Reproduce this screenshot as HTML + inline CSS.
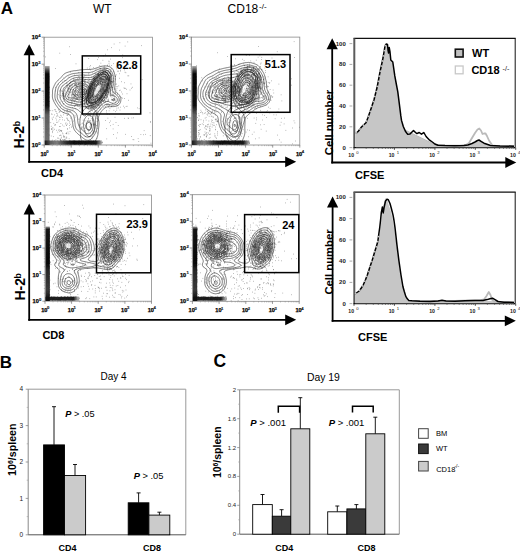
<!DOCTYPE html>
<html><head><meta charset="utf-8"><title>Figure</title>
<style>html,body{margin:0;padding:0;background:#fff;width:520px;height:552px;overflow:hidden}svg{display:block;font-family:"Liberation Sans",sans-serif}</style>
</head><body>
<svg width="520" height="552" viewBox="0 0 520 552" font-family="Liberation Sans">
<rect x="0" y="0" width="520" height="552" fill="#fff"/>
<text x="0.8" y="13.7" font-size="17" font-weight="bold">A</text>
<text x="93" y="12.6" font-size="12">WT</text>
<text x="227.6" y="13.4" font-size="12">CD18</text>
<text x="259" y="9.3" font-size="8">-/-</text>
<clipPath id="cp1"><rect x="44.2" y="37.2" width="108.2" height="107.8"/></clipPath>
<clipPath id="cp2"><rect x="191.4" y="37.1" width="108.4" height="107.9"/></clipPath>
<clipPath id="cp3"><rect x="45" y="195" width="106.5" height="106.2"/></clipPath>
<clipPath id="cp4"><rect x="192.4" y="194.7" width="106.8" height="106.6"/></clipPath>
<defs><linearGradient id="vb1" x1="0" y1="0" x2="0" y2="1"><stop offset="0" stop-color="#aaa"/><stop offset="0.06" stop-color="#333"/><stop offset="0.1" stop-color="#000"/><stop offset="0.5" stop-color="#080808"/><stop offset="0.56" stop-color="#333"/><stop offset="0.62" stop-color="#5a5a5a"/><stop offset="0.95" stop-color="#666"/><stop offset="1" stop-color="#222"/></linearGradient><linearGradient id="hb1" x1="0" y1="0" x2="1" y2="0"><stop offset="0" stop-color="#111"/><stop offset="0.1" stop-color="#555"/><stop offset="0.22" stop-color="#777"/><stop offset="0.38" stop-color="#222"/><stop offset="0.5" stop-color="#000"/><stop offset="0.9" stop-color="#0a0a0a"/><stop offset="1" stop-color="#aaa"/></linearGradient><linearGradient id="vb2" x1="0" y1="0" x2="0" y2="1"><stop offset="0" stop-color="#999"/><stop offset="0.04" stop-color="#111"/><stop offset="0.5" stop-color="#000"/><stop offset="0.6" stop-color="#222"/><stop offset="0.85" stop-color="#333"/><stop offset="1" stop-color="#000"/></linearGradient><linearGradient id="hb2" x1="0" y1="0" x2="1" y2="0"><stop offset="0" stop-color="#111"/><stop offset="0.85" stop-color="#111"/><stop offset="1" stop-color="#bbb"/></linearGradient></defs>
<line x1="29.2" y1="52.2" x2="29.2" y2="162.7" stroke="#000" stroke-width="1.8"/>
<line x1="28.3" y1="161.8" x2="287.2" y2="161.8" stroke="#000" stroke-width="1.8"/>
<path d="M29.2 44.2 L23.6 55.2 L34.8 55.2" fill="#000" stroke="none"/>
<path d="M296.2 161.8 L285.2 156.4 L285.2 167.2" fill="#000" stroke="none"/>
<rect x="44.2" y="37.2" width="108.2" height="107.8" fill="none" stroke="#8a8a8a" stroke-width="0.8"/>
<line x1="41.6" y1="145" x2="44.2" y2="145" stroke="#555" stroke-width="0.6"/>
<line x1="44.2" y1="145" x2="44.2" y2="147.6" stroke="#555" stroke-width="0.6"/>
<line x1="43" y1="136.9" x2="44.2" y2="136.9" stroke="#777" stroke-width="0.4"/>
<line x1="52.3" y1="145" x2="52.3" y2="146.2" stroke="#777" stroke-width="0.4"/>
<line x1="43" y1="132.1" x2="44.2" y2="132.1" stroke="#777" stroke-width="0.4"/>
<line x1="57.1" y1="145" x2="57.1" y2="146.2" stroke="#777" stroke-width="0.4"/>
<line x1="43" y1="128.8" x2="44.2" y2="128.8" stroke="#777" stroke-width="0.4"/>
<line x1="60.5" y1="145" x2="60.5" y2="146.2" stroke="#777" stroke-width="0.4"/>
<line x1="43" y1="126.2" x2="44.2" y2="126.2" stroke="#777" stroke-width="0.4"/>
<line x1="63.1" y1="145" x2="63.1" y2="146.2" stroke="#777" stroke-width="0.4"/>
<line x1="43" y1="124" x2="44.2" y2="124" stroke="#777" stroke-width="0.4"/>
<line x1="65.2" y1="145" x2="65.2" y2="146.2" stroke="#777" stroke-width="0.4"/>
<line x1="43" y1="122.2" x2="44.2" y2="122.2" stroke="#777" stroke-width="0.4"/>
<line x1="67.1" y1="145" x2="67.1" y2="146.2" stroke="#777" stroke-width="0.4"/>
<line x1="43" y1="120.7" x2="44.2" y2="120.7" stroke="#777" stroke-width="0.4"/>
<line x1="68.6" y1="145" x2="68.6" y2="146.2" stroke="#777" stroke-width="0.4"/>
<line x1="43" y1="119.3" x2="44.2" y2="119.3" stroke="#777" stroke-width="0.4"/>
<line x1="70" y1="145" x2="70" y2="146.2" stroke="#777" stroke-width="0.4"/>
<line x1="41.6" y1="118" x2="44.2" y2="118" stroke="#555" stroke-width="0.6"/>
<line x1="71.2" y1="145" x2="71.2" y2="147.6" stroke="#555" stroke-width="0.6"/>
<line x1="43" y1="109.9" x2="44.2" y2="109.9" stroke="#777" stroke-width="0.4"/>
<line x1="79.4" y1="145" x2="79.4" y2="146.2" stroke="#777" stroke-width="0.4"/>
<line x1="43" y1="105.2" x2="44.2" y2="105.2" stroke="#777" stroke-width="0.4"/>
<line x1="84.2" y1="145" x2="84.2" y2="146.2" stroke="#777" stroke-width="0.4"/>
<line x1="43" y1="101.8" x2="44.2" y2="101.8" stroke="#777" stroke-width="0.4"/>
<line x1="87.5" y1="145" x2="87.5" y2="146.2" stroke="#777" stroke-width="0.4"/>
<line x1="43" y1="99.2" x2="44.2" y2="99.2" stroke="#777" stroke-width="0.4"/>
<line x1="90.2" y1="145" x2="90.2" y2="146.2" stroke="#777" stroke-width="0.4"/>
<line x1="43" y1="97.1" x2="44.2" y2="97.1" stroke="#777" stroke-width="0.4"/>
<line x1="92.3" y1="145" x2="92.3" y2="146.2" stroke="#777" stroke-width="0.4"/>
<line x1="43" y1="95.3" x2="44.2" y2="95.3" stroke="#777" stroke-width="0.4"/>
<line x1="94.1" y1="145" x2="94.1" y2="146.2" stroke="#777" stroke-width="0.4"/>
<line x1="43" y1="93.7" x2="44.2" y2="93.7" stroke="#777" stroke-width="0.4"/>
<line x1="95.7" y1="145" x2="95.7" y2="146.2" stroke="#777" stroke-width="0.4"/>
<line x1="43" y1="92.3" x2="44.2" y2="92.3" stroke="#777" stroke-width="0.4"/>
<line x1="97.1" y1="145" x2="97.1" y2="146.2" stroke="#777" stroke-width="0.4"/>
<line x1="41.6" y1="91.1" x2="44.2" y2="91.1" stroke="#555" stroke-width="0.6"/>
<line x1="98.3" y1="145" x2="98.3" y2="147.6" stroke="#555" stroke-width="0.6"/>
<line x1="43" y1="83" x2="44.2" y2="83" stroke="#777" stroke-width="0.4"/>
<line x1="106.4" y1="145" x2="106.4" y2="146.2" stroke="#777" stroke-width="0.4"/>
<line x1="43" y1="78.2" x2="44.2" y2="78.2" stroke="#777" stroke-width="0.4"/>
<line x1="111.2" y1="145" x2="111.2" y2="146.2" stroke="#777" stroke-width="0.4"/>
<line x1="43" y1="74.9" x2="44.2" y2="74.9" stroke="#777" stroke-width="0.4"/>
<line x1="114.6" y1="145" x2="114.6" y2="146.2" stroke="#777" stroke-width="0.4"/>
<line x1="43" y1="72.3" x2="44.2" y2="72.3" stroke="#777" stroke-width="0.4"/>
<line x1="117.2" y1="145" x2="117.2" y2="146.2" stroke="#777" stroke-width="0.4"/>
<line x1="43" y1="70.1" x2="44.2" y2="70.1" stroke="#777" stroke-width="0.4"/>
<line x1="119.3" y1="145" x2="119.3" y2="146.2" stroke="#777" stroke-width="0.4"/>
<line x1="43" y1="68.3" x2="44.2" y2="68.3" stroke="#777" stroke-width="0.4"/>
<line x1="121.2" y1="145" x2="121.2" y2="146.2" stroke="#777" stroke-width="0.4"/>
<line x1="43" y1="66.8" x2="44.2" y2="66.8" stroke="#777" stroke-width="0.4"/>
<line x1="122.7" y1="145" x2="122.7" y2="146.2" stroke="#777" stroke-width="0.4"/>
<line x1="43" y1="65.4" x2="44.2" y2="65.4" stroke="#777" stroke-width="0.4"/>
<line x1="124.1" y1="145" x2="124.1" y2="146.2" stroke="#777" stroke-width="0.4"/>
<line x1="41.6" y1="64.2" x2="44.2" y2="64.2" stroke="#555" stroke-width="0.6"/>
<line x1="125.4" y1="145" x2="125.4" y2="147.6" stroke="#555" stroke-width="0.6"/>
<line x1="43" y1="56" x2="44.2" y2="56" stroke="#777" stroke-width="0.4"/>
<line x1="133.5" y1="145" x2="133.5" y2="146.2" stroke="#777" stroke-width="0.4"/>
<line x1="43" y1="51.3" x2="44.2" y2="51.3" stroke="#777" stroke-width="0.4"/>
<line x1="138.3" y1="145" x2="138.3" y2="146.2" stroke="#777" stroke-width="0.4"/>
<line x1="43" y1="47.9" x2="44.2" y2="47.9" stroke="#777" stroke-width="0.4"/>
<line x1="141.6" y1="145" x2="141.6" y2="146.2" stroke="#777" stroke-width="0.4"/>
<line x1="43" y1="45.3" x2="44.2" y2="45.3" stroke="#777" stroke-width="0.4"/>
<line x1="144.3" y1="145" x2="144.3" y2="146.2" stroke="#777" stroke-width="0.4"/>
<line x1="43" y1="43.2" x2="44.2" y2="43.2" stroke="#777" stroke-width="0.4"/>
<line x1="146.4" y1="145" x2="146.4" y2="146.2" stroke="#777" stroke-width="0.4"/>
<line x1="43" y1="41.4" x2="44.2" y2="41.4" stroke="#777" stroke-width="0.4"/>
<line x1="148.2" y1="145" x2="148.2" y2="146.2" stroke="#777" stroke-width="0.4"/>
<line x1="43" y1="39.8" x2="44.2" y2="39.8" stroke="#777" stroke-width="0.4"/>
<line x1="149.8" y1="145" x2="149.8" y2="146.2" stroke="#777" stroke-width="0.4"/>
<line x1="43" y1="38.4" x2="44.2" y2="38.4" stroke="#777" stroke-width="0.4"/>
<line x1="151.2" y1="145" x2="151.2" y2="146.2" stroke="#777" stroke-width="0.4"/>
<line x1="41.6" y1="37.2" x2="44.2" y2="37.2" stroke="#555" stroke-width="0.6"/>
<line x1="152.4" y1="145" x2="152.4" y2="147.6" stroke="#555" stroke-width="0.6"/>
<text x="38" y="147.1" font-size="5.6" font-weight="bold" text-anchor="end" fill="#000" stroke="#000" stroke-width="0.25">10</text>
<text x="38.2" y="144.6" font-size="4.2" font-weight="bold" fill="#222" stroke="#222" stroke-width="0.15">0</text>
<text x="40.4" y="155.8" font-size="5.6" font-weight="bold" fill="#000" stroke="#000" stroke-width="0.25">10</text>
<text x="46.2" y="153.2" font-size="4.2" font-weight="bold" fill="#222" stroke="#222" stroke-width="0.15">0</text>
<text x="38" y="120.1" font-size="5.6" font-weight="bold" text-anchor="end" fill="#000" stroke="#000" stroke-width="0.25">10</text>
<text x="38.2" y="117.6" font-size="4.2" font-weight="bold" fill="#222" stroke="#222" stroke-width="0.15">1</text>
<text x="67.5" y="155.8" font-size="5.6" font-weight="bold" fill="#000" stroke="#000" stroke-width="0.25">10</text>
<text x="73.2" y="153.2" font-size="4.2" font-weight="bold" fill="#222" stroke="#222" stroke-width="0.15">1</text>
<text x="38" y="93.2" font-size="5.6" font-weight="bold" text-anchor="end" fill="#000" stroke="#000" stroke-width="0.25">10</text>
<text x="38.2" y="90.7" font-size="4.2" font-weight="bold" fill="#222" stroke="#222" stroke-width="0.15">2</text>
<text x="94.5" y="155.8" font-size="5.6" font-weight="bold" fill="#000" stroke="#000" stroke-width="0.25">10</text>
<text x="100.3" y="153.2" font-size="4.2" font-weight="bold" fill="#222" stroke="#222" stroke-width="0.15">2</text>
<text x="38" y="66.2" font-size="5.6" font-weight="bold" text-anchor="end" fill="#000" stroke="#000" stroke-width="0.25">10</text>
<text x="38.2" y="63.8" font-size="4.2" font-weight="bold" fill="#222" stroke="#222" stroke-width="0.15">3</text>
<text x="121.6" y="155.8" font-size="5.6" font-weight="bold" fill="#000" stroke="#000" stroke-width="0.25">10</text>
<text x="127.4" y="153.2" font-size="4.2" font-weight="bold" fill="#222" stroke="#222" stroke-width="0.15">3</text>
<text x="38" y="39.3" font-size="5.6" font-weight="bold" text-anchor="end" fill="#000" stroke="#000" stroke-width="0.25">10</text>
<text x="38.2" y="36.8" font-size="4.2" font-weight="bold" fill="#222" stroke="#222" stroke-width="0.15">4</text>
<text x="148.6" y="155.8" font-size="5.6" font-weight="bold" fill="#000" stroke="#000" stroke-width="0.25">10</text>
<text x="154.4" y="153.2" font-size="4.2" font-weight="bold" fill="#222" stroke="#222" stroke-width="0.15">4</text>
<rect x="191.4" y="37.1" width="108.4" height="107.9" fill="none" stroke="#8a8a8a" stroke-width="0.8"/>
<line x1="188.8" y1="145" x2="191.4" y2="145" stroke="#555" stroke-width="0.6"/>
<line x1="191.4" y1="145" x2="191.4" y2="147.6" stroke="#555" stroke-width="0.6"/>
<line x1="190.2" y1="136.9" x2="191.4" y2="136.9" stroke="#777" stroke-width="0.4"/>
<line x1="199.6" y1="145" x2="199.6" y2="146.2" stroke="#777" stroke-width="0.4"/>
<line x1="190.2" y1="132.1" x2="191.4" y2="132.1" stroke="#777" stroke-width="0.4"/>
<line x1="204.3" y1="145" x2="204.3" y2="146.2" stroke="#777" stroke-width="0.4"/>
<line x1="190.2" y1="128.8" x2="191.4" y2="128.8" stroke="#777" stroke-width="0.4"/>
<line x1="207.7" y1="145" x2="207.7" y2="146.2" stroke="#777" stroke-width="0.4"/>
<line x1="190.2" y1="126.1" x2="191.4" y2="126.1" stroke="#777" stroke-width="0.4"/>
<line x1="210.3" y1="145" x2="210.3" y2="146.2" stroke="#777" stroke-width="0.4"/>
<line x1="190.2" y1="124" x2="191.4" y2="124" stroke="#777" stroke-width="0.4"/>
<line x1="212.5" y1="145" x2="212.5" y2="146.2" stroke="#777" stroke-width="0.4"/>
<line x1="190.2" y1="122.2" x2="191.4" y2="122.2" stroke="#777" stroke-width="0.4"/>
<line x1="214.3" y1="145" x2="214.3" y2="146.2" stroke="#777" stroke-width="0.4"/>
<line x1="190.2" y1="120.6" x2="191.4" y2="120.6" stroke="#777" stroke-width="0.4"/>
<line x1="215.9" y1="145" x2="215.9" y2="146.2" stroke="#777" stroke-width="0.4"/>
<line x1="190.2" y1="119.3" x2="191.4" y2="119.3" stroke="#777" stroke-width="0.4"/>
<line x1="217.3" y1="145" x2="217.3" y2="146.2" stroke="#777" stroke-width="0.4"/>
<line x1="188.8" y1="118" x2="191.4" y2="118" stroke="#555" stroke-width="0.6"/>
<line x1="218.5" y1="145" x2="218.5" y2="147.6" stroke="#555" stroke-width="0.6"/>
<line x1="190.2" y1="109.9" x2="191.4" y2="109.9" stroke="#777" stroke-width="0.4"/>
<line x1="226.7" y1="145" x2="226.7" y2="146.2" stroke="#777" stroke-width="0.4"/>
<line x1="190.2" y1="105.2" x2="191.4" y2="105.2" stroke="#777" stroke-width="0.4"/>
<line x1="231.4" y1="145" x2="231.4" y2="146.2" stroke="#777" stroke-width="0.4"/>
<line x1="190.2" y1="101.8" x2="191.4" y2="101.8" stroke="#777" stroke-width="0.4"/>
<line x1="234.8" y1="145" x2="234.8" y2="146.2" stroke="#777" stroke-width="0.4"/>
<line x1="190.2" y1="99.2" x2="191.4" y2="99.2" stroke="#777" stroke-width="0.4"/>
<line x1="237.4" y1="145" x2="237.4" y2="146.2" stroke="#777" stroke-width="0.4"/>
<line x1="190.2" y1="97" x2="191.4" y2="97" stroke="#777" stroke-width="0.4"/>
<line x1="239.6" y1="145" x2="239.6" y2="146.2" stroke="#777" stroke-width="0.4"/>
<line x1="190.2" y1="95.2" x2="191.4" y2="95.2" stroke="#777" stroke-width="0.4"/>
<line x1="241.4" y1="145" x2="241.4" y2="146.2" stroke="#777" stroke-width="0.4"/>
<line x1="190.2" y1="93.7" x2="191.4" y2="93.7" stroke="#777" stroke-width="0.4"/>
<line x1="243" y1="145" x2="243" y2="146.2" stroke="#777" stroke-width="0.4"/>
<line x1="190.2" y1="92.3" x2="191.4" y2="92.3" stroke="#777" stroke-width="0.4"/>
<line x1="244.4" y1="145" x2="244.4" y2="146.2" stroke="#777" stroke-width="0.4"/>
<line x1="188.8" y1="91" x2="191.4" y2="91" stroke="#555" stroke-width="0.6"/>
<line x1="245.6" y1="145" x2="245.6" y2="147.6" stroke="#555" stroke-width="0.6"/>
<line x1="190.2" y1="82.9" x2="191.4" y2="82.9" stroke="#777" stroke-width="0.4"/>
<line x1="253.8" y1="145" x2="253.8" y2="146.2" stroke="#777" stroke-width="0.4"/>
<line x1="190.2" y1="78.2" x2="191.4" y2="78.2" stroke="#777" stroke-width="0.4"/>
<line x1="258.5" y1="145" x2="258.5" y2="146.2" stroke="#777" stroke-width="0.4"/>
<line x1="190.2" y1="74.8" x2="191.4" y2="74.8" stroke="#777" stroke-width="0.4"/>
<line x1="261.9" y1="145" x2="261.9" y2="146.2" stroke="#777" stroke-width="0.4"/>
<line x1="190.2" y1="72.2" x2="191.4" y2="72.2" stroke="#777" stroke-width="0.4"/>
<line x1="264.5" y1="145" x2="264.5" y2="146.2" stroke="#777" stroke-width="0.4"/>
<line x1="190.2" y1="70.1" x2="191.4" y2="70.1" stroke="#777" stroke-width="0.4"/>
<line x1="266.7" y1="145" x2="266.7" y2="146.2" stroke="#777" stroke-width="0.4"/>
<line x1="190.2" y1="68.3" x2="191.4" y2="68.3" stroke="#777" stroke-width="0.4"/>
<line x1="268.5" y1="145" x2="268.5" y2="146.2" stroke="#777" stroke-width="0.4"/>
<line x1="190.2" y1="66.7" x2="191.4" y2="66.7" stroke="#777" stroke-width="0.4"/>
<line x1="270.1" y1="145" x2="270.1" y2="146.2" stroke="#777" stroke-width="0.4"/>
<line x1="190.2" y1="65.3" x2="191.4" y2="65.3" stroke="#777" stroke-width="0.4"/>
<line x1="271.5" y1="145" x2="271.5" y2="146.2" stroke="#777" stroke-width="0.4"/>
<line x1="188.8" y1="64.1" x2="191.4" y2="64.1" stroke="#555" stroke-width="0.6"/>
<line x1="272.7" y1="145" x2="272.7" y2="147.6" stroke="#555" stroke-width="0.6"/>
<line x1="190.2" y1="56" x2="191.4" y2="56" stroke="#777" stroke-width="0.4"/>
<line x1="280.9" y1="145" x2="280.9" y2="146.2" stroke="#777" stroke-width="0.4"/>
<line x1="190.2" y1="51.2" x2="191.4" y2="51.2" stroke="#777" stroke-width="0.4"/>
<line x1="285.6" y1="145" x2="285.6" y2="146.2" stroke="#777" stroke-width="0.4"/>
<line x1="190.2" y1="47.8" x2="191.4" y2="47.8" stroke="#777" stroke-width="0.4"/>
<line x1="289" y1="145" x2="289" y2="146.2" stroke="#777" stroke-width="0.4"/>
<line x1="190.2" y1="45.2" x2="191.4" y2="45.2" stroke="#777" stroke-width="0.4"/>
<line x1="291.6" y1="145" x2="291.6" y2="146.2" stroke="#777" stroke-width="0.4"/>
<line x1="190.2" y1="43.1" x2="191.4" y2="43.1" stroke="#777" stroke-width="0.4"/>
<line x1="293.8" y1="145" x2="293.8" y2="146.2" stroke="#777" stroke-width="0.4"/>
<line x1="190.2" y1="41.3" x2="191.4" y2="41.3" stroke="#777" stroke-width="0.4"/>
<line x1="295.6" y1="145" x2="295.6" y2="146.2" stroke="#777" stroke-width="0.4"/>
<line x1="190.2" y1="39.7" x2="191.4" y2="39.7" stroke="#777" stroke-width="0.4"/>
<line x1="297.2" y1="145" x2="297.2" y2="146.2" stroke="#777" stroke-width="0.4"/>
<line x1="190.2" y1="38.3" x2="191.4" y2="38.3" stroke="#777" stroke-width="0.4"/>
<line x1="298.6" y1="145" x2="298.6" y2="146.2" stroke="#777" stroke-width="0.4"/>
<line x1="188.8" y1="37.1" x2="191.4" y2="37.1" stroke="#555" stroke-width="0.6"/>
<line x1="299.8" y1="145" x2="299.8" y2="147.6" stroke="#555" stroke-width="0.6"/>
<text x="185.2" y="147.1" font-size="5.6" font-weight="bold" text-anchor="end" fill="#000" stroke="#000" stroke-width="0.25">10</text>
<text x="185.4" y="144.6" font-size="4.2" font-weight="bold" fill="#222" stroke="#222" stroke-width="0.15">0</text>
<text x="187.6" y="155.8" font-size="5.6" font-weight="bold" fill="#000" stroke="#000" stroke-width="0.25">10</text>
<text x="193.4" y="153.2" font-size="4.2" font-weight="bold" fill="#222" stroke="#222" stroke-width="0.15">0</text>
<text x="185.2" y="120.1" font-size="5.6" font-weight="bold" text-anchor="end" fill="#000" stroke="#000" stroke-width="0.25">10</text>
<text x="185.4" y="117.6" font-size="4.2" font-weight="bold" fill="#222" stroke="#222" stroke-width="0.15">1</text>
<text x="214.7" y="155.8" font-size="5.6" font-weight="bold" fill="#000" stroke="#000" stroke-width="0.25">10</text>
<text x="220.5" y="153.2" font-size="4.2" font-weight="bold" fill="#222" stroke="#222" stroke-width="0.15">1</text>
<text x="185.2" y="93.1" font-size="5.6" font-weight="bold" text-anchor="end" fill="#000" stroke="#000" stroke-width="0.25">10</text>
<text x="185.4" y="90.6" font-size="4.2" font-weight="bold" fill="#222" stroke="#222" stroke-width="0.15">2</text>
<text x="241.8" y="155.8" font-size="5.6" font-weight="bold" fill="#000" stroke="#000" stroke-width="0.25">10</text>
<text x="247.6" y="153.2" font-size="4.2" font-weight="bold" fill="#222" stroke="#222" stroke-width="0.15">2</text>
<text x="185.2" y="66.2" font-size="5.6" font-weight="bold" text-anchor="end" fill="#000" stroke="#000" stroke-width="0.25">10</text>
<text x="185.4" y="63.7" font-size="4.2" font-weight="bold" fill="#222" stroke="#222" stroke-width="0.15">3</text>
<text x="268.9" y="155.8" font-size="5.6" font-weight="bold" fill="#000" stroke="#000" stroke-width="0.25">10</text>
<text x="274.7" y="153.2" font-size="4.2" font-weight="bold" fill="#222" stroke="#222" stroke-width="0.15">3</text>
<text x="185.2" y="39.2" font-size="5.6" font-weight="bold" text-anchor="end" fill="#000" stroke="#000" stroke-width="0.25">10</text>
<text x="185.4" y="36.7" font-size="4.2" font-weight="bold" fill="#222" stroke="#222" stroke-width="0.15">4</text>
<text x="296" y="155.8" font-size="5.6" font-weight="bold" fill="#000" stroke="#000" stroke-width="0.25">10</text>
<text x="301.8" y="153.2" font-size="4.2" font-weight="bold" fill="#222" stroke="#222" stroke-width="0.15">4</text>
<g clip-path="url(#cp1)">
<path d="M89 99.7h0.6M71 92h0.6M69.9 85.9h0.6M92.8 93.9h0.6M86.3 98.9h0.6M91.2 87.6h0.6M89.9 95.8h0.6M89.8 100.5h0.6M92.5 88.6h0.6M73.8 87.1h0.6M74.3 97h0.6M61.4 90.9h0.6M74.5 84.6h0.6M77.6 104.4h0.6M88.2 99.9h0.6M82 85.2h0.6M76.3 86.5h0.6M68.5 91.3h0.6M84.9 82.9h0.6M66.9 88.6h0.6M85.4 91.5h0.6M82.4 98.6h0.6M70 89.1h0.6M62.1 93.5h0.6M79.6 92.4h0.6M69.2 86.2h0.6M80.8 99h0.6M84.2 82h0.6M85.9 86.6h0.6M88.7 99.5h0.6M62.5 95h0.6M77.9 102.1h0.6M91.2 97.3h0.6M90 85.7h0.6M73 94.7h0.6M88 100.8h0.6M75.3 84.7h0.6M82.2 97.8h0.6M88.8 86.9h0.6M82 100h0.6M94 94.4h0.6M83.3 100.4h0.6M75.1 97.8h0.6M62.9 94.8h0.6M92.8 85h0.6M74.6 79.2h0.6M72.7 101.5h0.6M90.5 92.9h0.6M84.9 98.3h0.6M89.8 91.8h0.6M65.3 95.1h0.6M75.8 83.2h0.6M84.2 93.2h0.6M90.6 93.9h0.6M82.7 88.8h0.6M70 87h0.6M77.9 96.4h0.6M77.8 96.1h0.6M89.8 97h0.6M85 99.7h0.6M83.6 92.5h0.6M87.6 82.1h0.6M59.9 95.5h0.6M83.1 94.6h0.6M78.7 76.5h0.6M82.7 98.1h0.6M88.2 94.7h0.6M71.7 87.2h0.6M83.7 89.7h0.6M96.5 94.3h0.6M84.5 81.9h0.6M82.8 97.9h0.6M88.2 96.4h0.6M84.3 92.4h0.6M77.5 99.5h0.6M77.8 79.8h0.6M76.6 92.1h0.6M85.5 86.1h0.6M82.4 101.3h0.6M73.8 103.7h0.6M79.1 105.8h0.6M88.9 91h0.6M87.2 89.7h0.6M73 100.9h0.6M71.3 95h0.6M76.2 99.2h0.6M79.7 79.1h0.6M97.9 95.8h0.6M91.1 96.1h0.6M71.6 96.7h0.6M80.4 103.1h0.6M81.5 90.2h0.6M79.4 83.1h0.6M73.9 90.5h0.6M68.6 77.1h0.6M75 81.2h0.6M82.3 82.7h0.6M89.1 88.3h0.6M80 92h0.6M70.1 83.8h0.6M91.3 103.7h0.6M72.7 94.2h0.6M83.2 80.8h0.6M91.2 84.9h0.6M80.2 88.6h0.6M94.7 94.7h0.6M69.2 102.7h0.6M86.2 100.4h0.6M90.7 91.9h0.6M88.9 101.3h0.6M80.2 95.5h0.6M72.9 99.3h0.6M94.5 96.8h0.6M83.8 88.7h0.6M69.9 82.5h0.6M84.9 98.3h0.6M78.2 92h0.6M89.3 96.1h0.6M74.8 88.5h0.6M81.4 102.1h0.6M85.7 93.1h0.6M91.7 100.5h0.6M72.7 89.8h0.6M71.8 84.2h0.6M76.2 98.1h0.6M74.1 85.9h0.6M70.3 102.6h0.6M88.1 99.2h0.6M76.3 99h0.6M75.7 94.7h0.6M93.7 85.1h0.6M90.6 99.7h0.6M88.2 96h0.6M68.8 88.3h0.6M86.3 90.8h0.6M85.5 89.1h0.6M77.7 86.3h0.6M91.5 96.2h0.6M84.3 82.6h0.6M76.9 86.2h0.6M88.8 101.2h0.6M65.9 94.6h0.6M91.2 94.9h0.6M85 79.9h0.6M78.1 84.2h0.6M83.5 83.9h0.6M80.9 81.3h0.6M78.8 100.8h0.6M83.6 80.5h0.6M80 96.5h0.6M91.2 102.8h0.6M74.2 95.9h0.6M69.7 92.1h0.6M78.9 95.9h0.6M69.3 85.1h0.6M66.7 83.8h0.6M81 104.8h0.6M69.5 83.6h0.6M77.4 94.7h0.6M79.3 85.8h0.6M77.7 99.1h0.6M82.1 86.6h0.6M66.3 98.6h0.6M68.8 88.8h0.6M75 84.1h0.6M66.9 90.8h0.6M79.7 97.6h0.6M86.9 91.3h0.6M85.9 95.3h0.6M74 101.6h0.6M68.1 88.9h0.6M93.3 94h0.6M88.9 102.7h0.6M81.5 88.1h0.6M81.8 85.2h0.6M72.4 84.8h0.6M84.1 89.6h0.6M80.3 84.9h0.6M75.3 104.1h0.6M70.3 81.8h0.6M71.6 102.9h0.6M80 82.8h0.6M72.5 97.5h0.6M89 102.6h0.6M86.7 86.6h0.6M75.4 82.5h0.6M79.4 78.2h0.6M71.3 89.2h0.6M81.7 85.3h0.6M69.6 94.9h0.6M67.5 87.5h0.6M92.1 96.1h0.6M69 88.8h0.6M85.3 81.9h0.6M78.9 88.9h0.6M82.4 86.4h0.6M68.3 92.2h0.6M85.1 88.2h0.6M84 94.6h0.6M84 88.7h0.6M75.2 96.1h0.6M88.6 96.5h0.6M75.2 88.4h0.6M68.4 94.8h0.6M63.4 98.6h0.6M86.2 85.2h0.6M90.8 102.3h0.6M70.9 85.3h0.6M74.8 94.6h0.6M70.3 90.6h0.6M73.3 92h0.6M89.6 100.8h0.6M74.1 91.6h0.6M90.9 81.5h0.6M86.4 101.8h0.6M82.1 92.1h0.6M93.2 96.9h0.6M62.7 95.6h0.6M87.4 91h0.6M94.7 95.4h0.6M83.1 91.9h0.6M68.2 89.8h0.6M82.7 94.1h0.6M68.6 97.3h0.6M80.8 94.5h0.6M80.1 92.5h0.6M67.7 89.3h0.6M75 108.7h0.6M79.7 98.9h0.6M89.8 83.1h0.6M81.2 82.7h0.6M71.2 95.1h0.6M68.6 98.3h0.6M78.6 77.1h0.6M85.5 91.2h0.6M91.8 97.3h0.6M86.8 100.6h0.6M76.9 94.9h0.6M61.9 91.3h0.6M97.6 98.9h0.6M86.4 93.8h0.6M83.6 107h0.6M71.5 98h0.6M79.3 83.6h0.6M66.4 82.8h0.6M91.8 93.8h0.6M91.9 94.8h0.6M63.1 96.3h0.6M91.8 82.3h0.6M92.9 85.8h0.6M76.8 95h0.6M83.1 89.8h0.6M94.4 86.4h0.6M74.2 95.1h0.6M79.7 82.5h0.6M75.8 95.8h0.6M85.8 98.9h0.6M75.2 90h0.6M95.6 99.7h0.6M76.6 87.4h0.6M83.8 84h0.6M88.8 87.8h0.6M64.6 96.3h0.6M83.5 94.6h0.6M88.9 86.9h0.6M86.9 86h0.6M93.1 89.8h0.6M69.1 86h0.6M75.9 85.5h0.6M71.6 99h0.6M83.8 99h0.6M76.6 102.3h0.6M78.1 83.5h0.6M76.3 97.9h0.6M76.1 83.7h0.6M67.4 91.9h0.6M60.1 97.4h0.6M88.7 90.5h0.6M86.2 100.7h0.6M62.6 93.1h0.6M81 93.3h0.6M83.1 91h0.6M74.2 92.3h0.6M74.8 99.5h0.6M90.7 107.5h0.6M69.4 86.2h0.6M66.9 99.9h0.6M87 97.9h0.6M80.2 92h0.6M79.4 92.4h0.6M66.6 85.7h0.6M68.3 90.9h0.6M84.3 89.5h0.6M93.5 85.1h0.6M83.9 90.7h0.6M84.9 79.5h0.6M62.8 94h0.6M72.5 91.1h0.6M75.1 95h0.6M68.1 99.1h0.6M86 93.3h0.6M84.5 80.5h0.6M80.1 96.7h0.6M94.3 94.2h0.6M68.8 94h0.6M78.2 84.7h0.6M73.5 94.3h0.6M72.1 99.4h0.6M78.5 90.2h0.6M85.1 98.8h0.6M89.2 92.5h0.6M68.3 85.7h0.6M74.6 91.1h0.6M92.3 80.7h0.6M71.7 96h0.6M81.3 87.2h0.6M97 93.6h0.6M98 94.6h0.6M71.7 87.2h0.6M81.1 97.7h0.6M90.1 95.7h0.6M85.5 96.7h0.6M73.2 97.6h0.6M70.7 104.5h0.6M68.3 87.9h0.6M88.9 85.8h0.6M71.7 99.7h0.6M84.3 100h0.6M67 86.3h0.6M94.9 92.2h0.6M73 97.1h0.6M75.3 100.6h0.6M63.6 103.5h0.6M92.2 95.3h0.6M70.4 89.2h0.6M65.8 80.5h0.6M80 83h0.6M86 90.7h0.6M71.5 101h0.6M76.1 87.2h0.6M71.8 94.6h0.6M82.7 101.9h0.6M88 86.5h0.6M79.8 85.8h0.6M88 89.5h0.6M83.6 85.8h0.6M94 85.5h0.6M85.4 96.6h0.6M88.4 92.7h0.6M86.3 107.5h0.6M72.7 95.7h0.6M73.3 78.7h0.6M64.5 97.2h0.6M69.7 91.3h0.6M80.3 88.1h0.6M91.7 96.6h0.6M73.9 81.7h0.6M94.5 95.8h0.6M80.1 101.3h0.6M77.2 78.9h0.6M73 79.2h0.6M74.7 94.9h0.6M75.2 105.6h0.6M85.5 83.5h0.6M78.7 98.9h0.6M89.4 93.5h0.6M80.3 107.8h0.6M95.2 93.7h0.6M81.2 89.6h0.6M88.2 98.5h0.6M90.2 90.6h0.6M82.4 100.1h0.6M77 98.7h0.6M76.1 90.1h0.6M74.7 103.3h0.6M75 95.9h0.6M87.4 96.7h0.6M73.6 96.4h0.6M87.7 93h0.6M82.3 103.5h0.6M92.7 91.9h0.6M74.1 100.4h0.6M80.3 102.6h0.6M87.7 98.8h0.6M72.4 87.3h0.6M74.1 94h0.6M80.4 93.1h0.6M85.5 97.6h0.6M74.5 97.1h0.6M74.9 93.3h0.6M72.7 109.7h0.6M62.4 82.1h0.6M80.9 101.3h0.6M70 99.5h0.6M58.2 84.3h0.6M70.8 93.2h0.6M58.2 94.7h0.6M64 99.7h0.6M72.2 107.5h0.6M64.7 93.5h0.6M80.6 85.4h0.6M60.3 102.2h0.6M74.2 84.1h0.6M76.5 104h0.6M83.7 100.9h0.6M79.4 91h0.6M73.9 95h0.6M72.7 89.5h0.6M71.6 100.9h0.6M81.2 103.3h0.6M66.8 109.9h0.6M76.2 104.6h0.6M71.3 103.6h0.6M74 106.4h0.6M70 92.5h0.6M89.2 100.3h0.6M66.8 110.9h0.6M74.1 75.1h0.6M74.3 101.7h0.6M77 105h0.6M75.7 85.1h0.6M75.5 85.7h0.6M79.9 104.2h0.6M60.1 106.8h0.6M72.2 103h0.6M62.2 86h0.6M74 97.5h0.6M62.6 101.5h0.6M64.4 95.2h0.6M71.6 85.4h0.6M83.3 106.1h0.6M76.7 98.1h0.6M74.5 106.1h0.6M83.3 77.6h0.6M64.5 80.5h0.6M55.4 87.4h0.6M68.7 96.1h0.6M69.9 89.7h0.6M82 111.8h0.6M89.2 92.8h0.6M61.5 105.7h0.6M91.9 105.6h0.6M84.6 100.6h0.6M78.8 97.8h0.6M75.1 90.4h0.6M91.5 89.4h0.6M72.8 92.9h0.6M68.3 102.6h0.6M73.2 89.6h0.6M61.2 96h0.6M75.9 85.6h0.6M71.2 102.3h0.6M74.8 117.1h0.6M75 98.8h0.6M63.6 77.8h0.6M82.6 91.2h0.6M64 96.6h0.6M79.2 87.9h0.6M59.4 91h0.6M75.1 91.3h0.6M65.6 99.1h0.6M72.5 94.4h0.6M66.9 93.4h0.6M54.7 100.1h0.6M63.2 103.9h0.6M72.7 93.9h0.6M77.1 87.3h0.6M60.4 89.8h0.6M55.1 91h0.6M65.1 91h0.6M107.9 92.7h0.6M101 96.7h0.6M97.2 97.8h0.6M105.1 72h0.6M103.2 68.8h0.6M104.9 73.8h0.6M98.8 101h0.6M85.6 75.6h0.6M107.7 92.3h0.6M77.2 98.4h0.6M107.2 72.5h0.6M96.6 81.3h0.6M94.9 90.7h0.6M102.6 60.3h0.6M96.6 69h0.6M106.3 72.5h0.6M100.6 63.2h0.6M131.4 88.3h0.6M88.5 101.5h0.6M92.8 87.9h0.6M104.3 68.7h0.6M85.9 91.1h0.6M78.5 72.5h0.6M102.5 78.8h0.6M115.9 67h0.6M97.2 59.6h0.6M108.8 73.1h0.6M88.9 82.1h0.6M108.6 72.7h0.6M109.5 80.2h0.6M105.5 90.6h0.6M116.5 68.8h0.6M98.9 75.1h0.6M104.9 101h0.6M107.2 65.6h0.6M103.5 91.2h0.6M113.3 81h0.6M87.6 105.7h0.6M89.4 79.4h0.6M100.9 102.3h0.6M83.8 93.8h0.6M79 108.2h0.6M107.4 49.8h0.6M109.1 92.3h0.6M102.2 81.6h0.6M88.5 58.5h0.6M108.2 91.3h0.6M126 89.3h0.6M109.3 114.3h0.6M97.9 80.1h0.6M99.6 92.1h0.6M110.7 81.4h0.6M112 87.9h0.6M91.9 105.6h0.6M77.4 106.3h0.6M101.7 104.1h0.6M113.5 78.6h0.6M92.2 72.9h0.6M101.4 78.2h0.6M89.4 115.7h0.6M81.7 123.8h0.6M102.4 97.4h0.6M107.2 94.7h0.6M102.7 97.2h0.6M103.5 80.2h0.6M87.5 81.3h0.6M99 105.8h0.6M108.9 105.5h0.6M122.2 94h0.6M102.1 84.7h0.6M101 86.7h0.6M133 61.3h0.6M113.9 97h0.6M106.1 85.9h0.6M101.3 103.6h0.6M91.8 87h0.6M111.5 81.5h0.6M98.1 73.6h0.6M99.3 87.4h0.6M103.7 79.7h0.6M97.7 82.7h0.6M67.2 101.6h0.6M69.2 127.9h0.6M122.5 55h0.6M107.5 73.9h0.6M97.6 84.7h0.6M93 112.7h0.6M99 107.5h0.6M120.3 71.1h0.6M73.1 121.1h0.6M99.6 90.6h0.6M105.1 71.9h0.6M94.4 79.4h0.6M93 67.5h0.6M99.9 87.3h0.6M111.3 47.6h0.6M115 111.6h0.6M90.6 104.6h0.6M101.7 80.9h0.6M108.7 63.7h0.6M119.6 96.4h0.6M100.6 66.2h0.6M96.3 92.6h0.6M85.5 98.7h0.6M111.1 65.5h0.6M113.3 63.6h0.6M124 69.9h0.6M84.8 84.8h0.6M93 102.1h0.6M108.8 110.8h0.6M95.2 86.5h0.6M104.5 76.8h0.6M97 74.1h0.6M65.6 92.7h0.6M102.3 82.6h0.6M113.4 91.7h0.6M98 82.2h0.6M83.7 76.7h0.6M102.9 90.1h0.6M107.1 77.9h0.6M112.5 89.3h0.6M112.4 87.4h0.6M94 94.3h0.6M108.7 82.4h0.6M83.4 78.3h0.6M96.8 121.5h0.6M107.3 80h0.6M110.4 95.3h0.6M119.1 78.3h0.6M97.8 86.7h0.6M99.7 86.5h0.6M94.9 78.4h0.6M81.7 75.4h0.6M97.2 91.5h0.6M89.9 112h0.6M105.1 54.3h0.6M96.9 111.9h0.6M100.2 91.2h0.6M111.1 79h0.6M97.2 76.6h0.6M89 68.8h0.6M115.2 79.1h0.6M117.3 71.2h0.6M103 81.1h0.6M119.6 42.7h0.6M91.5 98.8h0.6M102.2 82h0.6M94.2 88.4h0.6M78.2 83.2h0.6M111.6 85.9h0.6M98.3 57.6h0.6M93.3 94.2h0.6M93.5 94.4h0.6M109.8 77h0.6M90.3 69.9h0.6M128.3 64.5h0.6M115.9 74.8h0.6M111.1 86.7h0.6M111.7 97.1h0.6M95.7 78.8h0.6M70.1 72.2h0.6M94.9 106.9h0.6M114.7 92.6h0.6M111.9 94.4h0.6M95 86.5h0.6M97.8 91.5h0.6M117.4 63.6h0.6M89.6 66.8h0.6M102.5 69.3h0.6M91.2 91.3h0.6M109.6 108.6h0.6M93.5 86.6h0.6M119 90.6h0.6M99.5 90.9h0.6M84.3 80h0.6M130.7 83.9h0.6M94.8 76.7h0.6M100.6 103.1h0.6M115.4 100.9h0.6M91.9 92.5h0.6M91.4 77.1h0.6M103.3 107.9h0.6M101.3 88.9h0.6M95.3 69.9h0.6M91.7 80h0.6M91.4 96.9h0.6M106.7 99.7h0.6M100.1 82.8h0.6M112 82.6h0.6M124.3 82.7h0.6M113.2 94.6h0.6M106.1 112h0.6M124.7 72.2h0.6M88.6 73.5h0.6M116.9 86.6h0.6M107.5 83.4h0.6M93 100h0.6M89.1 84.9h0.6M88.5 74.2h0.6M99 65.7h0.6M102.2 85h0.6M67.2 124h0.6M92.3 85.2h0.6M98.7 77.8h0.6M118.2 71.2h0.6M104.5 74.4h0.6M119.3 50.1h0.6M125.6 72.7h0.6M109 65.3h0.6M114.9 75.8h0.6M81.3 100.1h0.6M111.6 75.7h0.6M107.7 78.1h0.6M99.8 94.3h0.6M101.9 75.3h0.6M95.1 74.8h0.6M95.6 91h0.6M96.5 85.3h0.6M110.1 95.1h0.6M112.5 87.4h0.6M87.1 85.8h0.6M112.2 81.5h0.6M82.9 110.6h0.6M104.3 92.4h0.6M84.7 107.3h0.6M84.1 85.2h0.6M115.8 83.9h0.6M106.6 88h0.6M89.3 81.2h0.6M84.1 75.3h0.6M108.6 61.1h0.6M82.2 95.5h0.6M105.1 71.6h0.6M96.7 110.6h0.6M112.8 100.2h0.6M99.8 81.8h0.6M109 105.1h0.6M114.8 89.1h0.6M103.3 73.5h0.6M76.8 94.3h0.6M109.7 91.5h0.6M105.1 94.5h0.6M110.3 125.6h0.6M114.5 96h0.6M103.6 101.3h0.6M128.5 75.8h0.6M85.3 93h0.6M116.7 63h0.6M95.4 92.1h0.6M133.5 67.6h0.6M111.6 81.3h0.6M75.7 63.8h0.6M121.4 81.7h0.6M100 68.6h0.6M120.2 70.2h0.6M110.4 59.1h0.6M101.9 92.2h0.6M98.9 107h0.6M83.9 124.8h0.6M89.9 86.6h0.6M98.1 108.1h0.6M95 97.4h0.6M98 76.9h0.6M105.8 73.9h0.6M99.5 80h0.6M96.6 81h0.6M99.5 78.5h0.6M97.6 92.3h0.6M88 89.5h0.6M89.2 98.1h0.6M103.8 76.7h0.6M92 84h0.6M103.6 75.2h0.6M104.7 67.2h0.6M107.7 84.8h0.6M109.6 79.6h0.6M101.5 95.2h0.6M100.7 75.2h0.6M89.5 94.8h0.6M99.4 98.7h0.6M92.6 87.7h0.6M104.9 82.7h0.6M107.4 76.7h0.6M99.4 101.8h0.6M93.1 103.7h0.6M101.2 78.7h0.6M106.6 90.1h0.6M98.7 91.1h0.6M100.8 101.3h0.6M101.9 76.3h0.6M97.4 77.2h0.6M109.6 75.3h0.6M94.4 100.3h0.6M89.1 85h0.6M105.3 79.7h0.6M87.1 95.7h0.6M89.9 92.9h0.6M103.6 95.6h0.6M109.9 73.5h0.6M91.2 89.6h0.6M90.3 94h0.6M99.6 77.9h0.6M108.1 80.5h0.6M115.1 76.4h0.6M90.4 96h0.6M97.6 84.9h0.6M90.5 93.3h0.6M102.8 84.4h0.6M104.8 79.8h0.6M100.1 76.5h0.6M104.4 82.2h0.6M93 85.6h0.6M96.6 85.2h0.6M95.7 102.2h0.6M101.6 78.9h0.6M87.4 103.9h0.6M93.2 78.5h0.6M102.9 91.8h0.6M89.7 93.1h0.6M97.4 77.9h0.6M98.4 74.8h0.6M96.2 84.9h0.6M91.4 101.2h0.6M100.6 69.9h0.6M100 76.8h0.6M95.8 78.7h0.6M88.6 95.2h0.6M97 96.9h0.6M92.9 79.1h0.6M102.6 97h0.6M107.6 85.6h0.6M86.6 98.6h0.6M88.3 103.2h0.6M94.3 89.2h0.6M99.5 100.9h0.6M105.8 84.3h0.6M105.9 91h0.6M105 81.4h0.6M95.8 82.5h0.6M109.1 87.4h0.6M88.9 98.2h0.6M90.7 88.3h0.6M95.5 100.6h0.6M88.8 91.6h0.6M106.9 86.7h0.6M98.7 85.2h0.6M94.6 83.8h0.6M93.3 83.1h0.6M98.7 74.6h0.6M96.7 73.9h0.6M91.9 89.2h0.6M88.1 82h0.6M99.5 99.7h0.6M88.1 90.2h0.6M100.4 78.2h0.6M93.5 99.7h0.6M87 105.8h0.6M106 79h0.6M97.4 100.5h0.6M92.6 106.6h0.6M111.5 74h0.6M98.2 95.3h0.6M90 99.3h0.6M107.3 85.3h0.6M83.8 94.4h0.6M113.4 71.7h0.6M105.2 76.9h0.6M104.5 94.7h0.6M91.3 105.5h0.6M110.5 84.2h0.6M89.8 98h0.6M86.2 94.3h0.6M105.1 87.6h0.6M98.2 91.4h0.6M102.7 89.8h0.6M99.4 75.9h0.6M98.2 74.6h0.6M100.3 90.3h0.6M98.1 83.4h0.6M107 79.2h0.6M97.9 89.1h0.6M101.6 99.4h0.6M97.5 104.4h0.6M98.4 90.2h0.6M86.6 93.1h0.6M106.5 79.4h0.6M103.6 100.3h0.6M87.7 93.5h0.6M89.1 93.2h0.6M88.1 93.9h0.6M90.8 81.7h0.6M92.5 82.3h0.6M93.4 102.5h0.6M102.9 82.4h0.6M91 83.3h0.6M88.3 97.2h0.6M110.6 90.1h0.6M102.7 75.7h0.6M95.8 101.6h0.6M104.6 89.9h0.6M94.6 77.7h0.6M89.1 97.4h0.6M93 99.5h0.6M103 101.7h0.6M88 108.7h0.6M90.8 99.1h0.6M91.3 95.1h0.6M107.8 92.6h0.6M96.5 81.3h0.6M90.8 113.2h0.6M88.6 95.6h0.6M86.3 91.5h0.6M99.6 95h0.6M89.9 88h0.6M89.4 83.3h0.6M108.7 84.7h0.6M90.3 90.6h0.6M104.4 66.2h0.6M101.9 72.9h0.6M95.2 101.3h0.6M95.1 81.9h0.6M89.9 89.5h0.6M94.9 107h0.6M102.5 93.3h0.6M105.2 92.4h0.6M99.6 96.7h0.6M111.3 81.3h0.6M88.7 95.8h0.6M101.3 100.9h0.6M107.6 89.9h0.6M99.8 78.3h0.6M86.5 94.1h0.6M110.1 77.5h0.6M101.2 80h0.6M86.6 93h0.6M108.8 61.8h0.6M103.8 76.9h0.6M94.7 104.6h0.6M101.2 80.7h0.6M108.7 85.3h0.6M101.1 77.9h0.6M108.6 75.3h0.6M105.2 91.8h0.6M103.7 81.5h0.6M87.3 87.5h0.6M94.4 81.2h0.6M103.4 80.2h0.6M98.4 76.7h0.6M100.4 95.4h0.6M102.3 98.1h0.6M90.3 101.1h0.6M106.2 79.9h0.6M91.4 105h0.6M92.2 95.4h0.6M109.8 76.2h0.6M97.9 94h0.6M86.2 106.6h0.6M90.5 102.5h0.6M102.3 95.8h0.6M103.2 78.7h0.6M87.4 100.7h0.6M88.9 92.8h0.6M89.1 97.9h0.6M102.7 100.1h0.6M106.4 81.4h0.6M97.5 100.3h0.6M88.7 102.3h0.6M105.2 71.4h0.6M88.8 97h0.6M91.1 84.6h0.6M88.5 98.7h0.6M93.3 79h0.6M84.9 103.7h0.6M91.8 89h0.6M104.3 93.2h0.6M104.2 93.8h0.6M90.2 84h0.6M111.1 74.2h0.6M105 92.6h0.6M107.3 77.3h0.6M90.3 81.5h0.6M98.7 81h0.6M100.2 78.8h0.6M103.2 77.4h0.6M105.3 92h0.6M87.8 98.3h0.6M90.5 89.7h0.6M110.1 70.8h0.6M93.8 99.7h0.6M99.7 98.8h0.6M110.7 82.8h0.6M105.6 95.1h0.6M107.7 83.9h0.6M108.5 85.2h0.6M95 105.1h0.6M105.1 76.3h0.6M88.1 102.8h0.6M92.3 98h0.6M105.7 91.4h0.6M103.1 86.1h0.6M103.5 79.7h0.6M92 90.1h0.6M108.2 92.4h0.6M95.1 81.4h0.6M106.4 91.2h0.6M102 79.3h0.6M102.3 95.8h0.6M105.9 78.7h0.6M105.1 82.2h0.6M110.1 81.4h0.6M97.9 83.1h0.6M104 96.8h0.6M115.2 76.5h0.6M90.9 91.1h0.6M93.8 102.4h0.6M95.4 96.2h0.6M93.6 102.2h0.6M102.4 84h0.6M101.7 99.6h0.6M106 86.3h0.6M100.8 91.3h0.6M101.4 80.8h0.6M94.9 96h0.6M92.4 84.6h0.6M94.2 105.3h0.6M106.4 85h0.6M96.8 97.2h0.6M92 88.3h0.6M96.9 77.8h0.6M95.7 89.1h0.6M92 104.4h0.6M88.8 101.7h0.6M100.4 88.5h0.6M98 104.5h0.6M101 91.5h0.6M106.7 85.4h0.6M110.8 81.5h0.6M99.8 82.4h0.6M94.5 88.4h0.6M103.6 88.8h0.6M91.8 91.3h0.6M103.9 93.4h0.6M90.6 90.4h0.6M93.4 84.1h0.6M94.2 82.9h0.6M106.9 83.9h0.6M100.5 95.2h0.6M108.3 80.5h0.6M92.3 83.7h0.6M102.1 80.1h0.6M83.8 94.3h0.6M92.9 95.7h0.6M86.8 99.9h0.6M92.1 98.2h0.6M88.8 89.2h0.6M96.1 77.3h0.6M109.5 77.4h0.6M93.9 107.3h0.6M91.7 89.4h0.6M88.2 77.8h0.6M108 77.8h0.6M101.6 79.1h0.6M97.9 82.3h0.6M102.9 67.1h0.6M85.2 89.9h0.6M106.6 78.5h0.6M109.4 78.1h0.6M93.2 77.3h0.6M98.5 100.5h0.6M90.1 91.1h0.6M90.8 101.1h0.6M93.2 105.4h0.6M89.6 100.1h0.6M103.7 82.7h0.6M86.5 99.1h0.6M93.7 90h0.6M90.6 93.5h0.6M93.3 106.9h0.6M94.6 79.6h0.6M88.1 92.4h0.6M107.1 87.4h0.6M97.4 74.3h0.6M105.5 90.8h0.6M101.9 85.9h0.6M90.3 85.9h0.6M98.5 89.4h0.6M96.1 94.1h0.6M98.6 105.6h0.6M106.1 72.1h0.6M97.4 99.3h0.6M99.1 77.1h0.6M88.8 99h0.6M88.2 86.4h0.6M103.4 79.4h0.6M91.8 97.1h0.6M95.8 99.4h0.6M89.5 100.9h0.6M107.4 87.9h0.6M94.3 82.4h0.6M88.1 103.1h0.6M97.2 97.5h0.6M101.3 97.3h0.6M90.7 96.2h0.6M97.5 81.3h0.6M86.6 88.9h0.6M105.9 79.7h0.6M102.9 91.2h0.6M94.7 80.3h0.6M91.5 94.9h0.6M107.8 75.9h0.6M100.7 101.2h0.6M107.3 72.8h0.6M104.5 85h0.6M105.4 77.7h0.6M100.5 104.9h0.6M95.5 80.3h0.6M109.8 74.1h0.6M84.5 94.3h0.6M103.5 84h0.6M94.7 106.4h0.6M91.3 81.9h0.6M93 79h0.6M110.3 71.8h0.6M87.4 93.1h0.6M90.8 101.7h0.6M103.8 73.5h0.6M98.6 98.9h0.6M87.1 96.9h0.6M94.8 88.6h0.6M110.3 71.6h0.6M90.4 91.1h0.6M93.7 79.5h0.6M101.4 74.8h0.6M101 75.7h0.6M106.4 89.7h0.6M89.7 88.4h0.6M96.4 84.6h0.6M102.9 93.3h0.6M92.8 106.8h0.6M93.4 97.8h0.6M94.7 98h0.6M88.3 80.7h0.6M92.2 106.9h0.6M93.2 76.3h0.6M107 79.5h0.6M101.4 98.5h0.6M90.1 104.7h0.6M89.9 85.1h0.6M102.4 95.9h0.6M97.4 95.8h0.6M95.7 82h0.6M92.8 91.5h0.6M111.8 82.8h0.6M95.2 81.4h0.6M104.6 77.3h0.6M87.9 98.1h0.6M88.5 95.2h0.6M108.9 79.9h0.6M97.5 80.1h0.6M103 87.2h0.6M87.6 108.1h0.6M98.5 97.6h0.6M100.6 78h0.6M98 97.7h0.6M100.4 96.5h0.6M88.5 94.2h0.6M102.3 73.2h0.6M91.6 94h0.6M105.4 75.5h0.6M91.4 89h0.6M87.2 104.6h0.6M94.8 85.1h0.6M96.7 78.2h0.6M96.3 103.8h0.6M96.8 83.2h0.6M95.4 102.1h0.6M106.2 90h0.6M94 84.5h0.6M93.8 101.1h0.6M104.1 97.7h0.6M92.6 102.9h0.6M90.3 97.6h0.6M95.2 80.8h0.6M100.5 74.8h0.6M104.7 71.1h0.6M87.3 90.5h0.6M98.3 74.9h0.6M91.9 78h0.6M93.6 94.8h0.6M95.1 96.3h0.6M95.1 90.4h0.6M102.6 72.9h0.6M97.8 92.6h0.6M98.6 77.5h0.6M105 95.3h0.6M96.1 96.4h0.6M100.1 78.9h0.6M105.9 79.5h0.6M106.9 74.4h0.6M99.8 82.1h0.6M90.6 102.5h0.6M106.6 92.1h0.6M96.5 78.4h0.6M107.6 85.2h0.6M110 86.8h0.6M91.5 102.5h0.6M105.7 90.1h0.6M100.3 97.2h0.6M98.8 75h0.6M91.7 100.2h0.6M100.2 100.8h0.6M94.7 80.3h0.6M91.5 106.2h0.6M104 80.4h0.6M89.8 88.5h0.6M89.9 102.1h0.6M104.9 94h0.6M103.1 71.8h0.6M98.7 75.9h0.6M108.7 75.7h0.6M83.2 98h0.6M109.4 84.9h0.6M101.8 92.6h0.6M103.1 87.3h0.6M106.6 74.6h0.6M99.2 98.1h0.6M105.8 91.7h0.6M100 98.1h0.6M107.2 71.8h0.6M89.4 106h0.6M100.5 80.5h0.6M107.8 79.5h0.6M98.4 99h0.6M92.6 94.7h0.6M109.1 83.3h0.6M90.8 87.3h0.6M96.2 102.8h0.6M101.9 105.5h0.6M98.2 104.6h0.6M99.5 102.9h0.6M89.9 95.6h0.6M102.9 81.5h0.6M86.6 89.3h0.6M99.4 98.1h0.6M88.6 96.9h0.6M91.6 87h0.6M89.4 89.6h0.6M99.6 68.6h0.6M100.9 77.5h0.6M103.9 77.6h0.6M92.7 82.4h0.6M103.7 95.3h0.6M102.7 81.4h0.6M101.6 83.7h0.6M102.7 78.5h0.6M89.9 90.4h0.6M105.1 84.9h0.6M99.2 95.9h0.6M102.4 80h0.6M96.5 80.3h0.6M102 76.7h0.6M99.7 93.2h0.6M104.5 89.8h0.6M103.8 95.4h0.6M95.2 101.1h0.6M94.5 86.2h0.6M95.3 81.4h0.6M95 101.5h0.6M88.3 102.7h0.6M102.6 87.4h0.6M87.5 100.5h0.6M90.8 89.7h0.6M98.9 100.2h0.6M94.1 79h0.6M101.1 79.6h0.6M102.6 79.6h0.6M92.4 101.1h0.6M86.7 97h0.6M99.4 78.9h0.6M102.3 89.8h0.6M103.7 79.8h0.6M92.3 103.1h0.6M102.6 99.9h0.6M90.5 96.7h0.6M93.3 83.9h0.6M91.1 100h0.6M105.6 78.5h0.6M93.2 97.6h0.6M98.1 98.6h0.6M96.6 78.2h0.6M105.1 76.7h0.6M93.6 101.8h0.6M91.8 95.1h0.6M92.3 99h0.6M102.1 93.4h0.6M102.3 72.5h0.6M104 99.3h0.6M97.1 77.4h0.6M98.1 72.4h0.6M93.3 83.8h0.6M102.2 95h0.6M100.9 92.8h0.6M91.7 84.1h0.6M92 86.6h0.6M104 93.8h0.6M105 93.9h0.6M104.8 78.3h0.6M92.2 95.2h0.6M102.9 76.5h0.6M94 101.4h0.6M90.8 100.9h0.6M109 83.6h0.6M94.2 100.9h0.6M89.7 92.4h0.6M87.9 83.9h0.6M104.3 72.2h0.6M89.5 98.3h0.6M99 80.4h0.6M93.4 100h0.6M101.5 75h0.6M105.1 95.4h0.6M92 110.8h0.6M101.4 96.3h0.6M99.4 99.6h0.6M103.8 78h0.6M89.9 88.3h0.6M104.9 79h0.6M103.1 90h0.6M93.5 105.6h0.6M105.6 76.7h0.6M108.6 90.8h0.6M90.8 97.7h0.6M101 98.6h0.6M88.5 88.4h0.6M95.9 86.1h0.6M100.2 81.2h0.6M94.2 78.6h0.6M89.4 99.9h0.6M97 94.6h0.6M90.9 95.7h0.6M92.6 88.3h0.6M95.1 99.9h0.6M85.9 104.7h0.6M105.7 84.3h0.6M83.7 93.2h0.6M98 99.4h0.6M99.8 79.2h0.6M84.4 100.2h0.6M90.3 83h0.6M84.9 96h0.6M99 106.1h0.6M105.9 72.4h0.6M93.5 77.5h0.6M101.5 90.3h0.6M102.9 92h0.6M94.8 78.9h0.6M88.5 91.6h0.6M87.4 91.1h0.6M102.6 77.9h0.6M89.6 105.8h0.6M83.2 96.1h0.6M97.5 102.7h0.6M93.8 78.6h0.6M88 90.7h0.6M104 97.6h0.6M91.9 102.7h0.6M90 93.1h0.6M92.4 82.7h0.6M100 99.2h0.6M97.8 82.8h0.6M107.4 78.4h0.6M88.8 98.2h0.6M101.6 97.9h0.6M97 99.2h0.6M106.2 75.1h0.6M91.8 81.9h0.6M97.5 98.4h0.6M95.3 102.9h0.6M109.2 77.8h0.6M101.8 73.4h0.6M100.9 79.5h0.6M97.4 97.4h0.6M105.1 91.8h0.6M93.3 97.6h0.6M81.8 102.4h0.6M93.5 98.7h0.6M104.6 88.2h0.6M98.4 75.2h0.6M94.5 82.6h0.6M95.2 90h0.6M102.9 76.7h0.6M92.5 88.3h0.6M91.2 88.6h0.6M97.2 95.3h0.6M104.4 82.1h0.6M101.2 96.8h0.6M106.9 85.3h0.6M104 86.9h0.6M93.6 84.9h0.6M96.4 98.2h0.6M92.7 102.2h0.6M97.2 100.1h0.6M100.6 81.1h0.6M87 97.4h0.6M103.7 90.7h0.6M88 98.3h0.6M91.6 95.5h0.6M101.2 75.4h0.6M106.9 83.3h0.6M92.6 83.5h0.6M98.2 101.6h0.6M95.1 103h0.6M103.1 75.8h0.6M105.4 76.7h0.6M102.3 90.7h0.6M95.1 80.7h0.6M100.6 85.2h0.6M98.9 85h0.6M94.2 82.6h0.6M105.8 79.6h0.6M91.7 107.3h0.6M96.1 103.3h0.6M86.8 102.4h0.6M89.7 93.9h0.6M107.3 88.4h0.6M109.8 76.5h0.6M105.2 74.8h0.6M108.1 83.5h0.6M88.5 94.7h0.6M103.2 90.7h0.6M104.6 86.2h0.6M96.1 96.2h0.6M87.7 95.7h0.6M90.3 98.4h0.6M95 99.1h0.6M107.5 87.4h0.6M90.4 93.2h0.6M110.1 80.3h0.6M95.4 73.5h0.6M102.2 97.8h0.6M91.1 90.4h0.6M102.2 82.7h0.6M84.1 104.5h0.6M88.9 101.4h0.6M99.2 95.3h0.6M88 87.1h0.6M102.3 88.5h0.6M103 93.3h0.6M106.6 84h0.6M96.7 80h0.6M92.9 96.5h0.6M113.7 81.3h0.6M105.7 87h0.6M106.5 90.5h0.6M90 88.4h0.6M93.3 90.7h0.6M99.9 78.7h0.6M107.8 83.4h0.6M86.3 99.1h0.6M90 97h0.6M87.9 93.1h0.6M103.1 93.6h0.6M108.6 79h0.6M95.9 89h0.6M88.8 88h0.6M98.3 79.7h0.6M105 80.6h0.6M98.7 87.1h0.6M91.9 95.1h0.6M88.4 101.8h0.6M82.9 104.1h0.6M93.9 84.3h0.6M104.8 80.9h0.6M105.2 93.7h0.6M96.7 77.8h0.6M105.5 82.2h0.6M94.5 81.5h0.6M89.8 94.1h0.6M89 87.3h0.6M90.6 83.3h0.6M98.1 71.8h0.6M101.7 100.1h0.6M107.7 75.8h0.6M93.6 81.4h0.6M88.3 103.8h0.6M104.4 86.7h0.6M82.8 96.4h0.6M106.1 76.4h0.6M86.3 104.3h0.6M94.7 83.6h0.6M93.2 105.7h0.6M89.6 102.1h0.6M89.6 97.7h0.6M97.2 98.5h0.6M103.2 80.1h0.6M85.2 89.6h0.6M85.5 100.1h0.6M95.6 79.4h0.6M92 102.4h0.6M91.2 90.1h0.6M96.5 85.2h0.6M97.7 84h0.6M90.7 91.2h0.6M104 77.1h0.6M104.1 84.6h0.6M107.8 89.8h0.6M93.7 80h0.6M106.3 89.8h0.6M102.1 88.3h0.6M99.6 77.6h0.6M97.5 100.5h0.6M98.6 81.6h0.6M96.2 87h0.6M104.8 68.8h0.6M89.3 103h0.6M104.1 91.6h0.6M84.4 101.1h0.6M106.8 93.7h0.6M89.4 102.2h0.6M90 87.1h0.6M102 73.3h0.6M88 106.4h0.6M88.7 93h0.6M100 77.5h0.6M105.8 74.6h0.6M99.4 88.5h0.6M93.7 81.5h0.6M105 89.5h0.6M90.3 100.3h0.6M97.1 79h0.6M105.6 75.6h0.6M100.5 98.5h0.6M106.1 77.6h0.6M106.4 79.7h0.6M93.9 79.9h0.6M105.6 86.8h0.6M103.4 72.4h0.6M93.4 92.4h0.6M107 78h0.6M91.4 83.4h0.6M100 81.1h0.6M104.2 91.3h0.6M103.6 71.1h0.6M105.3 77.9h0.6M104.4 81.7h0.6M97.6 90.4h0.6M103.4 96h0.6M101 98.1h0.6M88.6 88.1h0.6M110.7 90.3h0.6M89.6 89.8h0.6M107.3 86.3h0.6M91.6 97.7h0.6M97.1 100.6h0.6M88.9 92.9h0.6M109.2 78.8h0.6M107.1 90.1h0.6M94.3 84.1h0.6M90 94h0.6M109.2 73.2h0.6M91.7 90.7h0.6M87.8 101.9h0.6M108.1 70.8h0.6M100.9 100h0.6M106.2 76.5h0.6M109.6 88.8h0.6M99.5 100.3h0.6M105.7 77.6h0.6M103.2 94h0.6M98.1 104.1h0.6M88.2 102.3h0.6M107.7 94.1h0.6M101.7 95.6h0.6M90.6 89h0.6M90.6 89.9h0.6M94.8 102.7h0.6M103.9 90.4h0.6M90.4 105.1h0.6M108.1 84.3h0.6M94.7 84.3h0.6M98.5 87.6h0.6M100.8 83.4h0.6M102.1 71h0.6M106.4 78.9h0.6M107.7 82.9h0.6M97.2 99.3h0.6M100.4 99.7h0.6M94.5 89.1h0.6M98.4 93.2h0.6M97 84.1h0.6M106.7 87.8h0.6M90.8 83.4h0.6M95.2 103.3h0.6M98.5 99.5h0.6M94.8 85.4h0.6M105.8 73.5h0.6M105.7 79.5h0.6M104.8 76.9h0.6M90.3 88.3h0.6M106 83.7h0.6M94.3 83.9h0.6M100.7 78.5h0.6M102 91.3h0.6M90.5 86h0.6M100.1 97.9h0.6M91.7 105.7h0.6M94.2 93.8h0.6M93.9 77.3h0.6M100.8 97.6h0.6M102.6 76.8h0.6M91 92.6h0.6M94.1 98.7h0.6M102.5 89h0.6M100.6 73.3h0.6M89.6 97.2h0.6M98.2 102.5h0.6M89.2 85.6h0.6M104.3 79h0.6M92.3 84.9h0.6M90.4 98.1h0.6M99 103h0.6M92.4 102.3h0.6M106.4 77.4h0.6M95.6 104h0.6M105.2 91h0.6M107.1 68.5h0.6M91.4 92h0.6M93 106.6h0.6M86.8 87.9h0.6M103.4 88.8h0.6M98.5 102.8h0.6M91.2 102.5h0.6M101.5 100.2h0.6M101.5 80.8h0.6M106.9 88.6h0.6M95.2 83.6h0.6M90.6 98.7h0.6M109.3 89.9h0.6M95.9 79.9h0.6M100.6 89.1h0.6M92.6 92.7h0.6M97.2 96.9h0.6M102.2 100h0.6M92.3 98.4h0.6M93.4 90h0.6M107.5 73h0.6M89.6 87.9h0.6M89.9 102.1h0.6M105 85.7h0.6M94 76.3h0.6M96.7 79.1h0.6M101.6 85.1h0.6M99.7 80.7h0.6M93.4 98.4h0.6M105.9 88.8h0.6M95.4 104.2h0.6M96.4 98.6h0.6M99.1 79.1h0.6M93.9 73.7h0.6M92.2 102h0.6M101.6 78.2h0.6M99.5 99.2h0.6M93.3 88h0.6M107.8 88.2h0.6M109.9 82.9h0.6M96.9 80.5h0.6M108.5 74.7h0.6M100 77.7h0.6M91.7 102.8h0.6M105.2 83.3h0.6M97.4 80.9h0.6M97 83.6h0.6M106.8 88.8h0.6M94.5 81.9h0.6M89.8 97.7h0.6M92.1 90.8h0.6M95.4 84.1h0.6M105.6 83.8h0.6M108.4 79.4h0.6M87.9 94h0.6M92.4 86.9h0.6M102.6 96.8h0.6M99.2 71.1h0.6M106.6 78.1h0.6M91.4 109.6h0.6M98.7 75.9h0.6M96.8 105.5h0.6M105.6 81.8h0.6M105.7 71.8h0.6M103.6 87.9h0.6M89.6 101.2h0.6M95.7 100.3h0.6M96.7 85.6h0.6M100.3 93.5h0.6M109.8 76.1h0.6M92.9 103.7h0.6M97.4 105h0.6M96.6 101.7h0.6M98.6 87.3h0.6M102.6 96.7h0.6M90.6 91.3h0.6M95.3 99.8h0.6M104.7 79.1h0.6M101.1 94.7h0.6M95.1 98.1h0.6M108.2 72.9h0.6M91.3 83.6h0.6M98.5 97.7h0.6M104.1 91.4h0.6M86 97.4h0.6M88 92.2h0.6M104.6 75.8h0.6M93.6 87.2h0.6M105.8 81.1h0.6M94.7 84.9h0.6M95.3 94.3h0.6M91.7 81.2h0.6M106.2 81.2h0.6M91.3 99h0.6M98.4 80.7h0.6M94.7 78h0.6M104.2 68.2h0.6M87.1 97.5h0.6M90.9 105.3h0.6M99.4 81.2h0.6M107.7 80.5h0.6M89.8 87.7h0.6M97.1 105.8h0.6M106.4 78.5h0.6M94.2 85h0.6M101.2 76.6h0.6M99.2 97.8h0.6M109.2 72.8h0.6M86.8 96.7h0.6M108.2 83.3h0.6M91.2 102h0.6M106 94h0.6M90.6 97.3h0.6M101.9 79.8h0.6M100.3 83.5h0.6M110.4 78.1h0.6M92.5 103.8h0.6M95.8 77.3h0.6M101.1 97.7h0.6M89.9 108.1h0.6M101.1 93.8h0.6M98.3 73.6h0.6M104.9 85.5h0.6M96.8 80.3h0.6M97.2 82.5h0.6M107.4 84.8h0.6M89.9 97.3h0.6M93.6 80.4h0.6M105 80.6h0.6M95.7 96.4h0.6M103.1 74h0.6M101.9 101.2h0.6M86.7 97h0.6M94.7 101.5h0.6M88.3 91.1h0.6M95.9 95.2h0.6M101.3 96.1h0.6M86.6 90.2h0.6M87.5 94.8h0.6M102.3 79.7h0.6M105.5 94.7h0.6M98.6 77.9h0.6M103.5 97.2h0.6M93.9 87.6h0.6M102.8 93.2h0.6M107.9 85.1h0.6M90.3 86.2h0.6M89.3 87h0.6M101.1 97.4h0.6M105.4 78.5h0.6M89.8 102.5h0.6M88.3 87.5h0.6M100.9 82.1h0.6M105.2 79.1h0.6M89.3 94.1h0.6M101.8 97.2h0.6M107.3 92.1h0.6M94 96.3h0.6M103.4 96.6h0.6M97.8 83.8h0.6M105.2 84.1h0.6M99.8 96.9h0.6M102.1 95.3h0.6M100.4 78.8h0.6M95.4 81.8h0.6M91.8 99.8h0.6M91.5 99.9h0.6M101.2 83.7h0.6M101.3 91.9h0.6M92.7 99.8h0.6M87.3 97.2h0.6M107.7 73.9h0.6M82 107.4h0.6M102.1 96.6h0.6M102.8 79.5h0.6M101.7 75.6h0.6M97.9 102.6h0.6M103.8 75.8h0.6M97.9 81.4h0.6M89 95.5h0.6M95.3 80.2h0.6M94.3 86.9h0.6M103.1 82.1h0.6M109.2 88.5h0.6M95 91.8h0.6M100.1 99h0.6M89.5 95.4h0.6M95.8 74.8h0.6M90 103.4h0.6M96.7 98h0.6M91.4 106.6h0.6M105.6 82.4h0.6M105.8 68.6h0.6M98 105.7h0.6M90 99.4h0.6M89 103.4h0.6M98.8 100.2h0.6M104.6 82.8h0.6M87.5 103.6h0.6M94.1 79.9h0.6M86.4 96.1h0.6M102.2 100.1h0.6M105 97.8h0.6M103.1 72.3h0.6M98.1 78h0.6M90.9 86h0.6M94.7 103.2h0.6M89.2 97.2h0.6M92.1 85.2h0.6M90.2 108.9h0.6M94.8 78.9h0.6M112.2 75.6h0.6M95.7 98.7h0.6M106.6 87h0.6M92.5 85.4h0.6M104.6 90.5h0.6M105.1 89.9h0.6M101.4 96.8h0.6M100.8 78h0.6M88.3 108.2h0.6M97.7 75.7h0.6M105.2 85h0.6M91.2 88.8h0.6M99.9 74.2h0.6M100.8 74.5h0.6M95.1 99.4h0.6M86.7 92.1h0.6M93.4 95.3h0.6M91.7 87.1h0.6M108.7 70.8h0.6M97.7 91.7h0.6M94.1 82.1h0.6M89.7 84h0.6M89.1 94.3h0.6M105 82.5h0.6M96.4 96.1h0.6M89.8 103.3h0.6M95.4 99.5h0.6M106 92.7h0.6M94.4 92.2h0.6M96.7 88.4h0.6M100 91.4h0.6M103.5 89.4h0.6M94.8 102.2h0.6M101.2 93.5h0.6M96.6 91.3h0.6M96.1 90.8h0.6M97.1 96.5h0.6M92.3 105.6h0.6M106.3 87.8h0.6M106.6 86.3h0.6M100.5 69.1h0.6M103.5 85.4h0.6M101.8 76.3h0.6M92.9 80.9h0.6M98 92.4h0.6M99.3 85.3h0.6M92.5 96.6h0.6M94.4 84.9h0.6M94.1 87.9h0.6M93.4 96h0.6M97.3 77.7h0.6M101.8 81h0.6M100.2 86h0.6M100.5 83h0.6M105.2 78.1h0.6M97.3 89.8h0.6M88.9 96.3h0.6M90.9 93.7h0.6M101.1 84.4h0.6M102.3 89.2h0.6M93 99.7h0.6M101.2 78.8h0.6M99.4 87.8h0.6M97.7 74.3h0.6M98.7 79.2h0.6M95.1 91.3h0.6M98.2 88.2h0.6M94.2 93.5h0.6M94 94.3h0.6M92.7 88.8h0.6M97.9 84.4h0.6M104 79.8h0.6M88.2 91.7h0.6M96.4 81.8h0.6M97 88h0.6M102.4 93.2h0.6M104.6 82.3h0.6M102.2 94.3h0.6M107.9 81.7h0.6M95.2 90.4h0.6M94.4 95.2h0.6M96.8 81.3h0.6M96.8 101.3h0.6M96.2 98.5h0.6M99.5 91.2h0.6M100.4 90h0.6M98.7 91.6h0.6M91.5 103.1h0.6M94.1 98.7h0.6M104.3 87.5h0.6M97.3 83.5h0.6M90.7 93.9h0.6M99.1 86.9h0.6M103 89.5h0.6M102.8 82.1h0.6M94.7 93.5h0.6M106.5 80.1h0.6M97.4 91.1h0.6M96.8 75.1h0.6M98 80.4h0.6M87 92h0.6M96.2 90.5h0.6M97.6 85.9h0.6M103.5 82.5h0.6M100.4 102.4h0.6M94.2 91.2h0.6M100.5 84.4h0.6M98.6 84.7h0.6M84.3 90.9h0.6M92.1 93.7h0.6M97.2 84.4h0.6M95.3 96.5h0.6M96.1 85.6h0.6M97 79.9h0.6M100.3 89.8h0.6M87.9 107.5h0.6M99.4 78.8h0.6M99.8 79.3h0.6M102.4 78.2h0.6M104.2 84.3h0.6M96.9 103.3h0.6M98.8 76.4h0.6M103.5 88.5h0.6M101.9 82.3h0.6M98.8 90.6h0.6M100.7 92.3h0.6M93.9 88.6h0.6M107.1 79.2h0.6M94.6 84.4h0.6M95.8 89.3h0.6M90.4 96.2h0.6M105.8 88.6h0.6M104 91.8h0.6M101.4 89.1h0.6M103.7 82.8h0.6M99 82.7h0.6M104.3 92h0.6M103.9 89.9h0.6M101.7 89.8h0.6M100.5 83.5h0.6M99.5 83.3h0.6M98.4 87.6h0.6M99.7 97.3h0.6M98 81.1h0.6M102 82.7h0.6M99.9 99.4h0.6M102.8 87.7h0.6M102.9 94.8h0.6M91.5 105h0.6M99.5 89.9h0.6M106.6 84.7h0.6M97.8 95.2h0.6M96.8 94.5h0.6M100.2 80.7h0.6M88.9 93.8h0.6M99.9 98.3h0.6M95.6 90.3h0.6M97.9 83.1h0.6M103.6 86.1h0.6M93.1 91h0.6M92.3 88.6h0.6M96.6 87.2h0.6M96.6 91.5h0.6M96 95.5h0.6M95.9 97.6h0.6M104.3 85.7h0.6M97 90.2h0.6M110.2 69.4h0.6M100.2 84.3h0.6M93.2 93h0.6M99.7 89.7h0.6M100.8 87.2h0.6M106.2 89.6h0.6M102 86.9h0.6M99.4 101.1h0.6M107.1 90.9h0.6M121.3 97.6h0.6M111.2 83.1h0.6M100 109.1h0.6M91.1 100.8h0.6M95.1 100.8h0.6M117.4 94.7h0.6M110.5 96.6h0.6M97.7 108.2h0.6M113.6 110.3h0.6M105.1 94.2h0.6M102.7 84h0.6M103.9 84.1h0.6M104.3 98.8h0.6M121.2 92h0.6M100.5 102.4h0.6M104.8 107h0.6M118.5 85.9h0.6M119.9 90.2h0.6M100.3 98.2h0.6M124.3 98.5h0.6M116.7 88.3h0.6M96.3 93h0.6M122.3 98.2h0.6M96.3 93.3h0.6M113.4 95.6h0.6M98.9 98.8h0.6M93.9 101.2h0.6M114.7 88.3h0.6M111.4 99.3h0.6M107.4 104.9h0.6M109.5 81.3h0.6M107.2 85.7h0.6M106 91.4h0.6M99.5 96.1h0.6M112.6 94h0.6M108.2 107h0.6M106.1 95.7h0.6M103.5 93.4h0.6M105.8 97.1h0.6M96 92.1h0.6M105.6 101.6h0.6M100.2 94.2h0.6M118.2 107.9h0.6M100.5 95.8h0.6M104.4 100.5h0.6M108.1 106.1h0.6M114.3 98.8h0.6M111.7 95.5h0.6M108.1 100.3h0.6M125.1 88.4h0.6M107.9 101.2h0.6M110.6 88.3h0.6M129.7 90h0.6M100.9 100.4h0.6M115.7 84.4h0.6M111.5 106.4h0.6M97.6 91.5h0.6M103.1 95.2h0.6M114.6 89.7h0.6M96.5 108h0.6M106.5 105.1h0.6M115.4 102.3h0.6M106.1 95.6h0.6M110.1 95.1h0.6M102.7 95.7h0.6M103.1 97.9h0.6M103.1 101.4h0.6M105.2 106.6h0.6M113 99.2h0.6M108.6 91.7h0.6M123.7 87.9h0.6M112.4 99.8h0.6M110.2 87.5h0.6M125.8 106.5h0.6M107.1 89.8h0.6M101.6 104.4h0.6M109.2 94h0.6M99.3 103.4h0.6M112.1 103.5h0.6M118.8 100.2h0.6M113.1 84.8h0.6M104.8 101.1h0.6M106.9 91h0.6M111.8 94.7h0.6M117.4 93.5h0.6M104.8 93.5h0.6M104.7 91h0.6M116.6 105.3h0.6M109.7 95.6h0.6M110.7 93.2h0.6M111.8 100.5h0.6M101.9 93.1h0.6M106.8 103.9h0.6M116.5 90.2h0.6M106.8 101.4h0.6M106.4 98.1h0.6M110.4 89.7h0.6M111.1 87.4h0.6M128.2 100.3h0.6M101.6 100.9h0.6M109.1 88.2h0.6M124.1 118.4h0.6M108.3 85.4h0.6M111.1 85.8h0.6M96.5 104.2h0.6M115.8 86.6h0.6M115 93.1h0.6M114.6 92.3h0.6M106.6 114h0.6M111 99.8h0.6M107.5 97.4h0.6M114.8 99.1h0.6M107.9 99h0.6M114.3 98.2h0.6M97.4 118.3h0.6M105.4 97.5h0.6M85.4 101.4h0.6M106.9 96.6h0.6M114.2 99.8h0.6M106 96h0.6M126.7 93.7h0.6M100.2 82h0.6M105.4 102.4h0.6M100.7 82.7h0.6M104.1 97.8h0.6M104.3 102.9h0.6M96.3 107.3h0.6M100.3 89.2h0.6M124.2 107.8h0.6M106 88.8h0.6M115.3 93.3h0.6M98 100.4h0.6M107.1 101.2h0.6M112.3 92.2h0.6M106.7 94.8h0.6M104 90.2h0.6M106.5 96h0.6M108.3 100h0.6M114.7 91.8h0.6M117.6 105.4h0.6M97.6 89.4h0.6M91.7 95.6h0.6M106.5 104.7h0.6M108.1 104h0.6M113.7 98.5h0.6M116.5 110.2h0.6M102.7 85.1h0.6M124.4 88.4h0.6M94.8 124.7h0.6M89.9 142.8h0.6M88.4 118.4h0.6M93.4 124.5h0.6M91.1 124.4h0.6M85.7 141.2h0.6M80.5 129.7h0.6M96.4 125.5h0.6M84 128.4h0.6M87.1 120.8h0.6M94.6 115.7h0.6M88.6 113.3h0.6M96.9 115.8h0.6M81.2 128.3h0.6M94.3 111.6h0.6M79.8 124.6h0.6M78.6 119.3h0.6M81.8 129.1h0.6M89.8 139.4h0.6M79.4 125.3h0.6M97.4 133h0.6M82.3 127h0.6M88.2 119h0.6M90.8 140.6h0.6M85.7 142.7h0.6M91.5 124.6h0.6M93.3 123.7h0.6M88.3 129.4h0.6M96.3 131.7h0.6M84.9 141.2h0.6M81.6 127.7h0.6M90.4 133.6h0.6M82.3 123.1h0.6M91.6 118.5h0.6M88.3 131.9h0.6M85.8 123.3h0.6M93 125.3h0.6M92.7 120.7h0.6M68.4 113.3h0.6M86.8 121.1h0.6M90 120.6h0.6M92.4 119.9h0.6M85.2 130.8h0.6M81 127h0.6M89.9 123.9h0.6M93.8 115.9h0.6M74.7 115.4h0.6M78.5 106.6h0.6M84.9 136.7h0.6M71 127.3h0.6M84.8 142.4h0.6M94.7 131.8h0.6M81.6 141.7h0.6M90 116.5h0.6M82.8 120.2h0.6M91.9 136.6h0.6M93.5 124h0.6M98.1 120.4h0.6M89.5 111.4h0.6M61.2 116h0.6M65.8 137.2h0.6M63.5 136.9h0.6M67.2 129.1h0.6M59.7 139h0.6M50.5 110.6h0.6M70.2 111.4h0.6M54.8 124.9h0.6M66.7 115.3h0.6M54.2 109.7h0.6M60.4 139.7h0.6M56 122.4h0.6M63.3 135.9h0.6M51.8 118.1h0.6M51.6 129.2h0.6M59.4 111.2h0.6M67.2 128.8h0.6M59.5 131.6h0.6M52.6 128.8h0.6M70.1 124.4h0.6M52.3 132.6h0.6M56.4 116.2h0.6M61.5 130.6h0.6M55.6 118.2h0.6M64.2 111.1h0.6M58.6 121h0.6M66.1 133.1h0.6M51.8 114.3h0.6M66.6 133.8h0.6M68.3 120.4h0.6M55.3 124.7h0.6M55 111.2h0.6M67.8 114.4h0.6M58.5 130.3h0.6M58.2 138.2h0.6M61.9 117.5h0.6M61.2 131h0.6M66.5 137.2h0.6M63.6 136.1h0.6M64.3 139.4h0.6M58.8 112.5h0.6M60.5 130.4h0.6M67.3 118.3h0.6M67.5 110.4h0.6M62.4 125h0.6M62 139.6h0.6M56.3 120h0.6M59.8 117.4h0.6M54.1 140.7h0.6M59.9 130.5h0.6M51.4 114h0.6M55.4 109.7h0.6M55.9 111.6h0.6M59.7 111.6h0.6M63.8 137.4h0.6M52.2 131.5h0.6M63 114.8h0.6M65.7 122.9h0.6M53.5 123.4h0.6M53 136.6h0.6M52.2 140.2h0.6M62.8 109.3h0.6M58.1 109.9h0.6M51 128.6h0.6M52.5 110.7h0.6M57.5 122.3h0.6M51.2 129.4h0.6M66.1 125.5h0.6M54.1 114.9h0.6M66.4 118.2h0.6M50.9 126.3h0.6M57 113.9h0.6M68.8 138.7h0.6M53.2 117.1h0.6M50.9 136h0.6M67 115.3h0.6M66.1 125h0.6M60.1 135.2h0.6M52.7 130.3h0.6M56.1 113.3h0.6M59.1 117.3h0.6M69.5 121.3h0.6M54.5 125.2h0.6M63.4 139.9h0.6M64.3 120.2h0.6M67.6 120.6h0.6M63.7 126.2h0.6M57.7 116.3h0.6M59 135.6h0.6M59.7 109h0.6M62 133h0.6M60.8 138.2h0.6M52.3 119.6h0.6M65.7 133.5h0.6M57.5 132.2h0.6M62.7 133.9h0.6M56.4 130.3h0.6M59.1 126.5h0.6M70.1 118.1h0.6M50.5 122.6h0.6M63 112.7h0.6M54 129.3h0.6M69.3 125.5h0.6M66.6 111.1h0.6M66.8 112.6h0.6M67 119.5h0.6M57.1 115.3h0.6M60.3 115.3h0.6M68.6 133.8h0.6M59.6 119.5h0.6M69 111.1h0.6M66.5 138.4h0.6M60 139.5h0.6M60.7 135.4h0.6M60.6 123.5h0.6M55.6 139.9h0.6M57.2 138.1h0.6M58.8 129.7h0.6M60.9 131.3h0.6M67.7 132.1h0.6M59.9 126.5h0.6M61.4 137.2h0.6M64.3 136.6h0.6M66.2 133.1h0.6M69.7 131.6h0.6M65 123.9h0.6M62.2 119.8h0.6M64.5 139.9h0.6M52.6 127.5h0.6M65 139.1h0.6M46.3 108.2h0.6M46.1 87.5h0.6M48 86.5h0.6M47.7 100.9h0.6M46.9 107.9h0.6M47.3 76h0.6M48.6 92.4h0.6M47.8 90h0.6M47.4 74.3h0.6M46.5 77.2h0.6M46.1 104.2h0.6M46.8 109h0.6M46.6 94.7h0.6M47.9 82.1h0.6M48.8 110.2h0.6M48.4 89.1h0.6M46.5 78.1h0.6M46.6 102.9h0.6M47.5 99.6h0.6M48.3 99.2h0.6M46.6 87.6h0.6M46.5 83.7h0.6M47.1 81.7h0.6M48.1 95.9h0.6M47.1 84.9h0.6M45.6 100.6h0.6M47.8 107.7h0.6M48.4 105.1h0.6M47.8 74.3h0.6M45.7 97.6h0.6M46.5 75h0.6M47.3 84.3h0.6M47.2 84.3h0.6M45.9 94.1h0.6M46.5 74.6h0.6M46.9 81.7h0.6M47.2 108.5h0.6M48.7 74.1h0.6M47.9 86.1h0.6M47.3 91.6h0.6M45.6 77.1h0.6M45.7 84.1h0.6M48.1 96.7h0.6M47.4 85.6h0.6M47.8 94.2h0.6M46 108.9h0.6M48.7 76.7h0.6M47.2 98.5h0.6M47.4 73.9h0.6M47.8 87.8h0.6M47.6 100.3h0.6M48.1 109.3h0.6M46.3 90.6h0.6M45.8 96.9h0.6M47 91.5h0.6M48.1 77.5h0.6M48 76.4h0.6M46.8 94.1h0.6M48 106.2h0.6M48.1 82.7h0.6M48.1 101.4h0.6M48.7 96.9h0.6M47.1 85.8h0.6M47.9 98h0.6M48.5 75.4h0.6M46.5 82.7h0.6M48.8 87.5h0.6M46.7 97.4h0.6M47.7 74.4h0.6M46 74.6h0.6M46.2 108.2h0.6M45.9 93.1h0.6M47.6 107.1h0.6M45.7 110.9h0.6M47.1 79.3h0.6M48 87.3h0.6M46.5 110.5h0.6M46.2 73.3h0.6M48.7 110.3h0.6M46.2 111h0.6M47.5 101.7h0.6M47.1 87.8h0.6M48.5 98.7h0.6M47.6 73.8h0.6M47.1 86.4h0.6M46.4 74.4h0.6M48.3 89.3h0.6M46.6 99h0.6M48.2 73.8h0.6M47.8 107h0.6M47.4 76.4h0.6M48.8 82h0.6M47.7 87.8h0.6M47.5 77.3h0.6M47.9 101.4h0.6M46.1 98.8h0.6M47 95.4h0.6M45.6 89.3h0.6M46 95.6h0.6M45.7 87.3h0.6M47.4 98.3h0.6M46.6 107h0.6M46.2 102.4h0.6M46.9 86.9h0.6M48.6 106.7h0.6M45.8 84.9h0.6M46 98.8h0.6M48.4 101.1h0.6M46.3 88.6h0.6M47.7 105.7h0.6M45.9 110h0.6M45.7 77.6h0.6M47.6 74.7h0.6M48 84.2h0.6M46.2 74h0.6M47.1 110.5h0.6M46.1 83.2h0.6M48.3 78.9h0.6M46 95.3h0.6M47.4 109.3h0.6M48.6 106.2h0.6M46.3 106.3h0.6M47.9 80.5h0.6M47.2 83.2h0.6M48.4 76.4h0.6M48.4 99.5h0.6M47.2 86.5h0.6M47.1 98.2h0.6M48.1 74.3h0.6M47.9 101.2h0.6M46.7 77.9h0.6M48.6 110.5h0.6M47.2 83.2h0.6M46.4 91.6h0.6M46.9 104.2h0.6M46.9 97h0.6M47.2 76.1h0.6M46.7 108.2h0.6M47.1 100.9h0.6M48.7 101.6h0.6M48.8 92.4h0.6M46.4 79.2h0.6M46.6 97.9h0.6M46.8 84.8h0.6M46.3 104.7h0.6M46.3 85.5h0.6M47.2 98.5h0.6M46.9 93.6h0.6M45.8 78.8h0.6M47.3 98.9h0.6M47.1 109.8h0.6M48.6 75.3h0.6M48.3 95.3h0.6M47.7 97.6h0.6M47.3 104.9h0.6M46 85.1h0.6M47.7 104.5h0.6M48.6 101.1h0.6M48.7 80.2h0.6M48.6 101.4h0.6M48 90h0.6M46.7 80.8h0.6M46.2 82.2h0.6M46.3 85.7h0.6M46.9 101.1h0.6M46 78.8h0.6M46.6 97.4h0.6M48.7 104h0.6M48 92.7h0.6M47.9 107.5h0.6M46.1 100.3h0.6M47.2 92.6h0.6M47.2 109.7h0.6M48.6 93.9h0.6M47.7 78.6h0.6M46.6 81.1h0.6M46.4 104.3h0.6M45.9 105.5h0.6M47.2 88h0.6M47.6 86.7h0.6M46.9 80.8h0.6M48.6 105.2h0.6M48 110.5h0.6M47.4 108.7h0.6M46.9 89.8h0.6M47.7 106.9h0.6M47.8 80.7h0.6M48 75.7h0.6M46.6 94.3h0.6M46.9 86.1h0.6M46.4 91.3h0.6M46 75.8h0.6M46.6 79.6h0.6M46.4 91.6h0.6M46.5 92.2h0.6M47.1 100.2h0.6M46.8 101.1h0.6M47.9 87.6h0.6M46.4 90.2h0.6M47.9 83.7h0.6M48.4 78.9h0.6M47.2 88.3h0.6M48.2 95.1h0.6M45.8 110.9h0.6M46.4 101.1h0.6M45.9 103.8h0.6M47.2 104.4h0.6M46.8 108.5h0.6M47.1 107.9h0.6M46.3 79.7h0.6M45.7 85.1h0.6M48 83.1h0.6M48.6 103.5h0.6M46.2 91.5h0.6M48 108.9h0.6M46.7 94.8h0.6M48 74.1h0.6M47.5 82.2h0.6M48 88.3h0.6M48.8 78.1h0.6M46.5 94.3h0.6M48.4 74.8h0.6M46.3 82.2h0.6M48.1 73.4h0.6M46.1 77.5h0.6M46.2 99.9h0.6M47 92.1h0.6M46.3 109.4h0.6M48.2 78h0.6M45.7 80.2h0.6M46.7 75.3h0.6M47.4 80.6h0.6M48.2 84.2h0.6M48.7 89.3h0.6M47.3 82.5h0.6M46.2 79.5h0.6M46.3 87.4h0.6M47.6 74.9h0.6M46.1 104.3h0.6M48.3 94.7h0.6M48.3 92.3h0.6M47.9 90.7h0.6M48.7 94.1h0.6M47 110.8h0.6M48.7 87.5h0.6M46.2 94.6h0.6M46.4 81h0.6M47.3 88h0.6M48.4 76.6h0.6M45.6 105.9h0.6M48.3 98.9h0.6M46.8 102.2h0.6M48.4 102h0.6M48.3 78.1h0.6M48.4 97.1h0.6M47.4 78.6h0.6M46 96.5h0.6M46.6 78.1h0.6M46.7 79h0.6M47.7 77.7h0.6M46.7 93.4h0.6M47.2 77.5h0.6M46.8 86.8h0.6M47.6 89.1h0.6M46.1 110.5h0.6M46.8 102.7h0.6M48.4 95.2h0.6M46.5 100.8h0.6M47.2 73.4h0.6M48.1 87h0.6M47.8 83.9h0.6M47.1 98.1h0.6M45.8 77.9h0.6M48.4 108.9h0.6M48.5 85.3h0.6M48.1 106.2h0.6M48 105.3h0.6M48.4 90.7h0.6M48.4 73.1h0.6M47.1 77.5h0.6M46.9 87.7h0.6M47.1 101h0.6M46 91.1h0.6M46.2 108.6h0.6M47.8 107.4h0.6M48 85.4h0.6M47.8 110.6h0.6M47.5 93.1h0.6M46.1 75.8h0.6M46.8 74.4h0.6M48.6 87h0.6M48.6 88.8h0.6M46.5 79.9h0.6M46.8 107.2h0.6M46.2 84.8h0.6M46.7 102.4h0.6M47 81.3h0.6M46.5 89.5h0.6M48.5 87.5h0.6M45.8 102.1h0.6M47 86.9h0.6M45.8 81.5h0.6M46.7 104.8h0.6M48 97.7h0.6M45.9 79.5h0.6M47.5 82h0.6M47.4 76.8h0.6M47.4 104.7h0.6M47.2 88.9h0.6M47.6 104.6h0.6M46.4 95.2h0.6M46.4 103.2h0.6M48.1 101.7h0.6M46.2 90.7h0.6M48.2 82.7h0.6M48.5 87.8h0.6M47.4 93.2h0.6M46.5 110.9h0.6M47 83.9h0.6M47.2 101h0.6M47.8 82.7h0.6M48.6 97h0.6M47 100.9h0.6M46.3 73h0.6M46.6 100.7h0.6M48.6 106h0.6M46.3 107.4h0.6M46.4 106.2h0.6M45.7 87.5h0.6M47.6 78.6h0.6M47.1 86h0.6M48.2 106.5h0.6M47.7 98.7h0.6M47.7 92.2h0.6M47.8 73.2h0.6M47.1 75.7h0.6M46.5 94.1h0.6M45.7 106.1h0.6M46.9 96.2h0.6M45.6 86.7h0.6M46.3 73.2h0.6M46.8 81h0.6M47.3 96.4h0.6M46.8 84.1h0.6M46.3 93.4h0.6M48 74.5h0.6M46.6 93.5h0.6M46.7 90.5h0.6M46.3 73.8h0.6M45.8 104.2h0.6M48 102.9h0.6M47.1 77.4h0.6M47.4 96.8h0.6M48.4 105.6h0.6M48.4 92.5h0.6M47.5 101.6h0.6M48.6 77.7h0.6M47.3 75.3h0.6M48.4 81.9h0.6M47.1 102.1h0.6M46.5 84h0.6M47.2 105.1h0.6M46.1 75.5h0.6M46.8 91.3h0.6M46.3 89.6h0.6M47 103.8h0.6M45.9 98.5h0.6M47 101.2h0.6M47.4 96.1h0.6M48.8 79h0.6M48.8 101.9h0.6M47.7 100.3h0.6M47.1 100.8h0.6M48 90.5h0.6M48.6 89.1h0.6M47.8 78.6h0.6M46.2 104h0.6M47.5 89.5h0.6M47.2 109.3h0.6M48.5 83.3h0.6M47.7 91.4h0.6M48.7 86.4h0.6M45.7 96.1h0.6M47.8 109.7h0.6M46.3 81.4h0.6M47.1 87.6h0.6M48.3 84.2h0.6M48.8 76.6h0.6M46.3 74.4h0.6M48.4 110.7h0.6M46 85.6h0.6M46.6 99.9h0.6M46.3 102.8h0.6M48.7 97.4h0.6M45.9 83.1h0.6M48.2 98.5h0.6M47.3 108h0.6M47.9 90.4h0.6M45.9 106.9h0.6M47.1 105.7h0.6M47.4 102.3h0.6M46.5 99.5h0.6M47.7 109.4h0.6M45.9 92h0.6M45.9 107.9h0.6M47.7 76.3h0.6M46.4 99.9h0.6M48.3 77.5h0.6M47.4 87.1h0.6M48.4 95.2h0.6M48.3 99.3h0.6M47.9 98.9h0.6M48.7 79.8h0.6M46.4 76.4h0.6M47.4 78.4h0.6M46 96.5h0.6M47.9 79.8h0.6M48.2 107.8h0.6M48.5 98.8h0.6M47.3 84.5h0.6M47.6 118.2h0.6M45.8 112.4h0.6M47.5 120.8h0.6M46.1 132.2h0.6M47.6 118.8h0.6M46.5 126.2h0.6M47.4 124h0.6M47.8 138.6h0.6M46.3 129.7h0.6M45.8 121.1h0.6M46.1 122.6h0.6M48.3 114h0.6M48.6 135.5h0.6M47.4 116.1h0.6M45.9 113.6h0.6M47.5 120.4h0.6M46.7 131.2h0.6M46.2 126.9h0.6M48 110.3h0.6M48.4 128.6h0.6M47.3 133.7h0.6M47.4 133.4h0.6M48.6 116.6h0.6M45.6 112.4h0.6M48.3 121.9h0.6M48.6 116.8h0.6M48.3 140.6h0.6M47.4 131.8h0.6M48.5 119.8h0.6M47.2 136.4h0.6M46.8 129.2h0.6M47.2 111.3h0.6M45.7 117h0.6M45.7 118.3h0.6M47.3 139.3h0.6M47.5 130.5h0.6M45.8 116h0.6M48 137.1h0.6M46.1 122.4h0.6M46.3 141.7h0.6M47.1 127.7h0.6M48.1 110.4h0.6M47.2 122.9h0.6M48.5 131.5h0.6M48 123.9h0.6M47.4 131.1h0.6M48.4 113h0.6M46.7 110.5h0.6M47.5 113h0.6M47.7 130.4h0.6M45.9 117.1h0.6M46.4 136.1h0.6M48.7 135.3h0.6M46.6 114.1h0.6M48.5 111.9h0.6M45.8 131.4h0.6M46.4 132.4h0.6M46.3 138.4h0.6M45.6 121.2h0.6M47.9 110.9h0.6M46.3 134.2h0.6M47.5 129.1h0.6M45.9 140.5h0.6M47.4 119.7h0.6M47.2 110.3h0.6M47.1 111.8h0.6M48.1 138.3h0.6M46.7 121.3h0.6M47.9 112.4h0.6M48.2 110.9h0.6M46.4 130.4h0.6M46.6 121.5h0.6M47.6 133.7h0.6M46.2 129.5h0.6M45.6 117.4h0.6M47.5 129.5h0.6M47.9 122.6h0.6M45.9 131.5h0.6M47.4 117.9h0.6M47.1 119.7h0.6M47.2 115.4h0.6M48.6 114.3h0.6M45.7 122.9h0.6M46.2 129.6h0.6M45.9 128.8h0.6M47.6 116.1h0.6M48.4 122.4h0.6M47.3 124h0.6M45.7 117h0.6M47.2 129.9h0.6M46 120.9h0.6M45.9 113.1h0.6M46.6 131.9h0.6M48.3 115.5h0.6M47.8 121.3h0.6M48.8 134.7h0.6M47.1 114.1h0.6M46.2 127.6h0.6M46.8 128.9h0.6M45.9 118.6h0.6M46.9 113.6h0.6M47.5 122.9h0.6M47.7 117.4h0.6M48.7 122.3h0.6M46.8 114.5h0.6M45.9 122.8h0.6M48.4 139.5h0.6M46.2 110.3h0.6M46.6 128.3h0.6M46.1 123.3h0.6M47.9 137.1h0.6M48.4 134.6h0.6M46.3 124.5h0.6M47.5 118.2h0.6M45.7 140.2h0.6M47.8 136.3h0.6M46.1 138.3h0.6M46.6 112.7h0.6M47.4 122.6h0.6M47.1 125h0.6M48.1 119.4h0.6M45.7 117.1h0.6M46.3 120.4h0.6M46.2 115.5h0.6M46.8 140.6h0.6M48.3 138.8h0.6M48.7 129.9h0.6M48.7 128.3h0.6M46.2 141.7h0.6M46.3 126h0.6M46.5 134.4h0.6M47.5 111h0.6M48.3 123.6h0.6M47.2 116.1h0.6M45.7 112.7h0.6M47.8 137h0.6M47.6 133.4h0.6M46.8 121.4h0.6M47.3 113.9h0.6M46.4 135.5h0.6M46.6 121.3h0.6M47.5 135h0.6M46.8 129.4h0.6M46.7 133.1h0.6M46.1 129.1h0.6M48.4 140.7h0.6M47.3 117.7h0.6M48.4 137.9h0.6M47.5 130h0.6M45.8 132.3h0.6M45.7 141.5h0.6M46.2 111.1h0.6M46.8 118.6h0.6M46.1 133.2h0.6M46.7 135.2h0.6M48.5 118h0.6M45.7 125.1h0.6M45.8 137.5h0.6M47.9 141.2h0.6M47.9 141.1h0.6M57.9 144.1h0.6M67.5 142.6h0.6M70.3 142.9h0.6M73.4 143.7h0.6M94.4 143.1h0.6M73.3 142.6h0.6M62.6 143.9h0.6M81.6 142.7h0.6M90.4 143.5h0.6M80.1 144h0.6M98.2 141.8h0.6M101.1 143.7h0.6M88 141.4h0.6M95.9 142.6h0.6M51.1 143.1h0.6M78.7 143.8h0.6M47.5 141.8h0.6M61.3 144.2h0.6M82.2 143.4h0.6M84.7 144h0.6M92.6 141.6h0.6M93.2 142.7h0.6M61.4 142.3h0.6M71 144.2h0.6M89.4 143.6h0.6M57.9 141.3h0.6M95.5 144h0.6M48 142h0.6M67.3 142.4h0.6M48.6 140.9h0.6M62 142.5h0.6M93.4 144h0.6M101.3 142.4h0.6M70.1 140.8h0.6M59.5 143.7h0.6M64.3 142.4h0.6M93.2 141.1h0.6M57 143.2h0.6M89.2 141.4h0.6M63.5 142.9h0.6M60.2 142.2h0.6M96.4 141.6h0.6M58.5 142.3h0.6M98.9 141.8h0.6M71 142.4h0.6M102 142.8h0.6M87.1 142.5h0.6M93 140.9h0.6M76.7 142.8h0.6M100.5 144.1h0.6M86.2 143.8h0.6M70.7 142.2h0.6M49.4 143.5h0.6M56.9 141.3h0.6M94.7 143.3h0.6M99 141.3h0.6M47.9 141h0.6M69.2 143.1h0.6M71.3 142h0.6M55.2 142.6h0.6M48.1 140.9h0.6M94.4 141.5h0.6M92.7 141h0.6M95.7 144h0.6M62.9 141.1h0.6M95.9 144h0.6M100.8 140.9h0.6M90.8 141.4h0.6M65.6 143.3h0.6M67.2 143h0.6M74.2 140.9h0.6M97.4 141.9h0.6M74.2 141.2h0.6M70.1 141.9h0.6M49.6 142h0.6M64.4 142.6h0.6M58 143.4h0.6M72.7 140.8h0.6M72.9 143.1h0.6M57.1 144h0.6M51 141.9h0.6M81.7 143.1h0.6M59.7 142.3h0.6M83.4 141.8h0.6M78 142.6h0.6M94.9 140.9h0.6M60.9 143.1h0.6M100.6 142.6h0.6M93.6 141.7h0.6M73.9 140.8h0.6M65.7 144h0.6M57.9 143.1h0.6M78 140.9h0.6M56.5 143.5h0.6M66.1 141.1h0.6M49.8 142.3h0.6M83.6 141.1h0.6M79.9 144h0.6M84.3 143h0.6M93.5 143.2h0.6M77 141.9h0.6M67 141.9h0.6M60.3 140.9h0.6M75.4 143.9h0.6M70.7 141.2h0.6M70.8 142.9h0.6M61.2 141.4h0.6M57.2 141h0.6M90.7 140.9h0.6M100.8 141.9h0.6M83.6 141.1h0.6M80 143.7h0.6M55.8 142.9h0.6M71.2 141.4h0.6M98.9 140.8h0.6M100 142.4h0.6M50.3 143.7h0.6M93.3 141.6h0.6M58.3 142.8h0.6M99.1 141.6h0.6M58.8 144.2h0.6M89.4 141.6h0.6M99.8 141.4h0.6M48.8 142.9h0.6M46.9 141.7h0.6M76.1 143.8h0.6M70.4 143.5h0.6M98.9 143.2h0.6M62.6 144.1h0.6M47.3 142.2h0.6M94.9 140.8h0.6M79.9 141.8h0.6M75 141.6h0.6M81.5 141.3h0.6M96.8 142.1h0.6M60.9 140.9h0.6M60.3 140.7h0.6M101.6 142.6h0.6M75.2 141.2h0.6M48.1 143.7h0.6M88.8 141.1h0.6M77.8 141h0.6M48.8 142.8h0.6M67.2 143.6h0.6M79.4 143.5h0.6M94.6 143.8h0.6M83.2 142.4h0.6M81.9 141.6h0.6M88 140.8h0.6M69.8 144.1h0.6M91.7 142.8h0.6M86.8 144.1h0.6M51.5 143.7h0.6M86.8 143.1h0.6M96.2 143.5h0.6M99 141.3h0.6M70.9 143.9h0.6M53 143.8h0.6M78 142.4h0.6M51.7 142.3h0.6M78.3 142.5h0.6M88.1 142.8h0.6M79.4 141.3h0.6M85 144.1h0.6M88.2 142h0.6M73 140.8h0.6M60.6 142.9h0.6M90.3 141.2h0.6M74.7 144.3h0.6M85.3 144h0.6M67.9 143.4h0.6M96.9 140.9h0.6M68.3 143.7h0.6M79.8 141.4h0.6M81.7 143h0.6M75.8 141.3h0.6M90.7 143.3h0.6M61.2 143.2h0.6M49.7 142h0.6M54.9 141.6h0.6M70.1 143.7h0.6M85.5 144.1h0.6M54.8 141.3h0.6M69.7 144.3h0.6M81.5 142.7h0.6M57.8 141.9h0.6M82.3 142.5h0.6M82.6 140.9h0.6M59.1 142.5h0.6M96.2 142.9h0.6M99.4 142.6h0.6M98.3 140.8h0.6M58.9 143.4h0.6M64.4 142.5h0.6M76.6 141.3h0.6M91.8 143.7h0.6M47.5 142.9h0.6M60.3 140.8h0.6M82.7 142.3h0.6M58.9 143.4h0.6M58.5 143h0.6M102 142.1h0.6M80.3 143.6h0.6M84.8 142.4h0.6M51.2 141.3h0.6M62.9 141.2h0.6M53 143.9h0.6M60.1 141.6h0.6M53.7 142.8h0.6M52.5 141.6h0.6M89.2 141.9h0.6M61.7 141.9h0.6M96.3 140.8h0.6M46.8 140.7h0.6M64.1 141h0.6M63.1 143.3h0.6M68.8 141.7h0.6M78.6 142.3h0.6M74.4 142.9h0.6M65.7 142.5h0.6M65.2 143.9h0.6M85.9 143.5h0.6M63.9 143.9h0.6M85.2 141.8h0.6M74.4 144.3h0.6M59.6 144.1h0.6M88.4 143.1h0.6M76.4 143.6h0.6M81.8 141.4h0.6M50.5 144.2h0.6M71.9 141.4h0.6M74.9 143.6h0.6M69.3 140.8h0.6M67.1 143.5h0.6M53.6 142.8h0.6M74 142.2h0.6M89.7 141.7h0.6M78.9 142.4h0.6M63.5 141.7h0.6M57 142h0.6M67.1 144.3h0.6M63.8 142h0.6M56.8 143.8h0.6M69.2 142.3h0.6M66.2 143.8h0.6M76 143.3h0.6M92.7 143.8h0.6M66.2 143.3h0.6M83.9 142.9h0.6M55.7 143.9h0.6M59.5 143.1h0.6M94.4 143.7h0.6M87.9 143.1h0.6M86.2 142.4h0.6M92.1 141.7h0.6M96.2 141.9h0.6M98.7 143.7h0.6M86.9 141.6h0.6M98.2 141.7h0.6M61.2 144.2h0.6M72.9 143.1h0.6M56.8 141.9h0.6M52.1 143.2h0.6M68.4 142.3h0.6M65.2 140.9h0.6M81.6 144h0.6M69 140.9h0.6M54.9 144.1h0.6M74 142.2h0.6M64.7 142.7h0.6M89.2 142.5h0.6M84.8 142.4h0.6M99.7 143.7h0.6M100.3 141.9h0.6M78.4 144.3h0.6M60.8 142.8h0.6M77.8 143.7h0.6M62.9 141.3h0.6M75.3 141.4h0.6M88.7 141.8h0.6M86.7 143.8h0.6M71.9 142.2h0.6M63.3 143.6h0.6M47.9 143.1h0.6M94.3 141.3h0.6M92.8 142.5h0.6M80.1 141.2h0.6M91.5 142.5h0.6M57.1 141.3h0.6M83.1 143.1h0.6M62.6 142.3h0.6M92.2 142.8h0.6M68.6 142.3h0.6M73.1 142.8h0.6M66.6 142.2h0.6M70.1 141.8h0.6M95 144.1h0.6M100.7 142.6h0.6M61.2 141.2h0.6M91.1 142h0.6M127.8 118.1h0.6M103.1 55.8h0.6M96.1 118.1h0.6M106.1 68.5h0.6M122.2 57.6h0.6M149.9 135.6h0.6M59.5 53.2h0.6M145.3 134.4h0.6M94.2 106.9h0.6M111.1 68.9h0.6M90.1 65.5h0.6M93.9 104.9h0.6M86.9 68.1h0.6M126.8 106.3h0.6M96.5 107.9h0.6M127.5 41.9h0.6M55.4 68.5h0.6M47 121.1h0.6M70.2 54.5h0.6M69.4 123h0.6M71.7 126.2h0.6M92 130.8h0.6M116.2 138.1h0.6M141.8 79.6h0.6M113.8 44h0.6M141.2 45.6h0.6M100 105.3h0.6M124.8 46.1h0.6M140.1 97.4h0.6M119 73.7h0.6M88.1 115.7h0.6M132.3 87.3h0.6M127.6 75.8h0.6M149.7 112.8h0.6M107.2 65.2h0.6M69 46.7h0.6M45.2 56.9h0.6M69.2 141.4h0.6M132.7 139.6h0.6M74.4 141.9h0.6M91.1 138h0.6M135.7 113.9h0.6M85.7 106.6h0.6M113.2 134.5h0.6M89.3 126.9h0.6M96.9 128.4h0.6M110 121h0.6M112.8 128.9h0.6M143.2 134.7h0.6M112.8 124.4h0.6M150.3 122.3h0.6M115.7 122.5h0.6M111.3 106.6h0.6M97.4 119.8h0.6M105.2 120.5h0.6M117.4 132.8h0.6M88.9 137.1h0.6M84.7 120.8h0.6M125.3 134.4h0.6M117.9 125.5h0.6M114.7 117.3h0.6M123.4 106.2h0.6M80.2 117.4h0.6M79.3 140.4h0.6M96.6 138.4h0.6M96.6 142.7h0.6M131.4 136.5h0.6M143.8 130.6h0.6M120 107.2h0.6M137.3 107.9h0.6M137.8 138.6h0.6M106.1 110.5h0.6M119.7 110.1h0.6M138.5 141.5h0.6M150.3 121.6h0.6M138.8 108.6h0.6M107.5 114.1h0.6M81.8 114.5h0.6M94 124.7h0.6M116.6 108.1h0.6M90.9 125.5h0.6M133.2 117.8h0.6M95.4 108.3h0.6M109 122.6h0.6M106.2 128.6h0.6M107.6 118.2h0.6M128.2 118.4h0.6M150.7 143.2h0.6M133.6 139.7h0.6M131.6 118h0.6M140.6 134.5h0.6M106.5 138.9h0.6M93.2 132h0.6M92.4 133h0.6M82.3 108.2h0.6M80.3 137.3h0.6" stroke="#4a4a4a" stroke-width="0.6"/>
<rect x="45" y="66" width="4.6" height="79" fill="url(#vb1)" fill-opacity="0.95"/>
<rect x="44.7" y="140.5" width="57" height="4.2" fill="url(#hb1)" fill-opacity="0.92"/>
<path d="M90.7 105.3 89.7 105.4 88.7 105.2 88.2 105 87.7 104.7 87.2 104.2 86.7 103.2 86.6 102.7 86.5 101.7 86.5 100.7 86.6 99.7 86.7 98.7 86.8 98.2 86.9 97.2 87.2 96.2 87.3 95.7 87.5 94.7 87.7 93.9 87.9 93.2 88.1 92.2 88.3 91.7 88.6 90.7 88.8 90.2 89.2 89.2 89.4 88.7 89.7 88.1 90.1 87.2 90.3 86.7 90.7 86 91.1 85.2 91.3 84.7 91.7 83.8 92 83.2 92.2 82.7 92.7 81.8 93.1 81.2 93.4 80.7 93.8 80.2 94.2 79.7 94.7 79.1 95.2 78.6 95.7 78.1 96.2 77.5 96.7 77 97.2 76.4 97.7 75.9 98.2 75.4 98.7 74.9 99.2 74.5 99.7 74 100.2 73.6 100.8 73.2 101.6 72.7 102.2 72.4 102.7 72.2 103.7 71.8 104.7 71.8 105.7 72 106.2 72.2 106.8 72.7 107.2 73.2 107.7 73.9 108.1 74.7 108.4 75.2 108.7 75.9 109 76.7 109.2 77.5 109.3 78.2 109.4 79.2 109.4 80.2 109.3 81.2 109.2 81.7 109 82.7 108.7 83.7 108.6 84.2 108.3 85.2 108.1 85.7 107.8 86.7 107.6 87.2 107.3 88.2 107.1 88.7 106.7 89.6 106.4 90.2 106.1 90.7 105.7 91.4 105.2 92.2 104.8 92.7 104.4 93.2 104 93.7 103.6 94.2 103.2 94.7 102.7 95.4 102.2 96.2 101.9 96.7 101.6 97.2 101.2 97.8 100.7 98.6 100.3 99.2 99.9 99.7 99.5 100.2 99.1 100.7 98.6 101.2 98.1 101.7 97.6 102.2 97 102.7 96.3 103.2 95.7 103.6 95.2 103.8 94.4 104.2 93.7 104.5 93 104.7 92.2 105 91.2 105.2 90.7 105.3ZM92.2 103.2 91.2 103.3 90.3 103.2 89.7 103 89.2 102.7 88.7 102.2 88.2 101.2 88.1 100.7 88 99.7 88 98.7 88 97.7 88.2 96.7 88.2 96.2 88.4 95.2 88.6 94.2 88.8 93.7 89 92.7 89.2 92 89.5 91.2 89.7 90.5 90 89.7 90.2 89.2 90.7 88.2 91 87.7 91.2 87.2 91.7 86.2 91.9 85.7 92.2 85.1 92.6 84.2 92.9 83.7 93.2 83.1 93.7 82.2 94 81.7 94.4 81.2 94.8 80.7 95.2 80.2 95.7 79.7 96.2 79.2 96.7 78.6 97.2 78.1 97.7 77.6 98.2 77.2 98.7 76.7 99.2 76.2 99.8 75.7 100.5 75.2 101.2 74.8 101.7 74.5 102.6 74.2 103.2 74 104.2 74 105.1 74.2 105.7 74.5 106.2 74.9 106.7 75.4 107.2 76.2 107.5 76.7 107.7 77.3 108 78.2 108.1 79.2 108.2 80.2 108.1 81.2 107.9 82.2 107.7 83.2 107.6 83.7 107.4 84.7 107.2 85.3 106.9 86.2 106.7 86.9 106.4 87.7 106.2 88.2 105.8 89.2 105.5 89.7 105.2 90.3 104.7 91.1 104.3 91.7 103.9 92.2 103.5 92.7 103.1 93.2 102.7 93.8 102.2 94.4 101.7 95.1 101.3 95.7 101 96.2 100.7 96.8 100.2 97.6 99.8 98.2 99.4 98.7 99 99.2 98.6 99.7 98.1 100.2 97.6 100.7 97 101.2 96.3 101.7 95.7 102.1 95.2 102.4 94.4 102.7 93.7 102.9 92.7 103.2 92.2 103.2Z" fill="none" stroke="#111" stroke-width="0.95"/>
<path d="M88.7 140.3 87.7 140.3 87 140.2 86.2 140 85.5 139.7 84.7 139.2 84.2 138.9 83.7 138.5 83.2 138.2 82.6 137.7 82 137.2 81.4 136.7 80.8 136.2 80.2 135.7 79.7 135.4 79.2 135 78.7 134.6 78.2 134.2 77.7 133.7 77.1 133.2 76.6 132.7 76.1 132.2 75.7 131.7 75.2 131.1 74.7 130.4 74.3 129.7 74 129.2 73.7 128.4 73.5 127.7 73.2 126.7 73.1 126.2 72.9 125.2 72.8 124.2 72.7 123.3 72.6 122.7 72.4 121.7 72.2 120.7 72.1 120.2 71.9 119.2 71.7 118.6 71.4 117.7 71.2 117.1 70.7 116.2 70.4 115.7 69.9 115.2 69.3 114.7 68.7 114.4 68.2 114.1 67.2 113.8 66.7 113.7 65.7 113.4 65.2 113.2 64.2 112.8 63.7 112.6 62.8 112.2 62.2 111.9 61.7 111.6 61.2 111.2 60.5 110.7 59.9 110.2 59.4 109.7 59 109.2 58.5 108.7 58.2 108.2 57.7 107.6 57.2 106.9 56.7 106.2 56.3 105.7 56 105.2 55.6 104.7 55.2 104 54.8 103.2 54.5 102.7 54.2 102.2 53.7 101.2 53.5 100.7 53.2 100.1 52.9 99.2 52.7 98.6 52.5 97.7 52.4 96.7 52.4 95.7 52.4 94.7 52.5 93.7 52.5 92.7 52.5 91.7 52.5 90.7 52.7 89.7 52.8 89.2 53.1 88.2 53.3 87.7 53.7 86.8 54 86.2 54.2 85.7 54.7 84.7 55 84.2 55.2 83.7 55.7 82.9 56.2 82.2 56.6 81.7 57 81.2 57.6 80.7 58.1 80.2 58.7 79.7 59.2 79.3 59.7 78.8 60.2 78.3 60.7 77.8 61.2 77.3 61.7 76.7 62.1 76.2 62.5 75.7 62.9 75.2 63.4 74.7 63.9 74.2 64.6 73.7 65.2 73.3 65.7 73.1 66.5 72.7 67.2 72.5 68 72.2 68.7 72 69.7 71.7 70.2 71.5 71.2 71.3 71.7 71.2 72.7 71 73.7 70.8 74.7 70.7 75.2 70.7 76.2 70.6 77.2 70.4 78.2 70.3 78.8 70.2 79.7 70 80.7 69.9 81.7 69.8 82.7 69.7 83.2 69.7 84.2 69.6 85.2 69.5 86.2 69.5 87.2 69.5 88.2 69.5 89.2 69.5 90.2 69.4 91.2 69.3 92.1 69.2 92.7 69.1 93.7 68.9 94.3 68.7 95.2 68.4 95.9 68.2 96.7 67.9 97.3 67.7 98.2 67.4 98.7 67.2 99.7 66.9 100.3 66.7 101.2 66.4 102.2 66.2 102.7 66.1 103.7 66 104.7 65.9 105.7 65.9 106.7 66 107.7 66.2 108.2 66.3 109.2 66.6 109.7 66.8 110.4 67.2 111.2 67.7 111.7 68.1 112.2 68.6 112.7 69.2 113 69.7 113.3 70.2 113.7 71.1 113.9 71.7 114.2 72.4 114.4 73.2 114.7 74.2 114.8 74.7 115 75.7 115.1 76.7 115.2 77.2 115.3 78.2 115.3 79.2 115.3 80.2 115.2 81.2 115.2 81.7 115.1 82.7 115 83.7 115 84.7 114.9 85.7 114.8 86.7 114.7 87.7 114.7 88.7 114.9 89.7 115.2 90.6 115.5 91.2 115.9 91.7 116.4 92.2 116.9 92.7 117.4 93.2 118 93.7 118.5 94.2 118.9 94.7 119.4 95.2 119.7 95.7 120.2 96.5 120.5 97.2 120.7 97.8 120.9 98.7 120.9 99.7 120.8 100.7 120.7 101.4 120.5 102.2 120.2 102.8 119.7 103.7 119.4 104.2 118.9 104.7 118.3 105.2 117.7 105.6 117.2 105.8 116.2 106.2 115.7 106.3 114.7 106.5 113.7 106.6 112.7 106.6 111.7 106.6 110.7 106.7 109.7 106.7 108.7 106.7 108.2 106.7 107.2 106.9 106.3 107.2 105.7 107.5 105.2 107.8 104.6 108.2 103.9 108.7 103.4 109.2 102.9 109.7 102.4 110.2 102 110.7 101.6 111.2 101.2 111.7 100.7 112.5 100.3 113.2 100 113.7 99.7 114.3 99.2 115.2 99 115.7 98.7 116.4 98.4 117.2 98.2 117.7 97.9 118.7 97.8 119.7 97.7 120.5 97.7 121.2 97.6 122.2 97.6 123.2 97.6 124.2 97.5 125.2 97.3 126.2 97.2 127 97.1 127.7 96.9 128.7 96.7 129.4 96.5 130.2 96.2 131.2 96 131.7 95.7 132.5 95.4 133.2 95.1 133.7 94.7 134.4 94.2 135.1 93.8 135.7 93.5 136.2 93.1 136.7 92.7 137.3 92.2 138 91.7 138.6 91.2 139.1 90.7 139.5 90.2 139.8 89.2 140.2 88.7 140.3ZM88.7 136.9 87.7 137.1 86.7 137 86 136.7 85.2 136.3 84.7 136 84.2 135.6 83.7 135.1 83.2 134.7 82.6 134.2 82 133.7 81.4 133.2 80.7 132.7 80.2 132.3 79.7 132 79.2 131.6 78.7 131.2 78.1 130.7 77.5 130.2 77 129.7 76.6 129.2 76.2 128.6 75.8 127.7 75.6 127.2 75.3 126.2 75.2 125.7 75.1 124.7 75 123.7 74.9 122.7 74.8 121.7 74.7 121 74.6 120.2 74.4 119.2 74.3 118.2 74.2 117.7 74 116.7 73.7 115.8 73.5 115.2 73.2 114.7 72.7 113.9 72.2 113.4 71.7 113 71.2 112.6 70.4 112.2 69.7 111.9 69.1 111.7 68.2 111.4 67.3 111.2 66.7 111 65.7 110.7 65.2 110.6 64.3 110.2 63.7 109.9 63.2 109.7 62.4 109.2 61.8 108.7 61.2 108.2 60.7 107.7 60.3 107.2 59.9 106.7 59.5 106.2 59.1 105.7 58.7 105.1 58.2 104.4 57.7 103.7 57.4 103.2 57.1 102.7 56.7 102.1 56.2 101.2 56 100.7 55.7 100.1 55.4 99.2 55.2 98.7 55 97.7 54.9 96.7 54.9 95.7 54.9 94.7 55 93.7 55.1 92.7 55.2 91.7 55.2 91.2 55.4 90.2 55.6 89.2 55.7 88.7 56.1 87.7 56.3 87.2 56.7 86.3 57 85.7 57.3 85.2 57.7 84.5 58.2 83.8 58.7 83.2 59.2 82.7 59.7 82.2 60.2 81.7 60.7 81.3 61.2 80.9 61.7 80.5 62.2 80.1 62.7 79.7 63.2 79.2 63.7 78.7 64.2 78.2 64.7 77.7 65.3 77.2 65.9 76.7 66.6 76.2 67.2 75.8 67.7 75.6 68.5 75.2 69.2 74.9 69.7 74.7 70.7 74.3 71.2 74.1 72.2 73.8 72.8 73.7 73.7 73.5 74.7 73.4 75.7 73.3 76.7 73.2 77.2 73.1 78.2 73 79.2 72.9 80.2 72.8 81.1 72.7 81.7 72.7 82.7 72.6 83.7 72.6 84.7 72.6 85.7 72.6 86.7 72.6 87.7 72.6 88.7 72.5 89.7 72.5 90.7 72.3 91.2 72.2 92.2 71.9 92.8 71.7 93.7 71.4 94.2 71.2 95.2 70.7 95.7 70.5 96.4 70.2 97.2 69.8 97.7 69.6 98.7 69.2 99.2 69 100.1 68.7 100.7 68.5 101.7 68.3 102.3 68.2 103.2 68.1 104.2 68 105.2 68.1 106.2 68.2 106.7 68.3 107.7 68.5 108.2 68.7 109.2 69.1 109.7 69.5 110.2 69.8 110.7 70.3 111.2 70.9 111.7 71.7 112 72.2 112.2 72.7 112.7 73.7 112.8 74.2 113.1 75.2 113.2 75.7 113.4 76.7 113.5 77.7 113.6 78.7 113.6 79.7 113.5 80.7 113.4 81.7 113.4 82.7 113.3 83.7 113.2 84.3 113.1 85.2 113 86.2 112.8 87.2 112.7 88.2 112.6 88.7 112.6 89.7 112.6 90.7 112.7 91.3 113.1 92.2 113.4 92.7 114 93.2 114.7 93.7 115.2 94 115.7 94.3 116.2 94.7 116.8 95.2 117.4 95.7 117.8 96.2 118.2 96.7 118.7 97.5 119 98.2 119.2 99.2 119.2 100.2 119 101.2 118.7 101.9 118.3 102.7 117.9 103.2 117.3 103.7 116.7 104.1 116.2 104.4 115.3 104.7 114.7 104.8 113.7 105 112.7 105 111.7 104.9 110.7 104.8 110.1 104.7 109.2 104.5 108.2 104.3 107.2 104.2 106.2 104.3 105.2 104.7 104.7 105 104.2 105.3 103.7 105.7 103.2 106.2 102.7 106.7 102.2 107.2 101.7 107.7 101.2 108.3 100.7 108.8 100.2 109.4 99.7 110 99.2 110.6 98.7 111.2 98.3 111.7 98 112.2 97.7 112.7 97.2 113.5 96.8 114.2 96.6 114.7 96.2 115.6 96 116.2 95.7 117.2 95.6 117.7 95.5 118.7 95.4 119.7 95.4 120.7 95.5 121.7 95.5 122.7 95.5 123.7 95.5 124.7 95.4 125.7 95.3 126.7 95.2 127.2 95 128.2 94.7 129.2 94.6 129.7 94.2 130.7 94 131.2 93.7 131.9 93.2 132.7 92.9 133.2 92.5 133.7 92.1 134.2 91.7 134.7 91.2 135.2 90.6 135.7 90 136.2 89.2 136.7 88.7 136.9ZM88.2 133.8 87.2 133.7 86.7 133.6 86 133.2 85.4 132.7 84.8 132.2 84.2 131.7 83.7 131.2 83.2 130.8 82.7 130.3 82.2 129.8 81.7 129.4 81.2 128.9 80.7 128.3 80.2 127.8 79.7 127.2 79.4 126.7 79.1 126.2 78.7 125.4 78.5 124.7 78.2 123.8 78.1 123.2 77.9 122.2 77.8 121.2 77.7 120.6 77.6 119.7 77.6 118.7 77.5 117.7 77.3 116.7 77.2 116 77 115.2 76.7 114.6 76.3 113.7 75.9 113.2 75.5 112.7 75.1 112.2 74.5 111.7 73.7 111.2 73.2 110.9 72.7 110.7 71.7 110.3 71.2 110.1 70.2 109.8 69.7 109.6 68.7 109.4 68.1 109.2 67.2 108.9 66.4 108.7 65.7 108.4 65.2 108.2 64.3 107.7 63.7 107.3 63.2 106.9 62.7 106.5 62.2 106 61.7 105.4 61.2 104.8 60.7 104.2 60.4 103.7 60 103.2 59.6 102.7 59.2 102 58.7 101.2 58.4 100.7 58.1 100.2 57.7 99.2 57.5 98.7 57.3 97.7 57.2 97.1 57.2 96.2 57.2 95.3 57.3 94.7 57.4 93.7 57.5 92.7 57.6 91.7 57.7 90.7 57.8 90.2 58 89.2 58.2 88.6 58.6 87.7 58.8 87.2 59.2 86.4 59.6 85.7 60 85.2 60.4 84.7 60.8 84.2 61.4 83.7 62 83.2 62.6 82.7 63.2 82.3 63.7 81.9 64.2 81.6 64.7 81.2 65.4 80.7 66 80.2 66.5 79.7 67.1 79.2 67.7 78.8 68.2 78.4 68.7 78 69.2 77.7 70.1 77.2 70.7 76.9 71.2 76.7 72.2 76.3 72.7 76.1 73.7 75.8 74.3 75.7 75.2 75.6 76.2 75.4 77.2 75.4 78.2 75.3 79.1 75.2 79.7 75.1 80.7 75.1 81.7 75 82.7 75 83.7 75 84.7 75.1 85.7 75.2 86.4 75.2 87.2 75.2 88.2 75.3 89.2 75.3 89.9 75.2 90.7 75 91.7 74.7 92.2 74.5 92.8 74.2 93.7 73.7 94.2 73.5 94.7 73.2 95.6 72.7 96.2 72.4 96.7 72.1 97.6 71.7 98.2 71.4 98.7 71.2 99.7 70.8 100.2 70.6 101.2 70.3 101.7 70.2 102.7 70 103.7 70 104.7 70 105.7 70.2 106.2 70.3 107.2 70.6 107.7 70.8 108.3 71.2 108.9 71.7 109.5 72.2 109.9 72.7 110.2 73.2 110.7 74 111 74.7 111.2 75.2 111.5 76.2 111.7 77.1 111.8 77.7 111.9 78.7 111.9 79.7 111.9 80.7 111.8 81.7 111.8 82.7 111.7 83.4 111.6 84.2 111.5 85.2 111.4 86.2 111.2 87.2 111.1 87.7 110.9 88.7 110.7 89.7 110.6 90.2 110.5 91.2 110.4 92.2 110.4 93.2 110.6 94.2 110.9 94.7 111.5 95.2 112.2 95.5 113.1 95.7 113.7 95.9 114.7 96.2 115.2 96.5 115.7 96.8 116.2 97.2 116.7 97.8 117.2 98.7 117.3 99.2 117.3 100.2 117.2 100.7 116.7 101.7 116.3 102.2 115.7 102.6 115.2 102.9 114.2 103.2 113.7 103.3 112.7 103.3 112.2 103.2 111.2 102.9 110.7 102.7 109.7 102.2 109.2 101.9 108.7 101.6 107.7 101.4 106.7 101.5 106 101.7 105.2 102 104.7 102.3 104.1 102.7 103.3 103.2 102.7 103.7 102.2 104.2 101.7 104.7 101.3 105.2 100.8 105.7 100.4 106.2 100 106.7 99.5 107.2 99 107.7 98.5 108.2 98 108.7 97.5 109.2 97 109.7 96.5 110.2 96.1 110.7 95.6 111.2 95.2 111.7 94.7 112.3 94.2 113 93.7 113.7 93.5 114.2 93.2 115 93 115.7 92.8 116.7 92.7 117.7 92.7 118.2 92.7 119.2 92.7 119.7 92.8 120.7 93 121.7 93.2 122.7 93.2 123.2 93.3 124.2 93.4 125.2 93.3 126.2 93.2 127.2 93.1 127.7 92.8 128.7 92.7 129.2 92.3 130.2 92 130.7 91.7 131.2 91.2 131.9 90.7 132.4 90.2 132.9 89.7 133.2 88.7 133.7 88.2 133.8ZM84.7 115.8 84.1 115.7 83.3 115.2 82.8 114.7 82.4 114.2 82 113.7 81.5 113.2 81.1 112.7 80.5 112.2 80 111.7 79.5 111.2 78.9 110.7 78.3 110.2 77.7 109.8 77.2 109.4 76.7 109.2 75.7 108.7 75.2 108.6 74.2 108.3 73.6 108.2 72.7 108 71.7 107.8 71.2 107.7 70.2 107.5 69.2 107.2 68.7 107.1 67.7 106.8 67.2 106.6 66.4 106.2 65.7 105.8 65.2 105.5 64.7 105.1 64.2 104.6 63.7 104.1 63.2 103.5 62.7 102.8 62.3 102.2 62 101.7 61.7 101.2 61.2 100.4 60.8 99.7 60.6 99.2 60.2 98.2 60.1 97.7 60 96.7 60 95.7 60.1 94.7 60.1 93.7 60.2 92.8 60.2 92.2 60.3 91.2 60.4 90.2 60.6 89.2 60.8 88.7 61.2 87.7 61.5 87.2 61.8 86.7 62.2 86.2 62.7 85.7 63.2 85.2 63.8 84.7 64.5 84.2 65.2 83.8 65.7 83.4 66.2 83.1 66.8 82.7 67.4 82.2 68.1 81.7 68.7 81.2 69.2 80.7 69.7 80.3 70.2 80 70.7 79.6 71.4 79.2 72.2 78.8 72.7 78.5 73.5 78.2 74.2 78 75.2 77.7 75.7 77.6 76.7 77.5 77.7 77.4 78.7 77.3 79.7 77.3 80.7 77.3 81.7 77.3 82.7 77.3 83.7 77.3 84.7 77.4 85.7 77.5 86.7 77.5 87.7 77.6 88.7 77.6 89.7 77.6 90.7 77.5 91.7 77.2 92.2 77 92.8 76.7 93.7 76.2 94.2 75.8 94.7 75.5 95.2 75.2 95.9 74.7 96.7 74.2 97.2 74 97.7 73.7 98.7 73.2 99.2 73 100.1 72.7 100.7 72.5 101.7 72.2 102.2 72.2 103.2 72 104.2 72.1 105 72.2 105.7 72.4 106.4 72.7 107.2 73.2 107.7 73.6 108.2 74.1 108.7 74.7 109 75.2 109.3 75.7 109.7 76.7 109.8 77.2 110 78.2 110.1 79.2 110.2 80.2 110.2 80.7 110.2 81.7 110.2 82.2 110.2 83.2 110.1 84.2 110 85.2 109.9 86.2 109.7 87.2 109.6 87.7 109.4 88.7 109.2 89.3 109 90.2 108.7 91.1 108.6 91.7 108.3 92.7 108.2 93.2 108 94.2 107.7 95.2 107.6 95.7 107.2 96.7 106.9 97.2 106.6 97.7 106.2 98.3 105.7 98.8 105.2 99.3 104.7 99.7 104.1 100.2 103.5 100.7 102.8 101.2 102.2 101.7 101.7 102.1 101.2 102.6 100.7 103.1 100.2 103.6 99.7 104.2 99.2 104.7 98.8 105.2 98.3 105.7 97.7 106.2 97.2 106.7 96.7 107.1 96.2 107.5 95.7 107.9 95.2 108.2 94.5 108.7 93.7 109.2 93.2 109.5 92.7 109.8 91.8 110.2 91.2 110.5 90.7 110.7 89.8 111.2 89.2 111.6 88.7 112 88.2 112.4 87.7 113 87.2 113.6 86.8 114.2 86.4 114.7 85.9 115.2 85.2 115.7 84.7 115.8ZM114.2 100.7 113.2 100.7 112.7 100.3 112.5 99.7 112.8 99.2 113.7 98.9 114.4 99.2 114.7 99.7 114.7 100.2 114.2 100.7ZM89.2 130 88.2 130.1 87.4 129.7 86.8 129.2 86.4 128.7 86.1 128.2 85.8 127.2 85.7 126.2 85.9 125.2 86.2 124.6 86.7 123.9 87.2 123.3 87.7 122.8 88.2 122.5 89.2 122.4 89.7 122.7 90.3 123.2 90.7 123.9 91 124.7 91.1 125.7 91.1 126.7 90.9 127.7 90.7 128.3 90.2 129.1 89.7 129.6 89.2 130ZM93.2 106.7 92.2 107 91.2 107.1 90.2 107.1 89.2 107 88.2 106.9 87.2 106.8 86.3 106.7 85.7 106.6 84.7 106.5 83.7 106.4 82.7 106.3 82.2 106.2 81.2 106 80.2 105.9 79.2 105.8 78.4 105.7 77.7 105.6 76.7 105.6 75.7 105.6 74.7 105.6 73.7 105.6 72.7 105.5 71.7 105.4 70.7 105.2 70.2 105.1 69.2 104.8 68.7 104.7 67.7 104.2 67.2 103.9 66.7 103.6 66.2 103.2 65.7 102.7 65.2 102 64.7 101.3 64.4 100.7 64.1 100.2 63.7 99.2 63.5 98.7 63.2 97.7 63.2 97.2 63.1 96.2 63.1 95.2 63.1 94.2 63 93.2 63 92.2 63 91.2 63.1 90.2 63.2 89.6 63.5 88.7 63.8 88.2 64.2 87.6 64.7 87 65.2 86.6 65.7 86.2 66.3 85.7 67.1 85.2 67.7 84.8 68.2 84.4 68.7 84.1 69.2 83.7 69.8 83.2 70.4 82.7 71 82.2 71.7 81.7 72.2 81.3 72.7 81 73.2 80.7 74.2 80.2 74.7 80.1 75.7 79.7 76.2 79.6 77.2 79.4 78.2 79.3 79.2 79.2 80.2 79.2 81.2 79.2 82.2 79.3 83.2 79.3 84.2 79.4 85.2 79.4 86.2 79.5 87.2 79.6 88.2 79.7 89.2 79.7 90.2 79.6 91.2 79.5 92.1 79.2 92.7 78.9 93.2 78.7 94 78.2 94.7 77.7 95.2 77.3 95.7 76.9 96.2 76.6 96.8 76.2 97.6 75.7 98.2 75.4 98.7 75.1 99.7 74.7 100.2 74.6 101.2 74.3 101.8 74.2 102.7 74.1 103.7 74.1 104.3 74.2 105.2 74.5 105.7 74.7 106.4 75.2 106.9 75.7 107.3 76.2 107.7 76.8 108.1 77.7 108.3 78.2 108.5 79.2 108.6 80.2 108.7 81 108.7 81.7 108.8 82.7 108.7 83.7 108.7 84.4 108.6 85.2 108.5 86.2 108.3 87.2 108.2 87.8 108 88.7 107.7 89.7 107.6 90.2 107.2 91.2 107.1 91.7 106.7 92.7 106.5 93.2 106.2 94.1 105.9 94.7 105.7 95.2 105.2 96.2 104.9 96.7 104.6 97.2 104.2 97.7 103.7 98.3 103.2 98.8 102.7 99.2 102.1 99.7 101.5 100.2 100.9 100.7 100.3 101.2 99.8 101.7 99.3 102.2 98.8 102.7 98.4 103.2 97.9 103.7 97.3 104.2 96.8 104.7 96.2 105.1 95.7 105.5 95.2 105.8 94.4 106.2 93.7 106.5 93.2 106.7ZM82.2 104.2 81.2 104.4 80.2 104.5 79.2 104.5 78.2 104.4 77.2 104.3 76.7 104.2 75.7 104 74.8 103.7 74.2 103.5 73.2 103.3 72.7 103.1 71.7 102.9 70.9 102.7 70.2 102.5 69.2 102.3 68.7 102.1 67.7 101.7 67.2 101.4 66.7 101.1 66.1 100.7 65.6 100.2 65.2 99.7 64.7 99 64.2 98.2 64 97.7 63.7 96.7 63.6 96.2 63.5 95.2 63.4 94.2 63.5 93.2 63.7 92.2 63.8 91.7 64.2 90.7 64.4 90.2 64.7 89.6 65.2 88.7 65.5 88.2 65.9 87.7 66.2 87.2 66.7 86.5 67.2 85.9 67.7 85.2 68.1 84.7 68.6 84.2 69 83.7 69.6 83.2 70.2 82.7 70.7 82.4 71.2 82.1 72 81.7 72.7 81.5 73.7 81.2 74.2 81.2 75.2 81 76.2 80.9 77.2 80.9 78.2 80.9 79.2 81 80.2 81.1 81.1 81.2 81.7 81.3 82.7 81.4 83.7 81.5 84.7 81.6 85.2 81.7 86.2 82 86.8 82.2 87.7 82.6 88.2 82.9 88.7 83.2 89.3 83.7 89.9 84.2 90.4 84.7 90.9 85.2 91.3 85.7 91.7 86.3 92.2 87.1 92.5 87.7 92.7 88.2 93.1 89.2 93.2 89.7 93.3 90.7 93.4 91.7 93.3 92.7 93.2 93.4 93 94.2 92.7 95 92.4 95.7 92 96.2 91.7 96.7 91.2 97.2 90.7 97.7 90.2 98.2 89.6 98.7 89.1 99.2 88.5 99.7 88 100.2 87.6 100.7 87.1 101.2 86.7 101.7 86.2 102.2 85.6 102.7 84.9 103.2 84.2 103.6 83.7 103.8 82.7 104.1 82.2 104.2ZM81.7 101.7 80.7 102 79.7 102.1 78.7 102 77.7 101.9 76.9 101.7 76.2 101.5 75.2 101.2 74.7 101.1 73.7 100.8 73.1 100.7 72.2 100.6 71.2 100.4 70.2 100.3 69.7 100.2 68.7 99.9 68.2 99.7 67.3 99.2 66.8 98.7 66.3 98.2 66 97.7 65.7 96.7 65.6 96.2 65.6 95.2 65.7 94.7 66 93.7 66.2 93.2 66.7 92.2 66.9 91.7 67.2 91.2 67.7 90.2 67.9 89.7 68.2 89.2 68.7 88.3 69 87.7 69.3 87.2 69.7 86.7 70.2 86.1 70.7 85.5 71.2 85 71.7 84.6 72.3 84.2 73.2 83.7 73.7 83.5 74.7 83.2 75.2 83.1 76.2 83 77.2 82.9 78.2 82.9 79.2 83 80.2 83.2 80.7 83.3 81.7 83.5 82.7 83.7 83.2 83.8 84.2 84 85.2 84.2 85.7 84.3 86.6 84.7 87.2 85 87.7 85.3 88.2 85.7 88.8 86.2 89.2 86.7 89.7 87.3 90.2 88 90.5 88.7 90.7 89.2 91 90.2 91 91.2 91 92.2 90.7 93.2 90.5 93.7 90.2 94.4 89.7 95.1 89.2 95.7 88.7 96.2 88.2 96.7 87.7 97.1 87.2 97.6 86.7 98 86.2 98.5 85.7 99 85.2 99.4 84.7 99.9 84.2 100.3 83.7 100.7 82.9 101.2 82.2 101.5 81.7 101.7ZM80.7 99.7 79.7 99.8 78.7 99.8 78.2 99.7 77.2 99.4 76.4 99.2 75.7 98.9 75 98.7 74.2 98.5 73.2 98.2 72.7 98.1 71.7 98 70.7 97.9 69.7 97.8 68.7 97.7 68.2 97.5 67.7 97 67.7 96.2 67.8 95.7 68.2 94.9 68.6 94.2 68.9 93.7 69.2 93.2 69.6 92.2 69.8 91.7 70.2 90.8 70.5 90.2 70.7 89.7 71.2 88.8 71.6 88.2 71.9 87.7 72.4 87.2 72.9 86.7 73.4 86.2 74.2 85.7 74.7 85.4 75.3 85.2 76.2 84.9 77.2 84.8 78.2 84.7 79.2 84.8 80.2 84.9 81.2 85.1 81.7 85.2 82.7 85.4 83.6 85.7 84.2 85.9 85 86.2 85.7 86.5 86.2 86.8 86.7 87.2 87.3 87.7 87.8 88.2 88.2 88.9 88.6 89.7 88.7 90.2 88.8 91.2 88.7 92.2 88.6 92.7 88.2 93.6 87.9 94.2 87.5 94.7 87.1 95.2 86.7 95.7 86.2 96.2 85.7 96.7 85.1 97.2 84.6 97.7 83.9 98.2 83.2 98.7 82.7 99 82.2 99.2 81.2 99.6 80.7 99.7ZM80.7 97.8 79.7 97.8 78.8 97.7 78.2 97.6 77.2 97.2 76.7 97 76.1 96.7 75.2 96.2 74.7 95.8 74.2 95.5 73.7 95 73.2 94.4 72.9 93.7 72.7 93.1 72.6 92.2 72.7 91.6 72.9 90.7 73.2 90 73.7 89.2 74 88.7 74.5 88.2 75 87.7 75.7 87.2 76.2 87 76.9 86.7 77.7 86.5 78.7 86.4 79.7 86.4 80.7 86.6 81.4 86.7 82.2 86.9 82.9 87.2 83.7 87.5 84.2 87.8 84.8 88.2 85.4 88.7 85.8 89.2 86.2 89.8 86.6 90.7 86.6 91.7 86.5 92.7 86.2 93.4 85.8 94.2 85.4 94.7 85 95.2 84.5 95.7 84 96.2 83.3 96.7 82.7 97.1 82.2 97.3 81.2 97.7 80.7 97.8ZM81.7 95.9 80.7 96.1 79.7 96.1 78.7 95.9 78.1 95.7 77.2 95.2 76.7 94.9 76.2 94.4 75.7 93.9 75.3 93.2 75.1 92.7 75 91.7 75.2 90.7 75.4 90.2 75.7 89.7 76.2 89.1 76.8 88.7 77.7 88.2 78.2 88.1 79.2 87.9 80.2 87.9 81.2 88.1 81.7 88.3 82.6 88.7 83.2 89.1 83.7 89.5 84.2 90.1 84.6 90.7 84.7 91.2 84.8 92.2 84.7 92.7 84.3 93.7 83.9 94.2 83.5 94.7 82.9 95.2 82.2 95.6 81.7 95.9ZM81.2 94.4 80.2 94.6 79.2 94.4 78.6 94.2 77.8 93.7 77.4 93.2 77.1 92.7 76.9 91.7 77.2 90.7 77.6 90.2 78.2 89.8 78.7 89.6 79.7 89.4 80.7 89.5 81.3 89.7 82.1 90.2 82.6 90.7 82.9 91.2 83.1 92.2 82.7 93.2 82.3 93.7 81.7 94.2 81.2 94.4ZM80.2 93.3 79.5 93.2 78.7 92.7 78.5 92.2 78.7 91.2 79.2 90.8 79.7 90.7 80.3 90.7 81.2 91.2 81.5 91.7 81.3 92.7 80.7 93.2 80.2 93.3ZM90.7 108.8 89.7 108.9 88.7 108.9 87.9 108.7 87.2 108.4 86.7 108.1 86.2 107.7 85.7 107 85.2 106.2 85.1 105.7 84.8 104.7 84.7 103.7 84.7 102.7 84.8 101.7 84.9 100.7 84.9 99.7 85 98.7 85 97.7 85 96.7 85.1 95.7 85.2 95 85.4 94.2 85.7 93.2 85.9 92.7 86.2 92.1 86.7 91.2 87 90.7 87.3 90.2 87.7 89.4 88.1 88.7 88.4 88.2 88.7 87.6 89.1 86.7 89.4 86.2 89.7 85.4 90 84.7 90.2 84.1 90.6 83.2 90.8 82.7 91.2 81.8 91.5 81.2 91.8 80.7 92.2 80.1 92.7 79.4 93.2 78.8 93.7 78.3 94.2 77.8 94.7 77.2 95.2 76.7 95.7 76.2 96.2 75.7 96.6 75.2 97.1 74.7 97.6 74.2 98 73.7 98.5 73.2 99 72.7 99.6 72.2 100.2 71.7 100.7 71.4 101.2 71.1 101.9 70.7 102.7 70.4 103.3 70.2 104.2 70 105.2 69.9 106.2 70.1 106.8 70.2 107.7 70.6 108.2 70.8 108.7 71.2 109.2 71.7 109.7 72.3 110.2 73.2 110.4 73.7 110.7 74.7 110.8 75.2 110.9 76.2 110.9 77.2 110.9 78.2 110.9 79.2 110.8 80.2 110.8 81.2 110.7 82 110.6 82.7 110.4 83.7 110.2 84.6 110 85.2 109.7 86 109.4 86.7 109.2 87.2 108.7 88.1 108.4 88.7 108.2 89.2 107.8 90.2 107.6 90.7 107.2 91.5 106.9 92.2 106.6 92.7 106.2 93.5 105.8 94.2 105.6 94.7 105.2 95.3 104.7 96 104.3 96.7 103.9 97.2 103.6 97.7 103.2 98.2 102.7 99 102.2 99.7 101.9 100.2 101.6 100.7 101.2 101.2 100.7 101.9 100.2 102.5 99.7 103.1 99.2 103.6 98.7 104 98.2 104.5 97.7 104.9 97.2 105.3 96.7 105.7 96.1 106.2 95.4 106.7 94.7 107.2 94.2 107.4 93.7 107.7 92.7 108.2 92.2 108.4 91.2 108.7 90.7 108.8ZM93.2 102.3 92.2 102.5 91.2 102.4 90.7 102.2 90.1 101.7 89.7 101.2 89.3 100.2 89.1 99.7 88.9 98.7 88.8 97.7 88.8 96.7 88.8 95.7 89 94.7 89.2 93.8 89.4 93.2 89.7 92.5 90.1 91.7 90.3 91.2 90.7 90.5 91.1 89.7 91.4 89.2 91.7 88.6 92.2 87.7 92.4 87.2 92.7 86.6 93.1 85.7 93.4 85.2 93.7 84.5 94.1 83.7 94.4 83.2 94.8 82.7 95.2 82.1 95.7 81.5 96.2 81 96.7 80.5 97.2 80 97.7 79.6 98.2 79.2 98.8 78.7 99.5 78.2 100.2 77.8 100.7 77.5 101.2 77.2 102.2 76.8 102.7 76.6 103.7 76.4 104.7 76.5 105.2 76.7 105.8 77.2 106.2 77.7 106.6 78.7 106.8 79.2 106.9 80.2 106.9 81.2 106.8 82.2 106.7 83 106.5 83.7 106.2 84.7 106 85.2 105.7 86.1 105.5 86.7 105.2 87.4 104.9 88.2 104.7 88.7 104.3 89.7 104.1 90.2 103.7 91.1 103.4 91.7 103.2 92.2 102.7 93.1 102.3 93.7 102 94.2 101.6 94.7 101.2 95.2 100.7 95.8 100.2 96.3 99.7 96.9 99.2 97.5 98.7 98.1 98.2 98.7 97.7 99.2 97.3 99.7 96.7 100.2 96.2 100.7 95.7 101 95.2 101.4 94.6 101.7 93.7 102.2 93.2 102.3ZM94.2 99.8 93.2 100.1 92.2 100 91.6 99.7 91.1 99.2 90.7 98.5 90.5 97.7 90.3 96.7 90.3 95.7 90.4 94.7 90.6 93.7 90.8 93.2 91.2 92.2 91.4 91.7 91.7 91.1 92.1 90.2 92.4 89.7 92.7 89.1 93.2 88.2 93.4 87.7 93.7 87.2 94.2 86.2 94.4 85.7 94.7 85.2 95.2 84.3 95.6 83.7 96 83.2 96.4 82.7 96.9 82.2 97.4 81.7 98 81.2 98.7 80.7 99.2 80.3 99.7 80 100.3 79.7 101.2 79.3 101.7 79.1 102.7 79 103.7 79.2 104.2 79.5 104.7 80.2 104.9 80.7 105 81.7 105 82.7 104.9 83.7 104.7 84.4 104.5 85.2 104.2 86.2 104.1 86.7 103.7 87.7 103.6 88.2 103.2 89.2 103 89.7 102.7 90.5 102.4 91.2 102.2 91.7 101.7 92.5 101.2 93.2 100.9 93.7 100.5 94.2 100 94.7 99.5 95.2 99 95.7 98.5 96.2 98 96.7 97.5 97.2 97 97.7 96.5 98.2 95.9 98.7 95.2 99.2 94.7 99.5 94.2 99.8ZM94.2 97.3 93.2 97.2 92.7 96.9 92.3 96.2 92.1 95.7 92.1 94.7 92.2 93.7 92.3 93.2 92.6 92.2 92.8 91.7 93.2 90.7 93.4 90.2 93.7 89.7 94.2 88.7 94.4 88.2 94.7 87.6 95.2 86.7 95.5 86.2 95.8 85.7 96.2 85 96.7 84.4 97.2 83.8 97.7 83.3 98.2 82.9 98.7 82.5 99.2 82.2 100.2 81.8 100.7 81.6 101.7 81.6 102.2 81.9 102.7 82.5 102.9 83.2 103 84.2 103 85.2 102.8 86.2 102.7 86.7 102.5 87.7 102.2 88.6 102 89.2 101.7 90 101.4 90.7 101.2 91.2 100.7 92 100.2 92.7 99.8 93.2 99.3 93.7 98.8 94.2 98.2 94.7 97.7 95.2 97.2 95.6 96.7 95.9 96.2 96.3 95.5 96.7 94.7 97.1 94.2 97.3ZM95.7 94.7 94.7 94.7 94.2 94.4 93.9 93.7 93.9 92.7 94.1 91.7 94.2 91.2 94.6 90.2 94.8 89.7 95.2 88.8 95.5 88.2 95.7 87.7 96.2 86.9 96.7 86.2 97 85.7 97.5 85.2 98 84.7 98.6 84.2 99.2 83.9 99.8 83.7 100.4 83.7 101.2 84.2 101.4 84.7 101.6 85.7 101.5 86.7 101.4 87.7 101.2 88.4 101 89.2 100.7 89.9 100.3 90.7 100 91.2 99.7 91.7 99.2 92.3 98.7 92.8 98.2 93.3 97.7 93.7 96.9 94.2 96.2 94.5 95.7 94.7ZM85.7 145.2 85.2 144.9 84.7 144.5 84.2 144 83.7 143.5 83.2 142.8 82.7 142.2 82.4 141.7 82.1 141.2 81.7 140.4 81.3 139.7 81.1 139.2 80.8 138.2 80.7 137.6 80.6 136.7 80.6 135.7 80.6 134.7 80.6 133.7 80.6 132.7 80.5 131.7 80.3 130.7 80.2 130.1 80 129.2 79.9 128.2 79.8 127.2 79.8 126.2 79.8 125.2 79.8 124.2 79.9 123.2 79.9 122.2 79.9 121.2 80 120.2 80 119.2 80.2 118.2 80.3 117.7 80.5 116.7 80.7 116 80.9 115.2 81.2 114.5 81.6 113.7 81.8 113.2 82.2 112.5 82.7 111.7 83 111.2 83.3 110.7 83.7 110.2 84.2 109.5 84.7 108.9 85.2 108.4 85.7 108 86.2 107.6 86.8 107.2 87.7 106.8 88.2 106.6 89.2 106.5 90.2 106.7 90.7 106.8 91.6 107.2 92.2 107.5 92.7 107.9 93.2 108.2 93.7 108.7 94.2 109.2 94.7 109.7 95.2 110.4 95.7 111.2 96 111.7 96.2 112.2 96.6 113.2 96.7 113.7 97 114.7 97.2 115.3 97.5 116.2 97.7 117 97.9 117.7 98.2 118.7 98.4 119.2 98.6 120.2 98.7 120.7 98.9 121.7 99 122.7 99 123.7 99 124.7 98.9 125.7 98.8 126.7 98.7 127.5 98.6 128.2 98.5 129.2 98.4 130.2 98.3 131.2 98.2 132.2 98.2 132.7 98 133.7 97.9 134.7 97.7 135.5 97.5 136.2 97.2 137.2 97 137.7 96.7 138.4 96.3 139.2 96 139.7 95.7 140.2 95.2 140.9 94.7 141.5 94.2 142.1 93.7 142.6 93.2 143.1 92.7 143.5 92.2 143.9 91.7 144.3 91.1 144.7 90.2 145.2 90.2 145.2M90.7 136.3 89.7 136.5 88.7 136.5 88 136.2 87.3 135.7 86.8 135.2 86.4 134.7 86.1 134.2 85.7 133.5 85.3 132.7 85.1 132.2 84.7 131.2 84.5 130.7 84.2 129.7 84.1 129.2 83.9 128.2 83.7 127.2 83.6 126.7 83.5 125.7 83.5 124.7 83.5 123.7 83.6 122.7 83.7 122.2 83.9 121.2 84.2 120.2 84.3 119.7 84.7 118.9 85.1 118.2 85.4 117.7 85.8 117.2 86.2 116.7 86.7 116.2 87.3 115.7 88.2 115.2 88.7 115.1 89.7 115.1 90.2 115.2 91.1 115.7 91.6 116.2 92 116.7 92.4 117.2 92.7 117.8 93.1 118.7 93.3 119.2 93.6 120.2 93.8 120.7 94.1 121.7 94.2 122.2 94.5 123.2 94.6 124.2 94.6 125.2 94.6 126.2 94.6 127.2 94.5 128.2 94.4 129.2 94.2 130.2 94.1 130.7 93.9 131.7 93.7 132.5 93.5 133.2 93.2 133.8 92.7 134.6 92.2 135.2 91.7 135.7 91.2 136 90.7 136.3ZM89.7 130.3 88.7 130.3 88.2 130 87.7 129.5 87.2 128.8 86.9 128.2 86.7 127.6 86.5 126.7 86.3 125.7 86.4 124.7 86.5 123.7 86.7 123 87.1 122.2 87.5 121.7 88.1 121.2 88.7 121 89.6 121.2 90.2 121.7 90.5 122.2 90.8 122.7 91.2 123.7 91.3 124.2 91.5 125.2 91.5 126.2 91.4 127.2 91.2 128.1 91 128.7 90.7 129.3 90.2 129.9 89.7 130.3Z" fill="none" stroke="#262626" stroke-width="0.6"/>
<ellipse cx="97" cy="90.5" rx="1.6" ry="5.5" fill="#fff" fill-opacity="0.75" transform="rotate(28 97 90.5)"/>
</g>
<rect x="82.3" y="55.9" width="58.4" height="58.1" fill="none" stroke="#000" stroke-width="1.5"/>
<text x="116.3" y="69.4" font-size="11" font-weight="bold">62.8</text>
<g clip-path="url(#cp2)">
<path d="M228.7 80h0.6M218.4 86.1h0.6M222.4 79.7h0.6M240.1 98.2h0.6M216.2 82.4h0.6M235.2 90.1h0.6M215.1 95.7h0.6M231.5 94.8h0.6M235.4 88.9h0.6M219.9 81h0.6M228.8 97.7h0.6M221.3 83.7h0.6M243.3 90.4h0.6M228.6 99.2h0.6M234.8 81.6h0.6M222.9 83.4h0.6M227.1 95.9h0.6M230.4 99.3h0.6M235.1 88.8h0.6M224.8 92.6h0.6M220.6 92.7h0.6M220.9 84.7h0.6M209.7 96.2h0.6M234.6 91h0.6M225.3 99.9h0.6M212.4 93h0.6M226.9 80.9h0.6M218.5 86.1h0.6M209.3 97.4h0.6M232.1 103.9h0.6M226.1 90.7h0.6M231.9 102.5h0.6M223.8 80.2h0.6M210.7 91.2h0.6M215.2 88h0.6M215.1 99h0.6M231.7 106.2h0.6M235 104.3h0.6M214.1 79h0.6M223.4 103.6h0.6M241 92.1h0.6M231.4 102.6h0.6M231.4 88.6h0.6M221 74.3h0.6M215.4 86.2h0.6M215.8 96.9h0.6M230.8 82.4h0.6M224.9 101.7h0.6M224.8 89.9h0.6M238 91.7h0.6M222.6 87.4h0.6M232.7 90.1h0.6M225.2 88.7h0.6M229.2 92.4h0.6M214.6 84.9h0.6M222.4 97.7h0.6M235.3 86.8h0.6M236.2 92h0.6M232 91.4h0.6M232.5 94.7h0.6M223 94.8h0.6M233.2 85.7h0.6M224.8 90.6h0.6M221.1 84.5h0.6M240.4 94.4h0.6M233.4 102.9h0.6M214.3 99.9h0.6M216.8 83.2h0.6M226.1 85.6h0.6M212.6 85.5h0.6M223.6 101.7h0.6M231.2 100h0.6M221 93.2h0.6M225.5 101.4h0.6M227.1 77h0.6M237.2 83.7h0.6M229.3 83.3h0.6M235.7 98.6h0.6M228.6 82.2h0.6M237.7 91.9h0.6M235.7 100h0.6M222.2 81.2h0.6M221 99.3h0.6M231.9 81.8h0.6M223.2 85.4h0.6M221.8 86.8h0.6M215.4 84.7h0.6M233.2 87.4h0.6M232.6 81.4h0.6M228.9 91.4h0.6M242.2 89.7h0.6M216.4 94.6h0.6M220.8 105.4h0.6M226.1 90.9h0.6M229.2 89.5h0.6M228.4 77.1h0.6M223.8 81.6h0.6M238.3 91.7h0.6M224.1 100.3h0.6M230.5 82.1h0.6M239.4 90.9h0.6M224.7 96.3h0.6M226.7 82.6h0.6M238.7 99.9h0.6M225.8 81.3h0.6M220.8 96.3h0.6M236.1 95.4h0.6M233 102.4h0.6M216.8 87.6h0.6M215.9 92.4h0.6M220.9 81h0.6M217.5 100.8h0.6M211.6 82.9h0.6M218.6 97h0.6M227.4 80.8h0.6M241.6 91.5h0.6M223.7 89.8h0.6M216.1 86h0.6M238.2 94.8h0.6M227 82.3h0.6M221.1 86.5h0.6M239 87.6h0.6M232.3 103.5h0.6M216.5 95h0.6M231.9 85.5h0.6M235.5 88.2h0.6M218.9 77.6h0.6M216.1 101.8h0.6M225.6 81.8h0.6M220 92.5h0.6M220.6 90h0.6M221.7 83.9h0.6M234.8 87.6h0.6M238.2 91.6h0.6M224.1 86.2h0.6M235.1 86.6h0.6M216.5 98.8h0.6M226.3 94h0.6M206.8 83.6h0.6M239.4 93.1h0.6M230.5 80.7h0.6M220.6 91.3h0.6M222.6 86.4h0.6M228.9 78.5h0.6M240.9 92.5h0.6M226.2 91.3h0.6M211.9 97.6h0.6M215 83.5h0.6M216.7 99.4h0.6M224.9 96.1h0.6M238.1 92.6h0.6M218.4 94.1h0.6M238.6 86.9h0.6M244.9 93.9h0.6M214.7 84.3h0.6M230.4 103.3h0.6M235.6 89.6h0.6M228.3 85.9h0.6M228.4 100h0.6M241.5 88.7h0.6M219.4 104.4h0.6M222 82.7h0.6M225.1 101h0.6M223.5 98.5h0.6M229.4 92.2h0.6M222.8 100.1h0.6M215.2 96.6h0.6M235.2 92.3h0.6M236.4 91.6h0.6M229.3 91.2h0.6M234.4 84.6h0.6M211.1 98.2h0.6M235.6 86.5h0.6M212.3 92.4h0.6M213.7 87.1h0.6M220.5 95.6h0.6M228.3 81.3h0.6M221.8 96.2h0.6M234.5 72.6h0.6M216.6 97.2h0.6M230.5 94.8h0.6M222.1 92.8h0.6M243.5 93.7h0.6M215.4 98.4h0.6M216.2 97.9h0.6M224.6 86.9h0.6M234.7 90.9h0.6M229.3 95h0.6M213.6 82.7h0.6M230.6 84.8h0.6M217.8 76.4h0.6M227.4 102h0.6M217.4 94.9h0.6M241.6 85.3h0.6M224 90.8h0.6M222.6 85.5h0.6M222.6 98.2h0.6M230.2 78.5h0.6M211.3 86h0.6M228.9 80.8h0.6M225.4 93.7h0.6M227 98.2h0.6M228.7 95.7h0.6M212.2 83.3h0.6M234.1 94.6h0.6M218.2 100.3h0.6M216.1 77.4h0.6M224.1 99.8h0.6M225.1 102.7h0.6M227 98.7h0.6M214.8 92.6h0.6M226.4 81.7h0.6M225 100.2h0.6M214.7 89.1h0.6M235.5 90.5h0.6M206.6 90.9h0.6M225 97.8h0.6M232.5 82.5h0.6M234.2 86.5h0.6M226 90h0.6M218.9 102.3h0.6M213.8 91h0.6M223.8 94.8h0.6M233.1 88h0.6M230.1 91.2h0.6M234.7 83.8h0.6M224.7 105.7h0.6M236 101.8h0.6M228.9 87.2h0.6M226.9 88.2h0.6M239.1 93.8h0.6M220.8 105.6h0.6M235.4 96.2h0.6M225.7 78.1h0.6M230.1 88.7h0.6M223.3 99.4h0.6M217.9 99.4h0.6M235.1 92.6h0.6M234.2 95.9h0.6M239 95.5h0.6M224.6 84.2h0.6M227.8 96.3h0.6M211.9 93.5h0.6M224.4 100.9h0.6M219.3 90.3h0.6M213.7 87.4h0.6M221.1 96.8h0.6M224.8 102.3h0.6M235.3 86.1h0.6M235 87.8h0.6M218.5 92.3h0.6M216.4 96.9h0.6M215.2 90h0.6M207.2 86.9h0.6M236.5 88.7h0.6M221.3 92.7h0.6M214.8 104.8h0.6M228 90.5h0.6M215.1 78.9h0.6M230.9 95.5h0.6M209.6 86.9h0.6M230.3 83.4h0.6M213.6 86.6h0.6M225 100.1h0.6M219.1 97.6h0.6M224.3 80.2h0.6M218.3 88.7h0.6M239.1 92.1h0.6M223.3 95.7h0.6M225.5 84.6h0.6M234.2 93.7h0.6M217.3 96h0.6M210.7 86.2h0.6M223.6 96.7h0.6M223.2 85.5h0.6M231.6 93h0.6M234.5 88h0.6M226.5 80h0.6M231.5 86.5h0.6M216.3 89.9h0.6M217.8 92.5h0.6M221.9 99.7h0.6M227.7 92h0.6M212.4 89.8h0.6M220.5 102.5h0.6M230.8 86.5h0.6M231.5 98.5h0.6M232.8 92.5h0.6M229.7 78.7h0.6M239.7 89.6h0.6M204.4 99.1h0.6M233 85h0.6M224.6 85.2h0.6M228 83.9h0.6M221.3 88.6h0.6M214 90.6h0.6M217.5 83.6h0.6M230.4 79.2h0.6M238.2 87.8h0.6M233.1 86.2h0.6M224.2 77.4h0.6M238.3 86.3h0.6M240.5 93h0.6M231.9 91.3h0.6M225.8 97.1h0.6M234.3 91.3h0.6M217.3 88.2h0.6M226.5 92.1h0.6M237.7 81.6h0.6M234.4 95.7h0.6M228.1 79h0.6M239.5 95.4h0.6M242.4 85.6h0.6M217 99.4h0.6M223.7 101.3h0.6M222.6 96.8h0.6M222.7 81.8h0.6M238.6 79.4h0.6M224.3 88.5h0.6M231.1 96.1h0.6M217.3 98.2h0.6M207.7 92.2h0.6M225.1 96.2h0.6M234.5 88h0.6M222.8 81.6h0.6M218.5 71.5h0.6M226.1 97.1h0.6M215.6 89.3h0.6M227.6 102.9h0.6M222.4 97h0.6M228.2 80.5h0.6M226 101.8h0.6M222 83.7h0.6M226.7 101.5h0.6M231.1 76.1h0.6M232.4 99.2h0.6M233.1 85.8h0.6M233.7 93.1h0.6M228.8 100.9h0.6M217.2 80.1h0.6M218.4 98.6h0.6M232.6 99.9h0.6M239.5 106.3h0.6M218 90.1h0.6M223.6 96.1h0.6M236.3 85.1h0.6M225.8 82.4h0.6M212.1 91.7h0.6M216.3 79.7h0.6M228.1 101.5h0.6M216.4 94.6h0.6M230.8 80.5h0.6M237.1 84.6h0.6M232.6 98.2h0.6M222.2 97.6h0.6M228.1 79.4h0.6M223.6 99.4h0.6M222.6 95.4h0.6M237.8 97.8h0.6M230.7 84.6h0.6M232.9 95.7h0.6M219.5 80.6h0.6M232.7 94.6h0.6M225.1 99.6h0.6M232.3 88.4h0.6M229.4 93.6h0.6M228.7 80.9h0.6M229.7 105.6h0.6M229.3 85.5h0.6M217.8 102.7h0.6M210.4 87.8h0.6M233 77.5h0.6M231.6 93.9h0.6M219.8 95.8h0.6M241.3 82.3h0.6M225 100.1h0.6M215.7 87.2h0.6M238.3 84.7h0.6M222 80h0.6M233.8 87.3h0.6M224.2 95h0.6M227.2 88.2h0.6M218 91.1h0.6M221 99.1h0.6M211.1 83h0.6M217.1 86.5h0.6M217.3 95.8h0.6M217.5 97.6h0.6M219 85.9h0.6M221.4 112.5h0.6M228.3 92.4h0.6M224.7 97.9h0.6M222.7 98.6h0.6M208.8 86.1h0.6M212.1 90.7h0.6M219 68.8h0.6M219.4 94.8h0.6M224.4 90.2h0.6M204.6 104.3h0.6M220 85h0.6M219.6 97.8h0.6M215.9 91.3h0.6M212.3 82.7h0.6M220.4 83.6h0.6M217.3 89.1h0.6M222.4 82.8h0.6M202.6 96.6h0.6M211.4 100.4h0.6M230.8 105.1h0.6M220.4 88.6h0.6M212.5 77.3h0.6M216.1 95.6h0.6M208.3 92.9h0.6M230 95.5h0.6M230.1 89.1h0.6M225.7 107.6h0.6M228.3 86.2h0.6M222.4 84.4h0.6M229.2 98.5h0.6M223.8 101.1h0.6M230 100.1h0.6M218.6 88.6h0.6M218.1 81.5h0.6M214.3 101h0.6M215 105.4h0.6M206.2 92.3h0.6M229.3 91h0.6M229.9 87.4h0.6M224.6 98.6h0.6M226.7 87.3h0.6M220.6 84.3h0.6M222.7 106.2h0.6M208.1 95.5h0.6M218.2 88.3h0.6M204.4 87.1h0.6M213.4 97.6h0.6M216.5 108.7h0.6M216.3 99.5h0.6M210.4 104.6h0.6M229 97.5h0.6M226.6 85.1h0.6M214.6 98.4h0.6M209 92.6h0.6M214.9 103h0.6M226.2 85.9h0.6M203.6 98.4h0.6M225.1 101.7h0.6M217.7 78.5h0.6M215.6 90.7h0.6M226.8 87.9h0.6M218.9 109.3h0.6M216 82h0.6M228.6 79.7h0.6M206.2 94.5h0.6M231.5 95.8h0.6M212.1 98.1h0.6M212.1 84.8h0.6M231.3 106h0.6M245.1 90.8h0.6M228.5 77.5h0.6M212.1 92.4h0.6M201.5 77.7h0.6M220.7 93.3h0.6M218.8 95.9h0.6M214.2 86.2h0.6M217.8 94h0.6M213.4 92.7h0.6M225.4 96.7h0.6M218.1 103.1h0.6M217.1 95.9h0.6M244.4 117.7h0.6M237.3 74.6h0.6M260 110.4h0.6M233.8 65.4h0.6M256.7 85.7h0.6M253.8 118h0.6M241.8 85.9h0.6M244.1 100.9h0.6M252.4 74.5h0.6M241.2 72.7h0.6M259.3 68.5h0.6M236.8 91.6h0.6M256.1 76.8h0.6M249.8 105.9h0.6M263.1 82h0.6M263.1 91.2h0.6M255.9 81.1h0.6M255.3 85.1h0.6M253.2 67.2h0.6M248.1 88.3h0.6M258.5 89h0.6M265.2 64.8h0.6M254.9 85.9h0.6M247.7 91.3h0.6M256.5 100.4h0.6M239 79.4h0.6M244.8 82.1h0.6M255.8 74.4h0.6M261.1 89.7h0.6M241.2 68.9h0.6M238.2 83.8h0.6M245.9 55.3h0.6M257.6 86.5h0.6M261.9 75.8h0.6M267.9 82.6h0.6M267.1 110.7h0.6M243.3 63.9h0.6M246.5 89.1h0.6M249.3 67.7h0.6M229.5 109.9h0.6M241.7 111.5h0.6M235 111.8h0.6M243.1 111h0.6M244.8 88.3h0.6M235.4 79.3h0.6M251.5 100.4h0.6M254.4 90.7h0.6M242.5 92.5h0.6M231.9 65.4h0.6M230.2 65.3h0.6M237.7 74.6h0.6M257.2 75.2h0.6M265.4 60.1h0.6M254.1 74.2h0.6M243.5 106.8h0.6M223.3 78.5h0.6M252.4 89.4h0.6M247.2 69.1h0.6M249.7 75.6h0.6M244.6 67.5h0.6M222.3 100.4h0.6M264.7 65.2h0.6M253.2 87.2h0.6M244 65.7h0.6M236.7 71.4h0.6M239.4 95h0.6M254.9 99h0.6M258.5 76.6h0.6M256.2 66.8h0.6M254.9 100.6h0.6M247.9 102.2h0.6M230.3 111.7h0.6M252 100.2h0.6M245.7 95.1h0.6M240 85.8h0.6M264.4 78.8h0.6M251.9 93h0.6M229.8 96.3h0.6M255.8 92.5h0.6M251.5 86.1h0.6M246.9 80.9h0.6M245.8 80.8h0.6M238.5 83.6h0.6M237.6 71.3h0.6M251.2 89.7h0.6M249.5 101.7h0.6M245.6 86h0.6M261.5 57.4h0.6M242 95.5h0.6M258.2 46.5h0.6M252.5 93.7h0.6M258.3 75.3h0.6M256.4 113.3h0.6M244.6 84.5h0.6M260.4 64h0.6M242.4 101.5h0.6M248.5 96.1h0.6M264.1 83.8h0.6M255.6 80.5h0.6M234.7 104.1h0.6M239 101.8h0.6M245.3 78.2h0.6M248.6 79.2h0.6M246.7 71.2h0.6M244 85.3h0.6M251.2 74.5h0.6M259 67.4h0.6M235.3 99.9h0.6M255.5 69.4h0.6M253.9 73.2h0.6M264.6 68h0.6M250.5 91h0.6M254.9 86.6h0.6M253 84.1h0.6M259 95.3h0.6M253.5 68.9h0.6M235.9 76.1h0.6M248.5 100.4h0.6M241.2 77.2h0.6M222.3 93h0.6M246.9 109.3h0.6M244.3 99.7h0.6M251.7 84.7h0.6M254.8 84.1h0.6M247.4 85.3h0.6M263.1 79.7h0.6M259.6 55.8h0.6M241.1 100.1h0.6M252 78h0.6M230.6 73.6h0.6M248.9 103.7h0.6M232.5 87h0.6M254.5 82.5h0.6M248.4 83.4h0.6M246.3 96.9h0.6M245.2 70.2h0.6M267.4 86.1h0.6M232.3 68.2h0.6M255.9 60.2h0.6M234.5 100.2h0.6M238.5 64.5h0.6M266.1 81.9h0.6M247.2 97.8h0.6M273.5 93h0.6M255.3 93h0.6M248.9 103.3h0.6M259.1 74.2h0.6M233.1 91.6h0.6M226.7 110.2h0.6M267.8 76.8h0.6M255.4 94.2h0.6M244.1 76.5h0.6M251.7 81.7h0.6M249.8 89.5h0.6M260 94h0.6M241 123h0.6M240.9 88.2h0.6M252.4 103.9h0.6M246.9 75.2h0.6M251.8 97.9h0.6M240.9 92.3h0.6M219.1 72.9h0.6M260.4 106.7h0.6M237.2 92h0.6M257.5 94.9h0.6M258.1 80.6h0.6M237.7 104.3h0.6M242.1 69.4h0.6M268.4 92.9h0.6M249.9 92.7h0.6M264.5 83.6h0.6M258.3 70.7h0.6M265 70.6h0.6M247.4 100.8h0.6M243.8 60.5h0.6M242.6 81.6h0.6M260.2 66.5h0.6M233.2 96.4h0.6M245.9 86h0.6M248.6 85.9h0.6M255.1 107h0.6M264.1 96.6h0.6M234 64.6h0.6M259.7 69.5h0.6M271.3 80.8h0.6M238 76.1h0.6M237.3 87.7h0.6M271.7 58h0.6M245.4 105.1h0.6M238.9 100.7h0.6M248.5 96.8h0.6M258.2 84.4h0.6M248.9 91.8h0.6M257.8 74.6h0.6M244.9 108.7h0.6M258.3 73.8h0.6M261 59.5h0.6M258.9 73.3h0.6M247.6 88.8h0.6M258.8 97.4h0.6M252.9 67.9h0.6M237.5 108.5h0.6M232.6 92.1h0.6M235.3 107.4h0.6M251.6 87.6h0.6M257.8 57.2h0.6M254.6 93.3h0.6M244.3 65.4h0.6M239.2 99h0.6M228.5 86.8h0.6M245.3 92.6h0.6M265.3 72.5h0.6M251.1 99.5h0.6M243.4 93.7h0.6M255.4 86.4h0.6M260.8 63h0.6M242 81.2h0.6M249.1 55.4h0.6M243.3 76.1h0.6M253.8 90.1h0.6M261.8 69.8h0.6M251.7 94.8h0.6M243.5 97.6h0.6M269.8 89.5h0.6M241.1 107.1h0.6M249.7 104.1h0.6M248.5 97.5h0.6M261 87.8h0.6M238.8 64.2h0.6M261.2 69.7h0.6M247.7 87.2h0.6M250.8 81.2h0.6M238.7 86.1h0.6M236.5 103.5h0.6M264.5 82.8h0.6M255.6 98.6h0.6M239.9 69.2h0.6M250.4 93.8h0.6M240.8 98.3h0.6M262.8 83.5h0.6M252.4 94.5h0.6M251.8 106.8h0.6M254.9 69.5h0.6M252.5 80.4h0.6M245.6 78.2h0.6M236 79h0.6M242.2 91.4h0.6M249.2 130.3h0.6M261.1 97.6h0.6M239.7 88.7h0.6M244 76h0.6M236.7 101.9h0.6M244.9 75.4h0.6M238.8 80.6h0.6M250.5 60.9h0.6M253.2 97.7h0.6M257.5 87h0.6M268.2 86.6h0.6M251.4 75.6h0.6M235 58.8h0.6M249.8 99.1h0.6M240.3 90.1h0.6M246.1 102.9h0.6M235.5 101.9h0.6M243.1 105.9h0.6M257 83.7h0.6M254.2 81.2h0.6M237.2 86.6h0.6M243.5 78.4h0.6M243.8 95.4h0.6M237.5 79.1h0.6M252.8 79h0.6M246.1 111h0.6M234.7 89.9h0.6M253.8 102h0.6M249.1 92.6h0.6M241 100.6h0.6M251.6 101.8h0.6M259.1 82.8h0.6M250.5 71.5h0.6M250.5 101.3h0.6M245.1 77.2h0.6M253.5 87.2h0.6M237.5 93.7h0.6M241.5 93.9h0.6M247.8 68.7h0.6M252.8 87h0.6M242.7 80.1h0.6M236.3 92.5h0.6M250.9 106h0.6M241.1 102.8h0.6M243.8 104.2h0.6M256.7 85.9h0.6M256.2 68.3h0.6M257 91.7h0.6M250.8 90.3h0.6M250 93.2h0.6M236.6 98.5h0.6M241.2 75.3h0.6M254.4 81.5h0.6M234.6 93.6h0.6M247.6 106.6h0.6M254.9 84.2h0.6M236.7 74.9h0.6M257 97.6h0.6M246.1 88.6h0.6M254.2 87.7h0.6M258.6 79.2h0.6M248 73.5h0.6M253.9 94.4h0.6M254.6 70.9h0.6M237.8 103.9h0.6M253.2 79.9h0.6M247.7 88.9h0.6M236.1 100.4h0.6M233.4 84h0.6M251.8 71.5h0.6M234.5 88.7h0.6M233.3 88.6h0.6M257.4 78.4h0.6M242.2 98.7h0.6M236.5 98.8h0.6M241.9 73.2h0.6M237.7 87.7h0.6M235.2 90.2h0.6M241.2 106.8h0.6M229.2 95.3h0.6M251.2 101.5h0.6M231.9 79h0.6M246.9 73.4h0.6M244.5 101.2h0.6M245.8 107.4h0.6M245.5 74.4h0.6M254.9 81.6h0.6M247 96.3h0.6M256 80.4h0.6M255.3 81.7h0.6M249.4 79.3h0.6M250.5 80.2h0.6M237.7 101.2h0.6M246.7 69.8h0.6M241 99h0.6M253.2 90.3h0.6M255.4 80.9h0.6M248.8 85.2h0.6M254.4 82.5h0.6M232 89.5h0.6M253.9 99.8h0.6M252.1 77.2h0.6M249.9 74.1h0.6M250.9 87.5h0.6M246.7 78.6h0.6M256.7 83.6h0.6M241 82.5h0.6M248 107.7h0.6M258.8 90.7h0.6M249.3 101.9h0.6M238.3 78.6h0.6M251.8 94.1h0.6M236.8 97.9h0.6M247.9 92.2h0.6M255.9 94.8h0.6M258.7 85.8h0.6M239.3 74.6h0.6M244.3 101.3h0.6M237.9 108.1h0.6M247.6 72.6h0.6M244.1 102.9h0.6M253.5 91.5h0.6M253.3 77.8h0.6M243.3 81.9h0.6M238 95.3h0.6M249.5 74.5h0.6M248.2 99.7h0.6M246.4 77.8h0.6M240.3 92h0.6M240 82.9h0.6M245.7 75.1h0.6M259.6 80.2h0.6M238.9 86.9h0.6M252.5 98.3h0.6M249.7 97.9h0.6M243.1 76.5h0.6M242 80.4h0.6M263.3 82.4h0.6M239.3 101.6h0.6M255.4 79h0.6M235.3 81.8h0.6M252.6 89.1h0.6M241.4 97.2h0.6M247.3 102h0.6M247.4 78.2h0.6M240.7 101.1h0.6M236.7 74.7h0.6M242.4 81h0.6M256.5 84.1h0.6M251.2 69.9h0.6M246 79.6h0.6M256.2 91.2h0.6M255.1 77.1h0.6M247.2 94.6h0.6M255.3 90.9h0.6M258.1 78.2h0.6M237.8 75.6h0.6M236.4 93.5h0.6M243.5 108h0.6M255.3 76h0.6M243.7 74.3h0.6M253.7 82.6h0.6M255.1 84.7h0.6M234.5 96.6h0.6M254.2 75.7h0.6M240.3 107.2h0.6M256.9 88.6h0.6M253.7 75.3h0.6M230.3 81.4h0.6M245.3 99.9h0.6M256.4 91.9h0.6M231.9 84.8h0.6M253.8 73.7h0.6M237.5 76.8h0.6M258.9 86.2h0.6M243.2 94.4h0.6M260.1 92h0.6M237.7 95.6h0.6M240.1 101.4h0.6M231.9 83h0.6M249 99.4h0.6M242.1 101.8h0.6M238.5 103.1h0.6M253.4 90.5h0.6M249.3 102.9h0.6M236.2 84.7h0.6M239 81.2h0.6M247.1 97.8h0.6M254.6 72.9h0.6M242.3 90.8h0.6M241.2 98.7h0.6M254.1 83.4h0.6M239 103.4h0.6M228.1 96.2h0.6M241.3 73.8h0.6M257.2 96.3h0.6M240.7 83.7h0.6M260.1 87.5h0.6M253.1 86.6h0.6M252.2 93.1h0.6M253 94.2h0.6M251.6 81.9h0.6M233.5 92.6h0.6M239.5 73.5h0.6M233.7 96h0.6M250.4 91.1h0.6M248.7 81.8h0.6M248 74.9h0.6M244 109.4h0.6M245.1 82.2h0.6M241.7 96.4h0.6M247.2 66.7h0.6M253.3 70.8h0.6M237.5 76.4h0.6M242.6 102.5h0.6M238.1 78.9h0.6M247 102h0.6M252.7 75.9h0.6M249.3 84.3h0.6M244.4 75.3h0.6M256.5 96.8h0.6M238.8 86.7h0.6M241.4 72.8h0.6M242.4 101.2h0.6M252.4 92.9h0.6M246.9 68.8h0.6M253.3 93.9h0.6M242.5 95.2h0.6M240 88.1h0.6M251.6 102.9h0.6M246.7 102.7h0.6M252.2 91h0.6M238.4 76.9h0.6M255.5 88.8h0.6M230.6 89.3h0.6M237.9 90.2h0.6M248.2 78.7h0.6M244.8 79.7h0.6M247.2 77.2h0.6M249.7 96.4h0.6M239 95.3h0.6M241.6 99h0.6M239.6 93.9h0.6M257.4 75h0.6M256.5 71.2h0.6M252.9 87.5h0.6M260 75.3h0.6M232.1 93.1h0.6M234 80.4h0.6M237.3 90.5h0.6M252.3 90.2h0.6M259.9 76.6h0.6M246.9 82.7h0.6M248.5 98.8h0.6M244.8 76.1h0.6M244.3 99.5h0.6M241 97.3h0.6M252.1 75.2h0.6M255.3 80.5h0.6M242.5 74.4h0.6M250.8 93.5h0.6M238.3 98.9h0.6M252.7 71.8h0.6M239.7 101.2h0.6M238.9 88h0.6M237.5 90.8h0.6M236.6 100.8h0.6M237.2 84.9h0.6M251.7 96.2h0.6M238.5 98.9h0.6M235.5 101.1h0.6M242.1 73.7h0.6M226.9 106.3h0.6M233.1 80.8h0.6M255.5 95.6h0.6M239.3 74.4h0.6M253.3 91.7h0.6M236 96.4h0.6M237 77.7h0.6M247.6 66.9h0.6M256 88h0.6M237.1 91.5h0.6M254.7 94.4h0.6M238.7 98.1h0.6M242.6 100.4h0.6M258 81.2h0.6M258.1 94.7h0.6M239.4 97.3h0.6M262.1 82.1h0.6M240.2 77.6h0.6M247.7 94.4h0.6M242.5 104.2h0.6M238.1 79.3h0.6M234.4 86h0.6M242.6 82.7h0.6M253.2 71.3h0.6M238 104.7h0.6M238.9 89.4h0.6M252.4 90.2h0.6M239.1 74.2h0.6M263.6 79.9h0.6M261.1 88.6h0.6M245.5 79.3h0.6M232 81.6h0.6M251 92.5h0.6M238.6 99.4h0.6M244.4 75.1h0.6M231.3 90.9h0.6M234.6 79.4h0.6M250 99.1h0.6M238.7 102.7h0.6M241.9 97.7h0.6M254.6 94.1h0.6M259.2 72.9h0.6M249.3 100.8h0.6M237.2 88.3h0.6M231.3 90.3h0.6M255.5 84.1h0.6M253.7 73.9h0.6M247.4 102.6h0.6M257.4 83.3h0.6M252.7 77.1h0.6M252.1 74.1h0.6M251.1 74.8h0.6M256 85.5h0.6M249.5 84.8h0.6M248.5 74.7h0.6M238.2 82.7h0.6M240.5 70.9h0.6M259.6 77.2h0.6M243.2 94.8h0.6M251.8 81.1h0.6M245.3 70.9h0.6M235.9 85.4h0.6M240.4 80.8h0.6M249.2 77.2h0.6M248.4 98.4h0.6M238 95.4h0.6M247.2 95.8h0.6M234 91.1h0.6M243 68.5h0.6M235.9 89.2h0.6M243.4 73.5h0.6M241.9 87.7h0.6M252.7 81.5h0.6M249.5 81.1h0.6M238.8 103.5h0.6M233.2 85.3h0.6M252.9 87.8h0.6M237.1 90.4h0.6M244.8 97.7h0.6M253.3 92.5h0.6M241.8 94.7h0.6M258.9 86.1h0.6M240.2 82.1h0.6M241.6 96.2h0.6M251.8 91.3h0.6M236.8 87.7h0.6M251.3 103.6h0.6M245.4 102.9h0.6M242.5 74.8h0.6M250.9 76.7h0.6M253.7 84.1h0.6M255.2 75.4h0.6M258.8 78.4h0.6M234.2 81.1h0.6M235.5 88.9h0.6M239.3 90.9h0.6M254.4 82.8h0.6M253.7 75.5h0.6M254.4 74.1h0.6M250.6 99.2h0.6M248.1 105.1h0.6M253.2 71.6h0.6M241.3 73.1h0.6M260.1 80h0.6M247 102.5h0.6M246.3 106.8h0.6M248.7 99h0.6M249.1 98.1h0.6M252.7 104.5h0.6M255.9 89.1h0.6M239.4 111.4h0.6M249.5 82.8h0.6M239.4 76.9h0.6M249.1 102.5h0.6M262.8 90.6h0.6M256.5 71.7h0.6M244.9 100.3h0.6M239.9 76.4h0.6M238.3 85.9h0.6M237.4 91.2h0.6M234.3 97.3h0.6M236 98.7h0.6M229.6 95.7h0.6M246.7 84.6h0.6M245.4 101.4h0.6M258.9 86.5h0.6M260 75.7h0.6M249.1 101.1h0.6M237.8 80.4h0.6M233.6 89.1h0.6M226.1 91.3h0.6M232.8 93.8h0.6M250.6 94.1h0.6M247.4 76.1h0.6M254.2 96.6h0.6M252.5 78.7h0.6M244.3 70.4h0.6M234.9 94h0.6M241.4 76.5h0.6M236.6 81.7h0.6M252 82.6h0.6M250.8 95.1h0.6M252.8 94.8h0.6M238.1 80.4h0.6M251.2 72.8h0.6M237 99h0.6M263.3 79.4h0.6M249.3 92.3h0.6M232.9 100.9h0.6M257.1 76.5h0.6M250.7 76.7h0.6M253.9 95.4h0.6M246.3 75.6h0.6M252.1 95.8h0.6M251 100h0.6M248.1 103.1h0.6M257 87.9h0.6M243.2 106.7h0.6M244.8 96.4h0.6M231.3 90.2h0.6M234.7 93h0.6M238.5 91.6h0.6M241.2 107.4h0.6M244 73.2h0.6M247 74.1h0.6M253.4 75.5h0.6M252 76.5h0.6M251.9 86h0.6M250.7 99h0.6M235.4 84h0.6M240.4 98.5h0.6M242.6 101.4h0.6M243.7 89.7h0.6M242.8 70.2h0.6M237.8 88.7h0.6M251.3 91.7h0.6M235.9 80.5h0.6M260 80.1h0.6M257.7 82.7h0.6M257.5 74.6h0.6M253.5 74.9h0.6M242.5 100h0.6M261.3 82h0.6M246.5 91.2h0.6M245.3 96.6h0.6M255.9 82.3h0.6M247.5 69.2h0.6M257.4 79.9h0.6M240.4 100.5h0.6M245.8 74h0.6M240 74.3h0.6M243.5 75.8h0.6M255.5 76.5h0.6M257.5 83.7h0.6M250.2 93.7h0.6M253.9 86.6h0.6M241 99.7h0.6M256.2 91.3h0.6M258.1 73.8h0.6M241.7 98.3h0.6M248.8 81.5h0.6M251.9 102.7h0.6M252.1 86.9h0.6M232.4 88.3h0.6M254 87h0.6M246.9 76h0.6M255.6 79.8h0.6M248 77h0.6M259 87.2h0.6M256.1 94.5h0.6M248.1 88.8h0.6M254.9 91.6h0.6M251.8 84.9h0.6M256.9 84.8h0.6M238.8 103.1h0.6M249.8 95.8h0.6M235.6 94.5h0.6M235.9 93.9h0.6M257.5 87.6h0.6M236 86.5h0.6M243.1 98h0.6M250 70.3h0.6M256.6 77.5h0.6M242.8 93.1h0.6M248.6 74.6h0.6M251.6 79h0.6M241.8 101.1h0.6M245.3 84.5h0.6M239.7 97.5h0.6M255.7 66.4h0.6M250.1 80.2h0.6M252 97.1h0.6M258 98.6h0.6M253.6 97.2h0.6M239.1 105.7h0.6M249.6 73.8h0.6M248.6 94.2h0.6M250.2 94.3h0.6M254.2 72.9h0.6M238.3 92.1h0.6M255.9 83.8h0.6M253.2 80h0.6M243.1 83.2h0.6M245.2 89.7h0.6M233.4 86.7h0.6M248.2 79.3h0.6M251.6 90.8h0.6M252.7 74.3h0.6M244.6 74.8h0.6M242.2 77.5h0.6M252.1 72h0.6M240.4 74.9h0.6M236.6 89.2h0.6M245.4 98h0.6M241.9 71.6h0.6M255.7 89.2h0.6M247 75.4h0.6M242 100.5h0.6M232.2 87.4h0.6M263 76.9h0.6M240.5 100.4h0.6M255.2 87.4h0.6M234.1 85.9h0.6M247.5 70.6h0.6M233.2 98.7h0.6M250.5 99h0.6M239 94.8h0.6M236 104.6h0.6M254 83h0.6M251.5 76.6h0.6M253.9 87.4h0.6M235.3 95.7h0.6M241.5 83.7h0.6M250.6 77.2h0.6M229.8 92.1h0.6M241.5 71.8h0.6M233.4 97.9h0.6M247 68.9h0.6M234.9 108.2h0.6M254.4 85.3h0.6M256.7 85.9h0.6M232.5 93h0.6M236.7 93.2h0.6M248.5 102.2h0.6M240 98.4h0.6M254.1 73.6h0.6M234 94.3h0.6M240.2 105.5h0.6M251.7 101.4h0.6M247.3 103.5h0.6M247.2 82.5h0.6M257.3 85.8h0.6M236.4 85.5h0.6M240.4 101.2h0.6M241.2 97.5h0.6M239.8 104.7h0.6M244.6 102.9h0.6M236.8 93.2h0.6M242.6 74.6h0.6M251 70.7h0.6M249.4 77.3h0.6M232.5 90.9h0.6M246.8 102.5h0.6M237.9 76.7h0.6M247.5 74.9h0.6M255 80.9h0.6M245.5 97.7h0.6M243.4 99.3h0.6M246.7 102.8h0.6M251.7 97.8h0.6M257.5 83.3h0.6M243.2 95.7h0.6M248 100.4h0.6M259.4 91h0.6M237.9 97.7h0.6M256 93.1h0.6M246.3 99.4h0.6M233.6 99h0.6M256.5 84.3h0.6M257.3 79.1h0.6M252.5 73.2h0.6M230.6 104.2h0.6M248.4 74.7h0.6M230.3 98.4h0.6M240.2 85.8h0.6M243.5 73.5h0.6M240.5 73.2h0.6M236.9 86.9h0.6M251.2 68.5h0.6M249 66.2h0.6M255.7 79.2h0.6M250.9 98.7h0.6M255.3 85.5h0.6M250.2 80.6h0.6M242.2 77.6h0.6M241 75h0.6M255.9 73.3h0.6M238.2 98.9h0.6M247.2 75.3h0.6M255.3 88.7h0.6M239.1 81.2h0.6M238 75.4h0.6M254.2 95.9h0.6M245.6 92.4h0.6M240 100.8h0.6M233.2 91.6h0.6M245.2 92h0.6M237.4 79.2h0.6M251.6 97h0.6M235.7 103.5h0.6M245.7 99.5h0.6M253.7 77.4h0.6M253.2 77.2h0.6M253.4 74.1h0.6M253 101.4h0.6M256.9 78.6h0.6M240.3 72.2h0.6M236.1 90.6h0.6M252.9 74.3h0.6M244.3 103.5h0.6M251.7 70.2h0.6M234.1 96.8h0.6M244.1 109.1h0.6M249.4 96.5h0.6M240.7 78.1h0.6M250.7 100.6h0.6M260.9 82h0.6M256.3 76.6h0.6M251.9 78h0.6M235.8 103.1h0.6M245 75.9h0.6M238.9 80.6h0.6M256.3 98.1h0.6M257.9 73.6h0.6M252.2 88.1h0.6M249 107.5h0.6M256.8 77.8h0.6M234.4 96.3h0.6M245.9 88.3h0.6M241.3 79.9h0.6M241.9 101.1h0.6M241.2 80.2h0.6M248 75.8h0.6M236.1 95.4h0.6M244.9 72.7h0.6M236.2 99.3h0.6M252.3 86.7h0.6M251.8 74h0.6M248.2 98.4h0.6M253.7 62.3h0.6M235.6 84.9h0.6M245.4 98.9h0.6M239.1 99.4h0.6M246.5 94.2h0.6M253.1 74.9h0.6M240.7 72.1h0.6M232.5 86.9h0.6M228.8 92.9h0.6M249.8 97.3h0.6M239.1 90.8h0.6M256.2 87.2h0.6M257.4 82.9h0.6M253.4 94.6h0.6M256.1 98h0.6M249.8 97.8h0.6M234.9 89.6h0.6M253.1 69.3h0.6M252.2 98.3h0.6M252.8 67.4h0.6M247.1 64.9h0.6M248.2 102.9h0.6M252.4 79.8h0.6M257.1 69.5h0.6M250.1 77h0.6M236 89.5h0.6M245.8 79.1h0.6M246.8 98.2h0.6M250.5 78.8h0.6M256.3 87.2h0.6M250 92.1h0.6M239.5 94.9h0.6M237 85.9h0.6M261 82.7h0.6M251.6 95.8h0.6M239.9 89.5h0.6M250.3 77.6h0.6M236.3 70.2h0.6M250.4 92.7h0.6M247.2 79.2h0.6M252 98.3h0.6M252.1 98.3h0.6M257.9 77.8h0.6M240.3 90h0.6M238.8 99.6h0.6M242.1 77.5h0.6M232.8 102.2h0.6M256.7 71.3h0.6M244.4 82.4h0.6M233.9 82.9h0.6M242.5 77.3h0.6M247.8 100.2h0.6M255 82.7h0.6M250.4 83.2h0.6M253.6 93.1h0.6M250.7 92.7h0.6M239.3 77.7h0.6M253.4 78.6h0.6M235.1 88.5h0.6M238.8 90.2h0.6M248.1 94.4h0.6M258.1 77.7h0.6M242.2 84.1h0.6M259.1 87.8h0.6M258.4 88.9h0.6M237.4 83.5h0.6M246.7 101.9h0.6M242.6 97.7h0.6M249.2 100.2h0.6M249.7 83.3h0.6M235.8 83.9h0.6M241.2 78.7h0.6M241.4 101h0.6M241.3 90.7h0.6M234.3 83.8h0.6M236.2 73.9h0.6M256 81.3h0.6M245.6 101h0.6M230.6 85.7h0.6M250 72.1h0.6M248.8 98.3h0.6M249 83.6h0.6M246.1 68.2h0.6M237.2 93.2h0.6M243.7 104.9h0.6M234.9 101.7h0.6M249.7 101.2h0.6M251.2 72.1h0.6M244.7 99.9h0.6M246.4 102.4h0.6M238 100.3h0.6M236.1 98.2h0.6M242.8 95.6h0.6M246.6 96.6h0.6M238.4 87.9h0.6M259.9 79.5h0.6M256.8 88.2h0.6M249 81.8h0.6M257.6 93.7h0.6M232.2 86.3h0.6M247 101.6h0.6M229.5 98.7h0.6M257.2 75.5h0.6M259.3 87.4h0.6M257.1 69h0.6M234.8 98.1h0.6M237.8 94h0.6M238.2 88.2h0.6M240.5 96.4h0.6M244.4 74.7h0.6M236.3 88.1h0.6M244.3 77h0.6M230.3 86.2h0.6M250.7 101.9h0.6M257.9 77.3h0.6M242.5 75h0.6M237.4 78.8h0.6M239.8 101.7h0.6M240.2 98.9h0.6M241.5 102.6h0.6M251.1 89h0.6M244.2 101.1h0.6M236.2 84h0.6M235.6 86.6h0.6M238.5 96.7h0.6M246.3 100.7h0.6M246.3 104.5h0.6M237.6 88.2h0.6M244.8 77h0.6M251.6 105.2h0.6M248.1 98.6h0.6M252.6 95h0.6M252.7 94.9h0.6M258.8 82.8h0.6M245.2 74.1h0.6M240.5 83.1h0.6M252.9 85.6h0.6M240.1 88.8h0.6M234.6 91.3h0.6M243.9 76.2h0.6M237.1 102.4h0.6M237.1 79.5h0.6M254.3 82.4h0.6M257.8 90.6h0.6M246 100.7h0.6M253.8 68.5h0.6M249.9 102.1h0.6M257.7 87.5h0.6M260.4 88.8h0.6M255.6 79.6h0.6M252.2 78.4h0.6M236.4 98.3h0.6M254.9 81.5h0.6M239.6 113.6h0.6M253.5 92.3h0.6M237.4 86.6h0.6M252.8 91h0.6M249.3 65.2h0.6M245.7 95.3h0.6M240.2 98.9h0.6M255.5 84.1h0.6M245.6 75.6h0.6M240.4 100.4h0.6M258 90.7h0.6M251 90.1h0.6M239.2 82.2h0.6M257.8 87.6h0.6M235.3 82h0.6M231.9 89h0.6M242.5 99.8h0.6M249.7 83.6h0.6M241.1 102.6h0.6M260.4 88.7h0.6M243.8 74.3h0.6M237 102h0.6M239.5 81.2h0.6M239.6 82.1h0.6M241.6 103.7h0.6M247.8 80.8h0.6M242.6 103.6h0.6M238.2 79.7h0.6M233.7 85.4h0.6M250.8 96.1h0.6M258.6 76.9h0.6M233.7 93.6h0.6M248.2 103.3h0.6M251.4 79.4h0.6M239.4 86.8h0.6M251.5 86.8h0.6M255.4 90.6h0.6M251.6 79.1h0.6M250.6 70.9h0.6M243.8 76.5h0.6M239.7 92.4h0.6M254.9 83.6h0.6M234.5 92.8h0.6M248.8 98.6h0.6M248.2 73.8h0.6M237.3 81.3h0.6M239.6 98.8h0.6M242.1 79h0.6M247.1 72.8h0.6M248.1 92.5h0.6M251.6 76.7h0.6M239.3 84.7h0.6M245.4 101.1h0.6M244 73.3h0.6M255.3 78.9h0.6M235 87.9h0.6M246.1 74.5h0.6M241 100h0.6M234 86.1h0.6M244.5 97.3h0.6M244.8 76.4h0.6M256.9 79.2h0.6M247.9 102.9h0.6M252.4 73.1h0.6M242.7 98.6h0.6M252.4 97.2h0.6M234.8 83.8h0.6M252 91.5h0.6M258.4 69.4h0.6M233.9 86.8h0.6M252.4 87.2h0.6M258.6 68.8h0.6M252.9 90.7h0.6M235.4 79h0.6M253 85h0.6M238.2 83.7h0.6M247.4 81.6h0.6M245.3 97.7h0.6M243.2 96.3h0.6M242.8 101.7h0.6M241.5 107.1h0.6M235.6 86.9h0.6M241.1 86.5h0.6M243.9 109.6h0.6M254.3 83.2h0.6M236.8 98.4h0.6M256.7 93.7h0.6M242.1 71.4h0.6M252.6 92.8h0.6M247.2 67h0.6M255.7 88.3h0.6M237.4 80.7h0.6M248.6 86.8h0.6M237.4 74.9h0.6M239.4 84.1h0.6M252.4 87h0.6M254.9 99.6h0.6M237.6 82.5h0.6M252.8 80.2h0.6M254.8 80.5h0.6M244.9 99.3h0.6M239.6 96.4h0.6M241 71.5h0.6M253.8 79.2h0.6M248.1 100.6h0.6M241.3 81.2h0.6M253.4 85.4h0.6M237.7 86.1h0.6M240.2 82.4h0.6M244.7 101.8h0.6M240.7 70.9h0.6M228.7 87h0.6M246.1 76.2h0.6M235.4 78.6h0.6M244 76.5h0.6M233.2 86.5h0.6M254.4 92.7h0.6M250.3 97.2h0.6M255.6 78.1h0.6M245.9 95.4h0.6M240 86.4h0.6M246.9 90.4h0.6M231.7 82.9h0.6M231.3 99.8h0.6M245.8 73.2h0.6M254.8 101h0.6M236.3 84h0.6M253.3 83.5h0.6M237.8 82.8h0.6M249.9 91.9h0.6M236.5 96.6h0.6M234.3 95.5h0.6M238 79h0.6M245.3 97.1h0.6M256.9 81.9h0.6M239.5 91.8h0.6M249.6 77.3h0.6M241.7 91.3h0.6M251.6 99.5h0.6M241.2 76.2h0.6M234.7 96.2h0.6M232.3 82.9h0.6M238.3 71.4h0.6M255.4 86h0.6M237.2 105.6h0.6M255.8 85.5h0.6M243 100.4h0.6M234.8 93.6h0.6M249.4 100.3h0.6M242.7 74.8h0.6M255.2 80h0.6M237.5 78.8h0.6M250.2 89h0.6M245.8 69.1h0.6M244 99.6h0.6M247.6 74.6h0.6M239.3 82h0.6M248.3 78h0.6M232.8 89.6h0.6M253.9 89.5h0.6M242.9 100.2h0.6M256.4 94h0.6M254 99.7h0.6M255.9 83.1h0.6M237.3 98.3h0.6M257.3 88.7h0.6M251.6 98.5h0.6M255 73.8h0.6M251 95.1h0.6M246.8 101.3h0.6M239.9 96.4h0.6M232 93.2h0.6M250.7 70.3h0.6M246.5 103.5h0.6M256.9 87.8h0.6M254.2 79.7h0.6M248.9 94.3h0.6M254 82.2h0.6M238.6 76.9h0.6M243.4 78.3h0.6M244.5 108.2h0.6M255.3 75.6h0.6M242 98.7h0.6M254.3 74h0.6M249.3 64h0.6M246.2 72.1h0.6M229.2 96.8h0.6M236 87.1h0.6M237.6 91.8h0.6M235.6 98.5h0.6M242.6 80.3h0.6M250.8 81.3h0.6M249.7 91.2h0.6M241 70.5h0.6M255.4 79.5h0.6M245.9 81.6h0.6M244.6 69.7h0.6M251.6 89.3h0.6M243.7 98.9h0.6M237.3 106.2h0.6M252 79.1h0.6M247.3 105.7h0.6M250.8 76.1h0.6M239.8 76.9h0.6M234.4 101.2h0.6M244.9 102.7h0.6M243.4 102.5h0.6M256.1 91.8h0.6M240.5 84.8h0.6M250.4 72.3h0.6M239.2 101.1h0.6M254 102.9h0.6M238.9 80.6h0.6M232.7 90.7h0.6M257.1 88.8h0.6M251.9 84.4h0.6M247.9 75.4h0.6M235.4 93.4h0.6M234.3 87.4h0.6M237.5 87.3h0.6M251.2 75.5h0.6M242.6 72.7h0.6M239.3 103.9h0.6M239.1 98h0.6M249.9 97.9h0.6M256 94.8h0.6M247.6 98h0.6M237.5 101.4h0.6M255.7 94h0.6M249.6 81.9h0.6M247.9 107.3h0.6M231.6 96.8h0.6M241 105.2h0.6M233.1 98.4h0.6M246.5 72.8h0.6M250.5 103.3h0.6M254.1 88.1h0.6M249.5 93.5h0.6M245.9 102.1h0.6M255.8 76.3h0.6M236.8 97.1h0.6M240.7 98.9h0.6M254.3 87.9h0.6M237.3 89.1h0.6M247 73.4h0.6M251.3 88.2h0.6M235.7 94.7h0.6M254.8 79.4h0.6M233.1 92h0.6M249.6 94.5h0.6M235.4 91.1h0.6M254.5 91.2h0.6M252.7 94.2h0.6M257.8 83.8h0.6M257.8 85.8h0.6M237.2 76.6h0.6M261 77.5h0.6M231.5 91.5h0.6M242.8 79.1h0.6M248.2 86.1h0.6M250.2 97.2h0.6M240.4 77.9h0.6M258.1 89.9h0.6M234.3 86.3h0.6M258.5 83h0.6M254.5 85.4h0.6M252.7 81.8h0.6M241.1 76h0.6M236.6 109.9h0.6M255.4 83.8h0.6M249.2 79h0.6M234.3 96.7h0.6M244.9 101.8h0.6M236.8 97.6h0.6M239.2 105.1h0.6M237 84.3h0.6M250 85.3h0.6M253.5 81.8h0.6M256 83.8h0.6M258.8 77.7h0.6M250.8 96h0.6M234.7 84.9h0.6M232.9 98.4h0.6M237.1 106.7h0.6M243.4 77.7h0.6M235.2 91.8h0.6M254.5 75.2h0.6M255.7 86.6h0.6M240.8 69.8h0.6M255.2 87.3h0.6M232.8 86.3h0.6M242.2 99.6h0.6M238.4 76.1h0.6M260.2 76.1h0.6M260.7 78.7h0.6M236.4 92.3h0.6M255.8 83.9h0.6M241.8 104.3h0.6M257.9 93.9h0.6M244.4 88.2h0.6M237.1 77h0.6M241.1 98h0.6M239.5 82.2h0.6M249.8 83.3h0.6M243.6 95.8h0.6M246 87.8h0.6M253.3 81.7h0.6M244 99h0.6M240.9 90.1h0.6M244.8 99.3h0.6M249.4 72.1h0.6M250 101.7h0.6M238.8 99.1h0.6M248.2 82.5h0.6M245.2 82.6h0.6M243 95.1h0.6M249 81.9h0.6M250.9 79.8h0.6M239.4 90.6h0.6M245.4 80.6h0.6M253 73h0.6M245.8 88.9h0.6M241.1 101.2h0.6M239.9 88.8h0.6M254.9 70.1h0.6M234.2 103.7h0.6M251.1 86.8h0.6M237.9 90.1h0.6M254.4 81.9h0.6M244.1 88.5h0.6M243.4 85.3h0.6M248.1 93.5h0.6M242.1 89.9h0.6M249.9 80.3h0.6M250.8 75.5h0.6M247.8 77.8h0.6M241.4 91.8h0.6M243.8 92.3h0.6M241 86.8h0.6M246.1 86.4h0.6M246.2 97.3h0.6M241.3 91.8h0.6M244.7 92.8h0.6M243.9 92.4h0.6M239.3 93.1h0.6M247.5 85.1h0.6M255.7 101.4h0.6M239.2 95.7h0.6M244.7 79.3h0.6M250.7 93.5h0.6M250.6 96.2h0.6M248.5 92.3h0.6M246.9 85.8h0.6M246.9 83.9h0.6M249.4 75.8h0.6M248.5 86.5h0.6M237.8 100.6h0.6M244.2 88.9h0.6M236 97.2h0.6M246.4 88.2h0.6M237.6 85.7h0.6M244.4 98.4h0.6M245.8 76.5h0.6M245.7 83.4h0.6M258.2 81h0.6M239.3 95.8h0.6M244.9 78.9h0.6M248.2 85.7h0.6M248.5 80.1h0.6M251.1 83.2h0.6M247.1 90.3h0.6M245.8 94.9h0.6M252.3 86.2h0.6M244.7 84.7h0.6M242 96.8h0.6M245.1 99.2h0.6M252.9 68h0.6M241.6 89.4h0.6M232.9 95.1h0.6M244.7 98h0.6M243.6 94.8h0.6M242.7 85.2h0.6M243.8 96.1h0.6M251.6 85.8h0.6M240.9 91.7h0.6M243.5 100.5h0.6M246.8 77.9h0.6M246.6 81.7h0.6M243.4 85h0.6M247 78.4h0.6M246.2 90.7h0.6M247 85.5h0.6M243.7 100.2h0.6M243 100h0.6M250.9 82.7h0.6M248.4 95.8h0.6M247.6 85.2h0.6M250.9 80.9h0.6M247.3 92h0.6M245.3 96.6h0.6M244.7 89.4h0.6M246.5 84.1h0.6M247.6 78h0.6M252 83.5h0.6M244.5 96.8h0.6M250.1 78.9h0.6M240.2 96.9h0.6M246.3 90.9h0.6M247.9 93.1h0.6M238.4 93h0.6M241.4 104.8h0.6M247.3 103.9h0.6M241.3 87.4h0.6M242.4 92.1h0.6M252 80.2h0.6M253.4 92.7h0.6M243.3 92.9h0.6M249.5 87.5h0.6M236 96.4h0.6M243.1 78h0.6M245.5 86.6h0.6M251.5 75h0.6M240.1 95.9h0.6M246.2 102.6h0.6M241.6 101h0.6M239.5 81.2h0.6M247 91h0.6M249.2 83.4h0.6M245.2 96.3h0.6M235.9 96.3h0.6M239.7 92.2h0.6M245.5 90.8h0.6M244.4 84h0.6M257.6 73.2h0.6M243.5 80h0.6M244.2 77h0.6M249.1 93.6h0.6M252.7 97.7h0.6M249.9 99.5h0.6M240.1 89.7h0.6M245.4 96.8h0.6M242.3 75.5h0.6M252.7 86.8h0.6M238.2 99.3h0.6M243.3 93.1h0.6M245.2 73.9h0.6M252.4 88.7h0.6M240.8 79.7h0.6M248 86.3h0.6M240.3 91.2h0.6M253.1 90.4h0.6M254.2 100.3h0.6M246.5 101.9h0.6M264.7 95.7h0.6M245 95.1h0.6M260.7 93.3h0.6M253 96.1h0.6M257.5 99.4h0.6M258 101.7h0.6M254.4 94.8h0.6M243.7 90h0.6M257.1 103.9h0.6M244.5 96.2h0.6M259 88.4h0.6M257.4 98.5h0.6M244 93.7h0.6M252.4 98.3h0.6M252.2 97.6h0.6M263.8 95.4h0.6M242.9 105.4h0.6M253.4 100.5h0.6M255.4 107.9h0.6M268.6 99.5h0.6M266 87.2h0.6M263.5 96h0.6M248.8 81.4h0.6M259.8 91.3h0.6M257.6 106.3h0.6M258.7 89h0.6M256.5 94.1h0.6M258.6 90.8h0.6M255.4 91.3h0.6M259.4 98.8h0.6M270.7 100.3h0.6M259.3 97.9h0.6M265.5 98.1h0.6M262.7 85.8h0.6M249.6 91.2h0.6M260.7 94.5h0.6M258.7 102.1h0.6M259 83h0.6M244.4 88h0.6M251.6 82.2h0.6M253.9 97.8h0.6M249.2 74.5h0.6M246.2 88.4h0.6M259.1 87.6h0.6M250.6 87.2h0.6M245.9 92.6h0.6M253 105.7h0.6M257.1 106.2h0.6M249.2 84.2h0.6M250.3 85h0.6M247 100.8h0.6M255.1 98.2h0.6M260 84.3h0.6M267.5 94.8h0.6M258.5 98h0.6M246.9 101.8h0.6M253.6 111.5h0.6M254.1 98.2h0.6M280.8 94.8h0.6M271.6 96.6h0.6M252.1 90.3h0.6M252.5 105.3h0.6M236.1 83h0.6M252.9 85.2h0.6M265.7 105.5h0.6M249.7 111.8h0.6M258.1 98.8h0.6M254.9 98.6h0.6M269.2 83.3h0.6M269.5 99.2h0.6M262.6 96.5h0.6M250.9 107h0.6M248.1 104.2h0.6M251.4 87.8h0.6M276.3 112.3h0.6M258.6 99.5h0.6M262.8 101h0.6M238.3 83.7h0.6M251.8 70.3h0.6M261 88.8h0.6M262.6 112.5h0.6M267.5 92h0.6M262.6 84.5h0.6M281.6 100.9h0.6M264.9 86.7h0.6M272.8 90h0.6M253.1 96h0.6M262.3 114.8h0.6M253.2 104.2h0.6M263.3 83.6h0.6M234.7 83.2h0.6M247.7 102.8h0.6M255.4 89.5h0.6M254 108.4h0.6M259.9 97.9h0.6M253.2 82.8h0.6M253.6 88.5h0.6M252.4 96h0.6M271 95.6h0.6M246 74.5h0.6M257.8 92.6h0.6M264.7 93.1h0.6M249.6 94.8h0.6M246.7 88.9h0.6M267.2 93.2h0.6M257.4 94h0.6M247.1 89.1h0.6M272.5 96.7h0.6M254.3 93.9h0.6M257.2 87.4h0.6M268.5 91.1h0.6M246.6 103.4h0.6M255.3 91.6h0.6M253.2 103h0.6M265 97.8h0.6M245.6 105.8h0.6M262 98.2h0.6M260.1 88.3h0.6M261 92.6h0.6M246.6 98.1h0.6M240.7 88.4h0.6M260.1 86.3h0.6M267.6 99.4h0.6M266.2 112h0.6M257.9 101.3h0.6M265 96.3h0.6M271.9 97.5h0.6M257.9 99.8h0.6M261.9 87.1h0.6M249.5 94.8h0.6M278.6 84.1h0.6M249.7 83.7h0.6M261.9 97.5h0.6M255.5 90h0.6M267.1 86.8h0.6M247.8 89.1h0.6M241.4 93.1h0.6M262.5 92.7h0.6M246.1 95.8h0.6M264.7 77.1h0.6M257.7 89.2h0.6M259.5 81h0.6M247 90.9h0.6M258.2 96.4h0.6M256 99.3h0.6M263.4 93.5h0.6M221.1 125.3h0.6M241.1 125.1h0.6M243.4 117.8h0.6M247.9 110.8h0.6M238.9 138.8h0.6M247.1 129.9h0.6M237 120.9h0.6M242.9 129.7h0.6M227.9 136.5h0.6M229.9 133.9h0.6M240.1 127.9h0.6M223.8 127.1h0.6M224.1 129.8h0.6M240.6 117.9h0.6M234.7 117.6h0.6M228.3 122.8h0.6M232 136.7h0.6M230 120.7h0.6M229.7 137.7h0.6M230.3 107.6h0.6M230.9 134.5h0.6M222.9 135.8h0.6M224.9 128.8h0.6M236.5 130.6h0.6M234.4 141.7h0.6M227 128.9h0.6M234.6 118.2h0.6M238.1 136.9h0.6M237.8 127.5h0.6M231.1 134.5h0.6M236.3 118.2h0.6M240.5 128.1h0.6M237.6 136h0.6M235.1 138.1h0.6M230 126.1h0.6M236 127.5h0.6M233.9 111.4h0.6M241.9 133.7h0.6M233.4 122.2h0.6M235.2 131h0.6M229 138.1h0.6M239 132.2h0.6M238.6 118.2h0.6M231.8 134.4h0.6M237.9 122.8h0.6M234.9 117.9h0.6M229.6 122.5h0.6M226.3 124.8h0.6M235.7 114.8h0.6M228.7 114.1h0.6M247.6 141.6h0.6M242.3 126.9h0.6M235.9 132.7h0.6M238.8 131.5h0.6M241 136.3h0.6M217.4 131.7h0.6M232.3 108.3h0.6M227.8 135.1h0.6M233.5 119.1h0.6M221.8 121.3h0.6M198.4 120.5h0.6M216.2 138.4h0.6M215.4 127h0.6M203.4 122h0.6M217.1 133.2h0.6M200.3 112.5h0.6M201 111.9h0.6M208.7 113.8h0.6M215.4 119.8h0.6M199 133.9h0.6M211.3 120h0.6M204.3 113.3h0.6M212.6 122.6h0.6M206.3 133.2h0.6M214.7 136.6h0.6M207.6 126.1h0.6M207.4 111.6h0.6M206 136.9h0.6M209.5 130.8h0.6M207.3 115.1h0.6M198.7 119h0.6M216.1 119.3h0.6M205.8 120.1h0.6M198.6 132.7h0.6M208.2 124.3h0.6M209.1 134.5h0.6M205.4 126.2h0.6M208 133.1h0.6M207.5 127.1h0.6M209 126.9h0.6M213 117.2h0.6M199.9 129.6h0.6M210.9 113.6h0.6M215.6 112.2h0.6M216.8 120.7h0.6M205.8 117.4h0.6M204.9 140.6h0.6M207.7 113.3h0.6M198.8 116.2h0.6M208.8 138.3h0.6M210.3 114.4h0.6M199.1 124.8h0.6M213.6 125.3h0.6M217.2 121.6h0.6M205.3 133.8h0.6M203.8 134.5h0.6M205.6 128.9h0.6M215.6 119.1h0.6M205.2 112.8h0.6M198.2 130.5h0.6M207.3 124.5h0.6M210.3 134.1h0.6M200 124.5h0.6M214.3 112.9h0.6M209.6 131h0.6M198.6 134.5h0.6M203.9 135.1h0.6M214.7 135.5h0.6M212.5 110.3h0.6M200.6 110.3h0.6M202.4 112.6h0.6M210.9 116.2h0.6M216.9 121.1h0.6M207.2 135h0.6M209.8 137.6h0.6M204.7 132h0.6M199.2 140.1h0.6M211.6 112.3h0.6M214.1 111.6h0.6M206.2 126.2h0.6M211.6 116.3h0.6M215.2 129.8h0.6M215.8 121.3h0.6M203.9 139.5h0.6M200.7 119.7h0.6M199.4 130.3h0.6M198.1 125.4h0.6M215.6 137.6h0.6M215.3 129.3h0.6M208 112.8h0.6M205 109.9h0.6M212.3 124.8h0.6M211.4 121.8h0.6M202.6 113.9h0.6M212.7 117h0.6M198.3 120.1h0.6M217.2 121.8h0.6M199.9 136.9h0.6M197.4 138.9h0.6M206 135h0.6M199.2 138.8h0.6M217.2 135.1h0.6M208.8 116.3h0.6M208.3 112.2h0.6M209.9 126.2h0.6M216.3 124.7h0.6M200.1 136.9h0.6M201.1 140.2h0.6M203.8 135.2h0.6M213.6 140.4h0.6M214.5 133.8h0.6M211.4 112.9h0.6M203.4 124.7h0.6M197.4 117.5h0.6M199.1 126.6h0.6M209.6 130.3h0.6M209.5 113.4h0.6M211.8 127h0.6M198.4 136h0.6M214.9 119.3h0.6M208.6 121h0.6M217.3 121h0.6M206 136.2h0.6M198.4 132.7h0.6M198.5 113.7h0.6M206.7 114.3h0.6M206.9 111.1h0.6M212.4 111.4h0.6M204.8 118.2h0.6M206.6 132.5h0.6M215.2 109h0.6M209.8 129h0.6M215.1 115.1h0.6M198.7 115.5h0.6M213.7 122.9h0.6M203.1 120.3h0.6M205.9 136.7h0.6M204.5 127.8h0.6M205.2 126h0.6M209.5 128.4h0.6M194.2 110.4h0.6M193.1 105.4h0.6M192.9 101.8h0.6M194.2 105.2h0.6M195.3 84h0.6M194.3 76.1h0.6M194.8 99.6h0.6M195.3 79h0.6M195.3 104.4h0.6M194.7 77.3h0.6M193.8 103.1h0.6M193.2 73.3h0.6M194.1 74h0.6M193.2 80.1h0.6M194.8 92.5h0.6M193.2 109.8h0.6M193.1 94h0.6M194.4 96.8h0.6M195.2 105.2h0.6M195.4 76.8h0.6M194.3 83.4h0.6M193.3 86.3h0.6M193.7 98.4h0.6M194.1 84.2h0.6M194.3 88.4h0.6M193 83.2h0.6M193.1 94.1h0.6M195.3 88.3h0.6M195.2 75.8h0.6M194.1 74h0.6M194.3 104.3h0.6M194.9 91.8h0.6M194 90.3h0.6M194.4 84.3h0.6M195 106.8h0.6M195.5 96.1h0.6M194.4 104.9h0.6M194.7 82.6h0.6M193 94.1h0.6M193.7 99.1h0.6M193.8 103.6h0.6M194.9 102.5h0.6M195.8 96h0.6M194.4 104.8h0.6M193.1 90.3h0.6M193.6 80.3h0.6M194.6 103.4h0.6M192.8 86.8h0.6M194.2 82.4h0.6M193 86.7h0.6M193.7 98.1h0.6M195.7 76.6h0.6M194.7 79.9h0.6M193.1 101.6h0.6M194 77.3h0.6M193.9 103h0.6M193.4 105.3h0.6M193.7 92.4h0.6M194.5 102.8h0.6M193.8 105.1h0.6M194 106h0.6M196 77h0.6M195.4 88.1h0.6M195.3 106.5h0.6M193.3 77.6h0.6M195.1 98.8h0.6M193 96.8h0.6M194 99h0.6M193.5 103h0.6M195.1 74h0.6M193.3 92.1h0.6M195.4 73.9h0.6M195.4 86.5h0.6M195 90.7h0.6M194 84.5h0.6M194.7 86.8h0.6M193.7 96.9h0.6M193.4 88.9h0.6M195.7 87.2h0.6M193.8 105.7h0.6M194.9 96.3h0.6M193.9 81.2h0.6M192.9 86.7h0.6M194.4 85.2h0.6M194.6 104.3h0.6M193.6 99.9h0.6M195.9 99.7h0.6M195.3 93.3h0.6M193.2 84.6h0.6M194.7 83.2h0.6M195.6 84.5h0.6M195.4 89.7h0.6M193.2 99.5h0.6M194.5 98.9h0.6M193.2 93.6h0.6M193.6 95.9h0.6M193.4 74.7h0.6M193.5 75.8h0.6M195.6 98.6h0.6M194.6 85.2h0.6M194.5 101h0.6M195.3 97.7h0.6M193.4 92.9h0.6M195.3 77.6h0.6M195.9 83.4h0.6M193.9 77.7h0.6M193.9 75h0.6M195.6 79.4h0.6M195.4 78.1h0.6M193.2 91.9h0.6M194.4 73.7h0.6M194.2 106.9h0.6M193.1 108h0.6M195.8 90.7h0.6M195.7 83.1h0.6M193.1 101.9h0.6M194.1 88.9h0.6M195.4 106.7h0.6M194.1 103.7h0.6M194 76.5h0.6M193.7 105.9h0.6M194.4 80.5h0.6M194.6 90.9h0.6M193.7 88.7h0.6M195.7 101.2h0.6M193.9 82.5h0.6M194.8 86.9h0.6M193.2 92.1h0.6M194 88.9h0.6M195.2 73.9h0.6M193.6 106.5h0.6M195 96.9h0.6M195.3 74h0.6M194.7 92.3h0.6M192.9 89h0.6M196 96.1h0.6M194.9 83.3h0.6M194 73.8h0.6M193.8 88h0.6M195.2 80.2h0.6M195 90.3h0.6M195.7 98.7h0.6M195.1 81.6h0.6M194.3 101.9h0.6M193.3 101.9h0.6M195.4 103h0.6M193.4 91.2h0.6M195.6 88.5h0.6M193.6 107.6h0.6M195.3 105.1h0.6M194.8 108.3h0.6M195.8 78.1h0.6M195.1 107.5h0.6M193.5 98.1h0.6M193.4 83h0.6M193.1 75.4h0.6M195.3 74h0.6M194.1 109.4h0.6M193.8 91.1h0.6M193.4 83.1h0.6M194.3 106h0.6M194.7 110.1h0.6M195.7 104.4h0.6M193.7 101.1h0.6M195.1 77.2h0.6M195 83.7h0.6M195.3 79.5h0.6M195.4 87.3h0.6M194 84.4h0.6M194.1 82.8h0.6M195.6 99.5h0.6M193.5 108.7h0.6M193.3 84.6h0.6M195.8 93.1h0.6M192.9 98.7h0.6M192.9 75.8h0.6M194.5 105.3h0.6M193.5 76h0.6M193.3 82.2h0.6M195.1 100.6h0.6M193.6 80.9h0.6M195.2 89.7h0.6M194.8 99.8h0.6M194.6 107.5h0.6M192.9 78.4h0.6M194.9 102.3h0.6M194.9 77.6h0.6M195.9 108.6h0.6M194.9 104h0.6M194.8 74.1h0.6M193.5 89.2h0.6M194.7 86.3h0.6M193.9 79.1h0.6M193.4 99.9h0.6M193.1 103.3h0.6M194.4 107.2h0.6M193.9 82.2h0.6M194.6 101.4h0.6M194.2 86.8h0.6M194.9 92.1h0.6M194.2 86.4h0.6M194.4 88.8h0.6M193.7 105.4h0.6M195.4 104.7h0.6M194.5 98.7h0.6M194.3 101.7h0.6M193.8 94.1h0.6M194.5 94.5h0.6M193.8 75.2h0.6M194.1 86.1h0.6M194.7 74.9h0.6M194.3 97.5h0.6M194.8 88.2h0.6M193.4 91.6h0.6M195.6 110.6h0.6M195 95.3h0.6M192.9 79.8h0.6M193.8 107.4h0.6M195.8 92.1h0.6M194.5 88.2h0.6M195.7 79.5h0.6M193.4 108.1h0.6M193.6 110.8h0.6M193.5 105.3h0.6M193.4 100.3h0.6M193.9 102.3h0.6M195.8 90.3h0.6M193.8 88.4h0.6M195.3 108.4h0.6M194.4 90.8h0.6M194.4 92.8h0.6M193.2 91.8h0.6M194.3 97h0.6M194.9 108.4h0.6M193.1 101h0.6M194 109.4h0.6M194.7 88.4h0.6M194.1 100.6h0.6M194.8 99.7h0.6M193.1 89.7h0.6M194 96.5h0.6M194.9 92.5h0.6M194.8 91.3h0.6M195.5 75.3h0.6M193.5 106.7h0.6M193.6 102.7h0.6M193.3 81.6h0.6M193.8 108.8h0.6M194.8 84.2h0.6M194.2 73.6h0.6M195.4 103h0.6M195.9 107.2h0.6M195.9 109.3h0.6M194 90.6h0.6M193.7 80.4h0.6M194.7 82.1h0.6M194.6 91.1h0.6M193.4 80.9h0.6M194.8 88.5h0.6M195.3 96.5h0.6M195.9 103.7h0.6M195.2 78.9h0.6M194.7 108.9h0.6M194.7 98.8h0.6M194 104.5h0.6M193 100.4h0.6M194.3 91.2h0.6M195.6 99.6h0.6M195.2 109.6h0.6M193.3 100.8h0.6M195 81.8h0.6M195.3 99.5h0.6M194.8 79.8h0.6M193.2 81.9h0.6M194.2 93.8h0.6M193.3 76.9h0.6M195.7 97.9h0.6M192.9 101.4h0.6M193.4 74h0.6M195.6 109.2h0.6M194.4 95.1h0.6M195.9 82.5h0.6M195.3 97.8h0.6M193.4 93.4h0.6M194.8 105.5h0.6M193.7 105.7h0.6M195.2 107.3h0.6M193.5 107.4h0.6M193 77.9h0.6M195.8 106.9h0.6M193.6 83.4h0.6M193.9 82.7h0.6M195.3 85.2h0.6M192.9 96.1h0.6M193.4 103.8h0.6M195.3 86.3h0.6M194.8 94.7h0.6M194.9 107h0.6M193.9 78.8h0.6M195.1 82.8h0.6M194.3 94.4h0.6M195.6 97.1h0.6M195.7 92.6h0.6M193.8 88.2h0.6M194.9 98.7h0.6M193.1 97.5h0.6M193.3 107.5h0.6M196 81.4h0.6M193.5 81.3h0.6M194.2 101.1h0.6M193.4 107.9h0.6M195.4 90.6h0.6M193.8 108.1h0.6M193.7 84h0.6M193.8 106.4h0.6M193.2 80.2h0.6M193.1 87.2h0.6M194.7 75.9h0.6M194.2 88.5h0.6M196 88h0.6M194.7 88.9h0.6M193.9 79.4h0.6M192.9 89.1h0.6M193.9 99.2h0.6M193.2 77.4h0.6M194.6 93.3h0.6M195.1 88.2h0.6M195 110.1h0.6M193.1 74.7h0.6M193.9 101.5h0.6M194.4 82.7h0.6M194.6 86.8h0.6M195.1 102.3h0.6M193 94.3h0.6M193.5 81.2h0.6M193.2 87.6h0.6M193.5 87.9h0.6M195.4 110.3h0.6M193.1 96.2h0.6M195.7 102.1h0.6M195.5 97.3h0.6M193.4 107.3h0.6M193.1 101.6h0.6M193.6 75.4h0.6M194.2 80.2h0.6M193.4 103.1h0.6M194 80.3h0.6M193.7 93.4h0.6M194.3 73.8h0.6M194.4 110.3h0.6M196 109.4h0.6M195.5 90.8h0.6M194.3 100.4h0.6M193.8 84h0.6M193.6 79.1h0.6M193.1 92h0.6M195 101h0.6M193.6 78.1h0.6M194.3 80.2h0.6M194.3 87.5h0.6M193.4 87.9h0.6M194.9 97.6h0.6M195.4 102.5h0.6M193.8 93.2h0.6M195.1 91.1h0.6M195.3 92.6h0.6M194.1 109.9h0.6M192.9 77.3h0.6M194.9 89.2h0.6M194.5 101.1h0.6M194 95.3h0.6M195.1 76.4h0.6M195.5 91.6h0.6M193.8 90.5h0.6M195.1 107.1h0.6M194.9 95.6h0.6M195.4 81.1h0.6M194.4 93.1h0.6M195.2 101.6h0.6M195.9 80.4h0.6M195.5 100.5h0.6M193.5 96.1h0.6M193.8 98.5h0.6M192.8 89.7h0.6M195.2 96.1h0.6M195.5 81.1h0.6M192.9 94.1h0.6M194.8 107.7h0.6M194.1 84h0.6M193.1 93.8h0.6M193.4 75.1h0.6M194.2 107.5h0.6M195.2 83.6h0.6M193.1 88.9h0.6M194.3 91.6h0.6M194 74.1h0.6M194.5 98.6h0.6M195.1 76.8h0.6M193.4 75.2h0.6M194.6 95.6h0.6M194.6 86.9h0.6M195.5 100.9h0.6M195.7 98.1h0.6M195.6 98.9h0.6M194.1 86h0.6M195.2 82.1h0.6M193.3 97.3h0.6M196 105.6h0.6M193.9 84.2h0.6M195.1 73.6h0.6M193.3 108.2h0.6M192.9 84.3h0.6M194 77h0.6M195.6 79.3h0.6M192.9 95.8h0.6M194.1 92h0.6M193.3 98.5h0.6M192.8 95.2h0.6M194.3 104.6h0.6M194.9 77.4h0.6M192.9 124h0.6M195.5 115.6h0.6M194.5 110.8h0.6M195.9 113.5h0.6M195.6 126.6h0.6M193.9 121.5h0.6M192.8 111.5h0.6M195.6 133.7h0.6M194.9 116h0.6M194 122.1h0.6M192.8 115.5h0.6M193 126.7h0.6M194.6 120.6h0.6M195.3 111.3h0.6M195.7 129.2h0.6M194.4 134.2h0.6M195.8 130.5h0.6M195.7 131h0.6M192.9 134.8h0.6M195.7 129.6h0.6M193 129.9h0.6M193.6 127.1h0.6M194.3 123.8h0.6M195.6 137.5h0.6M195.9 134.7h0.6M194.7 116.3h0.6M193.9 140.6h0.6M195.5 112.4h0.6M194.5 121.7h0.6M194.9 124.3h0.6M193.3 138.7h0.6M193.4 133.6h0.6M193.3 127.2h0.6M194.5 121.7h0.6M193.9 116.9h0.6M193.9 113h0.6M194.5 118.2h0.6M193.5 129.1h0.6M195.3 130.2h0.6M194 128.8h0.6M195.3 124.9h0.6M195.3 136.2h0.6M194.3 140.5h0.6M195.5 138.6h0.6M194.7 139.7h0.6M193.3 121.1h0.6M195.8 118.9h0.6M193.2 141h0.6M194 112.5h0.6M195 113.1h0.6M192.9 125.4h0.6M193.1 116.3h0.6M193.5 137.1h0.6M195.6 140.8h0.6M194.8 140h0.6M194.9 125.5h0.6M194.4 129.2h0.6M193.3 116.8h0.6M193.4 114.3h0.6M194.1 139.4h0.6M192.9 113.7h0.6M195.2 114.1h0.6M195.8 114.5h0.6M194.5 137.6h0.6M193 116.3h0.6M194.8 128.4h0.6M194.5 122.6h0.6M193.6 129.1h0.6M195.5 138.3h0.6M193.1 139.9h0.6M195.8 136.6h0.6M195.8 128.3h0.6M195.3 138h0.6M193.2 131.2h0.6M195.9 136.5h0.6M194.9 128.7h0.6M194.2 114.1h0.6M194.8 137.9h0.6M195.1 112.2h0.6M195.4 137.9h0.6M193.5 129.9h0.6M194.3 128.1h0.6M195.5 119.1h0.6M195.7 116.2h0.6M195.9 137.2h0.6M195.4 116.6h0.6M193.9 123.4h0.6M194.3 135.7h0.6M194.8 127.5h0.6M193.3 131.6h0.6M195.9 114.1h0.6M193.9 117.8h0.6M193.6 124.4h0.6M194 116h0.6M194.8 141h0.6M193.8 129.4h0.6M193.4 119.2h0.6M194 116.2h0.6M196 132.4h0.6M195.3 128.1h0.6M193.3 130.4h0.6M195.1 139.2h0.6M194.7 115.8h0.6M194.5 123h0.6M194.1 130h0.6M193.3 130.9h0.6M193.1 111.5h0.6M193.1 113h0.6M193 112.8h0.6M194.2 133.8h0.6M194.8 131.3h0.6M193.3 116.4h0.6M194.6 140.9h0.6M194.5 131.1h0.6M195.3 117.9h0.6M195.8 131.5h0.6M194.5 137.5h0.6M194.2 120.7h0.6M193.5 115.9h0.6M193.9 110.5h0.6M193.7 131h0.6M193.3 129.1h0.6M195.1 121.6h0.6M194.8 137.3h0.6M194.9 120.2h0.6M193.9 118.1h0.6M195.7 113.9h0.6M193.6 132.4h0.6M193.7 132h0.6M193.9 141.9h0.6M194.9 130.3h0.6M194.4 124.8h0.6M194.3 124.6h0.6M194.2 127.1h0.6M195.8 135.9h0.6M195.9 122.8h0.6M193.2 126.2h0.6M194.9 142h0.6M195.8 122.8h0.6M192.9 120.3h0.6M193.5 134h0.6M194.3 130.7h0.6M194.3 137.3h0.6M194.8 113.3h0.6M195.7 140.3h0.6M193 111.6h0.6M193.2 123h0.6M194 121.7h0.6M194.8 133.1h0.6M194.8 113.6h0.6M194.6 134.9h0.6M193.7 128.4h0.6M192.9 134.5h0.6M195.6 113.1h0.6M193.2 112.6h0.6M193.6 140.4h0.6M194.9 129.9h0.6M194.9 123.1h0.6M195.6 117.8h0.6M194.1 139.3h0.6M204.3 141.8h0.6M238.1 141.4h0.6M238.9 143.7h0.6M202.8 142h0.6M238 141.2h0.6M235.5 143.2h0.6M200.9 144.2h0.6M237 143.2h0.6M237.9 142.5h0.6M204 143.2h0.6M222.5 144.2h0.6M218 143.8h0.6M209.3 142.1h0.6M222.1 144.3h0.6M220.4 142.9h0.6M206.5 142.6h0.6M238.4 142.1h0.6M199.9 141.6h0.6M206.1 141.9h0.6M235 141.1h0.6M194.4 143.4h0.6M220.4 143.7h0.6M237.4 143.4h0.6M242.3 141.9h0.6M200.1 142.2h0.6M239.4 142.5h0.6M204.1 144.3h0.6M226.8 142.2h0.6M194.9 141.1h0.6M202.5 140.8h0.6M243.5 142.7h0.6M204 142.2h0.6M213.1 143.7h0.6M222.1 142.1h0.6M243.1 142.9h0.6M224.9 141.1h0.6M233.1 142.6h0.6M222.3 142.7h0.6M206 143.8h0.6M223.5 142.7h0.6M204.8 144.3h0.6M215.5 143.5h0.6M243.9 141.6h0.6M194.3 143.4h0.6M193.4 144.1h0.6M247.8 142.3h0.6M238.3 142.8h0.6M209.7 141.2h0.6M216.4 143.1h0.6M227.8 141.4h0.6M234.6 140.9h0.6M248.4 142.3h0.6M219.9 143.9h0.6M228.6 143.3h0.6M202.4 143.9h0.6M213.6 143.8h0.6M228.8 141.8h0.6M240.7 141.6h0.6M228.5 141.7h0.6M222.9 142.1h0.6M240.6 142.5h0.6M213 141.2h0.6M206.4 141.5h0.6M196.6 141.4h0.6M196.4 144.1h0.6M224.4 141.8h0.6M215.9 142h0.6M245 142.6h0.6M206.2 140.9h0.6M204.6 142.3h0.6M246.7 142.7h0.6M237.6 140.8h0.6M247 142.2h0.6M248.9 143.3h0.6M239.5 142.3h0.6M202.7 143.1h0.6M235.8 141.6h0.6M243.4 142.8h0.6M217.5 143.9h0.6M206.2 141.4h0.6M196.1 142.1h0.6M246 143.5h0.6M207.4 142.5h0.6M203.3 142h0.6M200.7 141.5h0.6M237.5 143.7h0.6M223 142.2h0.6M199 142.1h0.6M230 143.4h0.6M234.5 143.2h0.6M213.4 144h0.6M220.6 142.9h0.6M200.8 140.9h0.6M217.9 142.3h0.6M248.4 142.5h0.6M214.9 143.9h0.6M207.3 143h0.6M223.9 141.3h0.6M231.8 144.1h0.6M222.3 144h0.6M204.3 141.8h0.6M215.8 142.2h0.6M235.1 140.8h0.6M248.7 142.6h0.6M247.2 141.8h0.6M201.4 141h0.6M248.7 142.5h0.6M195.4 144.1h0.6M246.6 144.2h0.6M204 142.7h0.6M203.7 144.1h0.6M205.5 142.7h0.6M224.3 141.6h0.6M197 141.4h0.6M196.8 143.6h0.6M216.6 142.7h0.6M236.9 144.2h0.6M232.8 142.5h0.6M206.2 143.9h0.6M197 142.1h0.6M227.8 142.4h0.6M201.8 144.1h0.6M245.4 142.2h0.6M226.2 142.9h0.6M246.9 142.1h0.6M215.5 142.4h0.6M229.1 141.6h0.6M217.3 141.7h0.6M230.6 141.8h0.6M197.3 141.7h0.6M197.2 144.2h0.6M240.5 143.4h0.6M197.5 142.1h0.6M218.2 142.8h0.6M217.5 143.3h0.6M245.5 143.7h0.6M223.3 141.1h0.6M240 141.5h0.6M228.3 141.5h0.6M229.5 142.9h0.6M216.5 142.1h0.6M243.3 144h0.6M217.9 141.5h0.6M221.2 141.1h0.6M242.3 141.1h0.6M221.9 141.8h0.6M231 142.4h0.6M224.5 140.8h0.6M223.8 141.4h0.6M216.1 142.4h0.6M244.2 143.3h0.6M194.8 141.2h0.6M241.8 143.3h0.6M228.2 143.5h0.6M223.7 142.2h0.6M202 142.7h0.6M206.4 143.2h0.6M245.1 143.4h0.6M198.7 140.9h0.6M229.2 144.2h0.6M217.7 142.7h0.6M198.6 143.6h0.6M242.7 141.1h0.6M203.5 141.4h0.6M197 141.2h0.6M238.6 143h0.6M248.5 141.4h0.6M216.8 141.3h0.6M241.6 142.9h0.6M227.1 142.7h0.6M213.6 141.5h0.6M202.3 142.7h0.6M214.8 141.1h0.6M225.4 141.8h0.6M209 141.9h0.6M210.3 141h0.6M230.6 144h0.6M208.7 140.7h0.6M226.4 140.9h0.6M212.9 141.5h0.6M230.1 141.9h0.6M198.5 141.1h0.6M244.5 141.4h0.6M195 141.6h0.6M248.5 141h0.6M210.4 143.8h0.6M199.6 144.3h0.6M210.9 142.5h0.6M230.3 144.2h0.6M217.1 144h0.6M211.7 141.4h0.6M207.3 143.5h0.6M213 141.2h0.6M213.3 144h0.6M239.9 141.9h0.6M246.1 143.7h0.6M194.1 144.3h0.6M248.7 141.4h0.6M205.6 143.4h0.6M198.8 142.5h0.6M202 143.5h0.6M216.6 143.9h0.6M224.5 140.8h0.6M229 142.7h0.6M209.7 144.2h0.6M235 142.6h0.6M196.4 142.9h0.6M243.7 142.6h0.6M219.1 143.4h0.6M212.2 144.2h0.6M241.6 142.7h0.6M248 141.5h0.6M244.3 141.5h0.6M241.9 142.1h0.6M213.6 142.2h0.6M224.8 141h0.6M193.7 141.9h0.6M201.8 141.9h0.6M235 142.7h0.6M241.4 144.1h0.6M212.8 143.7h0.6M231.9 141.3h0.6M215.7 143.6h0.6M199.9 142.1h0.6M199.5 142.2h0.6M199.6 143.2h0.6M225.6 142.6h0.6M214.7 143.6h0.6M244.2 140.8h0.6M213.1 142.3h0.6M240.4 141.1h0.6M246.5 140.9h0.6M239.5 141.6h0.6M243.1 143.8h0.6M201.9 141.3h0.6M240.8 142.7h0.6M208.5 141.2h0.6M245.8 141.3h0.6M248.8 142.8h0.6M239.9 140.8h0.6M216.2 141h0.6M217.2 141.8h0.6M213.8 141.3h0.6M223.6 142.9h0.6M244.1 141.3h0.6M211.3 142.9h0.6M215.7 143.8h0.6M235 141h0.6M216.8 141.9h0.6M233.5 142.4h0.6M204.7 141.8h0.6M211.5 143.9h0.6M242 144.3h0.6M228.9 143.4h0.6M195.4 143.7h0.6M245 142h0.6M196.2 143.5h0.6M237.2 144.2h0.6M235.6 144.2h0.6M239.3 141h0.6M193.4 140.9h0.6M201.9 142.4h0.6M209.8 141.9h0.6M244.4 143.3h0.6M211 141.6h0.6M213.4 141.9h0.6M239.4 142.4h0.6M245.5 144.2h0.6M199.8 142.7h0.6M209.2 142.7h0.6M194.2 142.9h0.6M219.9 143.9h0.6M202 142.2h0.6M234 143.6h0.6M196 141.8h0.6M238.2 143.1h0.6M245.8 142.6h0.6M211.2 141.7h0.6M202.3 143.9h0.6M227 141.4h0.6M237.5 143.9h0.6M210.1 142.3h0.6M244.3 141.8h0.6M234.5 144h0.6M230.7 143.2h0.6M218.3 143.4h0.6M237.2 141.9h0.6M218.6 141.8h0.6M249.3 143.5h0.6M226.7 141.4h0.6M240.4 141.3h0.6M208.8 143.9h0.6M213.8 142.6h0.6M225.2 143.3h0.6M246.1 143.4h0.6M229.2 143.1h0.6M211.6 144.1h0.6M222.6 141.4h0.6M212.5 140.9h0.6M236.7 143.3h0.6M294.6 122.9h0.6M194.3 69h0.6M201.9 80.8h0.6M260.8 129.3h0.6M193.6 131.3h0.6M201.9 123.9h0.6M206 129.4h0.6M231.8 69.6h0.6M266.1 117.5h0.6M221.3 93.7h0.6M212.3 120.4h0.6M294.2 57.5h0.6M249.3 105.6h0.6M210.6 124.1h0.6M291.2 85.2h0.6M264.2 99.3h0.6M293.8 41.6h0.6M244.7 70.1h0.6M276.9 51.7h0.6M238.7 121.5h0.6M193.4 88.7h0.6M227.3 56.5h0.6M277.2 135.1h0.6M238.3 112.8h0.6M210.1 107.7h0.6M269.5 82.6h0.6M227 135.6h0.6M242.1 59.3h0.6M264.3 115.4h0.6M259.4 97h0.6M229.3 126.7h0.6M196.3 65.7h0.6M213.8 125.4h0.6M265.9 131.1h0.6M261.4 79.7h0.6M217.3 52.7h0.6M291.2 78.8h0.6M239.8 107.2h0.6M292 143.8h0.6M258.8 137.9h0.6M247.4 118.3h0.6M274.8 118.7h0.6M241 112.1h0.6M284.3 118.1h0.6M278.6 109h0.6M256.4 117.9h0.6M250.6 111.9h0.6M230.8 131.5h0.6M221.6 107.1h0.6M231.9 130.5h0.6M285.6 130.4h0.6M239.7 123.3h0.6M269.8 108.4h0.6M281.3 118.4h0.6M292.4 128h0.6M263.8 124.5h0.6M277.7 111.6h0.6M279.8 125.2h0.6M256.1 119.8h0.6M221.5 111.5h0.6M256.3 108.8h0.6M253.8 132.1h0.6M247.3 111.3h0.6M273.6 114.8h0.6M255 138.8h0.6M235.6 131h0.6M268.2 107.2h0.6M235.3 142.5h0.6M236.2 126h0.6M229.8 135.2h0.6M239.1 116.8h0.6M226.8 107.6h0.6M254.3 105.1h0.6M280.8 122.3h0.6M275.9 114.9h0.6M226.9 118.5h0.6M260.1 124.8h0.6M242.9 112.5h0.6M279.4 139.8h0.6M231.3 139.2h0.6M221.5 140.8h0.6M293.7 120.8h0.6M283.8 123.9h0.6M230.9 142.4h0.6M262 120h0.6M227.5 126h0.6M245.8 132.1h0.6M299 127.3h0.6M251.9 134.3h0.6M295.1 141h0.6M280.8 142.2h0.6M234.2 118.5h0.6M255.5 123.4h0.6M248.1 136.7h0.6M269.5 112.9h0.6M230.6 121h0.6" stroke="#4a4a4a" stroke-width="0.6"/>
<rect x="192.2" y="66" width="4.6" height="79" fill="url(#vb1)" fill-opacity="0.95"/>
<rect x="191.9" y="140.5" width="57" height="4.2" fill="url(#hb1)" fill-opacity="0.92"/>
<path d="M241.9 104.6 240.9 104.7 240.1 104.6 239.4 104.4 238.7 104.1 238 103.6 237.5 103.1 237 102.6 236.7 102.1 236.3 101.6 235.9 100.8 235.5 100.1 235.3 99.6 234.9 98.9 234.5 98.1 234.3 97.6 234 96.6 233.9 96.1 233.7 95.1 233.7 94.1 233.7 93.1 233.8 92.1 233.8 91.1 233.9 90.1 233.9 89.5 233.9 88.6 234 87.6 234.1 86.6 234.3 85.6 234.5 85.1 234.9 84.1 235.1 83.6 235.4 83 235.9 82.1 236.2 81.6 236.5 81.1 236.9 80.3 237.3 79.6 237.5 79.1 237.9 78.3 238.2 77.6 238.5 77.1 238.9 76.5 239.4 75.7 239.9 75.1 240.3 74.6 240.7 74.1 241.1 73.6 241.6 73.1 242.1 72.6 242.6 72.1 243.2 71.6 243.8 71.1 244.4 70.8 244.9 70.5 245.9 70.2 246.4 70.1 247.4 69.9 248.4 69.8 249.4 69.7 250.4 69.7 251.4 69.7 252.4 69.8 253.4 70.1 253.9 70.3 254.4 70.6 255 71.1 255.5 71.6 255.9 72.2 256.3 73.1 256.5 73.6 256.8 74.6 256.9 75.1 257.1 76.1 257.2 77.1 257.4 78.1 257.4 78.6 257.6 79.6 257.7 80.6 257.7 81.6 257.7 82.6 257.7 83.6 257.6 84.6 257.4 85.6 257.3 86.1 257.1 87.1 256.9 87.9 256.7 88.6 256.4 89.6 256.3 90.1 255.9 91.1 255.8 91.6 255.4 92.6 255.3 93.1 254.9 94.1 254.7 94.6 254.4 95.4 254.1 96.1 253.9 96.6 253.5 97.6 253.3 98.1 252.9 98.9 252.6 99.6 252.3 100.1 251.9 100.7 251.4 101.4 250.9 101.9 250.4 102.4 249.9 102.7 249.3 103.1 248.4 103.5 247.9 103.7 246.9 103.9 245.9 104.1 245.4 104.2 244.4 104.3 243.4 104.4 242.4 104.6 241.9 104.6ZM244.4 102.1 243.4 102.1 242.4 102.2 241.4 102.2 240.4 102.1 239.9 101.9 239.3 101.6 238.6 101.1 238.2 100.6 237.8 100.1 237.4 99.5 236.9 98.6 236.6 98.1 236.4 97.6 235.9 96.6 235.7 96.1 235.5 95.1 235.4 94.6 235.3 93.6 235.3 92.6 235.3 91.6 235.3 90.6 235.4 89.6 235.4 88.6 235.4 88.1 235.5 87.1 235.7 86.1 235.9 85.3 236.1 84.6 236.4 84 236.9 83.1 237.2 82.6 237.6 82.1 237.9 81.6 238.4 80.8 238.8 80.1 239.1 79.6 239.4 79 239.8 78.1 240.1 77.6 240.5 77.1 240.9 76.5 241.4 75.8 241.9 75.3 242.4 74.7 242.9 74.2 243.4 73.7 243.9 73.3 244.4 72.9 244.9 72.6 245.9 72.1 246.4 71.9 247.4 71.7 248.4 71.7 249.4 71.7 250.4 71.8 251.4 72.1 251.9 72.2 252.6 72.6 253.3 73.1 253.7 73.6 254.1 74.1 254.4 74.6 254.9 75.6 255 76.1 255.3 77.1 255.5 77.6 255.7 78.6 255.9 79.6 256 80.1 256.1 81.1 256.2 82.1 256.2 83.1 256.1 84.1 256 85.1 255.9 85.6 255.7 86.6 255.5 87.6 255.4 88.1 255.1 89.1 254.9 89.9 254.7 90.6 254.4 91.4 254.2 92.1 253.9 92.9 253.6 93.6 253.4 94.2 253 95.1 252.8 95.6 252.4 96.4 252.1 97.1 251.8 97.6 251.4 98.5 251.1 99.1 250.7 99.6 250.3 100.1 249.9 100.6 249.2 101.1 248.4 101.6 247.9 101.8 246.9 102 245.9 102.1 244.9 102.1 244.4 102.1Z" fill="none" stroke="#111" stroke-width="0.75"/>
<path d="M235.4 140.8 234.4 141 233.4 141 232.4 140.7 231.9 140.4 231.4 140.1 230.7 139.6 230.1 139.1 229.6 138.6 229 138.1 228.5 137.6 227.9 137.1 227.4 136.7 226.9 136.2 226.4 135.7 225.9 135.3 225.4 134.8 224.9 134.4 224.4 133.9 223.9 133.4 223.4 133 222.9 132.4 222.4 131.9 221.9 131.2 221.5 130.6 221.2 130.1 220.9 129.5 220.5 128.6 220.3 128.1 219.9 127.1 219.7 126.6 219.4 125.6 219.3 125.1 219 124.1 218.9 123.6 218.7 122.6 218.5 121.6 218.4 120.6 218.4 120.1 218.2 119.1 218 118.1 217.9 117.5 217.6 116.6 217.3 116.1 216.9 115.6 216.4 115.1 215.8 114.6 214.9 114.1 214.4 113.8 213.9 113.6 213 113.1 212.4 112.8 211.9 112.5 211.1 112.1 210.4 111.7 209.9 111.4 209.4 111 208.8 110.6 208.1 110.1 207.5 109.6 206.9 109.1 206.4 108.7 205.9 108.3 205.4 107.9 204.9 107.4 204.4 107 203.9 106.5 203.4 106 202.9 105.5 202.4 104.9 201.9 104.3 201.4 103.7 200.9 103.1 200.4 102.6 200 102.1 199.6 101.6 199.2 101.1 198.9 100.6 198.4 99.6 198.2 99.1 198 98.1 197.9 97.1 197.9 96.1 198 95.1 198.1 94.1 198.2 93.1 198.2 92.1 198.2 91.1 198.1 90.1 198.2 89.1 198.3 88.1 198.4 87.4 198.6 86.6 198.9 86 199.3 85.1 199.6 84.6 199.9 84 200.4 83.1 200.6 82.6 200.9 82.1 201.4 81.2 201.8 80.6 202.1 80.1 202.4 79.6 202.9 79 203.4 78.4 203.9 77.8 204.4 77.3 204.9 76.9 205.4 76.5 205.9 76.1 206.6 75.6 207.4 75.1 207.9 74.8 208.4 74.5 209.2 74.1 209.9 73.7 210.4 73.5 211.1 73.1 211.9 72.7 212.4 72.4 212.9 72.1 213.9 71.6 214.4 71.3 214.9 71.1 215.9 70.7 216.4 70.5 217.4 70.1 217.9 70 218.9 69.6 219.4 69.5 220.4 69.2 220.9 69.1 221.9 68.8 222.7 68.6 223.4 68.4 224.4 68.2 224.9 68.1 225.9 67.9 226.9 67.7 227.5 67.6 228.4 67.4 229.4 67.2 230.1 67.1 230.9 66.9 231.9 66.7 232.5 66.6 233.4 66.4 234.4 66.1 234.9 66 235.9 65.7 236.4 65.5 237.3 65.1 237.9 64.8 238.4 64.6 239.4 64.2 239.9 64 240.9 63.7 241.4 63.5 242.4 63.3 243.1 63.1 243.9 62.9 244.9 62.8 245.9 62.6 246.4 62.6 247.4 62.5 248.4 62.4 249.4 62.5 250.4 62.6 250.9 62.7 251.9 62.9 252.4 63.1 253.4 63.4 254 63.6 254.9 63.9 255.4 64.1 256.4 64.5 256.9 64.8 257.4 65.1 258.2 65.6 258.7 66.1 259.2 66.6 259.7 67.1 260.1 67.6 260.4 68.1 260.9 68.8 261.4 69.5 261.8 70.1 262.1 70.6 262.4 71.1 262.9 71.8 263.4 72.6 263.6 73.1 263.9 73.6 264.3 74.6 264.5 75.1 264.8 76.1 265 76.6 265.3 77.6 265.4 78.2 265.6 79.1 265.9 80.1 266 80.6 266.2 81.6 266.3 82.6 266.4 83.4 266.5 84.1 266.5 85.1 266.6 86.1 266.7 87.1 266.8 88.1 266.9 88.6 267.2 89.6 267.4 90.2 267.8 91.1 268.1 91.6 268.4 92.2 268.9 93.1 269.1 93.6 269.4 94.2 269.8 95.1 270 95.6 270.2 96.6 270.3 97.6 270.3 98.6 270.2 99.6 269.9 100.6 269.7 101.1 269.4 101.7 268.9 102.5 268.4 103.1 267.9 103.6 267.4 104 266.9 104.4 266.4 104.7 265.7 105.1 264.9 105.5 264.4 105.7 263.4 106.1 262.9 106.3 261.9 106.6 261.4 106.7 260.4 107 259.9 107.2 258.9 107.5 258.4 107.6 257.4 108 256.9 108.3 256.3 108.6 255.5 109.1 254.9 109.5 254.4 109.8 253.9 110.2 253.3 110.6 252.7 111.1 252 111.6 251.4 112.1 250.9 112.5 250.4 112.9 249.9 113.3 249.4 113.7 248.9 114.1 248.3 114.6 247.7 115.1 247.2 115.6 246.7 116.1 246.3 116.6 245.9 117.1 245.4 118 245.1 118.6 244.9 119.1 244.6 120.1 244.4 120.7 244.1 121.6 243.9 122.4 243.7 123.1 243.4 124.1 243.2 124.6 242.9 125.6 242.8 126.1 242.5 127.1 242.3 127.6 242 128.6 241.9 129.1 241.6 130.1 241.4 131.1 241.3 131.6 241 132.6 240.9 133.1 240.6 134.1 240.4 134.7 240 135.6 239.7 136.1 239.4 136.7 238.9 137.4 238.4 138.1 238 138.6 237.6 139.1 237.1 139.6 236.6 140.1 235.9 140.6 235.4 140.8ZM234.9 137.2 233.9 137.3 232.9 137.1 232.4 136.9 231.7 136.6 230.9 136.1 230.4 135.8 229.9 135.5 229.4 135.1 228.7 134.6 228.1 134.1 227.5 133.6 227 133.1 226.4 132.6 225.9 132.1 225.4 131.7 224.9 131.2 224.4 130.7 223.9 130.2 223.4 129.6 223.1 129.1 222.8 128.6 222.4 127.9 222 127.1 221.9 126.6 221.5 125.6 221.4 125.1 221.2 124.1 221 123.1 220.9 122.1 220.9 121.6 220.8 120.6 220.8 119.6 220.9 118.6 220.9 118.1 221 117.1 221 116.1 220.9 115.2 220.7 114.6 220.4 113.9 219.9 113.3 219.4 112.8 218.9 112.4 218.4 112.1 217.5 111.6 216.9 111.4 216.3 111.1 215.4 110.8 214.9 110.6 213.9 110.2 213.4 110 212.6 109.6 211.9 109.3 211.4 109 210.7 108.6 209.9 108.1 209.4 107.8 208.9 107.5 208.3 107.1 207.6 106.6 206.9 106.1 206.4 105.7 205.9 105.4 205.4 104.9 204.9 104.5 204.4 104 203.9 103.4 203.4 102.8 202.9 102.1 202.6 101.6 202.3 101.1 201.9 100.5 201.4 99.6 201.2 99.1 200.9 98.3 200.7 97.6 200.6 96.6 200.5 95.6 200.5 94.6 200.6 93.6 200.7 92.6 200.8 91.6 200.9 90.7 201 90.1 201.3 89.1 201.4 88.6 201.8 87.6 202.1 87.1 202.4 86.5 202.8 85.6 203.1 85.1 203.4 84.4 203.8 83.6 204 83.1 204.4 82.2 204.7 81.6 205 81.1 205.4 80.4 205.9 79.7 206.4 79.2 206.9 78.7 207.4 78.3 207.9 78 208.6 77.6 209.4 77.2 209.9 77 210.8 76.6 211.4 76.4 212 76.1 212.9 75.6 213.4 75.4 213.9 75.1 214.6 74.6 215.4 74.1 215.9 73.8 216.4 73.5 217 73.1 217.9 72.7 218.4 72.5 219.3 72.1 219.9 71.9 220.6 71.6 221.4 71.3 222.2 71.1 222.9 70.9 223.9 70.6 224.4 70.5 225.4 70.3 226.3 70.1 226.9 70 227.9 69.9 228.9 69.7 229.4 69.6 230.4 69.4 231.4 69.2 231.9 69.1 232.9 68.8 233.9 68.6 234.4 68.5 235.4 68.2 235.9 68.1 236.9 67.7 237.4 67.5 238.3 67.1 238.9 66.8 239.5 66.6 240.4 66.3 241 66.1 241.9 65.9 242.9 65.6 243.4 65.5 244.4 65.3 245.4 65.2 245.9 65.1 246.9 65 247.9 64.9 248.9 65 249.8 65.1 250.4 65.2 251.4 65.4 252 65.6 252.9 65.9 253.7 66.1 254.4 66.3 255.1 66.6 255.9 67 256.4 67.2 256.9 67.6 257.5 68.1 258 68.6 258.4 69.1 258.9 69.7 259.4 70.4 259.9 71.1 260.3 71.6 260.6 72.1 261 72.6 261.4 73.3 261.9 74.1 262.1 74.6 262.4 75.2 262.7 76.1 262.9 76.7 263.1 77.6 263.4 78.6 263.5 79.1 263.7 80.1 263.9 81.1 263.9 81.6 264.1 82.6 264.2 83.6 264.2 84.6 264.2 85.6 264.3 86.6 264.4 87.6 264.4 88.1 264.6 89.1 264.9 90.1 265.1 90.6 265.4 91.3 265.8 92.1 266.1 92.6 266.5 93.1 266.9 93.8 267.4 94.6 267.7 95.1 267.9 95.6 268.3 96.6 268.4 97.2 268.5 98.1 268.4 99.1 268.3 99.6 268 100.6 267.8 101.1 267.4 101.6 266.9 102.2 266.4 102.7 265.9 103.1 265.1 103.6 264.4 104 263.9 104.2 262.9 104.5 262.4 104.7 261.4 104.9 260.6 105.1 259.9 105.2 258.9 105.4 258.1 105.6 257.4 105.8 256.4 106.1 255.9 106.3 255.3 106.6 254.4 107.1 253.9 107.4 253.4 107.7 252.8 108.1 252 108.6 251.4 109.1 250.9 109.4 250.4 109.8 249.9 110.1 249.3 110.6 248.6 111.1 247.9 111.6 247.4 111.9 246.9 112.2 246.3 112.6 245.6 113.1 244.9 113.6 244.4 113.9 243.9 114.4 243.4 114.9 242.9 115.5 242.5 116.1 242.3 116.6 242 117.6 241.9 118.3 241.8 119.1 241.8 120.1 241.7 121.1 241.6 122.1 241.5 123.1 241.4 123.7 241.2 124.6 241 125.6 240.8 126.1 240.5 127.1 240.4 127.6 240.1 128.6 239.9 129.1 239.6 130.1 239.4 130.7 239.1 131.6 238.9 132.2 238.6 133.1 238.4 133.6 237.9 134.5 237.5 135.1 237.1 135.6 236.7 136.1 236.1 136.6 235.4 137 234.9 137.2ZM234.9 133.8 233.9 133.9 232.9 133.8 232.4 133.6 231.5 133.1 230.9 132.8 230.4 132.4 229.9 132 229.3 131.6 228.7 131.1 228.1 130.6 227.5 130.1 226.9 129.6 226.4 129.1 225.9 128.6 225.5 128.1 225.1 127.6 224.8 127.1 224.4 126.4 224.1 125.6 223.9 125.1 223.6 124.1 223.5 123.1 223.4 122.6 223.3 121.6 223.4 120.6 223.4 120.1 223.6 119.1 223.8 118.1 223.9 117.6 224.2 116.6 224.4 115.9 224.5 115.1 224.4 114.2 224.2 113.6 223.9 113 223.4 112.3 222.9 111.7 222.4 111.2 221.9 110.8 221.4 110.5 220.9 110.1 220.1 109.6 219.4 109.2 218.9 108.9 218.4 108.6 217.6 108.1 216.9 107.8 216.4 107.5 215.4 107.1 214.9 107 213.9 106.7 213.4 106.5 212.4 106.2 211.9 106 211 105.6 210.4 105.3 209.9 105.1 209.1 104.6 208.4 104.2 207.9 103.9 207.4 103.5 206.9 103.1 206.3 102.6 205.8 102.1 205.4 101.5 204.9 100.8 204.5 100.1 204.2 99.6 203.9 98.9 203.6 98.1 203.4 97.5 203.2 96.6 203 95.6 202.9 94.6 202.9 93.6 203 92.6 203.2 91.6 203.4 91 203.7 90.1 204 89.6 204.4 88.9 204.9 88.1 205.1 87.6 205.4 87.1 205.9 86.1 206.1 85.6 206.4 85 206.8 84.1 207 83.6 207.4 82.8 207.8 82.1 208.1 81.6 208.5 81.1 209 80.6 209.6 80.1 210.4 79.6 210.9 79.3 211.4 79 212.3 78.6 212.9 78.3 213.4 78.1 214.3 77.6 214.9 77.3 215.4 77 216 76.6 216.8 76.1 217.4 75.7 217.9 75.4 218.5 75.1 219.4 74.6 219.9 74.4 220.6 74.1 221.4 73.8 221.9 73.6 222.9 73.3 223.4 73.1 224.4 72.8 225.3 72.6 225.9 72.5 226.9 72.3 227.9 72.2 228.5 72.1 229.4 71.9 230.4 71.8 231.2 71.6 231.9 71.5 232.9 71.3 233.8 71.1 234.4 71 235.4 70.8 236 70.6 236.9 70.3 237.4 70.1 238.4 69.6 238.9 69.3 239.4 69.1 240.4 68.6 240.9 68.4 241.9 68.1 242.4 68 243.4 67.7 244 67.6 244.9 67.4 245.9 67.3 246.9 67.2 247.9 67.2 248.9 67.2 249.9 67.4 250.7 67.6 251.4 67.8 252.4 68.1 252.9 68.3 253.7 68.6 254.4 68.9 254.9 69.2 255.5 69.6 256.1 70.1 256.7 70.6 257.2 71.1 257.6 71.6 258.1 72.1 258.5 72.6 258.9 73.1 259.4 73.8 259.9 74.5 260.2 75.1 260.5 75.6 260.9 76.6 261 77.1 261.3 78.1 261.4 78.6 261.6 79.6 261.7 80.6 261.9 81.6 261.9 82.1 262 83.1 262 84.1 262.1 85.1 262.1 86.1 262.2 87.1 262.3 88.1 262.4 88.6 262.6 89.6 262.9 90.6 263 91.1 263.4 92 263.7 92.6 264 93.1 264.4 93.7 264.9 94.4 265.4 95.1 265.7 95.6 266 96.1 266.4 97.1 266.5 97.6 266.5 98.6 266.4 99.4 266.2 100.1 265.9 100.6 265.4 101.2 264.9 101.6 264.2 102.1 263.4 102.5 262.9 102.7 261.9 103 261.4 103.1 260.4 103.3 259.4 103.4 258.4 103.5 257.5 103.6 256.9 103.7 255.9 104 255.4 104.1 254.4 104.5 253.9 104.8 253.3 105.1 252.4 105.6 251.9 105.9 251.4 106.2 250.8 106.6 250 107.1 249.4 107.5 248.9 107.8 248.3 108.1 247.4 108.6 246.9 108.9 246.4 109.1 245.4 109.6 244.9 109.8 244.2 110.1 243.4 110.5 242.9 110.7 242.1 111.1 241.4 111.5 240.9 111.8 240.4 112.1 239.8 112.6 239.4 113.1 238.9 113.9 238.7 114.6 238.6 115.6 238.7 116.6 238.9 117.6 239 118.1 239.2 119.1 239.4 120.1 239.4 120.6 239.5 121.6 239.5 122.6 239.5 123.6 239.4 124.1 239.2 125.1 239 126.1 238.8 126.6 238.5 127.6 238.4 128.1 238 129.1 237.8 129.6 237.4 130.6 237.2 131.1 236.9 131.7 236.4 132.5 235.9 133.1 235.4 133.5 234.9 133.8ZM234.9 129.8 233.9 129.9 233.1 129.6 232.4 129.1 231.9 128.7 231.4 128.3 230.9 127.9 230.4 127.5 229.9 127.1 229.4 126.6 228.8 126.1 228.3 125.6 227.9 125.1 227.4 124.1 227.2 123.6 227 122.6 227 121.6 227.2 120.6 227.4 120.1 227.9 119.2 228.3 118.6 228.7 118.1 229.2 117.6 229.6 117.1 230 116.6 230.4 115.9 230.9 115.1 231.2 114.6 231.3 113.6 230.9 113.1 230.4 112.6 229.9 112.1 229.3 111.6 228.6 111.1 227.9 110.6 227.4 110.3 226.9 109.9 226.4 109.6 225.5 109.1 224.9 108.8 224.4 108.5 223.6 108.1 222.9 107.8 222.4 107.5 221.7 107.1 220.9 106.6 220.4 106.3 219.9 106 219.3 105.6 218.5 105.1 217.9 104.8 217.4 104.6 216.4 104.3 215.7 104.1 214.9 104 213.9 103.7 213.4 103.6 212.4 103.3 211.9 103.1 210.9 102.6 210.4 102.4 209.9 102 209.3 101.6 208.6 101.1 208.1 100.6 207.7 100.1 207.3 99.6 206.9 98.9 206.5 98.1 206.3 97.6 205.9 96.6 205.8 96.1 205.6 95.1 205.6 94.1 205.6 93.1 205.9 92.1 206 91.6 206.4 90.8 206.7 90.1 207 89.6 207.4 88.7 207.7 88.1 207.9 87.6 208.3 86.6 208.5 86.1 208.9 85.2 209.2 84.6 209.4 84.1 209.9 83.4 210.4 82.7 210.9 82.2 211.4 81.7 211.9 81.4 212.4 81 213.1 80.6 213.9 80.2 214.4 79.9 215.1 79.6 215.9 79.2 216.4 78.9 217.1 78.6 217.9 78.2 218.4 77.9 219.1 77.6 219.9 77.2 220.4 77 221.4 76.6 221.9 76.4 222.7 76.1 223.4 75.8 224.2 75.6 224.9 75.4 225.9 75.1 226.4 75.1 227.4 74.9 228.4 74.8 229.4 74.7 230 74.6 230.9 74.5 231.9 74.4 232.9 74.2 233.9 74.1 234.4 74.1 235.4 74 236.4 73.8 237.1 73.6 237.9 73.3 238.4 73 239 72.6 239.7 72.1 240.3 71.6 240.9 71.2 241.4 70.9 242 70.6 242.9 70.2 243.4 70 244.4 69.7 245 69.6 245.9 69.4 246.9 69.3 247.9 69.3 248.9 69.5 249.6 69.6 250.4 69.8 251.2 70.1 251.9 70.4 252.4 70.6 253.2 71.1 253.9 71.6 254.4 71.9 254.9 72.3 255.4 72.8 255.9 73.2 256.4 73.7 256.9 74.2 257.4 74.7 257.9 75.4 258.4 76.1 258.7 76.6 258.9 77.1 259.3 78.1 259.4 78.6 259.6 79.6 259.8 80.6 259.9 81.6 259.9 82.1 260 83.1 260 84.1 260 85.1 260.1 86.1 260.2 87.1 260.3 88.1 260.4 88.7 260.5 89.6 260.7 90.6 260.9 91.6 261 92.1 261.3 93.1 261.6 93.6 261.9 94.2 262.4 94.9 262.9 95.6 263.3 96.1 263.6 96.6 263.9 97.1 264.2 98.1 264.1 99.1 263.8 99.6 263.4 100.1 262.6 100.6 261.9 100.9 260.9 101.1 260.4 101.1 259.4 101.2 258.4 101.2 257.4 101.2 256.4 101.3 255.4 101.5 254.9 101.6 253.9 102 253.4 102.2 252.6 102.6 251.9 103 251.4 103.3 250.9 103.6 250.1 104.1 249.4 104.5 248.9 104.9 248.4 105.2 247.6 105.6 246.9 106 246.4 106.2 245.4 106.6 244.9 106.8 243.9 107.1 243.4 107.2 242.4 107.5 241.9 107.6 240.9 107.9 240.3 108.1 239.4 108.4 238.8 108.6 237.9 108.9 237.4 109.1 236.4 109.6 235.9 109.8 235.4 110.1 234.6 110.6 234 111.1 233.4 111.6 233 112.1 232.6 112.6 232.4 113.1 232.3 114.1 232.6 114.6 233 115.1 233.4 115.6 233.9 116.2 234.4 116.9 234.9 117.6 235.3 118.1 235.6 118.6 236 119.1 236.4 119.8 236.8 120.6 237 121.1 237.3 122.1 237.4 123.1 237.4 123.6 237.4 124.1 237.3 125.1 237.1 126.1 236.9 126.8 236.6 127.6 236.4 128.1 235.9 128.9 235.4 129.5 234.9 129.8ZM237.4 105.6 236.4 105.6 235.4 105.7 234.4 105.7 233.4 105.6 232.9 105.6 231.9 105.5 230.9 105.4 229.9 105.3 228.9 105.2 228.4 105.1 227.4 104.9 226.4 104.7 225.9 104.6 224.9 104.3 224.2 104.1 223.4 103.8 222.7 103.6 221.9 103.3 221.3 103.1 220.4 102.8 219.9 102.6 218.9 102.3 217.9 102.1 217.4 102.1 216.4 101.9 215.4 101.8 214.4 101.6 213.9 101.5 212.9 101.1 212.4 100.9 211.9 100.6 211.1 100.1 210.6 99.6 210.1 99.1 209.7 98.6 209.4 98.1 208.9 97.2 208.7 96.6 208.4 95.6 208.3 95.1 208.2 94.1 208.3 93.1 208.4 92.5 208.6 91.6 208.9 90.8 209.2 90.1 209.4 89.5 209.7 88.6 209.9 88.1 210.3 87.1 210.5 86.6 210.9 85.8 211.3 85.1 211.6 84.6 212 84.1 212.4 83.6 213 83.1 213.6 82.6 214.4 82.1 214.9 81.8 215.4 81.5 216.3 81.1 216.9 80.8 217.5 80.6 218.4 80.2 218.9 80.1 219.9 79.7 220.4 79.6 221.4 79.2 221.9 79.1 222.9 78.8 223.9 78.6 224.4 78.5 225.4 78.2 226.2 78.1 226.9 78 227.9 77.9 228.9 77.8 229.9 77.8 230.9 77.7 231.9 77.6 232.4 77.5 233.4 77.4 234.4 77.2 234.9 77 235.9 76.8 236.4 76.6 237.4 76.3 237.9 76 238.8 75.6 239.4 75.3 239.9 74.9 240.4 74.6 241 74.1 241.6 73.6 242.3 73.1 242.9 72.7 243.4 72.4 244 72.1 244.9 71.8 245.6 71.6 246.4 71.4 247.4 71.4 248.4 71.5 249.2 71.6 249.9 71.8 250.6 72.1 251.4 72.5 251.9 72.8 252.4 73.1 253.1 73.6 253.7 74.1 254.3 74.6 254.8 75.1 255.4 75.6 255.8 76.1 256.3 76.6 256.6 77.1 257 77.6 257.4 78.5 257.6 79.1 257.9 80.1 258 80.6 258.1 81.6 258.2 82.6 258.3 83.6 258.3 84.6 258.3 85.6 258.4 86.6 258.4 87.1 258.5 88.1 258.6 89.1 258.7 90.1 258.7 91.1 258.7 92.1 258.7 93.1 258.8 94.1 258.9 95.1 258.9 95.6 259 96.6 258.9 97.2 258.4 97.8 257.8 98.1 256.9 98.4 256.4 98.6 255.4 99 254.9 99.1 253.9 99.5 253.4 99.8 252.7 100.1 251.9 100.5 251.4 100.8 250.9 101.1 250 101.6 249.4 102 248.9 102.3 248.4 102.6 247.6 103.1 246.9 103.5 246.4 103.8 245.7 104.1 244.9 104.4 244.3 104.6 243.4 104.9 242.4 105.1 241.9 105.2 240.9 105.3 239.9 105.4 238.9 105.5 237.9 105.6 237.4 105.6ZM234.9 126.7 234.4 126.2 234.2 125.6 234.2 124.6 234.9 124.2 235.4 125.1 235.4 125.6 235.4 126.1 234.9 126.7ZM223.4 102.7 222.4 102.8 221.4 102.8 220.4 102.7 219.5 102.6 218.9 102.5 217.9 102.3 217.1 102.1 216.4 102 215.4 101.7 214.8 101.6 213.9 101.4 213.2 101.1 212.4 100.8 211.9 100.5 211.4 100.1 210.8 99.6 210.4 99.1 209.9 98.3 209.6 97.6 209.4 96.6 209.4 96.1 209.4 95.1 209.4 94.6 209.5 93.6 209.7 92.6 209.8 91.6 209.9 91.1 210.1 90.1 210.4 89.2 210.6 88.6 210.9 88.1 211.4 87.3 211.9 86.7 212.4 86.2 212.9 85.7 213.4 85.3 213.9 84.9 214.4 84.6 215 84.1 215.8 83.6 216.4 83.2 216.9 82.8 217.4 82.5 218.1 82.1 218.9 81.6 219.4 81.4 220 81.1 220.9 80.7 221.4 80.6 222.4 80.4 223.4 80.2 224.4 80.2 225.4 80.2 226.4 80.1 227.4 80.1 228.4 80.1 229.4 80.2 230.4 80.4 231.3 80.6 231.9 80.8 232.5 81.1 233.3 81.6 233.9 82.1 234.4 82.6 234.9 83.1 235.4 83.6 235.9 84.1 236.4 84.6 236.8 85.1 237.3 85.6 237.7 86.1 238.1 86.6 238.4 87.1 238.9 88.1 239.1 88.6 239.3 89.6 239.4 90.6 239.4 91.6 239.2 92.6 239 93.6 238.8 94.1 238.4 95.1 238.1 95.6 237.8 96.1 237.4 96.7 236.9 97.4 236.4 97.9 235.9 98.3 235.4 98.7 234.9 99.1 234.2 99.6 233.4 100.1 232.9 100.4 232.4 100.7 231.5 101.1 230.9 101.3 230 101.6 229.4 101.7 228.4 101.9 227.4 102 226.9 102.1 225.9 102.3 224.9 102.4 223.9 102.6 223.4 102.7ZM225.4 100.2 224.4 100.3 223.4 100.5 222.4 100.5 221.4 100.5 220.4 100.4 219.4 100.1 218.9 100 217.9 99.7 217.3 99.6 216.4 99.4 215.4 99.2 214.9 99.1 213.9 98.8 213.3 98.6 212.6 98.1 212.1 97.6 211.8 97.1 211.6 96.1 211.6 95.1 211.8 94.1 212 93.6 212.3 92.6 212.4 92.1 212.8 91.1 213 90.6 213.4 89.7 213.8 89.1 214.1 88.6 214.5 88.1 214.9 87.6 215.4 87.1 215.9 86.6 216.5 86.1 217 85.6 217.6 85.1 218.3 84.6 218.9 84.2 219.4 83.8 219.9 83.5 220.7 83.1 221.4 82.8 222 82.6 222.9 82.3 223.9 82.2 224.8 82.1 225.4 82.1 226.4 82.1 227.4 82.1 227.9 82.1 228.9 82.2 229.9 82.4 230.4 82.6 231.4 83.1 231.9 83.5 232.4 83.9 232.9 84.4 233.4 85 233.9 85.6 234.3 86.1 234.7 86.6 235 87.1 235.4 87.7 235.8 88.6 236.1 89.1 236.3 90.1 236.4 90.6 236.5 91.6 236.4 92.3 236.2 93.1 235.9 94 235.6 94.6 235.2 95.1 234.8 95.6 234.4 96.1 233.8 96.6 233.2 97.1 232.6 97.6 231.9 98 231.4 98.3 230.9 98.6 229.9 99.1 229.4 99.3 228.4 99.6 227.9 99.7 226.9 99.9 225.9 100.1 225.4 100.2ZM226.9 98.2 225.9 98.4 224.9 98.5 223.9 98.6 222.9 98.5 221.9 98.4 220.9 98.2 220.4 98 219.4 97.7 218.9 97.4 218.1 97.1 217.4 96.8 216.9 96.6 215.9 96.3 214.9 96.2 214.2 96.1 214.4 95.2 214.9 94.6 215.2 94.1 215.4 93.6 215.9 92.6 216 92.1 216.4 91.1 216.5 90.6 216.9 89.6 217.1 89.1 217.4 88.5 217.9 87.7 218.4 87.1 218.8 86.6 219.4 86.1 219.9 85.7 220.4 85.3 220.9 85 221.7 84.6 222.4 84.3 223 84.1 223.9 83.9 224.9 83.8 225.9 83.7 226.9 83.8 227.9 83.9 228.7 84.1 229.4 84.4 229.9 84.6 230.7 85.1 231.3 85.6 231.8 86.1 232.2 86.6 232.5 87.1 232.9 87.7 233.4 88.6 233.6 89.1 233.9 90.1 234 90.6 234 91.6 233.9 92.3 233.7 93.1 233.4 93.7 232.9 94.5 232.4 95.1 231.9 95.6 231.4 96 230.9 96.4 230.4 96.7 229.7 97.1 228.9 97.5 228.4 97.7 227.4 98 226.9 98.2ZM226.4 96.7 225.4 96.8 224.4 96.8 223.4 96.7 222.9 96.6 221.9 96.2 221.4 95.9 220.9 95.5 220.4 95 219.9 94.3 219.6 93.6 219.4 92.9 219.2 92.1 219.2 91.1 219.3 90.1 219.4 89.6 219.8 88.6 220.1 88.1 220.4 87.6 220.9 87.1 221.6 86.6 222.4 86.1 222.9 85.9 223.9 85.6 224.4 85.5 225.4 85.4 226.4 85.4 227.4 85.6 227.9 85.7 228.8 86.1 229.4 86.4 229.9 86.8 230.4 87.3 230.9 87.9 231.4 88.6 231.6 89.1 231.9 89.9 232 90.6 232.1 91.6 231.9 92.3 231.6 93.1 231.3 93.6 230.9 94.1 230.4 94.6 229.9 95.1 229.1 95.6 228.4 96 227.9 96.2 226.9 96.6 226.4 96.7ZM226.4 95.2 225.4 95.3 224.4 95.2 223.9 95 223 94.6 222.4 94.1 222 93.6 221.7 93.1 221.4 92.5 221.2 91.6 221.1 90.6 221.3 89.6 221.5 89.1 221.9 88.5 222.4 88 223 87.6 223.9 87.2 224.4 87.1 225.4 86.9 226.4 87 226.9 87.1 227.9 87.4 228.4 87.7 228.9 88.1 229.5 88.6 229.9 89.2 230.3 90.1 230.4 90.9 230.4 91.2 230.2 92.1 229.9 92.8 229.4 93.5 228.9 94 228.4 94.3 227.9 94.6 226.9 95 226.4 95.2ZM225.9 93.6 225.2 93.6 224.4 93.3 223.9 93 223.4 92.5 223 91.6 222.9 91.1 222.9 90.6 223.3 89.6 223.8 89.1 224.4 88.7 224.9 88.6 225.9 88.5 226.6 88.6 227.4 88.9 227.9 89.3 228.4 89.9 228.7 90.6 228.7 91.6 228.4 92.2 227.9 92.8 227.4 93.2 226.4 93.6 225.9 93.6ZM226.4 92.1 225.4 92.2 224.9 91.9 224.5 91.1 224.9 90.1 225.4 89.9 226.4 89.9 226.9 90.2 227.3 91.1 226.9 91.9 226.4 92.1ZM240.4 108.1 239.4 108.1 238.9 108 237.9 107.6 237.4 107.4 236.9 107 236.4 106.5 235.9 105.8 235.5 105.1 235.2 104.6 234.9 103.9 234.6 103.1 234.4 102.6 234 101.6 233.8 101.1 233.5 100.1 233.3 99.6 233 98.6 232.8 98.1 232.6 97.1 232.4 96.1 232.3 95.6 232.2 94.6 232.2 93.6 232.1 92.6 232.1 91.6 232.1 90.6 232.1 89.6 232.2 88.6 232.3 87.6 232.4 87.1 232.7 86.1 232.9 85.4 233.2 84.6 233.4 84.1 233.9 83.1 234.1 82.6 234.4 82 234.8 81.1 235 80.6 235.4 79.6 235.6 79.1 235.9 78.4 236.2 77.6 236.5 77.1 236.9 76.4 237.4 75.6 237.7 75.1 238.1 74.6 238.6 74.1 239.1 73.6 239.6 73.1 240.1 72.6 240.7 72.1 241.3 71.6 241.9 71.1 242.4 70.7 242.9 70.2 243.4 69.7 243.9 69.3 244.4 68.8 244.9 68.4 245.4 68 246 67.6 246.9 67.2 247.4 67 248.4 66.8 249.4 66.7 250.4 66.7 251.4 66.9 252.4 67.1 252.9 67.2 253.9 67.6 254.4 67.8 254.9 68.1 255.6 68.6 256.3 69.1 256.8 69.6 257.3 70.1 257.7 70.6 258 71.1 258.4 71.8 258.8 72.6 259.1 73.1 259.4 74 259.6 74.6 259.8 75.6 259.9 76.1 260.1 77.1 260.2 78.1 260.3 79.1 260.3 80.1 260.3 81.1 260.2 82.1 260 83.1 259.9 83.6 259.6 84.6 259.4 85.3 259.1 86.1 258.9 86.7 258.5 87.6 258.3 88.1 258 89.1 257.8 89.6 257.5 90.6 257.4 91.1 257.1 92.1 256.9 93 256.8 93.6 256.5 94.6 256.3 95.1 256 96.1 255.8 96.6 255.4 97.5 255.1 98.1 254.8 98.6 254.4 99.3 253.9 100.1 253.6 100.6 253.3 101.1 252.9 101.8 252.4 102.6 252 103.1 251.6 103.6 251.1 104.1 250.5 104.6 249.9 105 249.4 105.3 248.7 105.6 247.9 105.9 247.2 106.1 246.4 106.3 245.4 106.6 244.9 106.7 243.9 107.1 243.4 107.3 242.5 107.6 241.9 107.8 240.9 108 240.4 108.1ZM243.9 100.2 242.9 100.3 241.9 100.4 240.9 100.3 240.4 100.1 239.8 99.6 239.4 99.1 238.9 98.1 238.8 97.6 238.6 96.6 238.4 95.8 238.3 95.1 238.1 94.1 237.9 93.2 237.8 92.6 237.6 91.6 237.6 90.6 237.5 89.6 237.6 88.6 237.8 87.6 237.9 87.1 238.2 86.1 238.4 85.6 238.8 84.6 238.9 84.1 239.3 83.1 239.5 82.6 239.9 81.6 240.1 81.1 240.4 80.5 240.8 79.6 241.1 79.1 241.4 78.6 241.9 78 242.4 77.4 242.9 76.9 243.4 76.5 244 76.1 244.8 75.6 245.4 75.4 246.2 75.1 246.9 74.9 247.9 74.9 248.9 75 249.4 75.2 250.1 75.6 250.7 76.1 251.3 76.6 251.9 77.1 252.4 77.6 252.9 78.1 253.3 78.6 253.7 79.1 254 79.6 254.4 80.3 254.7 81.1 254.9 81.8 255 82.6 255 83.6 254.9 84.1 254.7 85.1 254.4 86.1 254.3 86.6 254 87.6 253.8 88.1 253.5 89.1 253.4 89.7 253.2 90.6 252.9 91.6 252.8 92.1 252.4 93.1 252.3 93.6 251.9 94.4 251.5 95.1 251.2 95.6 250.8 96.1 250.4 96.6 249.9 97.2 249.4 97.6 248.9 98.1 248.2 98.6 247.4 99 246.9 99.3 246.1 99.6 245.4 99.8 244.4 100 243.9 100.2ZM245.4 97.7 244.4 97.9 243.4 98 242.4 97.8 241.9 97.6 241.4 97.1 240.9 96.5 240.5 95.6 240.3 95.1 240 94.1 239.8 93.6 239.5 92.6 239.4 91.9 239.3 91.1 239.2 90.1 239.2 89.1 239.4 88.1 239.5 87.6 239.8 86.6 239.9 86.1 240.3 85.1 240.5 84.6 240.9 83.6 241.1 83.1 241.4 82.4 241.8 81.6 242.1 81.1 242.4 80.6 242.9 79.9 243.4 79.4 243.9 78.9 244.4 78.5 245.2 78.1 245.9 77.9 246.9 77.8 247.9 78 248.4 78.2 249.2 78.6 249.9 79 250.4 79.4 250.9 79.8 251.4 80.2 251.9 80.7 252.4 81.5 252.7 82.1 252.9 82.7 253 83.6 253 84.6 252.9 85.3 252.8 86.1 252.5 87.1 252.4 87.7 252.2 88.6 252 89.6 251.9 90.1 251.6 91.1 251.4 91.8 251.1 92.6 250.9 93.1 250.4 93.9 249.9 94.6 249.5 95.1 249 95.6 248.4 96.1 247.9 96.5 247.4 96.8 246.9 97.1 245.9 97.5 245.4 97.7ZM245.4 95.6 244.4 95.7 243.6 95.6 242.9 95.3 242.4 94.8 241.9 94.2 241.6 93.6 241.3 93.1 241 92.1 240.9 91.6 240.7 90.6 240.7 89.6 240.8 88.6 240.9 88.1 241.2 87.1 241.4 86.5 241.7 85.6 242 85.1 242.4 84.2 242.7 83.6 243 83.1 243.4 82.5 243.9 81.9 244.4 81.4 244.9 81 245.7 80.6 246.4 80.4 247.4 80.4 248 80.6 248.9 81 249.4 81.4 249.9 81.8 250.4 82.4 250.8 83.1 251 83.6 251.2 84.6 251.2 85.6 251.1 86.6 251 87.6 250.9 88.1 250.7 89.1 250.5 90.1 250.3 90.6 250 91.6 249.7 92.1 249.4 92.7 248.9 93.4 248.4 93.9 247.9 94.4 247.4 94.7 246.8 95.1 245.9 95.5 245.4 95.6ZM245.9 93.8 244.9 93.9 243.9 93.7 243.4 93.4 242.9 92.9 242.4 92.1 242.2 91.6 242 90.6 242 89.6 242.1 88.6 242.3 87.6 242.5 87.1 242.9 86.2 243.2 85.6 243.4 85.1 243.9 84.4 244.4 83.7 244.9 83.2 245.4 82.9 245.9 82.6 246.9 82.4 247.8 82.6 248.4 82.9 248.9 83.4 249.3 84.1 249.5 84.6 249.7 85.6 249.8 86.6 249.7 87.6 249.6 88.6 249.4 89.4 249.2 90.1 248.9 90.8 248.5 91.6 248.1 92.1 247.7 92.6 247.1 93.1 246.4 93.6 245.9 93.8ZM238.4 144.1 237.4 144.3 236.4 144.3 235.4 144.3 234.4 144.1 233.9 144 232.9 143.6 232.4 143.4 231.9 143.1 231.1 142.6 230.4 142.2 229.9 141.8 229.4 141.4 228.9 140.9 228.4 140.3 227.9 139.6 227.7 139.1 227.4 138.4 227.1 137.6 226.9 137 226.6 136.1 226.4 135.4 226.1 134.6 225.9 133.8 225.7 133.1 225.4 132.1 225.3 131.6 225.1 130.6 225 129.6 224.9 128.6 224.9 128.1 224.9 127.1 224.9 126.1 224.9 125.6 225 124.6 225.1 123.6 225.2 122.6 225.4 121.6 225.5 121.1 225.6 120.1 225.8 119.1 225.9 118.4 226 117.6 226.2 116.6 226.4 115.8 226.6 115.1 226.9 114.1 227 113.6 227.4 112.7 227.7 112.1 227.9 111.6 228.4 110.8 228.8 110.1 229.2 109.6 229.6 109.1 230 108.6 230.4 108.1 231 107.6 231.6 107.1 232.4 106.7 232.9 106.5 233.9 106.3 234.9 106.4 235.8 106.6 236.4 106.9 236.9 107.1 237.5 107.6 238.1 108.1 238.6 108.6 239.1 109.1 239.6 109.6 240.2 110.1 240.7 110.6 241.2 111.1 241.7 111.6 242.1 112.1 242.5 112.6 242.9 113.2 243.4 114.1 243.6 114.6 243.9 115.4 244.1 116.1 244.4 117 244.6 117.6 244.8 118.6 244.9 119.4 245 120.1 245 121.1 245 122.1 245 123.1 244.9 124.1 244.9 124.8 244.9 125.6 244.8 126.6 244.8 127.6 244.8 128.6 244.9 129.6 244.9 130.6 244.9 131.1 244.9 132.1 244.9 132.6 244.8 133.6 244.6 134.6 244.4 135.4 244.2 136.1 243.9 136.9 243.6 137.6 243.4 138.2 243 139.1 242.8 139.6 242.4 140.6 242.2 141.1 241.9 141.6 241.4 142.3 240.9 142.8 240.4 143.2 239.8 143.6 238.9 144 238.4 144.1ZM236.4 136.7 235.4 136.7 234.9 136.6 233.9 136.3 233.4 136.1 232.6 135.6 232 135.1 231.4 134.6 231 134.1 230.7 133.6 230.3 133.1 229.9 132.2 229.7 131.6 229.4 130.6 229.3 130.1 229.2 129.1 229.2 128.1 229.3 127.1 229.4 126.1 229.4 125.6 229.5 124.6 229.6 123.6 229.7 122.6 229.8 121.6 229.9 121.1 230.1 120.1 230.3 119.1 230.5 118.6 230.9 117.6 231.1 117.1 231.5 116.6 231.9 116.1 232.4 115.6 233.2 115.1 233.9 114.8 234.5 114.6 235.4 114.5 236.4 114.6 236.9 114.7 237.8 115.1 238.4 115.6 238.9 116.1 239.2 116.6 239.5 117.1 239.8 118.1 239.9 118.6 240.1 119.6 240.1 120.6 240.2 121.6 240.3 122.6 240.4 123.3 240.6 124.1 240.8 125.1 240.9 125.8 241 126.6 241.2 127.6 241.2 128.6 241.1 129.6 241 130.6 240.9 131.2 240.7 132.1 240.4 132.9 240.1 133.6 239.9 134.1 239.4 134.8 238.9 135.4 238.4 135.8 237.9 136.2 236.9 136.6 236.4 136.7ZM235.9 131.6 234.9 131.7 234.4 131.5 233.9 131.1 233.4 130.5 233 129.6 232.8 129.1 232.7 128.1 232.6 127.1 232.6 126.1 232.7 125.1 232.8 124.1 232.9 123.6 233.2 122.6 233.4 122 233.9 121.2 234.4 120.7 235.4 120.7 235.9 121.1 236.4 121.8 236.7 122.6 236.9 123.1 237.2 124.1 237.4 124.9 237.6 125.6 237.7 126.6 237.8 127.6 237.7 128.6 237.5 129.6 237.3 130.1 236.9 130.8 236.4 131.3 235.9 131.6Z" fill="none" stroke="#262626" stroke-width="0.6"/>
<ellipse cx="244" cy="89.5" rx="1.6" ry="5.5" fill="#fff" fill-opacity="0.75" transform="rotate(25 244 89.5)"/>
</g>
<rect x="231.2" y="54.6" width="58.8" height="57.7" fill="none" stroke="#000" stroke-width="1.5"/>
<text x="264.8" y="68.2" font-size="11" font-weight="bold">51.3</text>
<text x="41" y="176.8" font-size="11" font-weight="bold">CD4</text>
<line x1="29.2" y1="211.6" x2="29.2" y2="320.7" stroke="#000" stroke-width="1.8"/>
<line x1="28.3" y1="319.8" x2="287.2" y2="319.8" stroke="#000" stroke-width="1.8"/>
<path d="M29.2 203.6 L23.6 214.6 L34.8 214.6" fill="#000" stroke="none"/>
<path d="M296.2 319.8 L285.2 314.4 L285.2 325.2" fill="#000" stroke="none"/>
<rect x="45" y="195" width="106.5" height="106.2" fill="none" stroke="#8a8a8a" stroke-width="0.8"/>
<line x1="42.4" y1="301.2" x2="45" y2="301.2" stroke="#555" stroke-width="0.6"/>
<line x1="45" y1="301.2" x2="45" y2="303.8" stroke="#555" stroke-width="0.6"/>
<line x1="43.8" y1="293.2" x2="45" y2="293.2" stroke="#777" stroke-width="0.4"/>
<line x1="53" y1="301.2" x2="53" y2="302.4" stroke="#777" stroke-width="0.4"/>
<line x1="43.8" y1="288.5" x2="45" y2="288.5" stroke="#777" stroke-width="0.4"/>
<line x1="57.7" y1="301.2" x2="57.7" y2="302.4" stroke="#777" stroke-width="0.4"/>
<line x1="43.8" y1="285.2" x2="45" y2="285.2" stroke="#777" stroke-width="0.4"/>
<line x1="61" y1="301.2" x2="61" y2="302.4" stroke="#777" stroke-width="0.4"/>
<line x1="43.8" y1="282.6" x2="45" y2="282.6" stroke="#777" stroke-width="0.4"/>
<line x1="63.6" y1="301.2" x2="63.6" y2="302.4" stroke="#777" stroke-width="0.4"/>
<line x1="43.8" y1="280.5" x2="45" y2="280.5" stroke="#777" stroke-width="0.4"/>
<line x1="65.7" y1="301.2" x2="65.7" y2="302.4" stroke="#777" stroke-width="0.4"/>
<line x1="43.8" y1="278.8" x2="45" y2="278.8" stroke="#777" stroke-width="0.4"/>
<line x1="67.5" y1="301.2" x2="67.5" y2="302.4" stroke="#777" stroke-width="0.4"/>
<line x1="43.8" y1="277.2" x2="45" y2="277.2" stroke="#777" stroke-width="0.4"/>
<line x1="69" y1="301.2" x2="69" y2="302.4" stroke="#777" stroke-width="0.4"/>
<line x1="43.8" y1="275.9" x2="45" y2="275.9" stroke="#777" stroke-width="0.4"/>
<line x1="70.4" y1="301.2" x2="70.4" y2="302.4" stroke="#777" stroke-width="0.4"/>
<line x1="42.4" y1="274.6" x2="45" y2="274.6" stroke="#555" stroke-width="0.6"/>
<line x1="71.6" y1="301.2" x2="71.6" y2="303.8" stroke="#555" stroke-width="0.6"/>
<line x1="43.8" y1="266.7" x2="45" y2="266.7" stroke="#777" stroke-width="0.4"/>
<line x1="79.6" y1="301.2" x2="79.6" y2="302.4" stroke="#777" stroke-width="0.4"/>
<line x1="43.8" y1="262" x2="45" y2="262" stroke="#777" stroke-width="0.4"/>
<line x1="84.3" y1="301.2" x2="84.3" y2="302.4" stroke="#777" stroke-width="0.4"/>
<line x1="43.8" y1="258.7" x2="45" y2="258.7" stroke="#777" stroke-width="0.4"/>
<line x1="87.7" y1="301.2" x2="87.7" y2="302.4" stroke="#777" stroke-width="0.4"/>
<line x1="43.8" y1="256.1" x2="45" y2="256.1" stroke="#777" stroke-width="0.4"/>
<line x1="90.2" y1="301.2" x2="90.2" y2="302.4" stroke="#777" stroke-width="0.4"/>
<line x1="43.8" y1="254" x2="45" y2="254" stroke="#777" stroke-width="0.4"/>
<line x1="92.3" y1="301.2" x2="92.3" y2="302.4" stroke="#777" stroke-width="0.4"/>
<line x1="43.8" y1="252.2" x2="45" y2="252.2" stroke="#777" stroke-width="0.4"/>
<line x1="94.1" y1="301.2" x2="94.1" y2="302.4" stroke="#777" stroke-width="0.4"/>
<line x1="43.8" y1="250.7" x2="45" y2="250.7" stroke="#777" stroke-width="0.4"/>
<line x1="95.7" y1="301.2" x2="95.7" y2="302.4" stroke="#777" stroke-width="0.4"/>
<line x1="43.8" y1="249.3" x2="45" y2="249.3" stroke="#777" stroke-width="0.4"/>
<line x1="97" y1="301.2" x2="97" y2="302.4" stroke="#777" stroke-width="0.4"/>
<line x1="42.4" y1="248.1" x2="45" y2="248.1" stroke="#555" stroke-width="0.6"/>
<line x1="98.2" y1="301.2" x2="98.2" y2="303.8" stroke="#555" stroke-width="0.6"/>
<line x1="43.8" y1="240.1" x2="45" y2="240.1" stroke="#777" stroke-width="0.4"/>
<line x1="106.3" y1="301.2" x2="106.3" y2="302.4" stroke="#777" stroke-width="0.4"/>
<line x1="43.8" y1="235.4" x2="45" y2="235.4" stroke="#777" stroke-width="0.4"/>
<line x1="111" y1="301.2" x2="111" y2="302.4" stroke="#777" stroke-width="0.4"/>
<line x1="43.8" y1="232.1" x2="45" y2="232.1" stroke="#777" stroke-width="0.4"/>
<line x1="114.3" y1="301.2" x2="114.3" y2="302.4" stroke="#777" stroke-width="0.4"/>
<line x1="43.8" y1="229.5" x2="45" y2="229.5" stroke="#777" stroke-width="0.4"/>
<line x1="116.9" y1="301.2" x2="116.9" y2="302.4" stroke="#777" stroke-width="0.4"/>
<line x1="43.8" y1="227.4" x2="45" y2="227.4" stroke="#777" stroke-width="0.4"/>
<line x1="119" y1="301.2" x2="119" y2="302.4" stroke="#777" stroke-width="0.4"/>
<line x1="43.8" y1="225.7" x2="45" y2="225.7" stroke="#777" stroke-width="0.4"/>
<line x1="120.8" y1="301.2" x2="120.8" y2="302.4" stroke="#777" stroke-width="0.4"/>
<line x1="43.8" y1="224.1" x2="45" y2="224.1" stroke="#777" stroke-width="0.4"/>
<line x1="122.3" y1="301.2" x2="122.3" y2="302.4" stroke="#777" stroke-width="0.4"/>
<line x1="43.8" y1="222.8" x2="45" y2="222.8" stroke="#777" stroke-width="0.4"/>
<line x1="123.7" y1="301.2" x2="123.7" y2="302.4" stroke="#777" stroke-width="0.4"/>
<line x1="42.4" y1="221.6" x2="45" y2="221.6" stroke="#555" stroke-width="0.6"/>
<line x1="124.9" y1="301.2" x2="124.9" y2="303.8" stroke="#555" stroke-width="0.6"/>
<line x1="43.8" y1="213.6" x2="45" y2="213.6" stroke="#777" stroke-width="0.4"/>
<line x1="132.9" y1="301.2" x2="132.9" y2="302.4" stroke="#777" stroke-width="0.4"/>
<line x1="43.8" y1="208.9" x2="45" y2="208.9" stroke="#777" stroke-width="0.4"/>
<line x1="137.6" y1="301.2" x2="137.6" y2="302.4" stroke="#777" stroke-width="0.4"/>
<line x1="43.8" y1="205.6" x2="45" y2="205.6" stroke="#777" stroke-width="0.4"/>
<line x1="140.9" y1="301.2" x2="140.9" y2="302.4" stroke="#777" stroke-width="0.4"/>
<line x1="43.8" y1="203" x2="45" y2="203" stroke="#777" stroke-width="0.4"/>
<line x1="143.5" y1="301.2" x2="143.5" y2="302.4" stroke="#777" stroke-width="0.4"/>
<line x1="43.8" y1="200.9" x2="45" y2="200.9" stroke="#777" stroke-width="0.4"/>
<line x1="145.6" y1="301.2" x2="145.6" y2="302.4" stroke="#777" stroke-width="0.4"/>
<line x1="43.8" y1="199.1" x2="45" y2="199.1" stroke="#777" stroke-width="0.4"/>
<line x1="147.4" y1="301.2" x2="147.4" y2="302.4" stroke="#777" stroke-width="0.4"/>
<line x1="43.8" y1="197.6" x2="45" y2="197.6" stroke="#777" stroke-width="0.4"/>
<line x1="148.9" y1="301.2" x2="148.9" y2="302.4" stroke="#777" stroke-width="0.4"/>
<line x1="43.8" y1="196.2" x2="45" y2="196.2" stroke="#777" stroke-width="0.4"/>
<line x1="150.3" y1="301.2" x2="150.3" y2="302.4" stroke="#777" stroke-width="0.4"/>
<line x1="42.4" y1="195" x2="45" y2="195" stroke="#555" stroke-width="0.6"/>
<line x1="151.5" y1="301.2" x2="151.5" y2="303.8" stroke="#555" stroke-width="0.6"/>
<text x="38.8" y="303.3" font-size="5.6" font-weight="bold" text-anchor="end" fill="#000" stroke="#000" stroke-width="0.25">10</text>
<text x="39" y="300.8" font-size="4.2" font-weight="bold" fill="#222" stroke="#222" stroke-width="0.15">0</text>
<text x="41.2" y="312" font-size="5.6" font-weight="bold" fill="#000" stroke="#000" stroke-width="0.25">10</text>
<text x="47" y="309.4" font-size="4.2" font-weight="bold" fill="#222" stroke="#222" stroke-width="0.15">0</text>
<text x="38.8" y="276.8" font-size="5.6" font-weight="bold" text-anchor="end" fill="#000" stroke="#000" stroke-width="0.25">10</text>
<text x="39" y="274.2" font-size="4.2" font-weight="bold" fill="#222" stroke="#222" stroke-width="0.15">1</text>
<text x="67.8" y="312" font-size="5.6" font-weight="bold" fill="#000" stroke="#000" stroke-width="0.25">10</text>
<text x="73.6" y="309.4" font-size="4.2" font-weight="bold" fill="#222" stroke="#222" stroke-width="0.15">1</text>
<text x="38.8" y="250.2" font-size="5.6" font-weight="bold" text-anchor="end" fill="#000" stroke="#000" stroke-width="0.25">10</text>
<text x="39" y="247.7" font-size="4.2" font-weight="bold" fill="#222" stroke="#222" stroke-width="0.15">2</text>
<text x="94.5" y="312" font-size="5.6" font-weight="bold" fill="#000" stroke="#000" stroke-width="0.25">10</text>
<text x="100.2" y="309.4" font-size="4.2" font-weight="bold" fill="#222" stroke="#222" stroke-width="0.15">2</text>
<text x="38.8" y="223.7" font-size="5.6" font-weight="bold" text-anchor="end" fill="#000" stroke="#000" stroke-width="0.25">10</text>
<text x="39" y="221.2" font-size="4.2" font-weight="bold" fill="#222" stroke="#222" stroke-width="0.15">3</text>
<text x="121.1" y="312" font-size="5.6" font-weight="bold" fill="#000" stroke="#000" stroke-width="0.25">10</text>
<text x="126.9" y="309.4" font-size="4.2" font-weight="bold" fill="#222" stroke="#222" stroke-width="0.15">3</text>
<text x="38.8" y="197.1" font-size="5.6" font-weight="bold" text-anchor="end" fill="#000" stroke="#000" stroke-width="0.25">10</text>
<text x="39" y="194.6" font-size="4.2" font-weight="bold" fill="#222" stroke="#222" stroke-width="0.15">4</text>
<text x="147.7" y="312" font-size="5.6" font-weight="bold" fill="#000" stroke="#000" stroke-width="0.25">10</text>
<text x="153.5" y="309.4" font-size="4.2" font-weight="bold" fill="#222" stroke="#222" stroke-width="0.15">4</text>
<rect x="192.4" y="194.7" width="106.8" height="106.6" fill="none" stroke="#8a8a8a" stroke-width="0.8"/>
<line x1="189.8" y1="301.3" x2="192.4" y2="301.3" stroke="#555" stroke-width="0.6"/>
<line x1="192.4" y1="301.3" x2="192.4" y2="303.9" stroke="#555" stroke-width="0.6"/>
<line x1="191.2" y1="293.3" x2="192.4" y2="293.3" stroke="#777" stroke-width="0.4"/>
<line x1="200.4" y1="301.3" x2="200.4" y2="302.5" stroke="#777" stroke-width="0.4"/>
<line x1="191.2" y1="288.6" x2="192.4" y2="288.6" stroke="#777" stroke-width="0.4"/>
<line x1="205.1" y1="301.3" x2="205.1" y2="302.5" stroke="#777" stroke-width="0.4"/>
<line x1="191.2" y1="285.3" x2="192.4" y2="285.3" stroke="#777" stroke-width="0.4"/>
<line x1="208.5" y1="301.3" x2="208.5" y2="302.5" stroke="#777" stroke-width="0.4"/>
<line x1="191.2" y1="282.7" x2="192.4" y2="282.7" stroke="#777" stroke-width="0.4"/>
<line x1="211.1" y1="301.3" x2="211.1" y2="302.5" stroke="#777" stroke-width="0.4"/>
<line x1="191.2" y1="280.6" x2="192.4" y2="280.6" stroke="#777" stroke-width="0.4"/>
<line x1="213.2" y1="301.3" x2="213.2" y2="302.5" stroke="#777" stroke-width="0.4"/>
<line x1="191.2" y1="278.8" x2="192.4" y2="278.8" stroke="#777" stroke-width="0.4"/>
<line x1="215" y1="301.3" x2="215" y2="302.5" stroke="#777" stroke-width="0.4"/>
<line x1="191.2" y1="277.2" x2="192.4" y2="277.2" stroke="#777" stroke-width="0.4"/>
<line x1="216.5" y1="301.3" x2="216.5" y2="302.5" stroke="#777" stroke-width="0.4"/>
<line x1="191.2" y1="275.9" x2="192.4" y2="275.9" stroke="#777" stroke-width="0.4"/>
<line x1="217.9" y1="301.3" x2="217.9" y2="302.5" stroke="#777" stroke-width="0.4"/>
<line x1="189.8" y1="274.6" x2="192.4" y2="274.6" stroke="#555" stroke-width="0.6"/>
<line x1="219.1" y1="301.3" x2="219.1" y2="303.9" stroke="#555" stroke-width="0.6"/>
<line x1="191.2" y1="266.6" x2="192.4" y2="266.6" stroke="#777" stroke-width="0.4"/>
<line x1="227.1" y1="301.3" x2="227.1" y2="302.5" stroke="#777" stroke-width="0.4"/>
<line x1="191.2" y1="261.9" x2="192.4" y2="261.9" stroke="#777" stroke-width="0.4"/>
<line x1="231.8" y1="301.3" x2="231.8" y2="302.5" stroke="#777" stroke-width="0.4"/>
<line x1="191.2" y1="258.6" x2="192.4" y2="258.6" stroke="#777" stroke-width="0.4"/>
<line x1="235.2" y1="301.3" x2="235.2" y2="302.5" stroke="#777" stroke-width="0.4"/>
<line x1="191.2" y1="256" x2="192.4" y2="256" stroke="#777" stroke-width="0.4"/>
<line x1="237.8" y1="301.3" x2="237.8" y2="302.5" stroke="#777" stroke-width="0.4"/>
<line x1="191.2" y1="253.9" x2="192.4" y2="253.9" stroke="#777" stroke-width="0.4"/>
<line x1="239.9" y1="301.3" x2="239.9" y2="302.5" stroke="#777" stroke-width="0.4"/>
<line x1="191.2" y1="252.1" x2="192.4" y2="252.1" stroke="#777" stroke-width="0.4"/>
<line x1="241.7" y1="301.3" x2="241.7" y2="302.5" stroke="#777" stroke-width="0.4"/>
<line x1="191.2" y1="250.6" x2="192.4" y2="250.6" stroke="#777" stroke-width="0.4"/>
<line x1="243.2" y1="301.3" x2="243.2" y2="302.5" stroke="#777" stroke-width="0.4"/>
<line x1="191.2" y1="249.2" x2="192.4" y2="249.2" stroke="#777" stroke-width="0.4"/>
<line x1="244.6" y1="301.3" x2="244.6" y2="302.5" stroke="#777" stroke-width="0.4"/>
<line x1="189.8" y1="248" x2="192.4" y2="248" stroke="#555" stroke-width="0.6"/>
<line x1="245.8" y1="301.3" x2="245.8" y2="303.9" stroke="#555" stroke-width="0.6"/>
<line x1="191.2" y1="240" x2="192.4" y2="240" stroke="#777" stroke-width="0.4"/>
<line x1="253.8" y1="301.3" x2="253.8" y2="302.5" stroke="#777" stroke-width="0.4"/>
<line x1="191.2" y1="235.3" x2="192.4" y2="235.3" stroke="#777" stroke-width="0.4"/>
<line x1="258.5" y1="301.3" x2="258.5" y2="302.5" stroke="#777" stroke-width="0.4"/>
<line x1="191.2" y1="232" x2="192.4" y2="232" stroke="#777" stroke-width="0.4"/>
<line x1="261.9" y1="301.3" x2="261.9" y2="302.5" stroke="#777" stroke-width="0.4"/>
<line x1="191.2" y1="229.4" x2="192.4" y2="229.4" stroke="#777" stroke-width="0.4"/>
<line x1="264.5" y1="301.3" x2="264.5" y2="302.5" stroke="#777" stroke-width="0.4"/>
<line x1="191.2" y1="227.3" x2="192.4" y2="227.3" stroke="#777" stroke-width="0.4"/>
<line x1="266.6" y1="301.3" x2="266.6" y2="302.5" stroke="#777" stroke-width="0.4"/>
<line x1="191.2" y1="225.5" x2="192.4" y2="225.5" stroke="#777" stroke-width="0.4"/>
<line x1="268.4" y1="301.3" x2="268.4" y2="302.5" stroke="#777" stroke-width="0.4"/>
<line x1="191.2" y1="223.9" x2="192.4" y2="223.9" stroke="#777" stroke-width="0.4"/>
<line x1="269.9" y1="301.3" x2="269.9" y2="302.5" stroke="#777" stroke-width="0.4"/>
<line x1="191.2" y1="222.6" x2="192.4" y2="222.6" stroke="#777" stroke-width="0.4"/>
<line x1="271.3" y1="301.3" x2="271.3" y2="302.5" stroke="#777" stroke-width="0.4"/>
<line x1="189.8" y1="221.3" x2="192.4" y2="221.3" stroke="#555" stroke-width="0.6"/>
<line x1="272.5" y1="301.3" x2="272.5" y2="303.9" stroke="#555" stroke-width="0.6"/>
<line x1="191.2" y1="213.3" x2="192.4" y2="213.3" stroke="#777" stroke-width="0.4"/>
<line x1="280.5" y1="301.3" x2="280.5" y2="302.5" stroke="#777" stroke-width="0.4"/>
<line x1="191.2" y1="208.6" x2="192.4" y2="208.6" stroke="#777" stroke-width="0.4"/>
<line x1="285.2" y1="301.3" x2="285.2" y2="302.5" stroke="#777" stroke-width="0.4"/>
<line x1="191.2" y1="205.3" x2="192.4" y2="205.3" stroke="#777" stroke-width="0.4"/>
<line x1="288.6" y1="301.3" x2="288.6" y2="302.5" stroke="#777" stroke-width="0.4"/>
<line x1="191.2" y1="202.7" x2="192.4" y2="202.7" stroke="#777" stroke-width="0.4"/>
<line x1="291.2" y1="301.3" x2="291.2" y2="302.5" stroke="#777" stroke-width="0.4"/>
<line x1="191.2" y1="200.6" x2="192.4" y2="200.6" stroke="#777" stroke-width="0.4"/>
<line x1="293.3" y1="301.3" x2="293.3" y2="302.5" stroke="#777" stroke-width="0.4"/>
<line x1="191.2" y1="198.8" x2="192.4" y2="198.8" stroke="#777" stroke-width="0.4"/>
<line x1="295.1" y1="301.3" x2="295.1" y2="302.5" stroke="#777" stroke-width="0.4"/>
<line x1="191.2" y1="197.3" x2="192.4" y2="197.3" stroke="#777" stroke-width="0.4"/>
<line x1="296.6" y1="301.3" x2="296.6" y2="302.5" stroke="#777" stroke-width="0.4"/>
<line x1="191.2" y1="195.9" x2="192.4" y2="195.9" stroke="#777" stroke-width="0.4"/>
<line x1="298" y1="301.3" x2="298" y2="302.5" stroke="#777" stroke-width="0.4"/>
<line x1="189.8" y1="194.7" x2="192.4" y2="194.7" stroke="#555" stroke-width="0.6"/>
<line x1="299.2" y1="301.3" x2="299.2" y2="303.9" stroke="#555" stroke-width="0.6"/>
<text x="186.2" y="303.4" font-size="5.6" font-weight="bold" text-anchor="end" fill="#000" stroke="#000" stroke-width="0.25">10</text>
<text x="186.4" y="300.9" font-size="4.2" font-weight="bold" fill="#222" stroke="#222" stroke-width="0.15">0</text>
<text x="188.6" y="312.1" font-size="5.6" font-weight="bold" fill="#000" stroke="#000" stroke-width="0.25">10</text>
<text x="194.4" y="309.5" font-size="4.2" font-weight="bold" fill="#222" stroke="#222" stroke-width="0.15">0</text>
<text x="186.2" y="276.8" font-size="5.6" font-weight="bold" text-anchor="end" fill="#000" stroke="#000" stroke-width="0.25">10</text>
<text x="186.4" y="274.2" font-size="4.2" font-weight="bold" fill="#222" stroke="#222" stroke-width="0.15">1</text>
<text x="215.3" y="312.1" font-size="5.6" font-weight="bold" fill="#000" stroke="#000" stroke-width="0.25">10</text>
<text x="221.1" y="309.5" font-size="4.2" font-weight="bold" fill="#222" stroke="#222" stroke-width="0.15">1</text>
<text x="186.2" y="250.1" font-size="5.6" font-weight="bold" text-anchor="end" fill="#000" stroke="#000" stroke-width="0.25">10</text>
<text x="186.4" y="247.6" font-size="4.2" font-weight="bold" fill="#222" stroke="#222" stroke-width="0.15">2</text>
<text x="242" y="312.1" font-size="5.6" font-weight="bold" fill="#000" stroke="#000" stroke-width="0.25">10</text>
<text x="247.8" y="309.5" font-size="4.2" font-weight="bold" fill="#222" stroke="#222" stroke-width="0.15">2</text>
<text x="186.2" y="223.4" font-size="5.6" font-weight="bold" text-anchor="end" fill="#000" stroke="#000" stroke-width="0.25">10</text>
<text x="186.4" y="220.9" font-size="4.2" font-weight="bold" fill="#222" stroke="#222" stroke-width="0.15">3</text>
<text x="268.7" y="312.1" font-size="5.6" font-weight="bold" fill="#000" stroke="#000" stroke-width="0.25">10</text>
<text x="274.5" y="309.5" font-size="4.2" font-weight="bold" fill="#222" stroke="#222" stroke-width="0.15">3</text>
<text x="186.2" y="196.8" font-size="5.6" font-weight="bold" text-anchor="end" fill="#000" stroke="#000" stroke-width="0.25">10</text>
<text x="186.4" y="194.3" font-size="4.2" font-weight="bold" fill="#222" stroke="#222" stroke-width="0.15">4</text>
<text x="295.4" y="312.1" font-size="5.6" font-weight="bold" fill="#000" stroke="#000" stroke-width="0.25">10</text>
<text x="301.2" y="309.5" font-size="4.2" font-weight="bold" fill="#222" stroke="#222" stroke-width="0.15">4</text>
<g clip-path="url(#cp3)">
<path d="M76.2 241h0.6M73.4 248h0.6M62.4 233.6h0.6M58.5 247.8h0.6M66 239.8h0.6M83.7 249.7h0.6M79.2 249.4h0.6M71.1 250.2h0.6M82.2 244.2h0.6M67.1 251.6h0.6M66.2 244.2h0.6M76.4 245.2h0.6M66.4 237.1h0.6M69.8 249.3h0.6M52.7 254.4h0.6M77.8 252.7h0.6M66.7 256.5h0.6M66 254.8h0.6M80 247.3h0.6M72.9 240.1h0.6M76.2 240.6h0.6M55 244.4h0.6M63.1 239.2h0.6M60.1 239.9h0.6M64.1 238.2h0.6M85.7 245.4h0.6M56.4 239.3h0.6M76.3 255h0.6M64.5 234h0.6M64.9 235.5h0.6M75.8 237.1h0.6M60.6 228.1h0.6M68 247.9h0.6M78.2 248.4h0.6M59.3 249.3h0.6M59.7 236.3h0.6M68.5 241.3h0.6M65.3 239.2h0.6M59.6 239.4h0.6M66.4 244h0.6M70.3 257.9h0.6M55.1 257.1h0.6M63.2 249.3h0.6M71.7 246.7h0.6M80.9 242.3h0.6M76.8 250.5h0.6M86.2 242.7h0.6M71.3 237.7h0.6M70.3 253.6h0.6M59.7 256.8h0.6M69.2 260.7h0.6M58.7 236.5h0.6M86.9 249.6h0.6M58.1 251.5h0.6M69.2 235.7h0.6M61.1 248.3h0.6M62.3 239.1h0.6M61.4 249.7h0.6M63.4 240.2h0.6M73.1 241.3h0.6M68.3 244.5h0.6M78.3 239h0.6M75.2 236.3h0.6M65 245.9h0.6M57.6 252.6h0.6M69 245.9h0.6M65.6 238.5h0.6M64.7 255.6h0.6M62.8 239.8h0.6M59.2 254.1h0.6M83.3 244.2h0.6M70.5 260.3h0.6M59.8 251.1h0.6M78.4 233.3h0.6M60.4 247.4h0.6M68.4 254.1h0.6M70.1 253.7h0.6M67.9 238.6h0.6M64.7 238.6h0.6M66.8 250.8h0.6M67.4 249.9h0.6M53.6 243.9h0.6M77.2 237.1h0.6M61.7 234.6h0.6M79.6 250h0.6M64.6 241.5h0.6M82.7 240.8h0.6M58 252.4h0.6M72.9 241.9h0.6M79.3 238.5h0.6M69.4 248.5h0.6M60.7 256.9h0.6M70.2 252.9h0.6M55.3 246.7h0.6M66.1 239.6h0.6M70.8 232.2h0.6M79.4 250.5h0.6M80 240.7h0.6M79 250.6h0.6M79.5 240.3h0.6M56.7 247.9h0.6M80.7 251.4h0.6M70.9 246.2h0.6M74.8 252.4h0.6M77.1 246.7h0.6M77.4 243h0.6M60.9 241.1h0.6M70.1 263.2h0.6M79.3 252.1h0.6M64.4 244.3h0.6M62.5 251.4h0.6M75.9 257.6h0.6M67.5 251.9h0.6M69.4 235.2h0.6M76.7 247.7h0.6M73.1 235.5h0.6M77 241.3h0.6M75.9 239h0.6M75.6 252.2h0.6M71.2 239.3h0.6M64.2 232.3h0.6M79.6 250.1h0.6M75.4 254.3h0.6M57.1 256.1h0.6M58.9 250.4h0.6M64.1 237.4h0.6M61.2 238.5h0.6M62.1 240.8h0.6M69.5 253.1h0.6M85.5 243.8h0.6M74.6 241.6h0.6M67.5 260.4h0.6M78.6 239.3h0.6M70.8 240.4h0.6M64.9 254.2h0.6M72.9 239.9h0.6M63.3 238.1h0.6M58.1 238.9h0.6M65.1 251.5h0.6M75.7 247.1h0.6M73.9 243h0.6M81.5 237.3h0.6M59 242.8h0.6M61.5 237.6h0.6M71.6 235.7h0.6M74.9 246.2h0.6M71.9 261.7h0.6M74.4 248.7h0.6M71.1 245.6h0.6M56.6 248.4h0.6M64 250.5h0.6M72.2 232.8h0.6M56.5 246.9h0.6M58.9 243.4h0.6M81 242.9h0.6M59.5 237.5h0.6M62.6 251.1h0.6M62.9 249.9h0.6M65.3 242.2h0.6M61.8 250.5h0.6M61.7 245.2h0.6M65.7 240.9h0.6M62.8 250h0.6M65.6 227.2h0.6M81.2 245.2h0.6M73.8 244.3h0.6M82.4 254.5h0.6M69 242.5h0.6M61.5 251.8h0.6M63.1 244.4h0.6M74.7 248.3h0.6M77 244.3h0.6M75.6 236.4h0.6M81.6 239.8h0.6M71.4 248.3h0.6M63.6 252.4h0.6M62.2 247h0.6M57.4 248.4h0.6M75.8 235.1h0.6M65.1 242.3h0.6M74 241.1h0.6M76 247.2h0.6M69.4 258.5h0.6M73.9 252.7h0.6M74.4 241.6h0.6M73.6 240.2h0.6M65.5 239.7h0.6M72.6 255.6h0.6M67.6 229.8h0.6M66.3 243.5h0.6M68.3 238.7h0.6M58.6 250.2h0.6M68.2 244.3h0.6M80.1 243.7h0.6M80.2 244.6h0.6M77.4 240.6h0.6M73.8 247.5h0.6M66.3 229.9h0.6M74.3 255.2h0.6M67.8 254.9h0.6M55.3 243.1h0.6M71.4 242.4h0.6M74.3 241.3h0.6M66.7 248.1h0.6M76.3 240.4h0.6M58.8 247.3h0.6M77.7 246h0.6M72.3 237.6h0.6M56.9 247.9h0.6M68.3 253.4h0.6M74.6 252.8h0.6M63.9 244.7h0.6M63.8 235.2h0.6M77.7 245.3h0.6M79.2 234h0.6M66.5 238.6h0.6M59.6 238.9h0.6M75.5 255.1h0.6M68.2 240.7h0.6M68.8 258.6h0.6M57.4 247.3h0.6M80.9 239.9h0.6M62.5 234.6h0.6M68.2 254.9h0.6M65.4 230.9h0.6M61.7 254.7h0.6M73.5 234.1h0.6M67.3 248.1h0.6M67.5 243.4h0.6M66.1 248.2h0.6M77.7 250.1h0.6M78.9 246.7h0.6M70.3 258h0.6M77.8 240.7h0.6M65 246h0.6M71.3 238h0.6M54.1 248.4h0.6M71.5 232.4h0.6M72.3 243.1h0.6M77.8 244.9h0.6M66.6 241.9h0.6M59.7 252.6h0.6M56.8 251.9h0.6M68 258.8h0.6M74.7 243.7h0.6M73.4 239.2h0.6M69.7 236.6h0.6M68.2 262.1h0.6M79.8 248.6h0.6M59.1 242.7h0.6M71.7 256.1h0.6M64 236.5h0.6M75.4 248.8h0.6M64.5 249.9h0.6M66.6 238.3h0.6M61.1 250.1h0.6M63.4 240.7h0.6M64.3 257.5h0.6M59.6 249.6h0.6M79.4 238.8h0.6M74.6 241.2h0.6M69.3 244.8h0.6M63.4 251.9h0.6M67.6 233h0.6M59.1 242.1h0.6M69.4 246.8h0.6M76.6 243.8h0.6M68 253.3h0.6M60.2 244.7h0.6M76 243.5h0.6M64.7 237.4h0.6M76.2 243.1h0.6M76.4 242.4h0.6M56.5 250.3h0.6M58.6 249.2h0.6M62.1 239.8h0.6M70.7 241.3h0.6M68.5 252.8h0.6M62.1 242.4h0.6M80 249h0.6M70.7 249.8h0.6M78.7 250.6h0.6M67.8 260.8h0.6M71.9 256.3h0.6M71.5 241.6h0.6M62.1 257.6h0.6M77 252.1h0.6M76.8 255.4h0.6M80.1 238.6h0.6M60.5 254.9h0.6M72.5 237.2h0.6M67 252.6h0.6M64.4 263.2h0.6M71.6 239.4h0.6M70.2 259.1h0.6M75 242.7h0.6M57.7 236.7h0.6M82.8 255.7h0.6M62.3 234.6h0.6M62.6 242h0.6M62.5 252h0.6M61.7 232.5h0.6M81.5 255h0.6M58.6 239.3h0.6M79.9 244.5h0.6M84.6 247.6h0.6M66 234.3h0.6M57.6 245.9h0.6M79.1 237.4h0.6M69.9 257.5h0.6M83.2 248.3h0.6M84.4 247.3h0.6M58.3 251.3h0.6M69.9 247.6h0.6M59.5 242.2h0.6M62.2 251.1h0.6M66.5 251.6h0.6M71.1 237.8h0.6M81.4 254h0.6M74.1 246.1h0.6M69.6 254.8h0.6M70.9 253.3h0.6M66.8 250.3h0.6M67.3 250.5h0.6M80.1 250.6h0.6M67.5 251.2h0.6M64.9 230h0.6M78.4 246.6h0.6M70.6 257.2h0.6M65.4 257.5h0.6M68.5 241.5h0.6M63.8 258.8h0.6M59.3 250.3h0.6M68 255.8h0.6M62.3 256h0.6M78.4 240.9h0.6M78.8 243.2h0.6M68.1 240.4h0.6M62.1 252.7h0.6M72.1 257.9h0.6M66 252.6h0.6M70.4 258.8h0.6M65.1 253.9h0.6M80.9 247.2h0.6M62.2 238.4h0.6M62.5 245.9h0.6M69.3 236.7h0.6M76.1 249.8h0.6M65.5 252.3h0.6M62.1 247.6h0.6M70.2 248.2h0.6M64.9 238.1h0.6M78.4 245.1h0.6M66.9 251.9h0.6M67.8 250.2h0.6M81.2 246.2h0.6M78.1 252.5h0.6M70.6 232.2h0.6M68 232.3h0.6M70.2 239.6h0.6M59.2 248h0.6M77.9 242.7h0.6M78.5 237.1h0.6M71 252.3h0.6M65.2 251.6h0.6M56.7 253.4h0.6M63.7 249.1h0.6M58.9 243.8h0.6M58.9 242.7h0.6M73.8 246h0.6M65.5 239.3h0.6M66.9 252.7h0.6M61 244.9h0.6M73.3 250.5h0.6M79.9 238.6h0.6M76.8 250.3h0.6M64.4 258.4h0.6M80.9 251.2h0.6M65.4 247.5h0.6M78.1 236.8h0.6M77 247h0.6M66.7 233.7h0.6M80 253.7h0.6M57.1 254.3h0.6M81.5 251h0.6M59.6 244.1h0.6M65 239.1h0.6M72.9 236.3h0.6M76.8 253.5h0.6M61.4 252.8h0.6M66.5 254.9h0.6M58.6 252.1h0.6M61.1 249.5h0.6M73 256.2h0.6M67.3 235.6h0.6M82.6 243.1h0.6M66.3 253.5h0.6M62.1 249.9h0.6M74 241.1h0.6M68.2 233.3h0.6M63.1 236.2h0.6M67.9 236.9h0.6M79.9 257.8h0.6M66.4 239.6h0.6M69.6 258.9h0.6M64.6 235.5h0.6M60.8 248.6h0.6M74.8 243.5h0.6M69.6 238.6h0.6M81 250.9h0.6M73.6 247.9h0.6M77.8 243.9h0.6M72.5 252.1h0.6M59.7 242.2h0.6M75 250.2h0.6M67 254.1h0.6M65.8 241.8h0.6M78.8 249.9h0.6M65.1 251.8h0.6M71 255.8h0.6M65.3 246.7h0.6M64.2 243.2h0.6M72.5 253.8h0.6M73.5 251.6h0.6M76 251.8h0.6M74.9 251h0.6M68.2 233.7h0.6M57.4 245.9h0.6M55.3 245.7h0.6M79.3 252.5h0.6M82.7 248.7h0.6M70 232.1h0.6M76.6 237.9h0.6M62.6 240.6h0.6M67.3 255.6h0.6M63.1 254.6h0.6M75.6 249.1h0.6M72.1 253.9h0.6M82.3 243.5h0.6M77.9 237.2h0.6M61.8 247.4h0.6M64.2 241.5h0.6M77 244.8h0.6M72.6 243.7h0.6M58.9 237.1h0.6M59.6 239.5h0.6M68.1 240.2h0.6M66.3 254.6h0.6M61.7 248h0.6M80.1 236.8h0.6M64.5 242.8h0.6M72.7 239.5h0.6M72.4 261.2h0.6M77.8 232.9h0.6M61.6 259.7h0.6M77.5 253.3h0.6M74.5 239.6h0.6M66.5 239.4h0.6M78.9 254h0.6M66.2 252.7h0.6M71.3 236.7h0.6M62.6 253h0.6M59 236.9h0.6M61.4 245.9h0.6M57.7 238.8h0.6M66.4 253.6h0.6M62.2 250.7h0.6M68.5 252.1h0.6M75.5 237.3h0.6M72.7 254.7h0.6M78.5 242h0.6M65.4 254.1h0.6M66.7 256.1h0.6M63.7 231.1h0.6M60.1 238.6h0.6M70.1 259.5h0.6M78.8 245.3h0.6M72.9 236.9h0.6M81.3 239h0.6M80.2 230h0.6M66.2 238.5h0.6M80.2 242.7h0.6M77.4 245.7h0.6M79.4 240.2h0.6M78.7 241.4h0.6M65.8 238.5h0.6M64.3 245.4h0.6M70.5 241.8h0.6M54.5 244h0.6M67.3 235.9h0.6M77 252.2h0.6M61 255.1h0.6M73.3 254.9h0.6M63 229.6h0.6M73.9 236.7h0.6M75.3 258.1h0.6M75.3 237.2h0.6M68.3 241h0.6M59.2 239h0.6M74.2 236.2h0.6M75.5 251.5h0.6M81.1 237.4h0.6M74.4 257.2h0.6M60.8 236h0.6M63.2 245.2h0.6M75.2 251.7h0.6M73 244.5h0.6M68.1 258.2h0.6M71.2 259.7h0.6M61.6 249.2h0.6M87.2 247.1h0.6M63.8 249.5h0.6M76.7 238.2h0.6M71.4 247.3h0.6M67.3 248.5h0.6M73.2 256.6h0.6M58.5 246.1h0.6M52.5 250.9h0.6M79.3 242.2h0.6M59.1 256.9h0.6M63.2 241.4h0.6M77 236.6h0.6M57.1 236.7h0.6M60.6 252.1h0.6M72.8 231.5h0.6M56.6 239.6h0.6M58.1 243.8h0.6M67.7 239.6h0.6M75.7 241.7h0.6M68.7 250.3h0.6M59.7 255.9h0.6M81.5 236.9h0.6M64.1 235.9h0.6M58.6 240.8h0.6M67.8 243h0.6M76 258.1h0.6M67.7 240.8h0.6M71.7 238.3h0.6M52.3 250h0.6M62.2 255.7h0.6M76.5 245.8h0.6M65.5 239.7h0.6M62.8 236.8h0.6M61.8 258.1h0.6M76.2 237.8h0.6M77.2 239.4h0.6M79.5 251.6h0.6M76.2 256.4h0.6M69 241.3h0.6M65.3 246.8h0.6M82 252.7h0.6M62 248.8h0.6M71.6 246.1h0.6M71.6 238.1h0.6M61 240.9h0.6M76.1 240.6h0.6M67.5 231.8h0.6M64.3 242h0.6M60.3 250.6h0.6M73.9 246.8h0.6M73 229.2h0.6M73.9 249.2h0.6M66.6 242.5h0.6M57 242.6h0.6M62.3 254.4h0.6M67.7 251.4h0.6M71.1 234.2h0.6M79.4 253.2h0.6M76.9 249h0.6M78.8 252.9h0.6M65.1 233.3h0.6M57.5 250.6h0.6M63.3 252.1h0.6M62.3 253.1h0.6M75.9 241.2h0.6M76.4 250.2h0.6M75.5 238.7h0.6M61.6 242.1h0.6M67.4 236.7h0.6M78.2 248.1h0.6M67 237h0.6M58.1 241.4h0.6M63.1 246.2h0.6M70.8 252.7h0.6M65.1 239.1h0.6M63.5 241.6h0.6M61.8 255.2h0.6M61.9 237.9h0.6M69.5 255.8h0.6M75.9 240.2h0.6M66.8 234.4h0.6M59.4 237.3h0.6M75.8 257.2h0.6M66.1 254.7h0.6M71 236h0.6M69.8 242h0.6M71.8 254.7h0.6M64.2 262.8h0.6M61.6 244.8h0.6M78.1 255.7h0.6M69.1 233.8h0.6M62.7 248h0.6M72 244h0.6M74.5 241.3h0.6M54.7 247.9h0.6M56.7 240.1h0.6M61.2 255.4h0.6M68.5 237.5h0.6M66.4 258.1h0.6M73.6 249.9h0.6M79.4 238.2h0.6M62.9 255.8h0.6M56.8 243.5h0.6M88.9 251.5h0.6M85.2 234.6h0.6M67.1 252.8h0.6M58.4 243.6h0.6M66.6 236.4h0.6M80 244h0.6M70.7 264.2h0.6M68 252h0.6M66.1 236.7h0.6M61.2 258.5h0.6M74.5 251.8h0.6M55.3 238.2h0.6M66.9 235.8h0.6M62.9 238.4h0.6M78.3 254h0.6M70.1 236.8h0.6M58.9 255.1h0.6M79.6 258.3h0.6M67.8 245.1h0.6M72.3 259.3h0.6M68.6 249.3h0.6M67.8 249.4h0.6M65.3 233.6h0.6M69.9 257.3h0.6M80.4 245.8h0.6M68.1 239.1h0.6M62.2 241.7h0.6M77 250h0.6M73.2 247h0.6M57.3 247.6h0.6M69.8 236.9h0.6M79.2 252.3h0.6M67.7 245.4h0.6M69.9 246.4h0.6M61.4 248h0.6M59.9 246.2h0.6M57.5 248.4h0.6M76.7 248.8h0.6M62.3 243.5h0.6M63.5 249.5h0.6M78.9 237.3h0.6M68.2 256.3h0.6M74.4 230.9h0.6M73.8 254.4h0.6M78.6 252.1h0.6M59.9 243h0.6M62.5 252.1h0.6M74.3 236.2h0.6M73.9 249.2h0.6M72.7 253.4h0.6M80.3 245.2h0.6M74.7 250.7h0.6M66.6 246.2h0.6M61.2 244.3h0.6M74.1 243h0.6M80.2 244.2h0.6M74.5 246.3h0.6M64.2 241.3h0.6M77 239.6h0.6M77.3 245.3h0.6M79.8 251h0.6M74.8 254.6h0.6M76.7 250.9h0.6M58.9 239.4h0.6M79.5 242.9h0.6M61.1 245.9h0.6M80.7 239.8h0.6M72.5 236.9h0.6M57.6 246.8h0.6M60.4 250.3h0.6M58.9 240.9h0.6M66.1 238.7h0.6M65.2 235.2h0.6M59.5 241.3h0.6M63.9 253.9h0.6M60 241.4h0.6M60.7 242.8h0.6M75.5 236.1h0.6M79.1 234.4h0.6M63.5 241.3h0.6M75.2 252.7h0.6M72 249.9h0.6M74.6 239.2h0.6M59.4 243.6h0.6M64.6 235.6h0.6M64.3 249h0.6M67.8 253.4h0.6M59.2 243.9h0.6M49.1 243.1h0.6M76.9 252.9h0.6M63.8 237h0.6M61.5 245.8h0.6M74.4 239.3h0.6M70.1 245.1h0.6M63.2 250.7h0.6M68.3 238.8h0.6M68.3 237.4h0.6M61.5 242.2h0.6M85.8 242.2h0.6M76.2 257.2h0.6M59.8 243.3h0.6M66.1 244.5h0.6M84.9 247.3h0.6M64.5 252.5h0.6M66.1 239.8h0.6M70.4 236.7h0.6M77.3 250.4h0.6M83.6 248.6h0.6M78.9 248.7h0.6M74.7 256.1h0.6M61.9 236.3h0.6M56.3 237.7h0.6M60.9 255.3h0.6M76.6 240.4h0.6M77.5 246.9h0.6M64.3 247.9h0.6M74.9 248.8h0.6M68.6 245.5h0.6M67.4 232.5h0.6M72.6 239.7h0.6M61.5 248.6h0.6M77 236.5h0.6M74.6 252.6h0.6M59 250.1h0.6M65.5 252.8h0.6M73.2 238.2h0.6M79 245.4h0.6M53.7 249h0.6M67.5 242h0.6M62.9 242.8h0.6M80.1 245.2h0.6M74.1 235.1h0.6M60.4 244.3h0.6M59.9 242.3h0.6M78.4 244h0.6M57.9 251.6h0.6M65.7 249.4h0.6M59.7 244h0.6M73.3 260h0.6M60.2 235.8h0.6M71.6 253.3h0.6M76.4 237.3h0.6M72.3 251.2h0.6M78.3 238.9h0.6M80 243.2h0.6M63.3 254.2h0.6M57.9 247.3h0.6M59.8 245.6h0.6M81.3 252.4h0.6M68.6 259.1h0.6M59.6 238.1h0.6M68 259.9h0.6M73.2 259.4h0.6M70.5 235.6h0.6M57.1 248.7h0.6M64.3 254.7h0.6M71 242.5h0.6M76.7 234.1h0.6M74.8 253.5h0.6M64.3 254.5h0.6M81.6 257.5h0.6M60.4 250h0.6M77.9 245.9h0.6M72.1 248.1h0.6M80.1 245h0.6M64.1 255.2h0.6M75.2 250.8h0.6M81.8 251.2h0.6M60.8 248.2h0.6M66.3 250.7h0.6M70.8 238.5h0.6M64.1 238.3h0.6M65.5 254.5h0.6M66.7 255.7h0.6M71.9 251.2h0.6M73.5 241.1h0.6M71.1 248.6h0.6M76.8 240.9h0.6M54.9 240.5h0.6M57.2 252.3h0.6M66.7 241.8h0.6M76.8 245.8h0.6M63.8 232.8h0.6M69.1 237.6h0.6M65.4 238.5h0.6M74.1 245.5h0.6M80.1 234.3h0.6M55.5 244.6h0.6M73.8 242.1h0.6M82.2 246.1h0.6M74.4 249.7h0.6M75 254.4h0.6M71.8 259.9h0.6M71 239.5h0.6M70.1 252.7h0.6M74.1 242.4h0.6M59.7 243.5h0.6M78.1 255h0.6M71.8 233.5h0.6M54.1 241.2h0.6M57.9 234h0.6M56.8 245.9h0.6M64.4 246.2h0.6M72.8 240.9h0.6M79.5 251.2h0.6M60.9 239.1h0.6M73.1 254.3h0.6M76.1 249.4h0.6M78.8 240.3h0.6M71.3 241.9h0.6M65.6 237.6h0.6M61.8 237.4h0.6M54.9 248.9h0.6M56.1 252.3h0.6M70.4 253.3h0.6M72.7 242h0.6M77 251.6h0.6M64.2 236h0.6M73 248.2h0.6M68 250.3h0.6M72.6 239.6h0.6M77 241.2h0.6M61.1 238.7h0.6M77.8 243.3h0.6M78.5 244.9h0.6M61.9 256.9h0.6M61.3 242h0.6M66.7 237.8h0.6M70.3 250.2h0.6M79.8 244.7h0.6M58.7 254.5h0.6M57 245.1h0.6M62.5 248.2h0.6M57.6 253.7h0.6M61.4 250.5h0.6M83.3 253.2h0.6M59.1 250.2h0.6M56.9 253.2h0.6M61 253.1h0.6M79.4 246.6h0.6M75.8 243.8h0.6M75.7 249h0.6M79.5 237.1h0.6M71.2 239.9h0.6M71.1 261.4h0.6M66.7 243.1h0.6M59.5 243.8h0.6M76.7 243.8h0.6M81.1 235.7h0.6M68.9 254.2h0.6M73.8 239.2h0.6M62.8 249.2h0.6M59.3 253.4h0.6M74.2 253.5h0.6M59.3 246.1h0.6M70.8 250.1h0.6M61.9 240.9h0.6M63.5 252.8h0.6M64.4 240.1h0.6M56.9 235.7h0.6M86.3 252.1h0.6M78.6 245.5h0.6M74.7 251.8h0.6M78.1 237.7h0.6M73.6 234.2h0.6M62.5 247.3h0.6M71 257.8h0.6M61.2 247.6h0.6M72.6 238.4h0.6M74.9 238.8h0.6M58.9 237.7h0.6M75.3 254.3h0.6M65.8 235.2h0.6M75.5 254.3h0.6M72.6 246.2h0.6M69.8 231.4h0.6M66 255.2h0.6M70.4 254h0.6M65.8 251.7h0.6M74.1 246.6h0.6M75.5 254.5h0.6M73.2 233h0.6M74.6 253.9h0.6M63.8 239h0.6M76 254.7h0.6M70 246.9h0.6M79.4 245.7h0.6M62.9 240.1h0.6M81.3 245.6h0.6M78.5 235.9h0.6M78 246.8h0.6M63.4 247.5h0.6M74.4 234.8h0.6M62.7 253.9h0.6M81.1 245.7h0.6M80.6 240.6h0.6M76.9 239.9h0.6M64.3 240.1h0.6M78.9 250.9h0.6M70.6 235.8h0.6M83.4 249.8h0.6M59 242.7h0.6M66.1 260h0.6M74.5 258.1h0.6M69.5 256.7h0.6M70.7 245h0.6M73.8 242.3h0.6M56.6 248.1h0.6M81.9 243.1h0.6M72.7 252.5h0.6M71.9 249.2h0.6M67.5 264.3h0.6M71 255.2h0.6M72.2 246.7h0.6M67.9 257.7h0.6M76.5 259.4h0.6M68.4 243.7h0.6M78.6 249.6h0.6M65.1 253.3h0.6M73.1 255h0.6M57.7 250.8h0.6M70 239.5h0.6M63.4 248.3h0.6M67.5 240.6h0.6M77 235.2h0.6M58.3 254.9h0.6M63 245.6h0.6M62.8 258.7h0.6M74.4 240.4h0.6M69.4 256.2h0.6M62.2 241.1h0.6M72.3 254.4h0.6M80.2 256h0.6M78.6 250.7h0.6M63.6 250.6h0.6M84.6 248.9h0.6M85.8 247.4h0.6M69 235.6h0.6M83.8 240.3h0.6M82.2 256h0.6M67.9 253.7h0.6M72.7 244h0.6M64.3 249h0.6M67.6 250.8h0.6M63.5 239.8h0.6M66.6 262.5h0.6M63.4 252.4h0.6M60.9 245.6h0.6M60.5 233.1h0.6M78.2 245.1h0.6M60.1 253.7h0.6M78.4 231.3h0.6M68.2 250.8h0.6M67.6 240.2h0.6M63.5 238.8h0.6M62.5 237.4h0.6M79.2 248h0.6M57.9 250.1h0.6M66.5 240.7h0.6M72.8 238.3h0.6M68.5 240.4h0.6M62.2 239.3h0.6M58.4 240.8h0.6M72.5 257.6h0.6M78.1 251.9h0.6M77.5 256.9h0.6M67.2 250.7h0.6M77 240.4h0.6M63.9 235.9h0.6M66.6 242.1h0.6M75.5 227.2h0.6M74 252h0.6M73.6 258.7h0.6M77.8 247.6h0.6M76.6 252.7h0.6M61.9 239.1h0.6M84 251.6h0.6M75.9 253.1h0.6M57.5 251h0.6M68.2 233.3h0.6M60.3 254h0.6M74.7 257.4h0.6M75.8 248.4h0.6M65.3 245h0.6M74.9 239.4h0.6M69.9 253h0.6M66.7 246h0.6M58.6 236h0.6M70.3 249.3h0.6M82.1 255.4h0.6M66.8 241.6h0.6M71.1 252.8h0.6M70.5 258.5h0.6M66.4 234.1h0.6M71.6 232.1h0.6M59.9 240.9h0.6M68.7 255.1h0.6M68.2 246.2h0.6M75.7 236.8h0.6M74.3 238.4h0.6M59.3 246.9h0.6M64 256.7h0.6M58 235.6h0.6M62.7 249.1h0.6M68 236.8h0.6M60.2 246.3h0.6M69.9 242.6h0.6M81.9 242h0.6M69 237.3h0.6M72.4 245.4h0.6M76.5 238.2h0.6M66.9 255.6h0.6M60.6 239.5h0.6M65.9 242.1h0.6M63.8 244.4h0.6M59.9 242.1h0.6M63.1 257.1h0.6M63.3 243.4h0.6M78.2 242.1h0.6M75.9 251.4h0.6M78.2 240.3h0.6M72.4 233.7h0.6M56.8 245.2h0.6M82.3 240.6h0.6M55.5 255.6h0.6M69.8 253.8h0.6M79.8 236.6h0.6M60.4 244.5h0.6M60.2 242.7h0.6M61 246.1h0.6M71.7 234.5h0.6M67.6 250.2h0.6M65.4 241.9h0.6M67.8 253.1h0.6M63.2 245.8h0.6M66 247.5h0.6M66.3 255.8h0.6M60.9 243.2h0.6M73.3 250.8h0.6M74.5 256.2h0.6M56.4 237.4h0.6M71.2 251.5h0.6M82.6 245.5h0.6M72.5 240.2h0.6M55.5 243.3h0.6M81.7 243h0.6M68.6 252.2h0.6M77.2 260.8h0.6M71.5 252.2h0.6M69.3 250.3h0.6M66.5 239h0.6M69 235.1h0.6M74.9 250.7h0.6M73 250.6h0.6M82.1 243.8h0.6M63.2 235.6h0.6M67 254h0.6M84.5 252.7h0.6M66.7 249.5h0.6M73.9 240.3h0.6M66.7 240.4h0.6M60.5 245.4h0.6M70.8 236.2h0.6M66 258.1h0.6M61.2 247.3h0.6M65.9 234.9h0.6M61.6 242.1h0.6M85 246.9h0.6M72.9 249.1h0.6M63.3 239.2h0.6M65.9 234.3h0.6M75.9 257.9h0.6M57.6 247.6h0.6M65.4 235.6h0.6M74.5 230.8h0.6M64.4 255.1h0.6M75.1 254.6h0.6M67.6 253.4h0.6M82.3 248.6h0.6M71.1 235.9h0.6M67 242.4h0.6M71.3 242.5h0.6M70.6 244.9h0.6M58.2 247.1h0.6M58.1 244.1h0.6M57.2 238.5h0.6M73.4 252.2h0.6M69.4 245.6h0.6M78.9 242.5h0.6M68.3 255h0.6M62.5 240.3h0.6M58.3 251.1h0.6M66.2 250.7h0.6M78.2 248.6h0.6M76.9 250.5h0.6M62.9 255.4h0.6M79 234.5h0.6M68.8 240h0.6M60.4 253.3h0.6M66.5 255.8h0.6M61 252.8h0.6M83.3 250.9h0.6M77.5 233.1h0.6M64.7 252.4h0.6M80.2 242h0.6M78.8 247.7h0.6M65 240.4h0.6M81.3 244.3h0.6M69.4 234.7h0.6M55.2 246.9h0.6M65.5 235.7h0.6M77.1 248.8h0.6M65.8 238.1h0.6M78.1 242.3h0.6M62.1 235.3h0.6M69.4 237.4h0.6M79.6 243.9h0.6M58.3 251.5h0.6M86.8 245.3h0.6M73.4 256.8h0.6M64.8 232.9h0.6M71.1 236.8h0.6M69.7 237.5h0.6M66.7 258.9h0.6M70.7 239.1h0.6M63.7 251.2h0.6M64.3 258.8h0.6M78 245.2h0.6M73 236h0.6M65.1 240.8h0.6M61.8 251.2h0.6M61.8 242.7h0.6M75.8 243.1h0.6M76 236.4h0.6M63.5 240.2h0.6M73.1 251.7h0.6M67.4 253.8h0.6M72 237.7h0.6M81.5 236.8h0.6M64.1 240.9h0.6M76.7 240.7h0.6M61.3 235.9h0.6M70 241.4h0.6M63.7 238h0.6M58.9 242.2h0.6M61.9 256h0.6M59.3 246.1h0.6M65.3 237.6h0.6M59.7 242.3h0.6M71.4 253h0.6M73.8 241.3h0.6M58.2 256.1h0.6M64.8 253.8h0.6M63.7 242.9h0.6M79.6 239.1h0.6M69.9 240.5h0.6M66.2 251.6h0.6M70.1 238.8h0.6M54.7 250.8h0.6M59 248.9h0.6M83.4 244.9h0.6M61.8 238.6h0.6M59.4 248.2h0.6M71.2 238.5h0.6M78.7 248.9h0.6M81.5 250.3h0.6M66.4 234.1h0.6M68.3 237.8h0.6M69.9 254.4h0.6M56.7 246.4h0.6M73.8 238.9h0.6M72.9 254.3h0.6M73.9 245.3h0.6M62.4 242.9h0.6M57 248h0.6M75 256.4h0.6M76.9 238.6h0.6M61.3 235.6h0.6M74 248.3h0.6M69.8 236.8h0.6M69.3 238h0.6M75.4 253.2h0.6M61.9 229.4h0.6M64.7 234.5h0.6M72.2 243.5h0.6M76.7 239.2h0.6M70.2 231.7h0.6M78.2 231.9h0.6M81.7 246.2h0.6M79.3 239.6h0.6M74.2 240.4h0.6M62.5 244.3h0.6M76.7 252.4h0.6M73 236.1h0.6M56.7 236.2h0.6M66.8 262.5h0.6M78.1 256.3h0.6M62.6 250.9h0.6M61.9 250.3h0.6M75.6 242h0.6M79.2 241.7h0.6M65.8 239.2h0.6M64.6 247.6h0.6M68.2 252.7h0.6M72.9 238.1h0.6M70.6 232.8h0.6M56.4 242.4h0.6M72.2 254.7h0.6M67.7 240.6h0.6M64.1 247.1h0.6M63.2 259.2h0.6M63.7 254h0.6M57.1 245h0.6M69.2 255.6h0.6M76.6 241.5h0.6M72.7 257.8h0.6M68.4 236.6h0.6M72.6 234.7h0.6M70.2 249h0.6M80.1 243.4h0.6M83 231.9h0.6M59.9 242.3h0.6M76.7 240.3h0.6M72.4 241h0.6M69.2 234.6h0.6M65.1 241.3h0.6M69.2 238.7h0.6M63.8 251.9h0.6M69.9 250.7h0.6M61.8 254.7h0.6M69.9 242.7h0.6M66.6 233.8h0.6M67.1 250.3h0.6M66.4 239.4h0.6M63.4 237.2h0.6M70.6 252.8h0.6M73.7 229.9h0.6M59.4 242.2h0.6M80.8 250.1h0.6M78.3 240.6h0.6M76.4 234.7h0.6M77 244.3h0.6M73.7 235.5h0.6M71.1 234.3h0.6M54.8 251.8h0.6M66.7 233.3h0.6M69.2 240.8h0.6M73.6 241.9h0.6M75.4 233.2h0.6M53.7 247.1h0.6M78.8 235.3h0.6M53.3 241.7h0.6M56.6 240.3h0.6M63 232.9h0.6M55.6 245.8h0.6M77.9 249h0.6M67.3 251.7h0.6M73 235.7h0.6M78.7 246.4h0.6M73.1 239.5h0.6M61.8 250h0.6M77 242.1h0.6M73.1 236.6h0.6M59.5 243.7h0.6M74.9 256.6h0.6M66.7 237.5h0.6M74.6 263.2h0.6M83.1 250.5h0.6M65.4 237.4h0.6M74.5 256.1h0.6M75.1 240.3h0.6M67.6 257.7h0.6M86.6 256h0.6M68.7 235.8h0.6M73.9 239.6h0.6M61 238.3h0.6M80.5 241.2h0.6M55.2 251.4h0.6M69.7 253.3h0.6M61.3 246.6h0.6M80.4 247.5h0.6M65.4 239.1h0.6M52.8 260.7h0.6M68.1 247h0.6M73.7 253.5h0.6M71.8 254h0.6M62.8 249.2h0.6M57.4 240.6h0.6M59.7 247.2h0.6M63.3 246.6h0.6M66.7 235.6h0.6M70.8 242.2h0.6M78.1 245.6h0.6M70 251.7h0.6M66.5 236.2h0.6M54.4 254h0.6M67.2 235.6h0.6M55.9 250.5h0.6M68.7 226.5h0.6M67.1 243.5h0.6M74.2 244.3h0.6M61.7 246.6h0.6M63.3 245.5h0.6M63 238.3h0.6M66.7 250h0.6M62.3 250.2h0.6M79.4 255.2h0.6M63 240.9h0.6M80.5 253.8h0.6M58.1 253.4h0.6M70.6 233.7h0.6M56 262.8h0.6M75.3 262.8h0.6M71.2 248.5h0.6M76 245.2h0.6M83.5 237.1h0.6M80 242.8h0.6M72.9 245.8h0.6M74.2 238.7h0.6M68 257.8h0.6M76.3 255.9h0.6M55.8 245.7h0.6M75.2 226.8h0.6M55.7 249.3h0.6M64.8 246.8h0.6M77.9 250.1h0.6M66.1 254.5h0.6M67.2 260.6h0.6M65.4 241.3h0.6M72.3 243.8h0.6M57.7 250.2h0.6M70.4 245.8h0.6M81.4 241.9h0.6M66.3 251.2h0.6M70.9 252.6h0.6M71.8 259h0.6M71.4 250.9h0.6M67.8 236.8h0.6M57.8 253.5h0.6M65.8 249h0.6M59.8 241.5h0.6M75.6 243.9h0.6M69.6 242.1h0.6M60.5 241.1h0.6M82.4 240h0.6M56.9 245.6h0.6M64.1 244.9h0.6M86.1 231.6h0.6M57.6 246.4h0.6M55.4 240.8h0.6M66.7 252.2h0.6M65.4 239h0.6M55.4 237h0.6M84.2 244.3h0.6M81.8 243h0.6M70.5 250.7h0.6M56 250.5h0.6M61.8 244.1h0.6M91.1 233.1h0.6M74.8 250.5h0.6M73.1 231.2h0.6M60.2 239.3h0.6M75.2 245h0.6M78.6 252.4h0.6M66.3 232.2h0.6M61.7 242.2h0.6M72.8 241.5h0.6M56.1 234.5h0.6M63.1 246.6h0.6M82.6 256.8h0.6M76.6 236.5h0.6M73.3 259h0.6M75.6 255h0.6M59.6 249.1h0.6M77.5 239.7h0.6M84.5 249.2h0.6M87 233.2h0.6M69.9 254.3h0.6M71.2 235.2h0.6M64.5 238.3h0.6M77.2 249.3h0.6M78.8 253.2h0.6M76.8 250.6h0.6M66.5 253.4h0.6M64.7 233.7h0.6M86.9 249.1h0.6M73.8 252.8h0.6M79.1 241.8h0.6M66.7 252.5h0.6M58.2 260.8h0.6M73.6 244.9h0.6M76 250.8h0.6M57.1 236.5h0.6M59.6 232.1h0.6M67.7 243.2h0.6M74.8 247.9h0.6M67.5 238.4h0.6M66.4 244.3h0.6M56.9 259.9h0.6M59.5 248.3h0.6M68.8 253.8h0.6M68.5 246.7h0.6M65.7 260h0.6M65 229.8h0.6M68.3 248h0.6M57.1 245.1h0.6M79.7 250.6h0.6M79.9 237.5h0.6M63.6 248.2h0.6M61.7 253.3h0.6M63.9 260.8h0.6M70.5 235.4h0.6M59.1 255.6h0.6M69.7 235.1h0.6M69.7 230.9h0.6M72.1 249.2h0.6M76.7 253.3h0.6M67.9 233.2h0.6M61.4 251.6h0.6M84.7 242.8h0.6M75.9 269.2h0.6M67.8 256.5h0.6M71 242.3h0.6M54.2 235.6h0.6M60.7 250.9h0.6M66 235.8h0.6M68.5 235.5h0.6M69.2 243.9h0.6M71.7 236.4h0.6M64.7 254.6h0.6M46.5 243.4h0.6M67.1 231h0.6M71.1 258.6h0.6M60.6 240.7h0.6M67 243h0.6M77.6 252.1h0.6M68.7 258.2h0.6M77.1 242.6h0.6M72.9 281.1h0.6M63.1 237.2h0.6M86.5 265.2h0.6M53.1 227h0.6M60.4 271.9h0.6M68.6 262.3h0.6M100.6 263.2h0.6M55.6 240.8h0.6M81.1 226.1h0.6M84.7 235.2h0.6M67.5 240.4h0.6M57.8 241.3h0.6M62.7 250.3h0.6M76 256.3h0.6M93.3 232.2h0.6M70.6 219.9h0.6M84.1 246.7h0.6M56.9 237.4h0.6M88 255.9h0.6M54.3 250.4h0.6M50.9 246.5h0.6M69.1 241.2h0.6M97.6 234.1h0.6M85.4 236.1h0.6M74.1 235.3h0.6M49.6 261.9h0.6M82.3 264.8h0.6M68.9 259.6h0.6M71.4 234.4h0.6M67.6 228.2h0.6M70.3 225.3h0.6M66.1 244.5h0.6M69.7 249.2h0.6M47.9 222.3h0.6M69.1 214h0.6M74.9 230h0.6M85.2 263.2h0.6M76 253.3h0.6M72 260.3h0.6M67.4 247.9h0.6M74.6 270.5h0.6M57.1 230.5h0.6M67.4 238.8h0.6M63.4 251.3h0.6M62.4 226.7h0.6M78.1 243.9h0.6M57.2 241.9h0.6M82.1 241h0.6M60.7 251.2h0.6M50.7 264.6h0.6M72.5 239.8h0.6M88.5 247.6h0.6M89.5 275h0.6M53.6 255.1h0.6M61.3 252.4h0.6M57.1 237h0.6M70.8 244h0.6M100.5 233.5h0.6M49.4 238.5h0.6M59.1 249.3h0.6M95.5 268.2h0.6M102.8 258h0.6M53 237.7h0.6M56.3 234.2h0.6M83.6 257.1h0.6M76.1 260.3h0.6M60.2 243.9h0.6M64.8 239.7h0.6M60 231.4h0.6M55 262.9h0.6M60.6 256.7h0.6M53.2 250.6h0.6M54 224.7h0.6M54.1 242.8h0.6M65.5 266.2h0.6M67.5 254.6h0.6M49.2 236.9h0.6M69.6 259.2h0.6M57.8 234.7h0.6M67.8 256.7h0.6M83.2 251.7h0.6M58.9 256h0.6M71.2 243h0.6M54.8 211.9h0.6M48.5 236.7h0.6M64.5 239.1h0.6M67.5 259.7h0.6M65.1 263.7h0.6M71 220.5h0.6M79.3 254.2h0.6M67.7 245.6h0.6M105.6 229.6h0.6M48.3 258.6h0.6M84.2 239.8h0.6M52.5 242.9h0.6M61.2 255.4h0.6M78.3 242.8h0.6M84.2 276.5h0.6M65.1 258.2h0.6M80.1 217.6h0.6M75.6 245.4h0.6M59.6 225h0.6M64.5 251.2h0.6M61.1 238h0.6M78.8 234.8h0.6M80.6 245.3h0.6M88.6 252.7h0.6M83.4 208.2h0.6M71.4 242.7h0.6M73.2 228h0.6M63.4 271.1h0.6M103.5 224.5h0.6M71.2 232.2h0.6M47.1 271.9h0.6M52.5 226.9h0.6M59.3 268.1h0.6M67.2 248.9h0.6M49.7 262.7h0.6M67.2 247.1h0.6M68.5 224h0.6M97.6 246.8h0.6M65.5 248.7h0.6M56.2 244.1h0.6M74 256.1h0.6M73.9 245.5h0.6M65.1 265.9h0.6M70.8 265.2h0.6M71.5 228.2h0.6M73.8 222.5h0.6M113 204.1h0.6M59.2 253.6h0.6M70.9 240h0.6M72.7 225.3h0.6M93.9 254.5h0.6M100.7 279.4h0.6M76.9 244.8h0.6M63.1 269.1h0.6M69.1 234.8h0.6M78.9 233.4h0.6M87.3 252.5h0.6M69.1 239.6h0.6M61.8 237.7h0.6M65.8 258.9h0.6M81.1 237.4h0.6M89.7 274h0.6M88.7 268.4h0.6M81.1 255.2h0.6M57.3 256.9h0.6M55.9 216.7h0.6M60.1 257.4h0.6M60.2 245.6h0.6M61 252.5h0.6M67.7 263.3h0.6M58.2 263.2h0.6M73.5 254.5h0.6M57.2 268.1h0.6M76.6 265.8h0.6M97.7 255.4h0.6M67.8 241.1h0.6M85.5 238.1h0.6M74.7 246h0.6M82.6 244.7h0.6M74 242.4h0.6M68.4 234.1h0.6M79.3 216.5h0.6M93 267.5h0.6M71.5 246.8h0.6M73.6 256.1h0.6M50.4 262.2h0.6M78.4 224.5h0.6M88.9 245.1h0.6M73.5 237.9h0.6M89.8 227.9h0.6M85.9 235.6h0.6M72.6 268.3h0.6M65.7 237.5h0.6M63.1 234.6h0.6M59 224.2h0.6M67 243.5h0.6M77.2 248.1h0.6M64.5 235.4h0.6M99.8 222.6h0.6M70 238.1h0.6M76.6 254.4h0.6M66.9 260.4h0.6M54.3 223.9h0.6M76.7 242.8h0.6M71.9 247.7h0.6M75.8 252.7h0.6M90 255.7h0.6M55 222.1h0.6M77.4 215.9h0.6M97.6 239h0.6M88.5 256.9h0.6M81.8 251h0.6M87.7 251.8h0.6M62.5 256.9h0.6M55 249.5h0.6M88 276.9h0.6M69.7 240h0.6M73.9 273.2h0.6M60.6 252.8h0.6M76.2 228.8h0.6M49.4 235.2h0.6M61 247.4h0.6M68.2 235.8h0.6M55.1 242.1h0.6M59 272.2h0.6M68.6 235.4h0.6M77.6 285.8h0.6M60 236.3h0.6M64.8 223.4h0.6M87.3 268.3h0.6M46.3 233.5h0.6M57.2 242.5h0.6M95 244.3h0.6M57.5 236.7h0.6M66.5 267.6h0.6M51.9 254.2h0.6M70.7 242.6h0.6M63.5 242.7h0.6M80.3 270.4h0.6M49.8 236.4h0.6M95.8 228.4h0.6M69.3 237.5h0.6M72 254.9h0.6M92.6 250.5h0.6M74.1 251.8h0.6M109.5 259h0.6M55 268.3h0.6M107.2 232h0.6M106.1 241.4h0.6M119.1 247.9h0.6M106.6 258.1h0.6M120.1 243.9h0.6M108.4 253.1h0.6M113 226h0.6M111.3 254.9h0.6M106.5 265.1h0.6M105.5 262.1h0.6M104 268.9h0.6M105.2 255.6h0.6M113.9 240.2h0.6M110 237.6h0.6M118 246.7h0.6M103.9 258h0.6M104.7 247.2h0.6M119.1 256.9h0.6M107.5 247.1h0.6M99 240.8h0.6M103.7 257.8h0.6M111.2 231.2h0.6M102.5 255.7h0.6M123.5 242.6h0.6M105.8 253.1h0.6M109.4 257.5h0.6M109.9 237.6h0.6M104.1 252.7h0.6M115.4 252.8h0.6M107.3 260.9h0.6M111.6 263.9h0.6M105.1 253.7h0.6M99.3 244.2h0.6M114.6 245.4h0.6M106.8 263.1h0.6M108.5 241.5h0.6M114.1 234.5h0.6M110.2 235.6h0.6M105.8 255h0.6M102.1 253.7h0.6M109.9 255.6h0.6M123.5 241.1h0.6M103.8 256.4h0.6M102.1 247.2h0.6M110.5 256.3h0.6M115.1 243.6h0.6M114.2 249.6h0.6M117.8 248.8h0.6M109.1 232.5h0.6M118.5 251.2h0.6M115.8 251.7h0.6M104.4 251h0.6M120.6 240h0.6M116.3 244.3h0.6M101.4 249.1h0.6M104 242.3h0.6M117.2 235.4h0.6M122.3 240.4h0.6M105.7 247.3h0.6M110.4 246h0.6M106.1 233.2h0.6M115.3 256.2h0.6M112.2 241.7h0.6M115.7 230h0.6M102 265.5h0.6M100.8 266.1h0.6M109.9 231.5h0.6M112.9 256.2h0.6M108.1 259.1h0.6M112.8 233h0.6M107.6 269h0.6M106.1 247.5h0.6M111.3 261.6h0.6M106.4 254.2h0.6M108.4 257.5h0.6M112.9 261.6h0.6M114.5 262.3h0.6M107.3 235.3h0.6M100.8 260.2h0.6M101.6 240.8h0.6M117.8 239.5h0.6M103.9 256.5h0.6M100.6 242.2h0.6M102.9 249.1h0.6M102.3 261.7h0.6M113.7 233.5h0.6M100.5 252.7h0.6M115.1 257.9h0.6M119.2 228.4h0.6M95.6 244.1h0.6M104.2 258.6h0.6M112.5 237.8h0.6M118.2 240.1h0.6M103.8 246.6h0.6M101 249.8h0.6M116.1 247.7h0.6M104.8 234.6h0.6M108.4 251h0.6M114.2 247.8h0.6M110 237.3h0.6M110.3 257.2h0.6M119.8 251.7h0.6M114.3 236.2h0.6M101.9 247.1h0.6M105 261.5h0.6M108.9 237h0.6M106.2 262.7h0.6M117.1 242.2h0.6M106.3 245.1h0.6M100.9 245.7h0.6M105.4 244.4h0.6M104.1 234.6h0.6M115.2 255.3h0.6M116.6 246.8h0.6M115.4 239.1h0.6M117.3 251.9h0.6M116.2 258h0.6M113.4 257.2h0.6M122.3 252.3h0.6M108.3 245.9h0.6M112.3 258.6h0.6M113.1 240.6h0.6M107.4 257.5h0.6M108.7 245.5h0.6M101.1 253.2h0.6M110.4 260.2h0.6M119.4 243.7h0.6M115.1 236.5h0.6M103.6 240.5h0.6M120.1 257.4h0.6M118.6 267.5h0.6M115.6 244.2h0.6M102.5 247.3h0.6M114.1 264.2h0.6M110.3 255.2h0.6M112.2 258.6h0.6M106.8 241.9h0.6M115.2 259.4h0.6M107.1 252h0.6M114.9 238.5h0.6M102.2 250.7h0.6M104.8 248.5h0.6M120 243.9h0.6M96.5 246.7h0.6M118.5 245.5h0.6M106.7 264.8h0.6M107 239.1h0.6M109.3 234.4h0.6M104.5 253.9h0.6M103.9 257.9h0.6M114.5 251.1h0.6M115.2 243.2h0.6M118.5 231.6h0.6M101.4 250.3h0.6M107.2 258.9h0.6M113.8 249.8h0.6M100.6 253.5h0.6M101.5 263.1h0.6M111.4 230.2h0.6M110.6 238h0.6M111.5 240.9h0.6M100.9 247.2h0.6M109.9 255.8h0.6M110.5 269h0.6M107.2 234.5h0.6M113 242.1h0.6M117.4 260.7h0.6M107.9 256.5h0.6M108.2 260.9h0.6M113.7 236.5h0.6M114.9 254.4h0.6M113 259.3h0.6M116.7 254.2h0.6M114.1 235.8h0.6M119 257.7h0.6M114.4 256.8h0.6M110.7 243h0.6M111.8 260.7h0.6M115.6 244.6h0.6M114.5 243.7h0.6M119.7 251.7h0.6M103.4 255.6h0.6M113.4 257.7h0.6M103.5 235.1h0.6M117.5 250.4h0.6M108.8 238.4h0.6M114.2 260.8h0.6M114 227.1h0.6M109.4 264.3h0.6M107.1 259.5h0.6M104.4 254h0.6M113.3 253.3h0.6M104.9 260.8h0.6M121 255h0.6M111.1 251.6h0.6M119.8 253.2h0.6M105 249.9h0.6M111.1 255.5h0.6M116.1 244.8h0.6M116.7 245.6h0.6M103.9 263h0.6M118.5 247.7h0.6M102 258.8h0.6M112.7 242.8h0.6M106.1 239.5h0.6M113.7 237.5h0.6M106.9 252.9h0.6M113 240.4h0.6M103.9 257.8h0.6M116.7 246.9h0.6M119.2 249.3h0.6M116.8 257.1h0.6M108.7 238.1h0.6M117.6 255.4h0.6M109.2 234.7h0.6M119.2 257.5h0.6M112.7 235.2h0.6M111.3 233.5h0.6M100.1 251.9h0.6M98.9 260.9h0.6M107.8 237.6h0.6M107.2 254h0.6M105.9 238.5h0.6M115.8 234.2h0.6M114.8 259.5h0.6M105 263.8h0.6M107.6 242.6h0.6M115.2 241.8h0.6M105.3 255.1h0.6M107.3 249.3h0.6M108 255.9h0.6M110.7 256.1h0.6M108.3 265.5h0.6M115.5 241h0.6M110.9 252.5h0.6M119.7 251.9h0.6M118.5 255.4h0.6M113.9 257.1h0.6M107.7 242.8h0.6M117.2 235.8h0.6M112.5 253.4h0.6M109.3 233.4h0.6M117.9 239.4h0.6M99.8 247.4h0.6M102.5 250.6h0.6M109.6 230.6h0.6M102.7 244.6h0.6M113.5 237.4h0.6M122.5 246.4h0.6M106.8 243.1h0.6M113.9 256h0.6M107 247.2h0.6M105.1 254.8h0.6M113.8 235.3h0.6M109.9 234.1h0.6M114.3 253.3h0.6M101.9 256.1h0.6M114.5 251.4h0.6M116.5 247h0.6M101.3 247.5h0.6M114.2 257.1h0.6M115.8 243.3h0.6M103.8 257.1h0.6M104.1 251.7h0.6M114.1 238.1h0.6M113.8 229.7h0.6M105.9 241.6h0.6M109 239.7h0.6M116.7 240.2h0.6M112 265.4h0.6M108.6 240.1h0.6M117.8 247.1h0.6M116.3 252.8h0.6M111.9 265.8h0.6M115.7 231.2h0.6M114.3 232h0.6M122.6 240.9h0.6M105 240.4h0.6M105.1 227.7h0.6M115.9 252.5h0.6M107.1 240.1h0.6M113 233h0.6M116.3 244.6h0.6M113.9 260.8h0.6M106.6 238.2h0.6M106.4 260.6h0.6M110.6 229.9h0.6M110.3 234.2h0.6M120.6 244.5h0.6M108.1 244.2h0.6M122.7 261.2h0.6M123.5 249.9h0.6M114.3 248.8h0.6M104.5 266.2h0.6M110.1 240.7h0.6M115.3 247h0.6M115.7 240.1h0.6M115 237.1h0.6M115.1 259.3h0.6M118.2 252.7h0.6M105.5 254.2h0.6M105.4 234.4h0.6M111.6 254.2h0.6M119.3 244.6h0.6M108.4 232.4h0.6M124.9 238.7h0.6M113.9 259h0.6M102.9 251.4h0.6M102.5 250.7h0.6M106.3 242h0.6M114.9 261.9h0.6M104.6 257.8h0.6M124.3 235h0.6M118.5 242.4h0.6M106.7 253.8h0.6M109.2 254.7h0.6M105.1 233.3h0.6M106.9 260.8h0.6M107.7 252.7h0.6M104 253.1h0.6M113.5 254.5h0.6M116.7 252.4h0.6M114.2 251.2h0.6M105.7 257.2h0.6M107.3 248.9h0.6M123.3 252.6h0.6M111.6 234.3h0.6M116.5 256.5h0.6M109.8 261.8h0.6M109.6 263.6h0.6M106.6 257.1h0.6M108.2 254.8h0.6M109.3 242.7h0.6M108.1 259.3h0.6M104.3 249.4h0.6M114.5 270h0.6M109.3 226.9h0.6M103 265.7h0.6M107.1 261.9h0.6M101.8 262.4h0.6M113.4 259.8h0.6M113 235.7h0.6M104.5 264.3h0.6M108.6 257.3h0.6M101.4 249.6h0.6M103.8 257.6h0.6M109.1 235.7h0.6M119.8 252.3h0.6M104 250h0.6M111 244.2h0.6M101.7 256.7h0.6M111.1 263.1h0.6M112.9 257h0.6M115.2 237.1h0.6M116.2 248.3h0.6M118.1 251.3h0.6M101.2 244.1h0.6M108.6 237.5h0.6M117.2 262h0.6M114.6 238.6h0.6M108.3 260.9h0.6M111 248.4h0.6M118.6 255.5h0.6M101.6 252.5h0.6M107.6 245.8h0.6M108.4 261h0.6M107.6 256.8h0.6M102.5 253h0.6M114.5 231.1h0.6M116.2 249.6h0.6M116.2 233h0.6M114.9 252.4h0.6M118.9 255.2h0.6M107.1 241.6h0.6M120.9 248.4h0.6M106.9 255.9h0.6M114 253.7h0.6M105.8 238.4h0.6M101 263.1h0.6M103.2 237.8h0.6M113.1 225.7h0.6M123.5 242h0.6M100.8 260.1h0.6M112.2 265.1h0.6M108.2 242.9h0.6M121.8 254h0.6M105 247.7h0.6M117 255.4h0.6M115.4 250.2h0.6M111.8 259.6h0.6M101.5 241.1h0.6M103.4 248.3h0.6M107.3 254.9h0.6M112.5 244.4h0.6M118.1 235.1h0.6M116.2 255.9h0.6M103.6 256.7h0.6M118 245.5h0.6M118.5 254.8h0.6M115.3 240.8h0.6M114.2 261.2h0.6M111.4 261.5h0.6M110 236.8h0.6M100 244.2h0.6M118.4 238.4h0.6M108.4 254.8h0.6M101.3 239.1h0.6M100.9 261h0.6M118.1 240.1h0.6M103.1 237.2h0.6M113.6 236.1h0.6M102.6 248h0.6M113.6 247.3h0.6M122.4 249.7h0.6M109.1 258.2h0.6M108.3 260.8h0.6M111.1 262.2h0.6M108.2 261.2h0.6M116 258h0.6M119.1 237.5h0.6M100.4 252.4h0.6M104.3 255h0.6M110.9 250.5h0.6M119.2 249.6h0.6M116.9 232.9h0.6M109.4 236.7h0.6M104.8 247h0.6M105.8 268.5h0.6M105.7 244.6h0.6M106 257.4h0.6M109.6 258.6h0.6M121.5 241.9h0.6M112 255.1h0.6M104.4 253h0.6M119.1 243.2h0.6M103.7 237.9h0.6M98.7 239h0.6M120.7 235.4h0.6M105.8 260.5h0.6M121.2 249.9h0.6M103.4 246.7h0.6M116.3 257.9h0.6M103.7 252h0.6M117.6 239.7h0.6M116.6 241.3h0.6M98.1 251.9h0.6M102.2 253.2h0.6M116.7 230.7h0.6M117.2 249.8h0.6M122 245.4h0.6M111.5 258.7h0.6M118 257.1h0.6M112.9 257.7h0.6M117.2 253.5h0.6M105.9 243.9h0.6M111.3 237.7h0.6M101.8 249.3h0.6M112.1 247.9h0.6M99.3 244.4h0.6M119.9 254h0.6M117.3 241h0.6M126.4 242.4h0.6M108.2 239h0.6M106.9 237.8h0.6M124.6 237.3h0.6M124.7 249.4h0.6M110 258.5h0.6M116.6 259.3h0.6M114.3 258h0.6M122.9 248.7h0.6M116.7 246.1h0.6M112 265.7h0.6M102.2 252.7h0.6M113.4 239.3h0.6M104.8 242.1h0.6M114.9 240.3h0.6M105 249h0.6M109.9 258.9h0.6M117.6 232.3h0.6M117.1 235.9h0.6M117.8 256.3h0.6M105.4 239.5h0.6M102.6 241.1h0.6M113 263.8h0.6M113.8 231.9h0.6M120.2 238.1h0.6M103.6 262.3h0.6M118 238.8h0.6M110.6 229.1h0.6M101.3 257.9h0.6M114.8 248.5h0.6M124.5 239.7h0.6M120.8 242.8h0.6M118.5 257.6h0.6M104.6 244.6h0.6M110.4 260.3h0.6M112.1 259.8h0.6M109.1 237.3h0.6M103.7 245.8h0.6M116.2 248.9h0.6M114.7 257.8h0.6M119 242.8h0.6M110.6 254.8h0.6M117.4 235.8h0.6M103.4 245.1h0.6M113.1 234.1h0.6M116.4 248.1h0.6M105.4 264.6h0.6M117.3 230.8h0.6M119.5 254.1h0.6M110.7 268.7h0.6M106.2 253.7h0.6M118.2 240.9h0.6M118.4 253.8h0.6M107.1 239.1h0.6M114.3 259.5h0.6M113.3 246.9h0.6M118 240.5h0.6M109.1 268.5h0.6M106.2 256.2h0.6M104.2 241.8h0.6M107.3 239.7h0.6M101.9 259.2h0.6M110.7 268.9h0.6M120.1 249.8h0.6M115 260.3h0.6M106.7 245.1h0.6M106 258h0.6M112 257.2h0.6M111.4 231.8h0.6M121.2 252.2h0.6M110.1 263.8h0.6M105.6 251.1h0.6M119.8 252.1h0.6M112.7 233.1h0.6M108.2 252.6h0.6M118.2 254.9h0.6M114.2 236.4h0.6M113.5 256h0.6M109 269.7h0.6M107.6 240.1h0.6M103.8 255.3h0.6M109.2 248.1h0.6M105.1 252h0.6M115.2 234.5h0.6M105.9 244.3h0.6M106.9 235.1h0.6M122.1 255h0.6M109.6 232.2h0.6M109.5 260.5h0.6M112.5 251h0.6M103.4 260h0.6M106 244.7h0.6M107.7 245h0.6M103.4 261.8h0.6M106.3 235.8h0.6M120.1 251.7h0.6M99.4 250.4h0.6M118.4 261.1h0.6M107.1 260.1h0.6M111.8 242.8h0.6M98.6 251.5h0.6M104.9 256.8h0.6M104.8 252.4h0.6M108 253.3h0.6M111.5 251.3h0.6M119.6 245.2h0.6M100.8 252.5h0.6M104.4 251.4h0.6M115.4 248.4h0.6M110.2 256.7h0.6M118 226.7h0.6M114.6 242h0.6M122.7 240.4h0.6M113.2 235.3h0.6M116.1 253h0.6M107.3 246.3h0.6M105.5 242.9h0.6M113.7 257.1h0.6M104 245.9h0.6M115.5 256.9h0.6M107.9 267.4h0.6M120.3 261h0.6M114 265.8h0.6M107.4 266.8h0.6M115.1 243.5h0.6M103.5 246.6h0.6M107.8 258h0.6M102.8 256.8h0.6M102.5 256.5h0.6M115.6 250.5h0.6M116.9 254.5h0.6M119.4 242.7h0.6M104.4 239.3h0.6M113 258h0.6M107.5 245.7h0.6M106.3 261.1h0.6M119.7 245.1h0.6M104.1 252.3h0.6M120 242.3h0.6M115.1 251.1h0.6M103.9 247.1h0.6M111.4 250.5h0.6M103.8 242.5h0.6M120.9 237.4h0.6M115.9 248.1h0.6M116 227.1h0.6M121.6 240.9h0.6M118.2 254.4h0.6M111.9 240.6h0.6M101.3 261.5h0.6M103.3 254.7h0.6M118 235.7h0.6M121.6 251.4h0.6M116.8 238h0.6M105.4 255.7h0.6M113.2 258.8h0.6M111.5 255.5h0.6M104.3 250.8h0.6M100.6 251h0.6M105.8 254.8h0.6M114.5 255.1h0.6M112.4 260.7h0.6M116 258.2h0.6M108.6 239h0.6M105.2 263.7h0.6M101.2 247.5h0.6M107.1 236.3h0.6M116.9 237.6h0.6M103.2 252.8h0.6M117.1 238.4h0.6M115.7 251.5h0.6M108.2 239h0.6M103.8 258.6h0.6M117.8 239h0.6M98.4 262.6h0.6M117.8 232.3h0.6M110.6 236.2h0.6M113 237.7h0.6M118.6 243.1h0.6M114.4 241.5h0.6M109.7 236.7h0.6M119.1 257.3h0.6M118.7 250.9h0.6M117.6 227.7h0.6M113.2 259.5h0.6M114.8 260.2h0.6M106.9 264h0.6M113.4 233.4h0.6M121.5 241.5h0.6M122.4 249.5h0.6M109.7 241.2h0.6M117 239.9h0.6M113.8 238.1h0.6M105.2 235.7h0.6M102.9 255.3h0.6M103 262.1h0.6M106.4 263.6h0.6M116.4 238.3h0.6M117.9 252.5h0.6M106.7 244.7h0.6M119 249h0.6M101.4 242.3h0.6M123.2 251.9h0.6M105.3 255.5h0.6M111.7 241h0.6M114.7 252.3h0.6M113.8 257.5h0.6M109.6 264.4h0.6M115.8 247h0.6M116 245.1h0.6M119.4 243.7h0.6M117.6 242.1h0.6M110.1 266.2h0.6M108.2 243.7h0.6M116 235.1h0.6M107 240.8h0.6M105 248.2h0.6M107.9 253.3h0.6M102.4 270.6h0.6M120.2 248.4h0.6M114.3 236.3h0.6M105.3 260.2h0.6M119.8 243.5h0.6M100.8 262h0.6M119.2 245.4h0.6M119.5 259.5h0.6M100.9 254.3h0.6M104.5 251.5h0.6M103.6 239.1h0.6M106 257.6h0.6M101.9 239h0.6M113.9 256h0.6M107.7 242.4h0.6M100.5 241h0.6M119.4 244.9h0.6M118.7 243.2h0.6M118.3 237.9h0.6M116 257.9h0.6M123.3 242.3h0.6M115.6 233.9h0.6M115.5 255.2h0.6M115.5 239.8h0.6M106.8 238.7h0.6M108.2 271.1h0.6M112.9 262.1h0.6M117 247.9h0.6M114.2 252.2h0.6M103.9 254.1h0.6M103.7 250.8h0.6M120.5 240.6h0.6M114.7 233.5h0.6M105.3 238.7h0.6M116.3 246.6h0.6M109.5 235.2h0.6M103.8 254.1h0.6M118.6 255h0.6M116.9 250.9h0.6M112 236.4h0.6M113.9 259.5h0.6M121.5 237.6h0.6M115.9 241.9h0.6M114.5 236h0.6M103.7 237.5h0.6M112.2 231.8h0.6M112.7 230.1h0.6M113.2 244.4h0.6M114.2 241.2h0.6M100 254.1h0.6M108.6 256.8h0.6M108.2 243h0.6M116.3 252.6h0.6M114.8 230.4h0.6M108.3 250.5h0.6M110.5 236.4h0.6M109.5 269.6h0.6M105.5 251.2h0.6M110 232.8h0.6M116.5 246.7h0.6M109.8 259.4h0.6M108.7 246.8h0.6M113.7 257.9h0.6M108.6 254.7h0.6M104.7 256.7h0.6M113.9 256.9h0.6M120.8 246.5h0.6M109.9 234.2h0.6M99.4 249.7h0.6M112.6 246.9h0.6M116.5 259.5h0.6M106.6 248.8h0.6M115.2 255.5h0.6M119.9 249.3h0.6M117 245.5h0.6M105.3 243.2h0.6M120.5 252.4h0.6M104.6 265h0.6M119.1 248.2h0.6M125.1 253.4h0.6M105.1 240.8h0.6M104.5 260.8h0.6M112.7 259.8h0.6M123.2 236.8h0.6M122.1 259h0.6M110.9 236.8h0.6M108.1 259.3h0.6M110 247.6h0.6M106.9 252.7h0.6M109.5 266.9h0.6M119.5 261.6h0.6M109.2 260.9h0.6M118.2 246.7h0.6M109.8 226.5h0.6M104.4 260.2h0.6M102 253.1h0.6M112.9 270.5h0.6M120.4 246.1h0.6M108 231h0.6M113.9 242.9h0.6M106.8 230.4h0.6M114.6 252.8h0.6M113.9 238.8h0.6M104.2 251.6h0.6M109.4 243.9h0.6M110.1 255.4h0.6M118 236.6h0.6M117.9 249.5h0.6M122.3 248.8h0.6M111.5 234.9h0.6M106.5 241.2h0.6M107.1 268.6h0.6M115.3 235.3h0.6M109 261h0.6M114.9 254.5h0.6M109 263.9h0.6M102.4 249.2h0.6M121.8 237.3h0.6M106.5 248.3h0.6M113.3 246.8h0.6M116.2 235.4h0.6M112 234.9h0.6M115 250.1h0.6M114.7 237.6h0.6M112.9 255.1h0.6M107.7 258.3h0.6M122 240.3h0.6M112.4 243.3h0.6M110.2 248.4h0.6M115.4 249.9h0.6M110.3 258.7h0.6M119 249.2h0.6M119.6 246.6h0.6M121.4 258.2h0.6M124.8 244.6h0.6M112.5 243.2h0.6M102.9 244.9h0.6M107.2 264.5h0.6M113 250.7h0.6M112.5 251.1h0.6M107.8 252.2h0.6M106.5 246.3h0.6M115.1 243.8h0.6M111.2 246.6h0.6M110.5 244.4h0.6M115.2 243.3h0.6M116.1 250.5h0.6M111.5 256.8h0.6M103 261.9h0.6M121.4 244.3h0.6M115 252.1h0.6M114.1 260.8h0.6M105.9 250.2h0.6M107.6 230.9h0.6M115.2 246.7h0.6M112.9 250.6h0.6M119.4 235.9h0.6M112.9 248h0.6M125.7 245h0.6M117.6 257.9h0.6M104.7 244.8h0.6M113.6 242.3h0.6M105.7 244h0.6M116.1 242.8h0.6M110.3 245.5h0.6M105.3 261.5h0.6M118.4 249.5h0.6M114.9 251.3h0.6M108.4 256.8h0.6M103.5 247.7h0.6M112.2 252.1h0.6M108.6 247.1h0.6M111.8 253.9h0.6M108.3 241.7h0.6M112.6 236.4h0.6M108.1 248.5h0.6M103.8 255.6h0.6M113.2 240.6h0.6M120.6 256h0.6M116.1 261h0.6M109.3 251.4h0.6M112.9 251h0.6M109.1 239.2h0.6M111.3 249.4h0.6M119.4 255.6h0.6M107 249h0.6M111.1 263.1h0.6M117.3 239.7h0.6M106.7 249.9h0.6M109.3 243h0.6M110.7 247.4h0.6M116.6 243.8h0.6M97.5 273.9h0.6M111.4 256.2h0.6M113.3 257.8h0.6M108.1 244.8h0.6M112.8 253.5h0.6M109.5 246.6h0.6M109.4 253.4h0.6M110.4 236.6h0.6M111.4 245.9h0.6M113.9 241.5h0.6M113.3 249.9h0.6M107.6 258.4h0.6M107.3 247.5h0.6M113.8 247.5h0.6M106.8 243.1h0.6M105.1 250.9h0.6M107.8 235.5h0.6M107.7 246.1h0.6M113.6 244.8h0.6M112.6 251.3h0.6M112.2 271h0.6M106.6 248.9h0.6M115.7 233.7h0.6M102.7 248.5h0.6M114.6 255.2h0.6M108.6 261.3h0.6M114.9 244h0.6M107 249.9h0.6M118.5 241.4h0.6M115 254.3h0.6M108.6 253.7h0.6M101 252.8h0.6M107.8 238.1h0.6M116.6 260.1h0.6M101.4 246.3h0.6M102.9 256.3h0.6M109.3 258.1h0.6M110.9 257.5h0.6M111.8 247.5h0.6M104.6 244.9h0.6M109.3 243.1h0.6M110.2 237.9h0.6M111.7 246.7h0.6M112.8 256.2h0.6M124.6 239.7h0.6M108.7 236.9h0.6M104.6 252.6h0.6M110.3 246.7h0.6M108.4 251.3h0.6M94.3 267.8h0.6M115.8 249h0.6M111.1 262.7h0.6M122.4 238.7h0.6M120.9 253.5h0.6M117.1 254.3h0.6M95.1 228.1h0.6M120.6 278.1h0.6M108 236.7h0.6M92.7 260.3h0.6M117.2 246.3h0.6M109 246.3h0.6M116.3 250.7h0.6M106.3 247.5h0.6M108.5 252.2h0.6M116.2 233.9h0.6M123.6 248.8h0.6M114.4 238.1h0.6M119 240.5h0.6M115.2 224.8h0.6M118.7 235.7h0.6M124.2 242.3h0.6M96.1 236.3h0.6M98.3 256h0.6M102.7 272.4h0.6M81.1 276.5h0.6M94.2 250.4h0.6M93.9 248.8h0.6M98.8 228.3h0.6M101.5 250.5h0.6M124.4 260.4h0.6M101.2 257.2h0.6M120 232.1h0.6M124.5 242.8h0.6M109.5 279.4h0.6M110.5 220.8h0.6M111.7 261h0.6M119.4 251.4h0.6M112.4 225.1h0.6M91.8 267.7h0.6M112.8 240.8h0.6M124.8 251.7h0.6M90 237h0.6M120.8 264.4h0.6M111.4 248.6h0.6M114.6 258.1h0.6M100.7 249.6h0.6M111.7 257.7h0.6M102.9 230.5h0.6M118.6 234.4h0.6M101.1 240.5h0.6M126.9 243.7h0.6M118.7 259.4h0.6M133 238.7h0.6M108.2 224.2h0.6M104.7 226.1h0.6M126.1 227h0.6M98.5 248.4h0.6M106.2 240.4h0.6M105.8 246.6h0.6M105.3 240.6h0.6M105.8 242.2h0.6M109.5 233.5h0.6M129.6 255.7h0.6M107 269.3h0.6M121 251.8h0.6M115.7 213.9h0.6M114.8 241.8h0.6M111.7 252.8h0.6M118.1 240.5h0.6M88.6 226h0.6M112.7 266.8h0.6M122.3 256.9h0.6M106.3 283.2h0.6M111.3 247.7h0.6M103.1 232.3h0.6M113.7 244.1h0.6M117.2 251.1h0.6M114.3 271.2h0.6M103 266h0.6M123.4 242.3h0.6M128.8 253h0.6M112.7 247.9h0.6M111.3 246.7h0.6M106.6 244.5h0.6M132.2 246h0.6M106.1 231.6h0.6M102.8 254.1h0.6M111.8 222.7h0.6M125.1 239.5h0.6M111.6 243.1h0.6M104.5 261.4h0.6M105.1 252.5h0.6M116.3 267h0.6M106.9 268.7h0.6M103.6 257.5h0.6M124.3 250.4h0.6M112.8 234.3h0.6M116.8 266.5h0.6M108.8 253.4h0.6M105.3 248.5h0.6M100.6 239.8h0.6M113.3 245.7h0.6M102.2 249.6h0.6M105.4 260.9h0.6M120.9 247.5h0.6M104.3 257.6h0.6M106.6 246.5h0.6M108.2 248.8h0.6M95.8 265.6h0.6M111.9 241.6h0.6M125.4 264.6h0.6M120.9 232.5h0.6M88.4 251.5h0.6M104.1 237.7h0.6M127.7 234.9h0.6M98.4 248.4h0.6M96.6 239.6h0.6M97.5 239h0.6M111 244.2h0.6M96.9 242.8h0.6M106.5 256.1h0.6M105 259.9h0.6M118.9 233.9h0.6M112.7 246.1h0.6M98.4 253.8h0.6M112.4 250h0.6M119 247.9h0.6M99.9 248.3h0.6M93.7 255.4h0.6M100.4 243.4h0.6M108.7 250.9h0.6M116.3 252.5h0.6M112.1 223.7h0.6M106.1 254.6h0.6M118.8 242.2h0.6M126.2 246.1h0.6M99.5 240.9h0.6M112.3 282h0.6M118.8 223.7h0.6M117.4 266.5h0.6M101.5 243.6h0.6M103.8 272.5h0.6M98.4 262.8h0.6M101.4 251h0.6M115.8 228.2h0.6M108 217.5h0.6M105.9 249.9h0.6M120.7 269.7h0.6M104 244.1h0.6M102.1 273.8h0.6M109.4 262.2h0.6M87.7 263.6h0.6M105 254.6h0.6M112.9 267.5h0.6M103.9 236.1h0.6M110.6 256.4h0.6M117.3 253h0.6M107.7 222.1h0.6M104.4 267.8h0.6M92 254.8h0.6M111 244.6h0.6M89.7 244.9h0.6M139.3 229.8h0.6M100.5 266.7h0.6M136.6 259.2h0.6M103.5 245h0.6M92.5 289h0.6M127.4 232.2h0.6M107 246.2h0.6M109.1 248.6h0.6M120.8 247h0.6M111.2 269.5h0.6M101.3 238.5h0.6M112.5 256.7h0.6M125.8 261h0.6M99.5 260.1h0.6M107.4 270.7h0.6M104 235.8h0.6M106.9 239.1h0.6M113.1 251.9h0.6M137 245.8h0.6M108.3 250.1h0.6M105.9 243.9h0.6M113 256.4h0.6M110.8 261.9h0.6M127.2 258.3h0.6M98.2 287.5h0.6M106.7 228.2h0.6M115.1 250h0.6M94.5 231.1h0.6M110.2 268.5h0.6M115.9 230.1h0.6M115.9 233h0.6M107.6 246.9h0.6M95.2 248.9h0.6M101.5 236.6h0.6M106.8 247.9h0.6M122.2 241.7h0.6M118.5 236.8h0.6M77.6 294.5h0.6M66.9 271.2h0.6M65.7 288.4h0.6M76.6 286.3h0.6M53.4 283.8h0.6M80.9 275.3h0.6M67.5 291.8h0.6M69.2 292.8h0.6M72.4 269.3h0.6M66.2 284.5h0.6M65.3 290.4h0.6M74 291.3h0.6M62.7 279.2h0.6M78.4 273h0.6M87.2 278.2h0.6M67.9 289.1h0.6M58.2 293.4h0.6M80.4 266.7h0.6M63.9 291.9h0.6M56.7 286.7h0.6M73.4 285.1h0.6M70.4 294.9h0.6M65.3 278.6h0.6M74.1 280.8h0.6M80.8 286.8h0.6M71.5 282.5h0.6M61.3 289.5h0.6M60.7 279.5h0.6M60.7 276.7h0.6M82.7 281.9h0.6M74.7 285.3h0.6M72.8 280.8h0.6M65.5 281.8h0.6M76.3 284.2h0.6M74.1 289.8h0.6M78.4 288h0.6M74.4 280.2h0.6M72.3 269.5h0.6M65 278.6h0.6M72.1 281h0.6M58.4 290.7h0.6M70.5 291.2h0.6M75.1 297.3h0.6M63.2 281.6h0.6M57.9 278.3h0.6M80.8 280.8h0.6M65.2 269.3h0.6M74.5 282.7h0.6M77.8 282.1h0.6M65 281.1h0.6M71.3 279.2h0.6M62.2 281.3h0.6M74.2 279h0.6M71.8 281.5h0.6M69.4 277.2h0.6M70.5 294.2h0.6M77.3 283.1h0.6M81.4 291.4h0.6M74.4 289.7h0.6M68.5 276.4h0.6M83.2 286.5h0.6M69.4 270.6h0.6M62.6 291h0.6M66.9 280.4h0.6M67.1 271.5h0.6M61 290.5h0.6M54.8 283.2h0.6M70 288.9h0.6M69.6 285.4h0.6M63.5 278.4h0.6M48.6 243.5h0.6M48.6 232.8h0.6M46.7 256.2h0.6M49 253.6h0.6M48.6 242.4h0.6M49.1 247.7h0.6M48.3 241.4h0.6M47.9 236.3h0.6M47.2 241.3h0.6M49.4 235.2h0.6M47.3 250h0.6M47.9 245.2h0.6M49.1 233.8h0.6M47.1 228.4h0.6M47 241.5h0.6M48 248h0.6M49.1 236h0.6M48.2 248.2h0.6M46.8 231.5h0.6M49.3 249.2h0.6M46.8 231.7h0.6M47.1 253.4h0.6M49 257.4h0.6M49.4 253.6h0.6M47.9 241.3h0.6M47.8 232.9h0.6M48.5 234.6h0.6M49.2 259.4h0.6M47.6 251.2h0.6M48 244.6h0.6M49.3 229.2h0.6M49.1 254.3h0.6M49 247.4h0.6M49 262.2h0.6M47.4 260.2h0.6M48 246.8h0.6M48.8 246h0.6M48.8 238.3h0.6M47.6 248.9h0.6M48.4 233.9h0.6M46.7 235.6h0.6M48.2 230.1h0.6M48.8 249.6h0.6M47.1 231.9h0.6M48.4 238.3h0.6M47.3 246.9h0.6M48.2 249.3h0.6M48.3 256h0.6M47.3 229h0.6M47.9 246.3h0.6M46.9 255.9h0.6M48.7 235.2h0.6M48.6 253.3h0.6M47.3 239.9h0.6M48.2 248h0.6M49.4 263.1h0.6M48.1 248.8h0.6M46.5 252.3h0.6M47.5 229.3h0.6M47.9 243.8h0.6M46.7 247.9h0.6M49.4 232.7h0.6M46.9 246.1h0.6M47 244.6h0.6M47.7 251.6h0.6M47.8 239h0.6M48.4 253.8h0.6M46.5 257.2h0.6M49.3 260.5h0.6M46.6 257.5h0.6M47.3 252.7h0.6M48.8 247.9h0.6M47.2 239.3h0.6M49.3 228.6h0.6M48.7 240.7h0.6M47.4 242.5h0.6M48.6 238.6h0.6M48.1 251.5h0.6M47.2 263.5h0.6M48.2 248.6h0.6M46.8 229.4h0.6M49.2 253.2h0.6M49.4 238.2h0.6M48.3 255.9h0.6M49.4 256.5h0.6M46.8 242.1h0.6M47.4 233.7h0.6M46.6 259.6h0.6M49.1 260.2h0.6M49.2 229h0.6M47.5 234.4h0.6M47.2 243.8h0.6M46.7 261.4h0.6M48 258.6h0.6M48.2 259.9h0.6M47 259.5h0.6M48.4 256.8h0.6M49.1 241.5h0.6M46.6 238h0.6M48.4 228.6h0.6M47.8 260.7h0.6M47.8 233.1h0.6M49.1 245h0.6M49 247.5h0.6M47.7 259.4h0.6M49.1 231.1h0.6M49.2 248.2h0.6M47.2 229.2h0.6M48.9 229.3h0.6M47.1 232.4h0.6M48.1 253h0.6M46.9 248.3h0.6M46.7 242.2h0.6M47.1 231.1h0.6M48.6 247.8h0.6M46.7 247.8h0.6M48.3 237.4h0.6M48.3 245.9h0.6M47.5 231.3h0.6M47.3 245h0.6M47.4 242.9h0.6M47.5 251.7h0.6M48.5 260.5h0.6M47 239.3h0.6M46.8 236.1h0.6M47.4 258.7h0.6M47.8 234.6h0.6M46.6 231.8h0.6M48.5 250.9h0.6M48 232.7h0.6M46.5 252.7h0.6M47.8 258.2h0.6M46.8 254.3h0.6M49 253h0.6M47.1 239.2h0.6M47.2 261.7h0.6M48.5 232.4h0.6M49.5 248h0.6M49.2 238.6h0.6M48.7 245.7h0.6M46.9 245.2h0.6M47.6 236.4h0.6M47.2 256.8h0.6M46.6 235.1h0.6M47 230.1h0.6M47.5 259.2h0.6M48 253.1h0.6M47.1 262.8h0.6M47.1 241h0.6M48.7 232.2h0.6M48 246.7h0.6M47.2 248.9h0.6M49.5 241.4h0.6M46.9 238.8h0.6M47.2 258.8h0.6M47.8 240.4h0.6M48.3 263.3h0.6M49.5 241.4h0.6M48.4 239.6h0.6M47.1 232h0.6M46.5 248.8h0.6M47.9 239.5h0.6M48.2 258h0.6M49.4 240.4h0.6M46.9 252.2h0.6M47.7 229.3h0.6M46.6 252.4h0.6M47.8 228.1h0.6M49.3 244.8h0.6M47.2 253.1h0.6M49 249.9h0.6M48.1 249h0.6M46.6 250.2h0.6M47.6 233.9h0.6M49.1 263.3h0.6M48.6 255h0.6M48.4 254.8h0.6M48.6 254.7h0.6M46.7 234h0.6M49.2 241.9h0.6M47.8 247.5h0.6M48.5 259.7h0.6M47.8 249.1h0.6M49 236.3h0.6M47.2 259.2h0.6M49.4 235.8h0.6M46.8 254.4h0.6M49.5 263.6h0.6M47.7 256.4h0.6M47.1 230.5h0.6M48.1 244.7h0.6M47.9 236.9h0.6M46.9 253.3h0.6M47.7 245.2h0.6M49.3 257h0.6M48.1 229.1h0.6M47.8 229.6h0.6M48.6 237h0.6M47 234.4h0.6M48.8 251.2h0.6M48.5 244.7h0.6M49 236h0.6M46.5 254.3h0.6M47.9 250.8h0.6M47.2 260.5h0.6M48.5 258h0.6M47.6 230h0.6M49.5 258h0.6M47.5 234.2h0.6M47 228.2h0.6M46.8 239.1h0.6M48.8 258.3h0.6M48.8 252.8h0.6M47.8 228.5h0.6M46.9 245.8h0.6M48.7 251.9h0.6M47.7 240.9h0.6M47.6 257.2h0.6M49.5 237.8h0.6M47.1 233.4h0.6M48.3 242h0.6M49.2 248.6h0.6M47.6 259.8h0.6M47.8 239.6h0.6M48.8 247.5h0.6M48.5 247.4h0.6M48.4 229.5h0.6M47.7 239.2h0.6M49.4 263.5h0.6M48 260.7h0.6M47.1 257.5h0.6M47.3 258.8h0.6M47.8 245.5h0.6M48.5 252.6h0.6M49.1 231.4h0.6M47.3 249.7h0.6M46.9 237.2h0.6M46.8 247h0.6M49 263.2h0.6M49 263.4h0.6M48.9 261.1h0.6M48.8 253.2h0.6M49 245.8h0.6M47 235.9h0.6M49.4 258.2h0.6M48.8 248.8h0.6M46.6 243.6h0.6M49.3 236.2h0.6M48.1 256.5h0.6M48.9 244.2h0.6M48.1 248.5h0.6M49.2 229.5h0.6M47.3 255.4h0.6M47.1 228.7h0.6M49.2 241.8h0.6M49.2 235.3h0.6M48.7 229.4h0.6M47.3 247.6h0.6M46.7 240.6h0.6M47.1 253.4h0.6M48.8 247.2h0.6M48.3 251.6h0.6M47.9 255h0.6M48.1 237.5h0.6M47.9 263.6h0.6M48 263.5h0.6M48.8 254.6h0.6M47.7 256.7h0.6M48.8 239.8h0.6M47.6 263.6h0.6M48.3 240.6h0.6M48.6 239.8h0.6M48.3 238.3h0.6M49.4 242.1h0.6M48.9 238.6h0.6M49.5 248.7h0.6M47.4 247.8h0.6M48 257.5h0.6M47.9 248.9h0.6M47.6 240.7h0.6M46.7 249.6h0.6M46.5 239.8h0.6M47 259.2h0.6M48.2 259h0.6M47.5 259.6h0.6M47.7 249.5h0.6M47 236.3h0.6M46.9 235.5h0.6M48 239.3h0.6M48.5 255.2h0.6M49.4 234.2h0.6M46.8 232.1h0.6M47.4 247.6h0.6M47.4 251h0.6M49.2 239.1h0.6M47.8 233.9h0.6M48.9 234.5h0.6M47.7 244.9h0.6M47.2 254.8h0.6M46.8 243.3h0.6M47.8 255.5h0.6M49.2 236.3h0.6M49.2 232.4h0.6M48.5 261.1h0.6M48.3 234h0.6M47.6 233.8h0.6M46.9 239.3h0.6M47.9 249.7h0.6M48.9 234.3h0.6M46.6 263.9h0.6M48.6 258.7h0.6M47.5 234.7h0.6M48.2 231.5h0.6M49.5 255.6h0.6M48.3 255.1h0.6M49.1 231.3h0.6M48.5 233h0.6M47.6 246.4h0.6M46.6 243.1h0.6M48.2 234.6h0.6M48 262.2h0.6M48.3 245.2h0.6M47.8 239.2h0.6M46.9 246.4h0.6M47.1 240.4h0.6M47.7 233.5h0.6M48.7 257.8h0.6M49.4 257h0.6M47.8 262.5h0.6M48 261.8h0.6M48.2 243.4h0.6M47.4 258.8h0.6M49.2 251.2h0.6M47.1 244.1h0.6M48.2 245.6h0.6M46.9 258.1h0.6M47.1 261.5h0.6M49.1 257.6h0.6M47.7 245.2h0.6M47.6 263.9h0.6M48.2 239.5h0.6M49.2 237.6h0.6M48.6 248.8h0.6M47.5 228.2h0.6M48.3 256.1h0.6M48.8 240.4h0.6M47.8 251.6h0.6M49.1 232.4h0.6M47.2 235h0.6M49 253.8h0.6M48.9 231.7h0.6M47.1 232.7h0.6M48.1 257.2h0.6M48.4 247.4h0.6M47.6 246.5h0.6M49.3 261.6h0.6M48 261.4h0.6M47.3 235h0.6M46.9 245.3h0.6M47.9 260h0.6M48.7 239.1h0.6M47.1 231.6h0.6M48.8 230.7h0.6M48.8 234.3h0.6M49.2 234.9h0.6M49.4 231.2h0.6M46.8 233.2h0.6M47.6 263.4h0.6M49.1 260.7h0.6M48.4 230.7h0.6M48.1 248.1h0.6M46.9 235.1h0.6M47.5 229.5h0.6M48.4 246.4h0.6M46.6 254.4h0.6M47.1 236.3h0.6M47.6 256h0.6M46.8 228h0.6M47.5 244.1h0.6M49.1 260.6h0.6M47.4 249.3h0.6M47.3 257.1h0.6M47.9 241.8h0.6M46.6 229.1h0.6M47 253h0.6M47.2 233.7h0.6M47.6 235.4h0.6M47.4 250.9h0.6M49.5 234h0.6M47.4 258.7h0.6M48.1 250.2h0.6M48.5 250h0.6M49 245.6h0.6M48.2 254.3h0.6M49 228.1h0.6M48.8 254.6h0.6M47.8 250.6h0.6M49.1 257.4h0.6M48.3 231.1h0.6M49.2 250.9h0.6M46.9 248.1h0.6M49.3 245.1h0.6M49.5 261.5h0.6M48.1 254.4h0.6M48.5 250.8h0.6M48.7 244.2h0.6M49.1 255.4h0.6M47.8 252.3h0.6M46.7 231h0.6M46.6 233.1h0.6M46.8 242.1h0.6M47.4 245.1h0.6M46.7 263h0.6M46.5 236.5h0.6M48.2 228.3h0.6M48.2 228.9h0.6M46.6 244.7h0.6M47.5 262.3h0.6M47.2 236.3h0.6M46.6 235.2h0.6M49.4 256.4h0.6M49.5 241.8h0.6M47.3 242.5h0.6M47.3 246.2h0.6M49 229.8h0.6M48.5 240.3h0.6M48.7 260.2h0.6M48.5 252.5h0.6M47.9 240.7h0.6M48.5 250.8h0.6M49.4 263.5h0.6M47.9 260.7h0.6M48.6 262.8h0.6M48.9 235.2h0.6M47.6 263.5h0.6M48.9 251.7h0.6M47.3 262.2h0.6M48.7 250.6h0.6M49.1 262.8h0.6M49.4 244.5h0.6M46.6 235h0.6M48.7 261.6h0.6M47.9 243.6h0.6M46.7 239h0.6M47.8 235.7h0.6M47.9 241.9h0.6M47.8 249.4h0.6M47.1 241.3h0.6M47.2 232h0.6M49.4 244.7h0.6M49.4 253.5h0.6M47 237.1h0.6M48.7 236.3h0.6M46.8 237.4h0.6M47.4 258.8h0.6M48.6 255.6h0.6M48.9 254.7h0.6M48.4 263.8h0.6M48.3 263.6h0.6M47.8 232.2h0.6M48.7 230.1h0.6M47.1 261.6h0.6M48.9 257.1h0.6M48.6 248h0.6M48 230.4h0.6M47 253.3h0.6M49 238.1h0.6M47.2 261.4h0.6M48.6 248.4h0.6M47.2 245.2h0.6M46.9 241h0.6M47.2 257.4h0.6M48.7 233.1h0.6M48.5 242.7h0.6M47.2 254.6h0.6M47.9 253.2h0.6M48.4 260.8h0.6M47.6 239h0.6M48.1 243.9h0.6M47.4 229h0.6M48.9 261.2h0.6M47.4 248.5h0.6M49.2 260.6h0.6M47.3 234.3h0.6M47.8 230.2h0.6M48.1 249h0.6M48.9 240.7h0.6M48.9 253.6h0.6M48.8 235.2h0.6M49.3 251.4h0.6M48.3 245.9h0.6M47.4 262.9h0.6M49.1 250.8h0.6M48 233h0.6M47.8 261.1h0.6M49.2 228.4h0.6M49 228.3h0.6M46.7 241.5h0.6M48.9 241.7h0.6M47.8 239.5h0.6M48.1 265.3h0.6M47.3 265.9h0.6M47.4 276.6h0.6M49 282.9h0.6M49.6 289.4h0.6M49.2 285.4h0.6M48.3 288.5h0.6M47.8 299h0.6M47.1 266.7h0.6M48.7 294h0.6M48 270.2h0.6M46.6 269.6h0.6M47.1 265.4h0.6M47.8 298.6h0.6M47.5 271.7h0.6M47.9 279.3h0.6M46.7 286.3h0.6M47.8 293.7h0.6M47.3 282.5h0.6M48.9 274.1h0.6M49.1 268.1h0.6M48 283.4h0.6M48.3 278.2h0.6M47.5 279.1h0.6M49.1 286.8h0.6M48.4 271h0.6M48.2 281.6h0.6M48.5 282h0.6M46.5 287.4h0.6M47.5 282.7h0.6M46.6 283.4h0.6M46.9 270.9h0.6M49.4 287.5h0.6M48.5 283.4h0.6M48.3 298.1h0.6M47 272.8h0.6M47.3 272.9h0.6M47.4 269.8h0.6M47.8 265.4h0.6M47.9 276.4h0.6M47.7 279.9h0.6M47.7 275h0.6M47.7 291.5h0.6M47.9 298.7h0.6M49.5 286.2h0.6M46.7 280.4h0.6M47 272.5h0.6M48.9 289.8h0.6M47.1 294h0.6M46.9 297.1h0.6M48.3 282.3h0.6M48.3 281.8h0.6M48.9 270.4h0.6M47.8 279.5h0.6M47.3 285.4h0.6M46.6 295.4h0.6M49.3 272.6h0.6M47.9 291.1h0.6M48.7 298h0.6M47 270.5h0.6M47.7 275.2h0.6M47.2 271.3h0.6M48.6 294.3h0.6M48.8 297.9h0.6M48 299.1h0.6M46.5 296h0.6M47.7 266.5h0.6M49.1 278.7h0.6M46.5 290h0.6M49.5 279.9h0.6M46.6 267.4h0.6M47.5 294.1h0.6M48.9 276.3h0.6M47.9 265.4h0.6M46.8 275.3h0.6M49 273.3h0.6M46.7 267.1h0.6M49.2 295.3h0.6M47.9 266.7h0.6M48.4 271.9h0.6M48.6 282.2h0.6M47 286.6h0.6M48 280h0.6M49 283.3h0.6M47.1 273.8h0.6M48.9 282.2h0.6M47.5 290.6h0.6M47.9 265.3h0.6M48 270.8h0.6M48.8 291.7h0.6M47.6 272.9h0.6M48 294h0.6M48.3 269h0.6M47.6 282.8h0.6M47.3 265.8h0.6M47.2 288.3h0.6M46.6 296.7h0.6M47.8 280h0.6M48 291.5h0.6M48 299.8h0.6M48.3 278h0.6M48.5 293.2h0.6M48.7 278h0.6M46.9 295.7h0.6M47.9 278.9h0.6M46.7 277.4h0.6M49.4 271.7h0.6M46.5 282.7h0.6M47.8 276.1h0.6M48.4 277.6h0.6M47.2 273.6h0.6M48.4 269.2h0.6M47.6 299.3h0.6M48.6 270.6h0.6M49.5 289.3h0.6M49.1 274.8h0.6M47.5 277.3h0.6M46.4 279.9h0.6M49.4 284.9h0.6M48 287.7h0.6M48.8 269.1h0.6M48.7 297.8h0.6M46.7 267.1h0.6M49.6 280.2h0.6M47.5 298.5h0.6M48.9 285.2h0.6M48.1 286.9h0.6M49.3 294.3h0.6M48.2 294.3h0.6M46.8 291.6h0.6M47.9 300h0.6M49.3 271.6h0.6M49.4 278h0.6M46.9 281.4h0.6M47.8 268.6h0.6M49.2 272.8h0.6M47.4 296.8h0.6M47.6 266.2h0.6M48.3 269.7h0.6M48.3 290h0.6M48.1 265.9h0.6M48.8 287.1h0.6M48.9 297.6h0.6M48.7 295.7h0.6M46.6 289.7h0.6M49 274.1h0.6M47.9 294h0.6M46.9 272.5h0.6M46.6 275h0.6M48.9 266.4h0.6M48.2 289.1h0.6M46.5 296.3h0.6M49.2 278.2h0.6M47 281.5h0.6M46.8 268.6h0.6M49.2 282.3h0.6M48.5 265.9h0.6M48.3 295.3h0.6M49.3 274.1h0.6M48.1 276.5h0.6M48.9 274.5h0.6M49.4 292.7h0.6M48.7 281.6h0.6M48.9 300.4h0.6M48.9 273h0.6M49.4 290.7h0.6M48.1 276.7h0.6M47.2 279.8h0.6M47.8 295.4h0.6M47.8 270.6h0.6M48.2 289.8h0.6M47.2 271.4h0.6M49.5 295.2h0.6M47.8 288.6h0.6M49 284.7h0.6M49.3 281.3h0.6M49.4 267h0.6M48.4 268h0.6M46.6 285.9h0.6M48.8 273.9h0.6M46.7 266h0.6M48.7 289.8h0.6M47.2 294.9h0.6M47.4 276.3h0.6M47.9 296.6h0.6M49.4 283.5h0.6M49.5 294.6h0.6M49 268.7h0.6M48.4 299.1h0.6M49.5 290.2h0.6M49.3 277h0.6M49.5 297.2h0.6M48.4 298.5h0.6M49.2 267.5h0.6M48.9 266.2h0.6M47 275.8h0.6M48.5 298.1h0.6M47.6 291.9h0.6M49.3 298.8h0.6M49.2 276.4h0.6M48.1 292.4h0.6M47.2 297.9h0.6M48.8 298.9h0.6M49.2 288.9h0.6M49 279.7h0.6M47.9 295.6h0.6M47.2 279.1h0.6M48.3 265.2h0.6M48.1 278.4h0.6M49.1 280.7h0.6M49.4 291.6h0.6M48.1 285.3h0.6M47.1 277h0.6M47.5 290.1h0.6M46.7 298.8h0.6M49 276.7h0.6M48.4 272.4h0.6M46.5 283.9h0.6M49.1 294.8h0.6M49.2 294.9h0.6M48.3 291h0.6M47.5 286.1h0.6M48.8 284.9h0.6M47.2 278.2h0.6M48 273h0.6M49.3 268.2h0.6M48.9 291.9h0.6M46.9 279.8h0.6M47.9 276.3h0.6M49.4 266.6h0.6M48.7 296.1h0.6M48.2 297.6h0.6M49 287.5h0.6M47.7 266.6h0.6M47 300.3h0.6M46.6 276.1h0.6M46.9 296.9h0.6M48.6 286.8h0.6M47.7 267h0.6M48.2 284.9h0.6M49.4 291.4h0.6M48.6 293.3h0.6M46.7 281.7h0.6M48.8 274h0.6M47.3 293.5h0.6M46.5 285.9h0.6M47 271h0.6M55.7 297.7h0.6M60.2 298.9h0.6M75.4 297.8h0.6M47.5 297.6h0.6M71.7 298.8h0.6M68.5 298.6h0.6M66.5 298.3h0.6M52.4 299.6h0.6M47.7 297.4h0.6M50.1 297.1h0.6M59.9 298.3h0.6M62.8 297.6h0.6M47.8 297.1h0.6M57.4 297.1h0.6M47.4 299.7h0.6M64.2 297.5h0.6M64.3 298.6h0.6M71.2 297.6h0.6M68.6 299.4h0.6M49.9 299.4h0.6M48 297.7h0.6M64.8 298.2h0.6M53 298.2h0.6M54.8 297.4h0.6M68.6 299.5h0.6M68.6 297.9h0.6M72.1 300.3h0.6M76.3 296.9h0.6M78.4 299.7h0.6M72.6 297.2h0.6M76.5 298h0.6M48.3 296.9h0.6M51.1 296.7h0.6M75.3 298.5h0.6M66.3 298.6h0.6M68.9 299.8h0.6M53.6 299.1h0.6M55.9 299.3h0.6M61.2 299h0.6M65 297.6h0.6M60.4 299.7h0.6M67.2 296.8h0.6M78.7 298.4h0.6M61.3 298.5h0.6M69.2 297.5h0.6M72.6 297.9h0.6M72.2 297.9h0.6M72.9 298.2h0.6M52 299.1h0.6M54.8 299.5h0.6M75.8 299.2h0.6M49.2 298.8h0.6M75.9 299h0.6M51.1 297.4h0.6M70.6 300.1h0.6M62 299h0.6M72.4 299.3h0.6M70.1 299.4h0.6M50.7 297.4h0.6M64.7 296.7h0.6M71.6 298.3h0.6M49.6 298.4h0.6M63.5 299.5h0.6M78.3 297.5h0.6M48 297.2h0.6M56.6 299.4h0.6M57.9 299.5h0.6M68.6 298.5h0.6M65.5 297.2h0.6M76.4 299.5h0.6M73.7 299.4h0.6M72.3 297.6h0.6M64.5 297.8h0.6M59 300.1h0.6M60.4 297.3h0.6M75.2 297.2h0.6M59.7 298.6h0.6M69.8 298.2h0.6M64.5 298.3h0.6M67.7 299.3h0.6M75.9 298.3h0.6M52.4 299h0.6M54.8 300.2h0.6M53.9 299h0.6M47.2 299.6h0.6M55 297.1h0.6M69.3 298.3h0.6M67.1 297h0.6M60.6 298h0.6M64.9 300.1h0.6M72.6 297.7h0.6M52.7 299.2h0.6M50.2 298.8h0.6M71.3 299h0.6M72.9 300.2h0.6M75.1 297.1h0.6M54.9 297.9h0.6M68.5 298.6h0.6M64.8 298.9h0.6M60.9 299.3h0.6M62.7 297.6h0.6M67.7 299.1h0.6M68.3 296.7h0.6M70.8 296.7h0.6M73.1 296.9h0.6M66.1 298.4h0.6M58.7 298h0.6M63.7 296.7h0.6M55.6 298.8h0.6M77.5 298.2h0.6M66 299.6h0.6M63.9 297.8h0.6M69.9 298.2h0.6M51.1 298.4h0.6M75.1 296.9h0.6M58.3 298.9h0.6M55.9 298.2h0.6M54.3 297.3h0.6M72.7 297.7h0.6M76.7 296.7h0.6M78.5 297h0.6M74.8 298.3h0.6M59.6 298.6h0.6M60.6 298.9h0.6M54.2 298.2h0.6M55.9 298.2h0.6M58.3 299.8h0.6M71.3 298.6h0.6M76.4 298.3h0.6M50.9 299.4h0.6M52.2 297.4h0.6M48.3 298.2h0.6M58 297.6h0.6M70.4 299.9h0.6M60.4 299.5h0.6M63.6 298.8h0.6M71.4 299.2h0.6M60.8 299.4h0.6M55.2 299.4h0.6M60.7 296.8h0.6M48.4 296.9h0.6M61.4 297.1h0.6M51.8 296.9h0.6M74.3 298.4h0.6M71.2 296.7h0.6M62 297.8h0.6M61.8 298.4h0.6M54.6 298.7h0.6M51.6 297.9h0.6M65.3 299.1h0.6M64.2 297.2h0.6M72 300h0.6M68.6 299.8h0.6M62.5 299.6h0.6M52.3 298.8h0.6M66.4 299.8h0.6M51.3 296.9h0.6M72.5 297.5h0.6M53.4 298.5h0.6M58.2 298.6h0.6M48.1 299.7h0.6M74.4 299.6h0.6M56.7 298.8h0.6M55.3 299.7h0.6M77.1 299.9h0.6M71 299.2h0.6M63.4 298.1h0.6M73.5 297h0.6M56 299.5h0.6M65.4 300.2h0.6M72.6 297h0.6M71.4 297.4h0.6M76.3 298.4h0.6M59.1 298.1h0.6M67.9 297.6h0.6M50.5 297.6h0.6M66 297.6h0.6M73.3 297.6h0.6M67.8 297.3h0.6M73.7 299.3h0.6M59.1 298.8h0.6M64.4 300.2h0.6M58.6 300.2h0.6M73.8 298.4h0.6M72.5 298.9h0.6M66.8 298.7h0.6M71.6 297.6h0.6M68.6 298.3h0.6M59.2 299.5h0.6M65.8 299h0.6M77 299.8h0.6M67.9 299.5h0.6M73.2 299.5h0.6M62 298.6h0.6M53.1 299.1h0.6M70.5 297h0.6M60.8 298.7h0.6M61.3 299.6h0.6M58.3 297.3h0.6M63.2 300.2h0.6M71.9 298.8h0.6M66.6 297.9h0.6M57.6 299.2h0.6M65.6 297.1h0.6M59.2 298h0.6M52.5 298.7h0.6M58.8 297.5h0.6M67 298.5h0.6M74.6 297.6h0.6M62.3 299.6h0.6M52.7 298.5h0.6M63.4 298.3h0.6M58.9 299.7h0.6M58.8 297.8h0.6M69.4 299.6h0.6M78.8 300.2h0.6M78.2 300.1h0.6M63.2 298.7h0.6M64.3 297h0.6M49.4 297.3h0.6M65.7 297.8h0.6M70.6 297.1h0.6M58.5 299.2h0.6M53.7 297.4h0.6M74.4 296.8h0.6M57.6 299.5h0.6M53.9 299.1h0.6M52.8 299.6h0.6M71.5 300h0.6M57.4 299.6h0.6M76.1 297.9h0.6M50.9 299.3h0.6M67 297h0.6M73.3 298.1h0.6M53.9 299.6h0.6M74.1 300.1h0.6M78.6 298.7h0.6M73.8 297.4h0.6M77.1 299.3h0.6M78.6 298h0.6M53.5 296.9h0.6M53.5 298.1h0.6M60.2 300.3h0.6M61.4 297.1h0.6M50 299.1h0.6M52.8 296.8h0.6M55.9 297.6h0.6M69.8 297.9h0.6M70 297h0.6M60.7 297.3h0.6M78.6 298.7h0.6M48.4 297.3h0.6M73.5 298.9h0.6M69.1 298.1h0.6M62.3 298h0.6M58.3 299.6h0.6M64.9 298.3h0.6M54.3 297.3h0.6M78.8 298h0.6M51.5 297.9h0.6M64.3 298.1h0.6M70.9 299.4h0.6M49.3 297.6h0.6M57 300.2h0.6M61 297.2h0.6M47.1 299.7h0.6M50.6 298.4h0.6M58.8 299.1h0.6M61.6 296.8h0.6M52.8 299.2h0.6M55.8 299.5h0.6M69.2 298.4h0.6M50.8 297.7h0.6M78.2 299.3h0.6M56.7 297h0.6M49.9 299.5h0.6M59.8 298.1h0.6M51.9 299.9h0.6M54.5 297h0.6M60.4 298.8h0.6M75.4 299.6h0.6M66 297.4h0.6M66.7 299.4h0.6M61.8 298h0.6M49 299.8h0.6M57 296.9h0.6M72.3 297.4h0.6M57.1 299.3h0.6M50.1 299.2h0.6M64.8 297h0.6M48.1 298.9h0.6M52.1 300.3h0.6M51.7 298.5h0.6M60.5 300.1h0.6M76.3 299.3h0.6M56.8 298.6h0.6M67.2 297.1h0.6M67.8 297.5h0.6M53.6 297.2h0.6M69.6 296.7h0.6M111.6 287.7h0.6M109.4 297.2h0.6M85 273.2h0.6M124.5 298.1h0.6M121.7 273.8h0.6M117.6 285.5h0.6M112.6 285.6h0.6M125 274.4h0.6M100.7 282.9h0.6M109.6 290.8h0.6M88 278.6h0.6M126.4 279.6h0.6M85.5 298.6h0.6M122 276h0.6M101.3 288.3h0.6M112.5 290.6h0.6M97.3 274.6h0.6M105.8 287.2h0.6M117.3 278.8h0.6M112.4 280h0.6M125.1 285.7h0.6M123.5 291h0.6M103.8 276.6h0.6M100.3 279.3h0.6M112.2 295.3h0.6M94.5 275.5h0.6M109.5 282.9h0.6M89.2 275.7h0.6M95.9 296.9h0.6M125.7 290h0.6M91.5 284.5h0.6M128.1 282.6h0.6M102.3 298.8h0.6M113.1 273.8h0.6M118.7 294.5h0.6M98.7 287.9h0.6M88.9 289.1h0.6M106.2 273h0.6M121.6 282.4h0.6M88.1 286.4h0.6M98.9 276.5h0.6M87.6 291.5h0.6M97.8 287.1h0.6M99.3 282.4h0.6M115.9 286h0.6M118.5 281.3h0.6M121.9 290.4h0.6M112.9 297h0.6M106.7 293.6h0.6M125.1 278.2h0.6M97.4 278.2h0.6M113 283.2h0.6M114.7 293.1h0.6M110.6 275.6h0.6M86.1 297.8h0.6M112.4 289h0.6M89.2 272.8h0.6M86 280.7h0.6M89.5 298.6h0.6M115 271.8h0.6M121.4 297.9h0.6M92.1 280.9h0.6M122.5 292.1h0.6M128.7 281.4h0.6M115.2 292.9h0.6M127 295.4h0.6M128.8 275.4h0.6M126.2 296.9h0.6M114.5 297.4h0.6M94.9 290.8h0.6M94.9 292.9h0.6M85.8 281.6h0.6M120.4 287.3h0.6M95.1 288.6h0.6M101.8 272.1h0.6M94.8 273.2h0.6M103.2 293.2h0.6M106.7 290.3h0.6M109.9 285.3h0.6M120.2 277.9h0.6M105.6 287.4h0.6M106.9 293.7h0.6M120.1 295h0.6M91.2 276.7h0.6M112.2 274.5h0.6M94.7 285.4h0.6M85.5 279.6h0.6M99.1 291.1h0.6M90.2 281.8h0.6M87.6 283.8h0.6M136.9 260.3h0.6M142.5 218.6h0.6M83.5 254h0.6M68.5 244.7h0.6M78.7 216h0.6M66.8 222.4h0.6M143.5 204.6h0.6M58.4 256h0.6M82.5 248.8h0.6M115.8 273.8h0.6M64.2 205.5h0.6M122.7 276.5h0.6M131.3 232.3h0.6M100.2 276h0.6M59.8 241h0.6M124.7 205.7h0.6M98.1 265.8h0.6M74.2 270.8h0.6M91.4 285.4h0.6M50.1 247h0.6M105.9 296.2h0.6M82.1 205.2h0.6M121.6 296.4h0.6M88.9 254.8h0.6M109.9 287.5h0.6M82.8 237.9h0.6M101.8 296.3h0.6M108.7 274.8h0.6M92.3 236.4h0.6M81.3 254.7h0.6M103.2 242.6h0.6M102.2 272.4h0.6M111.2 260h0.6M98.3 241h0.6M115.2 261.1h0.6M110.7 233.5h0.6M82.5 233.8h0.6M99 288.7h0.6M112 241h0.6M113.9 275.9h0.6M109.9 272.7h0.6M114.7 289.7h0.6M93.6 296.9h0.6M106.2 244.1h0.6M96.9 249.4h0.6M108.8 253.1h0.6M107.5 255.3h0.6M96.1 278.2h0.6M88 272.7h0.6M110.1 277.5h0.6" stroke="#4a4a4a" stroke-width="0.6"/>
<rect x="45.5" y="226.5" width="4.3" height="74.5" fill="url(#vb2)" fill-opacity="0.95"/>
<rect x="45.5" y="296.8" width="33" height="3.8" fill="url(#hb2)" fill-opacity="0.9"/>
<path d="M71.5 292.5 70.5 292.8 69.5 292.9 68.5 292.9 67.5 292.7 66.6 292.5 66 292.3 65 292 64.5 291.8 63.6 291.5 63 291.2 62.5 290.9 61.8 290.5 61.1 290 60.6 289.5 60.1 289 59.8 288.5 59.4 288 59 287.1 58.7 286.5 58.5 285.6 58.4 285 58.3 284 58.2 283 58.2 282 58.2 281 58.2 280 58.3 279 58.3 278 58.3 277 58.4 276 58.5 275.2 58.6 274.5 58.8 273.5 59 272.6 59.1 272 59.3 271 59.1 270 58.8 269.5 58.4 269 57.9 268.5 57.3 268 56.6 267.5 56 267 55.5 266.5 55.1 266 54.9 265.5 54.7 264.5 55 263.7 55.4 263 55.8 262.5 56.2 262 56.5 261.4 56.7 260.5 56.5 259.8 56.1 259 55.8 258.5 55.4 258 55 257.4 54.5 256.7 54.1 256 53.7 255.5 53.5 255 53 254.2 52.7 253.5 52.4 253 52 252 51.8 251.5 51.5 250.6 51.3 250 51.1 249 51 248.5 50.8 247.5 50.8 246.5 50.8 245.5 50.9 244.5 51 244 51.3 243 51.5 242.2 51.7 241.5 52 240.5 52.2 240 52.5 239 52.6 238.5 53 237.6 53.3 237 53.5 236.5 54 235.7 54.5 235 54.9 234.5 55.3 234 55.8 233.5 56.3 233 56.8 232.5 57.4 232 58 231.6 58.5 231.2 59 230.9 59.7 230.5 60.5 230.1 61 229.9 62 229.5 62.5 229.3 63.5 229 64 228.9 65 228.6 65.8 228.5 66.5 228.4 67.5 228.2 68.5 228.1 69.5 228 70.5 228 71.5 228.1 72.5 228.2 73.5 228.4 74 228.5 75 228.8 75.7 229 76.5 229.3 77 229.5 78 229.9 78.5 230.2 79 230.5 79.9 231 80.5 231.4 81 231.6 81.6 232 82.5 232.5 83 232.7 83.7 233 84.5 233.4 85 233.6 86 234 86.5 234.2 87.1 234.5 87.9 235 88.5 235.4 89 235.7 89.5 236.2 90 236.7 90.5 237.3 91 237.9 91.4 238.5 91.7 239 92 239.7 92.4 240.5 92.6 241 93 241.9 93.2 242.5 93.5 243.4 93.7 244 93.9 245 94 245.5 94.2 246.5 94.3 247.5 94.3 248.5 94.3 249.5 94 250.5 93.9 251 93.5 252 93.3 252.5 93 253.1 92.5 254 92.2 254.5 91.9 255 91.5 255.5 91 256.1 90.5 256.7 90 257.2 89.5 257.8 89 258.3 88.5 258.9 88.3 259.5 88.5 260.1 89.1 260.5 90 260.9 90.5 261.1 91.5 261.3 92.4 261.5 93 261.6 94 261.7 95 261.7 96 261.6 96.5 261.5 97.4 261 97.9 260.5 98.2 260 98.4 259 98.3 258 98 257 97.9 256.5 97.6 255.5 97.4 255 97.1 254 97 253.5 96.8 252.5 96.6 251.5 96.6 250.5 96.6 249.5 96.7 248.5 97 247.6 97.2 247 97.5 246.2 97.8 245.5 98.1 245 98.5 244.2 98.9 243.5 99.1 243 99.5 242.4 100 241.5 100.3 241 100.6 240.5 101 239.8 101.4 239 101.7 238.5 102 238 102.5 237.2 102.9 236.5 103.2 236 103.5 235.5 104 234.8 104.5 234 104.9 233.5 105.3 233 105.7 232.5 106.2 232 106.8 231.5 107.3 231 108 230.5 108.5 230.1 109 229.8 109.5 229.5 110.3 229 111 228.7 111.5 228.5 112.5 228.2 113.5 228.1 114.5 228.2 115.5 228.4 116 228.6 116.9 229 117.5 229.4 118 229.7 118.5 230.1 119 230.5 119.6 231 120 231.5 120.5 232.1 121 232.8 121.4 233.5 121.7 234 122 234.8 122.3 235.5 122.5 236.1 122.8 237 123 237.6 123.3 238.5 123.5 239.5 123.6 240 123.8 241 123.9 242 124 243 124 243.8 124 244.5 124 245.5 124 246.5 124 247.4 124 248 123.9 249 123.8 250 123.6 251 123.5 251.5 123.3 252.5 123 253.5 122.9 254 122.6 255 122.4 255.5 122 256.5 121.8 257 121.5 257.7 121.1 258.5 120.7 259 120.4 259.5 120 260 119.5 260.7 119 261.2 118.5 261.8 118 262.4 117.5 263 117 263.5 116.6 264 116.2 264.5 115.8 265 115.4 265.5 114.9 266 114.4 266.5 113.9 267 113.2 267.5 112.5 268 112 268.3 111.5 268.5 110.5 268.9 110 269 109 269.2 108 269.3 107 269.4 106 269.4 105 269.2 104 269.1 103.5 269 102.5 268.8 101.5 268.6 101 268.4 100 268.3 99 268.1 98.5 268 97.5 267.9 96.5 267.8 95.5 267.7 94.5 267.8 93.5 267.8 92.5 267.9 91.7 268 91 268.1 90 268.1 89 268.2 88 268.3 87 268.4 86 268.4 85.5 268.5 84.5 268.6 83.5 268.8 82.5 268.9 82 269 81 269.2 80 269.5 79.5 269.7 78.9 270 78.2 270.5 77.8 271 77.7 272 77.9 273 78 273.5 78.3 274.5 78.5 275.2 78.7 276 78.9 277 79 277.8 79.1 278.5 79.2 279.5 79.3 280.5 79.3 281.5 79.2 282.5 79 283.4 78.9 284 78.5 285 78.3 285.5 78 286.2 77.6 287 77.3 287.5 77 288 76.5 288.8 76 289.4 75.5 289.9 75 290.4 74.5 290.8 74 291.2 73.5 291.6 72.7 292 72 292.4 71.5 292.5ZM71 290.1 70 290.3 69 290.4 68 290.4 67 290.3 66 290.1 65.5 290 64.5 289.7 64 289.5 63.1 289 62.5 288.5 62 288.1 61.5 287.5 61.2 287 60.9 286.5 60.5 285.5 60.4 285 60.2 284 60.1 283 60.1 282 60.2 281 60.3 280 60.4 279 60.5 278.4 60.7 277.5 60.9 276.5 61 276 61.3 275 61.5 274.4 61.9 273.5 62.3 273 62.6 272.5 63.1 272 63.6 271.5 64 271 64.5 270.3 64.5 269.6 64 269.1 63.5 268.8 63 268.5 62.1 268 61.5 267.7 61 267.4 60.3 267 59.6 266.5 59.1 266 58.8 265.5 58.8 264.5 59 263.9 59.5 263.1 59.8 262.5 60.1 262 60.3 261 60.1 260 59.8 259.5 59.5 259 59 258.4 58.5 257.8 58 257.3 57.5 256.7 57 256.2 56.5 255.6 56 255 55.6 254.5 55.3 254 55 253.5 54.5 252.7 54.2 252 53.9 251.5 53.6 250.5 53.4 250 53.2 249 53.1 248 53 247 53.1 246 53.2 245 53.3 244 53.5 243.1 53.6 242.5 53.8 241.5 54 240.7 54.2 240 54.5 239 54.7 238.5 55 237.9 55.5 237 55.8 236.5 56.2 236 56.7 235.5 57.2 235 57.7 234.5 58.4 234 59 233.5 59.5 233.2 60 232.9 60.7 232.5 61.5 232.1 62 231.8 62.7 231.5 63.5 231.2 64 231 65 230.7 65.9 230.5 66.5 230.4 67.5 230.3 68.5 230.2 69.5 230.1 70.5 230.1 71.5 230.2 72.5 230.3 73.3 230.5 74 230.7 75 231 75.5 231.2 76.3 231.5 77 231.8 77.5 232.1 78.2 232.5 79 232.9 79.5 233.2 80 233.5 80.9 234 81.5 234.3 82 234.6 82.9 235 83.5 235.2 84.1 235.5 85 235.9 85.5 236.1 86.4 236.5 87 236.9 87.5 237.2 88 237.6 88.5 238.2 89 238.8 89.5 239.5 89.7 240 90 240.6 90.4 241.5 90.6 242 90.8 243 91 243.7 91.2 244.5 91.3 245.5 91.4 246.5 91.5 247.5 91.4 248.5 91.4 249.5 91.2 250.5 91 251.3 90.8 252 90.5 252.7 90.1 253.5 89.8 254 89.5 254.5 89 255.1 88.5 255.6 88 256.1 87.4 256.5 86.6 257 86 257.3 85.5 257.6 84.5 257.9 84 258.1 83 258.4 82.5 258.5 81.5 258.8 81 259 80.3 259.5 80.5 260.4 81 260.7 81.7 261 82.5 261.2 83.5 261.4 84 261.5 85 261.7 86 261.9 86.5 262 87.5 262.3 88.5 262.5 89 262.6 90 262.7 91 263 91.5 263.1 92.5 263.3 93.1 263.5 94 263.8 94.8 264 95.5 264.2 96.5 264.3 97.5 264 98 263.8 98.5 263.5 99.2 263 99.8 262.5 100.2 262 100.5 261.3 100.7 260.5 100.7 259.5 100.6 258.5 100.5 258 100.2 257 100 256.4 99.7 255.5 99.5 254.8 99.3 254 99.1 253 99 252 99 251 99.1 250 99.2 249 99.4 248 99.5 247.5 99.8 246.5 100 246 100.4 245 100.6 244.5 101 243.7 101.3 243 101.6 242.5 102 241.6 102.3 241 102.6 240.5 103 239.7 103.4 239 103.7 238.5 104 238 104.5 237.2 104.9 236.5 105.3 236 105.6 235.5 106 235 106.5 234.3 107 233.8 107.5 233.3 108 232.8 108.5 232.4 109.1 232 110 231.5 110.5 231.2 111.1 231 112 230.7 113 230.5 113.5 230.5 114.1 230.5 115 230.6 116 231 116.5 231.2 117 231.5 117.8 232 118.4 232.5 118.9 233 119.3 233.5 119.7 234 120 234.6 120.5 235.5 120.7 236 121 236.8 121.3 237.5 121.5 238.3 121.7 239 122 240 122.1 240.5 122.3 241.5 122.4 242.5 122.5 243.4 122.6 244 122.6 245 122.6 246 122.6 247 122.6 248 122.5 248.6 122.4 249.5 122.2 250.5 122 251.3 121.8 252 121.6 253 121.4 253.5 121.1 254.5 120.9 255 120.5 256 120.3 256.5 120 257 119.5 257.8 119 258.5 118.6 259 118.1 259.5 117.7 260 117.2 260.5 116.7 261 116.2 261.5 115.7 262 115.3 262.5 114.8 263 114.4 263.5 114 264 113.5 264.6 113 265.1 112.5 265.6 111.9 266 111.1 266.5 110.5 266.8 109.8 267 109 267.2 108 267.3 107 267.3 106 267.2 105 267.1 104 267 103.5 266.9 102.5 266.8 101.5 266.6 101 266.5 100 266.2 99 266 98.5 265.8 97.5 265.6 96.8 265.5 96 265.5 95.5 265.6 94.5 265.8 94 266 93 266.3 92.1 266.5 91.5 266.6 90.5 266.8 89.5 266.9 88.7 267 88 267.1 87 267.2 86 267.3 85 267.4 84.2 267.5 83.5 267.6 82.5 267.7 81.5 267.9 80.9 268 80 268.2 79 268.4 78.5 268.5 77.5 268.8 76.7 269 76 269.3 75.5 269.5 74.8 270 74.3 270.5 74.3 271.5 74.5 272.1 75 273 75.3 273.5 75.6 274 76 275 76.2 275.5 76.5 276.5 76.6 277 76.8 278 77 279 77 279.5 77.1 280.5 77.1 281.5 77 282.1 76.8 283 76.5 284 76.4 284.5 76 285.3 75.7 286 75.4 286.5 75 287 74.5 287.7 74 288.3 73.5 288.7 73 289.1 72.4 289.5 71.5 289.9 71 290.1ZM75.5 267.5 74.5 267.7 73.5 267.8 72.5 267.9 71.5 267.9 70.5 267.8 69.5 267.6 69 267.5 68 267.2 67.4 267 66.5 266.7 66 266.5 65 266.1 64.5 265.8 64 265.5 63.5 265 63.2 264 63.5 263.2 63.8 262.5 64 261.5 63.6 260.5 63.2 260 62.8 259.5 62.3 259 61.9 258.5 61.4 258 60.9 257.5 60.5 257 60 256.5 59.5 255.9 59 255.4 58.5 254.8 58 254.2 57.5 253.6 57 253 56.7 252.5 56.4 252 56 251.2 55.7 250.5 55.5 249.9 55.3 249 55.1 248 55.1 247 55.1 246 55.2 245 55.3 244 55.4 243 55.5 242.1 55.6 241.5 55.9 240.5 56 240 56.4 239 56.7 238.5 57 238 57.5 237.4 58 236.8 58.5 236.3 59 235.9 59.5 235.5 60.2 235 61 234.5 61.5 234.2 62 233.9 62.8 233.5 63.5 233.1 64 232.9 65 232.6 65.5 232.4 66.5 232.2 67.5 232.1 68.5 232 69 232 70 232 70.5 232 71.5 232.1 72.5 232.2 73.5 232.5 74 232.6 75 233 75.5 233.2 76 233.5 76.9 234 77.5 234.3 78 234.6 78.6 235 79.4 235.5 80 235.8 80.5 236.1 81.2 236.5 82 236.9 82.5 237.2 83.2 237.5 84 237.9 84.5 238.1 85.1 238.5 85.8 239 86.4 239.5 86.8 240 87.2 240.5 87.5 241.1 87.9 242 88.1 242.5 88.4 243.5 88.5 244.1 88.7 245 88.9 246 89 246.8 89.1 247.5 89.1 248.5 89.1 249.5 89 250 88.8 251 88.5 251.8 88.1 252.5 87.8 253 87.4 253.5 86.9 254 86.3 254.5 85.5 255 85 255.2 84.2 255.5 83.5 255.7 82.5 256 82 256.1 81 256.4 80.5 256.6 79.5 256.9 79 257.1 78.2 257.5 77.5 257.8 77 258.1 76.3 258.5 75.7 259 75.1 259.5 74.8 260 75 260.8 75.5 261.2 76 261.5 77 261.9 77.5 262.1 78.5 262.5 79 262.6 80 262.9 80.5 263 81.5 263.2 82.5 263.4 83 263.6 84 263.8 84.5 264 85.5 264.5 85.7 265 85 265.4 84.5 265.6 83.5 265.9 83 266.1 82 266.3 81.2 266.5 80.5 266.6 79.5 266.8 78.6 267 78 267.1 77 267.3 76 267.5 75.5 267.5ZM110 264.6 109 264.9 108 264.9 107 264.9 106 264.7 105.5 264.5 104.5 264 104 263.5 103.7 263 103.5 262.5 103.2 261.5 103 260.6 102.9 260 102.6 259 102.4 258.5 102.1 257.5 101.9 257 101.6 256 101.4 255.5 101.1 254.5 101 254 100.7 253 100.6 252 100.6 251 100.7 250 100.8 249 101 248.1 101.1 247.5 101.5 246.5 101.6 246 102 245.1 102.2 244.5 102.5 243.9 102.9 243 103.2 242.5 103.5 241.8 103.9 241 104.2 240.5 104.5 240 105 239.2 105.4 238.5 105.8 238 106.1 237.5 106.5 237 107 236.3 107.5 235.7 108 235.2 108.5 234.7 109 234.2 109.5 233.9 110.2 233.5 111 233.1 111.5 232.9 112.5 232.7 113.5 232.6 114.5 232.7 115.5 232.9 116 233.1 116.7 233.5 117.3 234 117.8 234.5 118.3 235 118.6 235.5 119 236.2 119.4 237 119.6 237.5 120 238.5 120.1 239 120.4 240 120.6 240.5 120.8 241.5 121 242.5 121.1 243 121.2 244 121.3 245 121.3 246 121.3 247 121.3 248 121.1 249 121 249.6 120.8 250.5 120.6 251.5 120.4 252 120.1 253 119.9 253.5 119.6 254.5 119.3 255 119 255.7 118.5 256.5 118.2 257 117.8 257.5 117.4 258 116.9 258.5 116.4 259 115.9 259.5 115.4 260 114.8 260.5 114.3 261 113.8 261.5 113.3 262 112.8 262.5 112.2 263 111.7 263.5 111 264 110.5 264.3 110 264.6ZM70.5 288 69.5 288.2 68.5 288.3 67.5 288.3 66.5 288.1 66 288 65 287.6 64.5 287.3 64 286.9 63.5 286.4 63 285.8 62.6 285 62.4 284.5 62.2 283.5 62.1 282.5 62.2 281.5 62.4 280.5 62.5 280 62.8 279 63 278.4 63.3 277.5 63.5 277 64 276.1 64.4 275.5 64.9 275 65.5 274.5 66 274.2 66.5 274 67.5 273.7 68.5 273.7 69.5 273.8 70.4 274 71 274.2 71.5 274.5 72.2 275 72.8 275.5 73.2 276 73.5 276.5 74 277.5 74.2 278 74.5 279 74.6 279.5 74.7 280.5 74.8 281.5 74.7 282.5 74.5 283.3 74.3 284 74 284.7 73.6 285.5 73.2 286 72.8 286.5 72.3 287 71.6 287.5 71 287.8 70.5 288ZM69.5 259 68.5 259.2 67.5 259.2 66.5 259 66 258.9 65 258.5 64.5 258.2 64 257.9 63.4 257.5 62.8 257 62.3 256.5 61.8 256 61.3 255.5 60.9 255 60.4 254.5 60 254 59.5 253.4 59 252.7 58.5 252 58.2 251.5 57.9 251 57.5 250.1 57.3 249.5 57 248.5 57 248 56.8 247 56.8 246 56.8 245 56.8 244 56.9 243 57 242.3 57.2 241.5 57.5 240.5 57.7 240 58 239.5 58.5 238.8 59 238.2 59.5 237.7 60 237.2 60.5 236.8 61 236.5 61.7 236 62.4 235.5 63 235.2 63.5 234.9 64.3 234.5 65 234.2 65.8 234 66.5 233.8 67.5 233.7 68.5 233.6 69.5 233.6 70.5 233.7 71.5 233.8 72.5 234 73 234.1 74 234.5 74.5 234.7 75.1 235 76 235.5 76.5 235.8 77 236.1 77.6 236.5 78.3 237 79 237.5 79.5 237.9 80 238.2 80.5 238.6 81.2 239 81.9 239.5 82.5 239.9 83 240.2 83.5 240.6 84 241.1 84.5 241.6 85 242.4 85.3 243 85.5 243.5 85.9 244.5 86 245 86.2 246 86.4 247 86.5 247.6 86.6 248.5 86.5 249.5 86.4 250 86.1 251 85.7 251.5 85.3 252 84.7 252.5 84 253 83.5 253.2 83 253.5 82 253.9 81.5 254.2 80.7 254.5 80 254.8 79.5 255.1 78.5 255.5 78 255.7 77.4 256 76.5 256.4 76 256.6 75.1 257 74.5 257.3 73.9 257.5 73 257.9 72.5 258.1 71.5 258.5 71 258.6 70 258.9 69.5 259ZM110 262.1 109 262.3 108 262.3 107 262 106.5 261.8 106 261.4 105.5 260.9 105 260.2 104.6 259.5 104.3 259 104 258.3 103.6 257.5 103.4 257 103 256 102.9 255.5 102.5 254.5 102.4 254 102.1 253 102 252.1 101.9 251.5 101.9 250.5 102 249.8 102.1 249 102.3 248 102.5 247.3 102.8 246.5 103 245.9 103.3 245 103.6 244.5 104 243.6 104.3 243 104.5 242.5 105 241.7 105.4 241 105.7 240.5 106 240 106.5 239.3 107 238.6 107.5 238 107.9 237.5 108.3 237 108.8 236.5 109.4 236 110 235.5 110.5 235.2 111 235 112 234.7 113 234.5 113.5 234.5 114 234.5 115 234.8 115.6 235 116.3 235.5 116.9 236 117.3 236.5 117.6 237 118 237.6 118.4 238.5 118.6 239 119 240 119.2 240.5 119.5 241.5 119.6 242 119.8 243 120 243.9 120.1 244.5 120.2 245.5 120.2 246.5 120.1 247.5 120 248.5 119.9 249 119.7 250 119.5 250.8 119.3 251.5 119 252.5 118.8 253 118.5 253.8 118.2 254.5 117.9 255 117.5 255.7 117 256.4 116.5 257 116 257.5 115.5 258 115 258.5 114.5 258.9 114 259.4 113.5 259.8 113 260.2 112.5 260.5 111.9 261 111.1 261.5 110.5 261.8 110 262.1ZM74 265 73 265.1 72 265 71.5 264.6 71.5 264.4 72.5 264.1 73.5 264.2 74.4 264.5 74 265ZM69 286.5 68.3 286.5 67.5 286.4 66.5 286 66 285.7 65.5 285.2 65 284.6 64.7 284 64.5 283.3 64.4 282.5 64.5 281.6 64.6 281 65 280 65.3 279.5 65.6 279 66 278.5 66.5 278 67.4 277.5 68 277.3 69 277.3 69.7 277.5 70.5 277.9 71 278.2 71.5 278.7 72 279.4 72.3 280 72.5 280.6 72.7 281.5 72.7 282.5 72.5 283.5 72.3 284 72 284.6 71.5 285.3 71 285.8 70.5 286.1 69.5 286.4 69 286.5ZM68 257 67.5 257 66.5 256.9 65.5 256.5 65 256.3 64.5 256 63.7 255.5 63.1 255 62.6 254.5 62.1 254 61.6 253.5 61.2 253 60.8 252.5 60.5 252 60 251.2 59.6 250.5 59.4 250 59 249 58.8 248.5 58.6 247.5 58.5 246.7 58.4 246 58.4 245 58.4 244 58.5 243 58.6 242.5 58.9 241.5 59.1 241 59.5 240.3 60 239.6 60.5 239.1 61 238.6 61.5 238.2 62 237.8 62.5 237.4 63.1 237 64 236.5 64.5 236.2 65 236 66 235.7 66.8 235.5 67.5 235.4 68.5 235.3 69.5 235.3 70.5 235.4 71.1 235.5 72 235.7 73 236 73.5 236.2 74.1 236.5 75 237 75.5 237.3 76 237.7 76.5 238.1 77 238.5 77.6 239 78.1 239.5 78.7 240 79.1 240.5 79.6 241 80.1 241.5 80.5 242 81 242.6 81.5 243.3 81.9 244 82.1 244.5 82.4 245.5 82.5 246 82.6 247 82.7 248 82.6 249 82.4 249.5 82 250.3 81.5 251 81.1 251.5 80.6 252 80 252.5 79.5 252.8 79 253.2 78.5 253.5 77.7 254 77 254.4 76.5 254.6 75.6 255 75 255.2 74.3 255.5 73.5 255.8 72.8 256 72 256.2 71.1 256.5 70.5 256.7 69.5 256.9 68.5 257 68 257ZM109 260 108.5 260 107.5 259.7 107 259.4 106.5 259 106 258.5 105.5 257.8 105 257 104.8 256.5 104.5 255.9 104.1 255 103.9 254.5 103.6 253.5 103.5 253 103.3 252 103.2 251 103.2 250 103.3 249 103.5 248.2 103.7 247.5 104 246.5 104.2 246 104.5 245.3 104.9 244.5 105.1 244 105.5 243.3 106 242.5 106.3 242 106.6 241.5 107 240.9 107.5 240.3 108 239.6 108.5 239.1 109 238.6 109.5 238.1 110 237.7 110.5 237.3 111.1 237 112 236.7 113 236.5 114 236.7 114.9 237 115.5 237.4 116 237.9 116.5 238.5 116.8 239 117.1 239.5 117.5 240.2 117.9 241 118 241.5 118.4 242.5 118.5 243 118.8 244 118.9 245 119 246 119 247 118.9 248 118.7 249 118.5 250 118.4 250.5 118.1 251.5 117.9 252 117.5 253 117.3 253.5 117 254 116.5 254.9 116.1 255.5 115.7 256 115.2 256.5 114.7 257 114.1 257.5 113.5 258 113 258.4 112.5 258.7 112 259 111.1 259.5 110.5 259.7 109.5 260 109 260ZM69 284.6 68.3 284.5 67.5 284 67.2 283.5 67 282.6 67 282.5 67.3 281.5 67.8 281 68.5 280.7 69.5 280.8 70 281.1 70.5 281.9 70.7 282.5 70.5 283.4 70.2 284 69.5 284.5 69 284.6ZM70 255 69 255.2 68 255.2 67 255.1 66.5 255 65.5 254.6 65 254.4 64.4 254 63.8 253.5 63.2 253 62.7 252.5 62.3 252 62 251.5 61.5 250.8 61.1 250 60.9 249.5 60.5 248.5 60.3 248 60.1 247 60 246.4 59.9 245.5 59.9 244.5 60 243.5 60.1 243 60.4 242 60.7 241.5 61 241 61.5 240.4 62 239.9 62.5 239.4 63 239 63.7 238.5 64.5 238 65 237.8 65.6 237.5 66.5 237.2 67.5 237 68 237 69 236.9 70 237 70.5 237.1 71.5 237.3 72.2 237.5 73 237.8 73.5 238.1 74.2 238.5 74.9 239 75.5 239.5 76 240 76.5 240.5 76.9 241 77.3 241.5 77.7 242 78 242.6 78.5 243.5 78.7 244 79 244.9 79.1 245.5 79.3 246.5 79.3 247.5 79.2 248.5 79 249.5 78.9 250 78.5 250.7 78 251.4 77.5 251.9 77 252.4 76.5 252.7 76 253 75.1 253.5 74.5 253.8 73.9 254 73 254.3 72.3 254.5 71.5 254.7 70.5 255 70 255ZM110.5 258 109.5 258.2 108.5 258.1 108 257.9 107.4 257.5 106.8 257 106.4 256.5 106 255.9 105.5 255 105.3 254.5 105 253.8 104.7 253 104.5 252 104.5 251.5 104.4 250.5 104.4 249.5 104.5 248.9 104.7 248 105 247 105.1 246.5 105.5 245.7 105.8 245 106.1 244.5 106.5 243.9 107 243.1 107.4 242.5 107.8 242 108.2 241.5 108.6 241 109.1 240.5 109.7 240 110.3 239.5 111 239.1 111.5 238.9 112.5 238.6 113.5 238.7 114.2 239 114.9 239.5 115.5 240 115.9 240.5 116.2 241 116.5 241.5 117 242.5 117.2 243 117.5 244 117.6 244.5 117.8 245.5 117.8 246.5 117.8 247.5 117.7 248.5 117.5 249.4 117.4 250 117.1 251 116.9 251.5 116.5 252.5 116.3 253 116 253.5 115.5 254.3 115 255 114.5 255.5 114 256 113.5 256.5 113 256.8 112.5 257.2 111.9 257.5 111 257.9 110.5 258ZM69.5 253.5 68.5 253.6 67.8 253.5 67 253.4 66 253 65.5 252.8 65 252.4 64.4 252 63.9 251.5 63.5 251 63 250.3 62.5 249.5 62.3 249 62 248.2 61.8 247.5 61.6 246.5 61.5 245.7 61.5 245 61.5 244.5 61.7 243.5 62 242.8 62.4 242 62.8 241.5 63.3 241 63.8 240.5 64.5 240 65 239.6 65.5 239.4 66.3 239 67 238.8 68 238.6 69 238.5 70 238.6 71 238.8 71.7 239 72.5 239.4 73 239.6 73.5 240 74.2 240.5 74.7 241 75.1 241.5 75.5 242 76 242.7 76.4 243.5 76.6 244 76.9 245 77 245.5 77.1 246.5 77.1 247.5 77 248.5 76.9 249 76.5 249.9 76.1 250.5 75.7 251 75.1 251.5 74.5 251.9 74 252.2 73.4 252.5 72.5 252.8 72 253 71 253.3 70 253.5 69.5 253.5ZM110.5 256.5 109.5 256.5 109 256.5 108 256 107.5 255.5 107 255 106.7 254.5 106.4 254 106 253 105.8 252.5 105.6 251.5 105.5 250.5 105.5 250 105.5 249.5 105.6 248.5 105.9 247.5 106.1 247 106.5 246.1 106.8 245.5 107.1 245 107.5 244.4 108 243.7 108.5 243.1 109 242.5 109.5 242 110 241.6 110.5 241.3 111 241 112 240.7 113 240.7 113.8 241 114.5 241.5 115 242 115.4 242.5 115.7 243 116 243.7 116.3 244.5 116.5 245.4 116.6 246 116.6 247 116.6 248 116.5 248.7 116.4 249.5 116.1 250.5 115.9 251 115.5 252 115.3 252.5 115 253 114.5 253.7 114 254.4 113.5 254.9 113 255.3 112.5 255.7 111.9 256 111 256.4 110.5 256.5ZM71.5 251.6 70.5 251.8 69.5 252 68.5 252 67.5 251.8 66.6 251.5 66 251.2 65.5 250.8 65 250.4 64.5 249.8 64 249 63.7 248.5 63.5 247.8 63.3 247 63.1 246 63.2 245 63.4 244 63.6 243.5 64 242.9 64.5 242.2 65 241.7 65.5 241.3 66 241 67 240.5 67.5 240.3 68.5 240.1 69.5 240.1 70.5 240.3 71.2 240.5 72 240.9 72.5 241.2 73 241.6 73.5 242 74 242.6 74.5 243.4 74.8 244 75 244.5 75.3 245.5 75.4 246.5 75.3 247.5 75 248.5 74.8 249 74.5 249.5 74 250.1 73.5 250.5 72.7 251 72 251.4 71.5 251.6ZM110.5 255 109.8 255 109 254.8 108.5 254.5 108 254 107.5 253.3 107.1 252.5 106.9 252 106.7 251 106.6 250 106.6 249 106.9 248 107 247.5 107.4 246.5 107.7 246 108 245.5 108.5 244.8 109 244.3 109.5 243.8 110 243.3 110.5 243 111.5 242.6 112 242.5 112.5 242.5 113.5 242.9 114 243.3 114.5 243.9 114.8 244.5 115.1 245 115.3 246 115.5 247 115.4 248 115.3 249 115.1 250 114.9 250.5 114.5 251.5 114.3 252 114 252.5 113.5 253.2 113 253.7 112.5 254.2 112 254.5 111 254.9 110.5 255ZM71 250 70 250.3 69 250.4 68 250.3 67.2 250 66.5 249.6 66 249.1 65.5 248.5 65.2 248 65 247.4 64.8 246.5 64.8 245.5 65 244.7 65.3 244 65.6 243.5 66.1 243 66.7 242.5 67.5 242 68 241.9 69 241.7 70 241.8 70.7 242 71.5 242.4 72 242.8 72.5 243.3 73 244 73.3 244.5 73.5 245.3 73.6 246 73.5 247 73.4 247.5 73 248.4 72.5 249 72 249.5 71.5 249.8 71 250ZM111.5 253.2 110.5 253.5 109.5 253.3 109 253 108.5 252.4 108 251.5 107.9 251 107.7 250 107.7 249 108 248 108.1 247.5 108.5 246.8 109 246 109.4 245.5 109.9 245 110.5 244.6 111 244.3 112 244.2 112.8 244.5 113.4 245 113.7 245.5 114 246.1 114.2 247 114.3 248 114.2 249 114 249.8 113.8 250.5 113.5 251.1 113 251.9 112.5 252.5 112 252.9 111.5 253.2ZM69 249 68.5 249 67.5 248.5 67 248.1 66.5 247.5 66.3 247 66.2 246 66.4 245 66.6 244.5 67.1 244 67.7 243.5 68.5 243.2 69.5 243.1 70.5 243.5 71 243.8 71.5 244.3 71.9 245 72 245.5 72.1 246.5 72 247 71.5 247.9 71 248.4 70.5 248.7 69.5 249 69 249ZM110.5 252.1 110 251.9 109.4 251.5 109 250.9 108.8 250 108.7 249 109 248 109.2 247.5 109.5 246.9 110 246.3 110.5 245.9 111.5 245.6 112.5 246 112.9 246.5 113.1 247 113.3 248 113.2 249 113 249.6 112.6 250.5 112.3 251 111.8 251.5 111 252 110.5 252.1Z" fill="none" stroke="#262626" stroke-width="0.6"/>
<ellipse cx="68" cy="245.5" rx="2.6" ry="2.6" fill="#fff" fill-opacity="0.7" transform="rotate(0 68 245.5)"/>
<ellipse cx="111" cy="250" rx="1.3" ry="3.5" fill="#fff" fill-opacity="0.6" transform="rotate(12 111 250)"/>
</g>
<rect x="96.5" y="214.3" width="54.3" height="58.5" fill="none" stroke="#000" stroke-width="1.5"/>
<text x="126.4" y="228.1" font-size="11" font-weight="bold">23.9</text>
<g clip-path="url(#cp4)">
<path d="M228.5 243.1h0.6M217.8 239.8h0.6M222.3 251.9h0.6M221.2 238.6h0.6M224.4 236.2h0.6M206.5 261h0.6M197.5 245.1h0.6M211.5 242.4h0.6M212.8 253.3h0.6M210.7 240.5h0.6M215.4 232.5h0.6M223.7 238.5h0.6M214.9 250h0.6M207.4 251.1h0.6M213.1 243.9h0.6M229.7 244.5h0.6M226 242.1h0.6M230.2 251.6h0.6M218.1 235h0.6M221 252.6h0.6M216 252.4h0.6M212.6 243.9h0.6M218.6 237.7h0.6M224.8 261.5h0.6M231.5 239.3h0.6M213.1 251.9h0.6M220.2 241.3h0.6M230 236.7h0.6M218 253.5h0.6M222.3 255.3h0.6M224.4 239.4h0.6M222 253h0.6M220.3 233.4h0.6M230.1 246h0.6M226.7 252h0.6M212.7 244.6h0.6M214.1 250.4h0.6M214.2 235.7h0.6M222.9 241h0.6M211.4 258h0.6M213.2 253.7h0.6M217 252.9h0.6M221.2 240.8h0.6M218.9 225.9h0.6M222.1 240.5h0.6M209.4 243.6h0.6M222 242.3h0.6M223.3 253.2h0.6M224.9 239.3h0.6M206.1 258h0.6M205.2 253.6h0.6M221.1 239.3h0.6M215.6 236.6h0.6M227 249.9h0.6M216.8 257.1h0.6M229.2 240h0.6M228.6 255.5h0.6M214.4 231.4h0.6M213.7 259.2h0.6M208.6 253.2h0.6M222.2 237.3h0.6M220.3 237.8h0.6M226.5 249.3h0.6M224.3 240.4h0.6M227.4 248.7h0.6M210.6 240.3h0.6M205.3 242.6h0.6M219.6 248.3h0.6M229.7 244.6h0.6M208.2 235h0.6M227.8 243.2h0.6M214.5 239.3h0.6M214.8 243.1h0.6M223.3 253.5h0.6M205.3 254.5h0.6M208 241.5h0.6M224.1 249.8h0.6M225.9 255.7h0.6M210.7 237.4h0.6M210.6 242.4h0.6M209.9 247.9h0.6M225.8 236.7h0.6M202.6 245.2h0.6M214.5 236h0.6M224.2 259.6h0.6M217.3 235.9h0.6M229.3 243.9h0.6M213.4 242.1h0.6M209.4 248.9h0.6M216 242.1h0.6M224.3 249.9h0.6M219.7 241.3h0.6M201.1 246.8h0.6M210.3 254.4h0.6M202.8 244.9h0.6M218.8 255.4h0.6M218.6 259.5h0.6M218.2 241.4h0.6M205.9 252.5h0.6M221.1 238.5h0.6M229.7 245h0.6M216.7 235.2h0.6M217.5 247.6h0.6M227.1 232.9h0.6M211.2 248.1h0.6M217.2 241.5h0.6M219.3 249.2h0.6M216.6 255h0.6M214.2 242.7h0.6M212.9 241.3h0.6M225.4 251.9h0.6M218.9 239.1h0.6M224.3 244.4h0.6M209 249.9h0.6M214.3 247.2h0.6M207.6 241.2h0.6M213.9 261.6h0.6M213.2 248.8h0.6M216.5 235.5h0.6M220.9 256.8h0.6M208.9 257h0.6M221.2 245.3h0.6M230.6 245.2h0.6M223.3 256.3h0.6M219.9 245.4h0.6M221.7 250.4h0.6M208.2 249h0.6M218.9 256.2h0.6M220.9 253.9h0.6M212.8 244.7h0.6M213.9 257.6h0.6M211 232.6h0.6M218.7 251.4h0.6M216.7 244h0.6M224.6 237.5h0.6M204.3 244.8h0.6M211.3 240.5h0.6M219.5 234h0.6M221.9 236.3h0.6M213.8 261.8h0.6M219.6 233h0.6M208.9 251.4h0.6M207.3 240.4h0.6M220.8 241.4h0.6M218.6 234.1h0.6M216.8 254.8h0.6M210 258.8h0.6M224.3 251.2h0.6M216.4 251.4h0.6M226.6 236.8h0.6M220.1 235.7h0.6M210.2 235.7h0.6M227.8 236h0.6M220.1 240.1h0.6M214.9 253.8h0.6M223.3 254.6h0.6M219.9 240.6h0.6M220.1 247.2h0.6M212.9 256.7h0.6M211.6 258.7h0.6M217 254.4h0.6M222 259h0.6M220.7 235.9h0.6M206.1 241h0.6M222.1 239.3h0.6M209.3 252.8h0.6M205.5 238.3h0.6M205.8 257.4h0.6M203 252.9h0.6M217.8 238.2h0.6M209.6 239.6h0.6M219.6 258.5h0.6M210 234.1h0.6M221.5 237.9h0.6M205.5 247.3h0.6M220.9 245.7h0.6M222 239h0.6M218.6 259.2h0.6M217.3 234.6h0.6M207.6 232.7h0.6M214 241.2h0.6M217.6 253.4h0.6M221.5 249.2h0.6M222.8 259.4h0.6M224.1 242.3h0.6M210 244.2h0.6M209.2 243.5h0.6M227.1 245.1h0.6M206.6 246.2h0.6M208.2 238h0.6M217.6 251.6h0.6M226.9 247.5h0.6M207.5 243.8h0.6M214.9 247.2h0.6M215.9 253.1h0.6M228 250.9h0.6M219.9 257.7h0.6M217.1 253.9h0.6M209.1 249.8h0.6M216.2 235.2h0.6M219.4 247.1h0.6M209 236.7h0.6M216.4 262.5h0.6M212.2 238.8h0.6M207.3 251.5h0.6M231.2 246.8h0.6M217.7 254.8h0.6M204.7 245.4h0.6M211.8 255.8h0.6M207.8 254.7h0.6M208.2 243.6h0.6M205.6 252.3h0.6M206.5 251.4h0.6M211.1 255.3h0.6M210.9 240.5h0.6M215.8 232.3h0.6M215.1 256.4h0.6M216.4 233h0.6M211.8 246.1h0.6M216.8 236.8h0.6M213.7 236.2h0.6M216.9 262.7h0.6M204 244.8h0.6M220.1 257.4h0.6M224.2 250.7h0.6M216.1 239.8h0.6M222.9 240h0.6M212.6 235.7h0.6M210.2 242.1h0.6M217.2 243.3h0.6M211.2 247h0.6M211.6 237.5h0.6M214.4 239.3h0.6M216.3 258.7h0.6M211.5 248.7h0.6M223.4 250.9h0.6M229.4 237.1h0.6M224.6 242.5h0.6M204.6 236.1h0.6M222.4 251.7h0.6M233.6 251.7h0.6M203 252.5h0.6M214.3 239.7h0.6M205.6 245.7h0.6M218.9 250.1h0.6M220.3 252.7h0.6M205.5 247.1h0.6M226.9 240.3h0.6M218.7 255.7h0.6M225.6 235.8h0.6M207 251.5h0.6M209.9 260h0.6M209.5 250.4h0.6M210.2 255.3h0.6M218.9 253.9h0.6M198.6 239.7h0.6M204.8 250.7h0.6M206.4 247.2h0.6M210.1 257.8h0.6M208.4 235.2h0.6M228.5 250.7h0.6M220.2 245.5h0.6M218.4 253.1h0.6M204.2 250.8h0.6M207.1 243.1h0.6M212.4 239h0.6M209.1 247.4h0.6M212.7 238.2h0.6M221.2 258.5h0.6M215.4 252.3h0.6M221.5 248.9h0.6M221.1 239.3h0.6M209.5 240.7h0.6M210.9 240.7h0.6M220.3 259.5h0.6M218.3 239.8h0.6M223.2 252.5h0.6M215 235.9h0.6M224 248.3h0.6M229.6 239.7h0.6M220.9 242.2h0.6M225.5 246.1h0.6M206.6 248.4h0.6M206 238.7h0.6M217 243.3h0.6M222.7 253h0.6M222.7 250.6h0.6M209.9 250.1h0.6M225.5 249.3h0.6M209.2 237.3h0.6M214.2 238.7h0.6M227.2 242.8h0.6M231.1 238.7h0.6M224.7 258.7h0.6M214.5 238.1h0.6M228.6 241.4h0.6M226.6 242.4h0.6M212.7 260.8h0.6M208.1 242.2h0.6M227 248.3h0.6M216.9 254h0.6M224 245.5h0.6M212.1 260h0.6M208.8 230.1h0.6M210.7 238.8h0.6M225.1 239.8h0.6M210.2 257.4h0.6M216.5 262.2h0.6M216 236h0.6M214 235.8h0.6M206.3 243h0.6M225.4 251.6h0.6M217.5 241.5h0.6M210 250.7h0.6M217 256.2h0.6M209.2 235.3h0.6M210 252.3h0.6M216.4 261h0.6M213.5 235.2h0.6M224.7 248h0.6M214.4 234.1h0.6M208.6 252.8h0.6M212 254h0.6M223.7 256.5h0.6M210.2 237.6h0.6M222.9 241.5h0.6M215 235.5h0.6M222.2 236h0.6M224.1 247.3h0.6M217.5 236.5h0.6M224.4 245.7h0.6M223.5 243.7h0.6M210.4 251.2h0.6M214 238.1h0.6M210.9 243.5h0.6M221.2 253.1h0.6M209.2 239.8h0.6M226.1 252.1h0.6M220.1 256.5h0.6M216.9 254h0.6M205.6 246.1h0.6M213 233.4h0.6M219.1 242.3h0.6M230.4 251.2h0.6M226.1 244.9h0.6M223 235.3h0.6M211.2 250.1h0.6M229.8 260.6h0.6M220.2 256.5h0.6M215.4 259.3h0.6M205.9 240h0.6M209.6 240.7h0.6M200.2 250.1h0.6M230.3 248.1h0.6M212.5 236.4h0.6M201.8 255h0.6M227.9 245h0.6M211.7 248.2h0.6M224.8 234.1h0.6M220.8 236.6h0.6M220.8 256.5h0.6M208.2 238.1h0.6M230.1 246.5h0.6M207.7 253.2h0.6M226.8 245.9h0.6M221.2 255.1h0.6M211.5 243.8h0.6M224.9 239.9h0.6M226.7 240.1h0.6M220.4 239.8h0.6M204.8 250.4h0.6M220.2 236.2h0.6M222.4 259.2h0.6M225.2 253.7h0.6M225.7 239.2h0.6M218.7 238.1h0.6M224.2 262.8h0.6M206.7 245.3h0.6M224.6 246.4h0.6M213.8 243h0.6M228.2 241.5h0.6M228.8 240.2h0.6M218.9 251.4h0.6M219 241.2h0.6M221.8 252.8h0.6M211.1 241.3h0.6M210 243.8h0.6M213 236.9h0.6M209.7 241.3h0.6M225.3 234.5h0.6M213.4 238.3h0.6M219 252.1h0.6M222.1 237.6h0.6M216.7 252h0.6M213 259.6h0.6M208.6 241.7h0.6M228 245.2h0.6M222.7 245.1h0.6M214.7 239.4h0.6M226.3 234.8h0.6M231 256.1h0.6M212.5 234.5h0.6M222.5 246.2h0.6M208 256.3h0.6M218.5 253.6h0.6M212.4 233.2h0.6M221.3 245.4h0.6M229.2 241.2h0.6M212.4 245.7h0.6M220.1 237.1h0.6M220.4 239.1h0.6M224 257.6h0.6M209 245h0.6M220.9 239.1h0.6M213 248.2h0.6M219.3 257.2h0.6M217.4 238.4h0.6M224 253.1h0.6M220.7 260.7h0.6M207.3 253.2h0.6M207.6 234.1h0.6M215.6 250.6h0.6M217.6 258.3h0.6M229.3 249.9h0.6M214.3 240.2h0.6M224.9 245.4h0.6M217.2 237h0.6M215.8 259.1h0.6M208.3 260h0.6M224.6 246.5h0.6M215.6 232h0.6M205.6 245.8h0.6M219.8 262.4h0.6M210.7 240.4h0.6M227.2 239.7h0.6M202.9 244.2h0.6M222.7 257.5h0.6M227 245.7h0.6M216.6 239.4h0.6M206.9 234.7h0.6M227.8 239.1h0.6M210.1 246.2h0.6M206.4 243.8h0.6M219.4 249.9h0.6M231.2 245.4h0.6M231.6 242.3h0.6M219.7 247.9h0.6M224 255.4h0.6M227.1 250.3h0.6M227.9 250.1h0.6M226.7 231.9h0.6M216.9 254.6h0.6M224.9 248.9h0.6M223.9 243.3h0.6M217.6 258.7h0.6M223.3 244.8h0.6M216.3 244.2h0.6M227.2 249.2h0.6M200.5 253h0.6M221.9 251.1h0.6M221.3 253.8h0.6M224.8 251.3h0.6M221.1 240.5h0.6M214.9 249.6h0.6M202.9 248.4h0.6M214 257.6h0.6M209.4 254.9h0.6M223.3 244.9h0.6M219.4 254.6h0.6M204.5 240.1h0.6M211.2 232.9h0.6M227.7 243.1h0.6M214.2 247.2h0.6M207.7 249.7h0.6M217.2 257.5h0.6M218.3 236.8h0.6M222.2 252.6h0.6M224.6 247.9h0.6M228.6 252.1h0.6M214.7 236.8h0.6M215.9 236.4h0.6M220.4 237.5h0.6M216 241.1h0.6M220.2 247.4h0.6M216.9 259.7h0.6M201.9 249.3h0.6M227.5 264.6h0.6M210.4 241.3h0.6M213.9 238.1h0.6M204 240.8h0.6M207.5 243.8h0.6M223.5 250.9h0.6M226.6 254.1h0.6M227 240.4h0.6M213.3 251.8h0.6M215.7 240.5h0.6M212.3 244.2h0.6M215.8 246.9h0.6M223.2 247.8h0.6M229.1 245.2h0.6M210.7 251.3h0.6M221.2 247.9h0.6M224.2 247.6h0.6M219.2 233.3h0.6M212.6 254.4h0.6M220 240.9h0.6M214.2 255.8h0.6M210.4 245.9h0.6M211.3 253.1h0.6M223.9 239.1h0.6M216.9 246.5h0.6M217 254.9h0.6M215.2 253.5h0.6M213 249.9h0.6M217.4 250.9h0.6M207.5 249.2h0.6M206 239.5h0.6M212.7 254.3h0.6M227.4 251.2h0.6M228.3 231.6h0.6M205.1 248.8h0.6M226.8 249.5h0.6M220.3 246.6h0.6M215.4 256.2h0.6M221.1 256.6h0.6M210.8 236h0.6M214.2 250.9h0.6M224.5 248.9h0.6M225 254.2h0.6M219.7 237.2h0.6M214.3 254.8h0.6M221.6 237.6h0.6M214.2 259.8h0.6M214.3 240.8h0.6M210.8 242.1h0.6M219.6 253.9h0.6M224.9 243.8h0.6M221.2 253.5h0.6M226.2 238h0.6M211.3 253.5h0.6M217 256.2h0.6M211.2 250.2h0.6M211.5 244.6h0.6M216.7 239.8h0.6M218.6 238.5h0.6M206.5 251.2h0.6M219.2 256.6h0.6M209.7 253.3h0.6M211 248.1h0.6M206.2 250.3h0.6M211.8 245.9h0.6M219.1 254.8h0.6M230 242.8h0.6M208.2 254.9h0.6M209.4 242.1h0.6M214.7 240.6h0.6M206.3 239.9h0.6M213.2 243.5h0.6M208.7 241h0.6M220.7 233.4h0.6M210.8 256.9h0.6M227.5 241.4h0.6M228.5 246.8h0.6M214 236h0.6M220.4 260.5h0.6M209.7 246h0.6M216.1 242h0.6M214.2 251.8h0.6M218.7 239.9h0.6M211.4 254.7h0.6M223.3 257.3h0.6M210.9 254.4h0.6M225.4 247.9h0.6M223.3 252.3h0.6M218.1 244.8h0.6M217.8 251.7h0.6M224.9 244.2h0.6M209.1 242.8h0.6M211.4 252.2h0.6M224.9 245.1h0.6M212.2 258.2h0.6M215.6 254.5h0.6M210.9 241.6h0.6M219.8 250.5h0.6M214.2 235.1h0.6M220.7 253.4h0.6M208.4 239.9h0.6M204.4 243.2h0.6M214.6 245.1h0.6M206.6 242.8h0.6M218.9 238.7h0.6M221.2 246.1h0.6M214.7 257.9h0.6M205.3 253.3h0.6M207.9 243.9h0.6M219.2 253.9h0.6M211 248.1h0.6M218 239.2h0.6M223.1 252h0.6M218.4 257.7h0.6M217.6 239h0.6M218.2 237.5h0.6M209.9 240.3h0.6M210.1 243.7h0.6M224.6 251.4h0.6M205.1 241.5h0.6M218.9 244.1h0.6M213 237.7h0.6M212.4 233h0.6M208.1 232.5h0.6M224.2 239.1h0.6M229.1 244.9h0.6M222.4 245.5h0.6M223.7 256.2h0.6M207.3 247.2h0.6M209.3 248.1h0.6M201.6 245h0.6M216.8 239.5h0.6M228.7 247.2h0.6M225.2 253h0.6M211.9 246.9h0.6M217.8 242.3h0.6M211.5 259.8h0.6M221.2 256.2h0.6M215.2 247.2h0.6M206 244.1h0.6M226.3 244.7h0.6M232.8 241.5h0.6M225.1 240.9h0.6M215.5 238.2h0.6M207.2 240.9h0.6M209.6 243.1h0.6M218.2 237.5h0.6M221 238.7h0.6M217 258.3h0.6M213.3 238h0.6M225 242.9h0.6M212.1 254.7h0.6M221.4 239.1h0.6M212.2 236.2h0.6M229.4 248.3h0.6M228.2 247.2h0.6M221.1 254.8h0.6M216.8 246.5h0.6M211.1 257.5h0.6M218.8 249.9h0.6M216.9 256.3h0.6M219.7 252.3h0.6M221 240.5h0.6M222.8 254.4h0.6M212.3 259.5h0.6M224.9 239.4h0.6M213.5 250.4h0.6M214.8 252.1h0.6M205.9 253.3h0.6M210.2 237.4h0.6M212.9 239h0.6M224.9 235.4h0.6M208.2 241.4h0.6M224.6 253.1h0.6M224.3 242h0.6M217.2 249.8h0.6M210.7 234h0.6M206 245.5h0.6M224.8 251.9h0.6M216 256.4h0.6M208.1 250.6h0.6M221.8 252.6h0.6M223.4 241.6h0.6M218.1 258h0.6M210.9 239.5h0.6M210.2 238.8h0.6M220 236.9h0.6M208.5 247.1h0.6M222.9 245.2h0.6M228.9 255.7h0.6M213 250h0.6M210.6 249.7h0.6M213.5 242.6h0.6M227.8 248.5h0.6M230.2 239.3h0.6M226 233.9h0.6M211.4 246.3h0.6M209.7 242.6h0.6M212 251.6h0.6M218.4 236.8h0.6M212.2 241.1h0.6M222.7 246.9h0.6M229.5 243.1h0.6M213.8 250h0.6M225.8 236.6h0.6M216.7 239.2h0.6M208.7 239.8h0.6M209.3 252.2h0.6M210.8 234h0.6M207.4 252.9h0.6M209.8 243.5h0.6M222.7 247.4h0.6M232.1 245.1h0.6M205.1 248.8h0.6M207.3 253.5h0.6M219.9 252.4h0.6M207.2 241.1h0.6M225.6 248.3h0.6M221.8 240h0.6M204.9 244.2h0.6M228.5 239.1h0.6M215.6 251.7h0.6M226.4 254.9h0.6M210.6 252.4h0.6M227.4 249.8h0.6M209.3 240.7h0.6M231.1 245.6h0.6M216.1 255h0.6M229.6 233.9h0.6M226.1 257.1h0.6M207.4 248.8h0.6M212.4 243.2h0.6M230.3 248.9h0.6M228.9 239.3h0.6M218.3 246.9h0.6M227.3 251.9h0.6M228.1 245.1h0.6M222.5 231.4h0.6M226.3 233.8h0.6M213.9 242h0.6M211.1 237.5h0.6M219.7 256.7h0.6M203.6 244.4h0.6M218.4 243.9h0.6M208.3 246h0.6M225.7 248.6h0.6M217.1 247.2h0.6M228.5 249.3h0.6M209.7 239.9h0.6M207.4 240.2h0.6M220.7 234.7h0.6M213.8 238.7h0.6M210.6 249h0.6M209.2 251.6h0.6M216.3 235.9h0.6M222.2 239.8h0.6M211.2 242h0.6M213.3 243.7h0.6M216.5 238.8h0.6M227.8 235.4h0.6M231.6 252.2h0.6M226 238.7h0.6M215.9 257.3h0.6M211.9 242h0.6M223.4 246.3h0.6M219.8 240.1h0.6M219.3 251.9h0.6M225.2 245.9h0.6M215.1 256.7h0.6M213.6 251.9h0.6M222.3 256.5h0.6M206.9 244.3h0.6M227.3 243.3h0.6M229.6 240.1h0.6M228.3 242.8h0.6M220.8 243.6h0.6M209.8 239.2h0.6M224.1 249.7h0.6M225.4 248.8h0.6M213.9 253.3h0.6M213.3 245.9h0.6M207.9 256.7h0.6M210.7 242.5h0.6M200.4 250h0.6M202.9 240.8h0.6M221.5 241.2h0.6M213.5 246.2h0.6M225.9 253.9h0.6M224.6 240.5h0.6M202.7 237.5h0.6M219.3 235.5h0.6M223.8 254.7h0.6M221.7 241.5h0.6M224.9 238.9h0.6M212.7 243.4h0.6M223 248.2h0.6M215.8 258.4h0.6M213.3 251.2h0.6M212.5 234.4h0.6M209.9 233.3h0.6M208.9 252.5h0.6M223.9 251.3h0.6M223 259.2h0.6M205.5 251.5h0.6M221.3 254.6h0.6M207.8 238.2h0.6M229.7 244.4h0.6M210.4 249.2h0.6M217.6 249.9h0.6M224.1 253h0.6M206.6 234.3h0.6M219.9 262.9h0.6M219.9 253.1h0.6M222.8 233.9h0.6M216.3 262h0.6M218.8 254.3h0.6M223.6 246.7h0.6M215.4 236.3h0.6M204.1 251.1h0.6M211.5 251.6h0.6M224.3 262.7h0.6M221.1 239.2h0.6M211.6 249.4h0.6M221.7 234.5h0.6M207.3 248.7h0.6M210.5 259.1h0.6M217.5 240.6h0.6M212.4 253.4h0.6M208.1 242.4h0.6M210.4 252.2h0.6M222.2 238.6h0.6M209.7 248h0.6M225.7 241h0.6M212.3 234h0.6M214 257.7h0.6M213.9 251.3h0.6M223 238.4h0.6M210.9 254.2h0.6M211.9 255.7h0.6M221.2 235.6h0.6M226.7 253.9h0.6M208.8 246.5h0.6M215.5 240.1h0.6M208.6 254.8h0.6M223.5 241h0.6M216.1 236.6h0.6M218.8 255.8h0.6M211.5 245.6h0.6M226.5 248.1h0.6M218.7 241.4h0.6M224.5 241.6h0.6M219.7 236.9h0.6M224.3 244.2h0.6M213.5 241.5h0.6M217.6 251h0.6M214.8 257.1h0.6M211.3 249.9h0.6M233.2 251.7h0.6M219.9 248.4h0.6M223.9 252.6h0.6M214.6 258.6h0.6M220.9 250.2h0.6M209.2 247.9h0.6M215.1 241.6h0.6M217.3 254.7h0.6M225.1 248.9h0.6M215.5 231h0.6M210.9 247.7h0.6M227.4 251.8h0.6M205.3 235h0.6M224.7 244.2h0.6M215.7 253h0.6M206.5 259.9h0.6M214.7 254.8h0.6M218.1 228.2h0.6M216.8 257h0.6M206.2 247.1h0.6M226.6 237.4h0.6M220 233.7h0.6M219.9 241.9h0.6M211 241.2h0.6M212.5 241.3h0.6M228.4 249h0.6M212.9 249.9h0.6M227.2 235.7h0.6M219.2 234.7h0.6M207.7 241.2h0.6M209.3 245h0.6M208.8 237.7h0.6M213.7 240.4h0.6M219.1 264.5h0.6M209.7 235.7h0.6M221 248.7h0.6M215.9 258.5h0.6M227.1 256.8h0.6M207.6 251.2h0.6M211.1 229.3h0.6M209.3 247.1h0.6M205 240.9h0.6M209.5 248.1h0.6M224.8 253.9h0.6M209.1 236.2h0.6M217.6 255.2h0.6M212.3 251.6h0.6M228.1 239.6h0.6M218.8 259.7h0.6M224.5 253.7h0.6M226.7 236h0.6M215.1 242.9h0.6M219.3 249.9h0.6M209.9 258.6h0.6M225.6 244.8h0.6M219 257h0.6M204.9 249.5h0.6M219.3 239.9h0.6M217.4 250.5h0.6M223.4 234.4h0.6M214.3 234.8h0.6M226.3 253h0.6M223.3 239.4h0.6M215.9 238h0.6M221.7 252.8h0.6M207.6 245.2h0.6M217.3 230.6h0.6M214.2 238.1h0.6M226.4 250.3h0.6M225.2 248.3h0.6M202.1 241.9h0.6M227.4 236.1h0.6M213.3 241h0.6M209.7 240.5h0.6M213.1 242.6h0.6M206.6 248.5h0.6M224.1 246.5h0.6M225.3 239h0.6M219.8 232.6h0.6M223.4 249.5h0.6M211.1 243.2h0.6M218.6 236.4h0.6M226.4 240.4h0.6M226.6 239.7h0.6M204.9 246.1h0.6M205 247.4h0.6M216.3 255.2h0.6M208.5 240.3h0.6M225.8 239.9h0.6M210.2 236.9h0.6M213.1 234.8h0.6M215.8 253.2h0.6M221.6 242.3h0.6M208.2 241.7h0.6M222 253.6h0.6M224.8 241.2h0.6M206.4 245.9h0.6M214.3 253.6h0.6M203.8 244.1h0.6M213 233.4h0.6M216.6 246.8h0.6M210 241.9h0.6M217.4 264.8h0.6M222.1 245.4h0.6M218.6 231.2h0.6M220.7 244.6h0.6M219.1 254.2h0.6M221.3 239.4h0.6M206.5 254.8h0.6M216.4 257h0.6M220.4 251.8h0.6M210.3 255.5h0.6M216.3 257.1h0.6M214.7 247.5h0.6M221.5 240.2h0.6M216.2 256.2h0.6M216.1 250.9h0.6M224.5 249.4h0.6M212 242.5h0.6M211.5 247h0.6M228.1 240.8h0.6M222.5 232.2h0.6M220.6 236.5h0.6M215.3 239.9h0.6M206 251.1h0.6M230.2 250.8h0.6M208.6 253.5h0.6M229.2 254.4h0.6M202.5 239.2h0.6M211.5 250.1h0.6M207.1 238.1h0.6M202.6 244.1h0.6M212.2 232.4h0.6M219.9 257.5h0.6M229.7 248.7h0.6M232.2 249h0.6M222.8 251.9h0.6M213.1 235.2h0.6M209.9 236.9h0.6M208.6 253.2h0.6M214.2 251.1h0.6M215.5 238.9h0.6M221.3 239.4h0.6M223.3 240.7h0.6M213.8 235.7h0.6M211.6 246.5h0.6M218.7 250.3h0.6M211.9 244.5h0.6M221.5 253.5h0.6M221.9 251.8h0.6M209.7 236.2h0.6M228.2 251.2h0.6M219.6 251.8h0.6M221.2 234.2h0.6M217.2 238.3h0.6M219 242.3h0.6M226.1 247.8h0.6M207.1 244.5h0.6M216.8 234.9h0.6M223.1 251.3h0.6M218.3 241h0.6M210.4 245.4h0.6M203 240.5h0.6M219.4 238h0.6M211.1 240.6h0.6M210 253.6h0.6M225.1 256.4h0.6M208.3 238.5h0.6M209.6 236.7h0.6M223.4 247.5h0.6M224.3 250.8h0.6M231.8 247.4h0.6M212.2 242.8h0.6M223.1 252.6h0.6M219.4 238.1h0.6M218.1 232.9h0.6M214 264.2h0.6M223.6 260.6h0.6M215.5 239.2h0.6M206.2 241.7h0.6M208.5 238.6h0.6M211.5 242.6h0.6M219.7 237.8h0.6M225.9 241.9h0.6M229.7 242.5h0.6M218.3 262.8h0.6M213.1 240.4h0.6M219.4 255.8h0.6M223.3 255h0.6M214.5 238.6h0.6M214.1 245h0.6M215.1 249.5h0.6M226 252.4h0.6M211 244.8h0.6M223.2 258.6h0.6M230 241h0.6M211.8 236.6h0.6M225.9 253.3h0.6M208 250.6h0.6M220.8 235.1h0.6M225.2 249.2h0.6M225.4 246.1h0.6M211.2 264.7h0.6M207.2 251.1h0.6M218.5 253.3h0.6M208.3 252.5h0.6M213.7 250h0.6M224.1 240.7h0.6M216.2 255.5h0.6M209.7 249.4h0.6M205.5 258.3h0.6M221.4 255h0.6M226.6 245.4h0.6M227.8 245.8h0.6M216.1 250.5h0.6M212.4 246.6h0.6M208.7 240.2h0.6M215.1 258.9h0.6M213.3 231.3h0.6M217.8 234.5h0.6M209.9 241.5h0.6M214.6 236.6h0.6M214.3 250.6h0.6M223.2 253.2h0.6M213.6 241.1h0.6M210.5 238.7h0.6M210.5 238.6h0.6M225.1 246h0.6M216.7 233.1h0.6M229.2 244.1h0.6M211.7 229.1h0.6M218.1 241h0.6M224 248.3h0.6M218.2 262.4h0.6M210 257.8h0.6M213.4 243.4h0.6M218.9 240.2h0.6M212.4 242.7h0.6M211.3 241.9h0.6M223 236.1h0.6M227.2 246.8h0.6M220.6 232.4h0.6M223.2 250.2h0.6M211.1 235.3h0.6M224 245.3h0.6M215.6 234.4h0.6M215.7 230.1h0.6M223.3 252h0.6M205.3 234.3h0.6M218.9 254h0.6M218.7 252.6h0.6M218.6 239.4h0.6M213.5 242.9h0.6M213.5 236.4h0.6M212.8 240h0.6M212.7 253h0.6M217.8 256.3h0.6M209.3 239.4h0.6M215.8 236.8h0.6M220.7 247.8h0.6M211.6 253.7h0.6M212.8 238.7h0.6M209.6 245.3h0.6M221 244.3h0.6M227.5 237.6h0.6M218.8 239.1h0.6M223.9 238.6h0.6M228.4 249.1h0.6M221.4 251.5h0.6M220.8 243.2h0.6M224.3 241.2h0.6M222.5 239.4h0.6M225.5 251.2h0.6M217.1 256.1h0.6M205.4 245.2h0.6M225.1 246.3h0.6M218.9 252.2h0.6M223.7 240.3h0.6M214.3 256.1h0.6M227 249h0.6M221.5 253.6h0.6M211.2 250.7h0.6M209.7 255.7h0.6M214.8 241h0.6M223.1 242.7h0.6M204 245.7h0.6M214.6 257.3h0.6M210.5 249.5h0.6M224.6 251.8h0.6M220.4 236.4h0.6M225.6 247.5h0.6M221.8 240.4h0.6M210.1 248.4h0.6M221.3 240.4h0.6M225.8 244.2h0.6M221.8 255.5h0.6M221.3 258.3h0.6M224 255h0.6M215.8 237.4h0.6M213.5 266.1h0.6M216.9 261.1h0.6M207.4 247.1h0.6M220.5 241.4h0.6M215.2 251.3h0.6M227.1 256.8h0.6M231 252.3h0.6M232.9 243.3h0.6M215.2 236.6h0.6M229.4 253.1h0.6M224.3 251.8h0.6M232.7 245.1h0.6M210.3 258.5h0.6M214.6 249.2h0.6M206.8 252.5h0.6M203.4 252.7h0.6M211.4 248.3h0.6M221.8 242.4h0.6M206.7 251.3h0.6M215 241.7h0.6M231.4 239.1h0.6M231.9 246.5h0.6M211 257h0.6M219.2 249.7h0.6M204.6 247.8h0.6M222.3 244.7h0.6M211.5 243.9h0.6M223 250.9h0.6M217.7 258.2h0.6M206.7 247.2h0.6M228 239.1h0.6M232.4 251.3h0.6M212.2 250.3h0.6M207.7 242.4h0.6M204 240.5h0.6M229.1 246.1h0.6M230.1 248.3h0.6M216.6 240.8h0.6M213.3 258.9h0.6M207.7 246.3h0.6M205.7 245.3h0.6M224.2 255.1h0.6M211.5 238h0.6M211.1 261.6h0.6M221.6 242.8h0.6M216.4 254.8h0.6M222.4 240.8h0.6M220.2 250h0.6M205.5 247.9h0.6M225.2 252.5h0.6M213.3 232.7h0.6M216.9 252.8h0.6M229.1 249.4h0.6M222.5 247h0.6M217 246.5h0.6M207.6 245.5h0.6M210 231.9h0.6M208.8 244.8h0.6M224.2 241.4h0.6M227.5 243.7h0.6M227 253.6h0.6M212.4 250.2h0.6M207.8 243.2h0.6M207.9 248.6h0.6M209.2 256.1h0.6M208.2 244.1h0.6M212.8 235.7h0.6M205.9 252.4h0.6M207 246.6h0.6M208 240.4h0.6M214.7 237.9h0.6M212.4 252.5h0.6M228.4 245.1h0.6M211.7 257.2h0.6M209.3 246.5h0.6M214.4 254.7h0.6M211.9 243h0.6M230.8 248.4h0.6M222.7 250.7h0.6M212.8 236.7h0.6M221.7 236.4h0.6M234.3 246.5h0.6M226.7 255.8h0.6M218.8 237.1h0.6M205.4 237h0.6M218.4 240.1h0.6M225 248.4h0.6M222.8 235.6h0.6M220 235.6h0.6M208.9 241h0.6M219.2 240.7h0.6M213.2 255.9h0.6M206.8 256.9h0.6M223.1 247.7h0.6M232.6 254.5h0.6M205 250.7h0.6M211.3 248.4h0.6M211 239.7h0.6M219.3 253.6h0.6M225.3 248.8h0.6M203.5 252.7h0.6M204.2 246.3h0.6M210.8 247.4h0.6M203.2 244.5h0.6M223.3 244.9h0.6M216.7 235.2h0.6M218.4 239h0.6M207.3 240.2h0.6M221.2 247.8h0.6M225.5 254.1h0.6M224.9 251.6h0.6M226.2 245.4h0.6M231 241h0.6M220.4 235.4h0.6M213.2 255.6h0.6M207 248.5h0.6M207.2 243.8h0.6M213 247.2h0.6M208.9 251.3h0.6M219.7 246.4h0.6M202.9 256.3h0.6M223.8 253.2h0.6M225.7 253.4h0.6M224.3 257h0.6M213.4 248.5h0.6M213.9 236.5h0.6M224.6 248.2h0.6M226.2 233.4h0.6M215.7 237h0.6M230.5 245.3h0.6M210.5 237.3h0.6M203.6 242.1h0.6M216.6 233.9h0.6M205.3 246.8h0.6M209.5 240.8h0.6M207.5 255.4h0.6M213.8 237.2h0.6M226.9 236h0.6M226.2 254h0.6M209.9 235.1h0.6M225.1 252h0.6M225.9 237.2h0.6M212.9 251.2h0.6M218.7 242.5h0.6M227.8 239.2h0.6M202 242.2h0.6M202.4 241.7h0.6M213.4 235.9h0.6M216.8 240.8h0.6M214.9 253.9h0.6M217.2 230.9h0.6M207.2 247.6h0.6M208.5 246.6h0.6M211.3 249.8h0.6M208.6 253.6h0.6M212.5 239.8h0.6M213 247.4h0.6M222.9 236.9h0.6M198.4 247.1h0.6M213.8 250.8h0.6M219.8 244.7h0.6M220.6 257.3h0.6M217.4 245.8h0.6M210.6 253.9h0.6M205.5 244.2h0.6M212.7 247.7h0.6M235.2 257h0.6M214.4 248.2h0.6M219.7 242.7h0.6M213.5 249.6h0.6M225.1 241.1h0.6M221.2 254.4h0.6M217.3 246.6h0.6M214.3 236.2h0.6M246.5 245.1h0.6M206.7 241.8h0.6M209 232.4h0.6M221.7 246h0.6M221.7 257.6h0.6M230.8 248.8h0.6M215.8 252.5h0.6M227.4 248.1h0.6M204.9 250.4h0.6M214.3 250h0.6M207.6 247.9h0.6M204.2 233.7h0.6M223 245.1h0.6M224.2 254.1h0.6M229.3 236h0.6M215 234.3h0.6M226.7 246.1h0.6M214.9 251.3h0.6M218.3 233.5h0.6M214.2 241.6h0.6M221.9 238.8h0.6M227.1 245.4h0.6M218.5 254.5h0.6M229.5 232.6h0.6M222.4 246.9h0.6M210.3 242.8h0.6M205.8 260.5h0.6M214.2 250.1h0.6M218.4 249.3h0.6M224.9 241.4h0.6M205.8 239.9h0.6M226.5 251.7h0.6M219.9 263.7h0.6M214.3 244h0.6M220.2 249h0.6M215.3 238h0.6M214 252.8h0.6M223.5 237.9h0.6M226 255.8h0.6M222.7 253h0.6M228.4 248h0.6M219.8 246.8h0.6M210.8 239.2h0.6M212.7 245.3h0.6M215.5 261.2h0.6M217.2 231.3h0.6M218.2 252.6h0.6M218.6 241.1h0.6M225.2 243.6h0.6M224.5 247.3h0.6M223.9 238.5h0.6M207.6 243.4h0.6M212.6 249.6h0.6M211.2 259.9h0.6M217.6 251.3h0.6M217.4 251.8h0.6M225.9 246.1h0.6M213 251.3h0.6M206.4 253.5h0.6M213.6 260.5h0.6M224.7 255.9h0.6M221.4 242.6h0.6M209.5 270.2h0.6M235.4 244.9h0.6M211.1 239.4h0.6M215.7 244.1h0.6M218.3 249.1h0.6M224 255.1h0.6M211.5 243.9h0.6M219 238.5h0.6M220.9 256h0.6M223.5 245.2h0.6M204 253.5h0.6M212.3 252.4h0.6M210.6 245.5h0.6M207.7 242.9h0.6M210.6 232.9h0.6M214.4 242.8h0.6M222.9 251.6h0.6M220.7 243.5h0.6M210.9 242.3h0.6M213.2 235.2h0.6M213.3 260.2h0.6M213.6 240.9h0.6M214.9 245.6h0.6M215.1 254.8h0.6M220.8 232.3h0.6M208.4 260.4h0.6M223.5 244.3h0.6M222.3 246.6h0.6M209 247h0.6M220.1 249.8h0.6M219.6 226.1h0.6M213.8 254.7h0.6M237.6 254.9h0.6M220.3 251.6h0.6M221.2 235.1h0.6M216.5 249h0.6M233.7 237.3h0.6M203.1 252.8h0.6M214.4 234.2h0.6M215.7 252.5h0.6M228.9 253.8h0.6M210.2 246h0.6M214.1 235.6h0.6M199 250.5h0.6M207.1 248.1h0.6M223.3 267.1h0.6M219.1 247.8h0.6M218.6 247.8h0.6M225.1 234h0.6M225.9 247.2h0.6M206.1 238.7h0.6M230.6 236.6h0.6M223.5 246.6h0.6M215 256.5h0.6M217.6 241h0.6M206.7 241.9h0.6M210.8 243.1h0.6M219.3 240.1h0.6M216 228.6h0.6M212.8 248.6h0.6M210.1 254.4h0.6M217 247.5h0.6M212 251.5h0.6M211.6 241h0.6M219.3 253.8h0.6M211.5 236.3h0.6M225.1 246h0.6M212.1 239.1h0.6M205.6 258.7h0.6M226 239.5h0.6M224.9 240.1h0.6M206.6 256.9h0.6M196.7 250h0.6M215.7 244.9h0.6M193.2 254.9h0.6M227.5 269h0.6M208.4 229.6h0.6M200.5 254.5h0.6M226.9 252.6h0.6M222.9 254.7h0.6M235 221.5h0.6M215.5 232.8h0.6M241.5 265.4h0.6M200.4 272.8h0.6M215 277.6h0.6M208.1 236.4h0.6M193.7 260.9h0.6M217.4 258.2h0.6M219 244.8h0.6M220.4 238.8h0.6M215.6 232.8h0.6M227.2 216.1h0.6M226.4 233.5h0.6M204.8 263.8h0.6M211.3 258.4h0.6M232.6 259.6h0.6M213.7 236h0.6M227.8 228.9h0.6M209.9 233.6h0.6M221.1 248.8h0.6M232.8 278h0.6M239.8 255h0.6M230.1 239h0.6M227.4 233.8h0.6M234.1 239h0.6M244.3 216.9h0.6M207.5 263.6h0.6M261.3 237.8h0.6M221.5 236.8h0.6M233.6 228.5h0.6M207.4 231.4h0.6M199.9 249.4h0.6M193.3 224.1h0.6M218.9 238.2h0.6M222.8 268.4h0.6M238.6 225.1h0.6M226.2 238h0.6M214.1 248.1h0.6M240.9 229.7h0.6M224 252.7h0.6M218 241.5h0.6M210.8 266.9h0.6M197.9 245.1h0.6M239.5 259.1h0.6M220.6 260.8h0.6M194.7 263.4h0.6M220.9 251.8h0.6M233.9 235h0.6M237.7 248.5h0.6M204.5 244.2h0.6M220.5 236.9h0.6M234.4 232.7h0.6M212.5 249.4h0.6M216.4 254.1h0.6M218.6 232.3h0.6M203.9 249.2h0.6M208.4 228.5h0.6M226.4 223.9h0.6M237.2 257.8h0.6M211.3 234.6h0.6M217.1 248.1h0.6M214.6 257.6h0.6M211 227.6h0.6M203 250.1h0.6M217.2 262.8h0.6M205.6 248.6h0.6M258.1 238.7h0.6M236.2 242.7h0.6M256.9 253.4h0.6M226.1 243.4h0.6M217.2 239.7h0.6M228 250.1h0.6M224.9 274.3h0.6M236.7 232.6h0.6M212.9 238.8h0.6M239.2 274.9h0.6M231.6 239.6h0.6M209.9 242.1h0.6M198.1 250.9h0.6M210 237.8h0.6M211.8 226h0.6M198.7 264.1h0.6M221.8 244h0.6M239.8 254h0.6M228.9 242.1h0.6M221.7 248.9h0.6M199.9 264h0.6M202.2 244.5h0.6M211.6 223.2h0.6M220.4 238.8h0.6M204.6 255.1h0.6M216.2 238.2h0.6M230.8 250.7h0.6M227.3 245.8h0.6M203.6 243.6h0.6M206.9 260.3h0.6M203.4 267.1h0.6M213.1 246h0.6M238.7 262.2h0.6M230.8 300.6h0.6M226.1 228.9h0.6M221.2 261.4h0.6M225.9 248.7h0.6M217.9 265.6h0.6M230.1 228h0.6M217.6 242.3h0.6M210.8 246.8h0.6M247.5 229.1h0.6M214.8 264.2h0.6M220.5 231.2h0.6M222.4 288.9h0.6M231.6 239.3h0.6M205.2 249.9h0.6M213.9 272.4h0.6M208.7 227.2h0.6M213.2 245.9h0.6M220.6 233.7h0.6M213.1 263.3h0.6M207.9 236.9h0.6M213.1 256.2h0.6M230.6 237.6h0.6M215.3 239.3h0.6M237.2 229.3h0.6M208.2 235.5h0.6M193.5 251.1h0.6M221.4 273.2h0.6M233 227.6h0.6M234.5 225.9h0.6M209.9 247.4h0.6M241.1 242.9h0.6M200.2 241.6h0.6M226.2 221.2h0.6M254.1 215h0.6M209.3 248.7h0.6M216.9 246.8h0.6M206.7 238.9h0.6M204.3 251.3h0.6M211 271.9h0.6M245.9 246.7h0.6M219.5 236.4h0.6M223.2 259.8h0.6M213.6 250.3h0.6M237.4 215.7h0.6M216.1 252.8h0.6M225.1 244.5h0.6M224.5 233.3h0.6M245.1 226h0.6M211.7 225.3h0.6M214.3 276h0.6M238.7 254h0.6M235.1 238h0.6M229 232.4h0.6M233 273.5h0.6M209.6 239.3h0.6M198.5 243.7h0.6M224.2 232h0.6M217.1 231.9h0.6M212.4 226.6h0.6M205.8 268.6h0.6M206.9 246.1h0.6M216.6 250.8h0.6M217.2 242.4h0.6M217.3 244.7h0.6M217.5 247.1h0.6M207.8 251.1h0.6M220.9 244.7h0.6M226.4 226.2h0.6M210.5 246.9h0.6M224.9 241h0.6M199.9 222.1h0.6M195.8 218.4h0.6M216.2 248.9h0.6M208.1 216.1h0.6M219.8 247.1h0.6M210.8 253.6h0.6M225.7 256.1h0.6M220.8 247h0.6M202.6 278.4h0.6M213.2 263.3h0.6M211.1 235h0.6M211.4 268h0.6M225.8 234.2h0.6M213.5 263.5h0.6M234.2 251.1h0.6M218.5 252.4h0.6M198.2 239.9h0.6M207.4 236.8h0.6M253.3 268.5h0.6M217.1 248.4h0.6M193.6 253h0.6M205.8 241.3h0.6M217.1 227.1h0.6M225 267.9h0.6M221.5 253.2h0.6M196.8 240.9h0.6M241.8 250h0.6M197.9 264.8h0.6M246.7 250.6h0.6M210.5 247h0.6M212.1 232.3h0.6M213.3 246.6h0.6M214 247.4h0.6M197.6 239.5h0.6M214.8 256.6h0.6M225.1 249.4h0.6M213.8 258.4h0.6M197.5 257h0.6M225.4 249.5h0.6M208 241.1h0.6M215.8 224.5h0.6M205.1 260.3h0.6M209.5 227.5h0.6M231 248.2h0.6M206.6 264.7h0.6M233.2 268.9h0.6M219.1 226.5h0.6M223.7 250.6h0.6M219.1 249.4h0.6M210.9 219.7h0.6M215 243.3h0.6M229.9 230.7h0.6M232.6 228.6h0.6M205.7 263.9h0.6M217.6 257.1h0.6M223 244.2h0.6M228.9 239.9h0.6M209.6 254.5h0.6M204.9 228.2h0.6M261.2 255.6h0.6M262.8 262.8h0.6M256.2 264.5h0.6M271.7 234.3h0.6M271.1 248.3h0.6M267.7 257.8h0.6M269.6 261.1h0.6M258.3 251.1h0.6M268.9 256.8h0.6M268.1 253.9h0.6M255.4 251.5h0.6M254.5 252.6h0.6M254.8 265.3h0.6M249.5 241.5h0.6M255.3 257.1h0.6M253.2 254.8h0.6M269.9 248.4h0.6M251.1 246.4h0.6M262.3 222.6h0.6M261.2 248.1h0.6M249 251.5h0.6M269.9 252h0.6M251.4 251.6h0.6M253.9 245.9h0.6M265.3 247.1h0.6M251.1 247.2h0.6M272.1 244h0.6M257.7 258.7h0.6M258.6 256.1h0.6M270.2 244h0.6M254.6 263.6h0.6M252.9 250.5h0.6M257.7 241.6h0.6M258.8 255.3h0.6M268.6 236.6h0.6M257.4 236.6h0.6M272.2 252.3h0.6M270.9 246.6h0.6M260 263.3h0.6M260 232.2h0.6M261.3 245.1h0.6M251.7 252.5h0.6M256.7 255.1h0.6M257.2 244.2h0.6M265.8 260.5h0.6M254.3 260.8h0.6M265.9 235.5h0.6M266.6 230.5h0.6M267.1 250.6h0.6M267.1 235.5h0.6M255.3 257.4h0.6M274.6 242.9h0.6M259.6 240.4h0.6M262 236.4h0.6M267.3 235.1h0.6M252.7 269.6h0.6M251.7 244.6h0.6M269.8 238.5h0.6M262.9 235.2h0.6M260.1 266.1h0.6M251.9 245.7h0.6M266.5 255.1h0.6M253 253.8h0.6M251.1 248.8h0.6M263.9 256.6h0.6M264.4 239.2h0.6M264 231.3h0.6M259.2 266.1h0.6M263.8 249.2h0.6M253.8 243.6h0.6M254.8 246h0.6M259.3 255.1h0.6M256.2 264.6h0.6M259.1 247.6h0.6M251.8 250.2h0.6M267.7 234.8h0.6M261.7 248h0.6M265.9 257.3h0.6M252.2 247.7h0.6M260.5 261.7h0.6M266.9 227.5h0.6M265.3 253.9h0.6M269.6 240h0.6M264.1 242h0.6M255.3 255.8h0.6M249.4 249.9h0.6M267.5 239.7h0.6M273.4 256.6h0.6M267.1 240.2h0.6M256.2 238.1h0.6M258.1 262.5h0.6M268.3 258h0.6M259.1 231.7h0.6M265.9 254h0.6M257.6 258.8h0.6M258.5 260.7h0.6M267.4 255.6h0.6M267.5 229.2h0.6M259 243.8h0.6M269.6 244.6h0.6M253.9 254.8h0.6M270.3 255.6h0.6M261.5 238.4h0.6M266.6 235.4h0.6M257.6 239.2h0.6M268.5 248.9h0.6M270 238.8h0.6M262.8 266.7h0.6M254.5 240.2h0.6M254.3 247.6h0.6M257 260.7h0.6M270 250.3h0.6M271.2 251.4h0.6M262.9 254.5h0.6M267 237.9h0.6M255.2 243.7h0.6M265.4 264.3h0.6M263.8 252.9h0.6M255 248.1h0.6M264.1 255.7h0.6M250.3 262.9h0.6M254.2 248.8h0.6M255.9 262.4h0.6M259.3 232.3h0.6M269.6 252.8h0.6M259 259h0.6M258.7 267.5h0.6M258.1 257.1h0.6M272.4 253.7h0.6M270.1 240.8h0.6M256.8 265.3h0.6M261.7 252.1h0.6M271.8 242.1h0.6M253.9 267.8h0.6M269.7 248.6h0.6M257.8 248.4h0.6M254.3 247.5h0.6M262 234.3h0.6M255 246.4h0.6M255.7 251.5h0.6M270.2 245.8h0.6M269 246.4h0.6M271.3 242.5h0.6M254.7 254h0.6M268.4 252.3h0.6M270.7 243.3h0.6M257 235.8h0.6M270.4 236.5h0.6M261.3 259.4h0.6M254.7 244.3h0.6M263 259.1h0.6M255.4 233.6h0.6M261.6 259.3h0.6M267.7 238.2h0.6M255.8 246.4h0.6M268.9 246.4h0.6M266.7 241.1h0.6M260.3 238.9h0.6M268.2 254.3h0.6M270.7 250.6h0.6M271.4 248.1h0.6M264.4 235.2h0.6M256.5 237.4h0.6M267.8 239.6h0.6M269.6 245.9h0.6M255.5 243.6h0.6M270.7 249.4h0.6M269.8 247.9h0.6M265 267.5h0.6M263.3 241.5h0.6M265.4 235.7h0.6M262.8 256h0.6M262.7 243.2h0.6M258.8 240.9h0.6M269.7 244.5h0.6M263.1 240.1h0.6M256.3 234.6h0.6M252.7 252.5h0.6M268.7 255h0.6M264.3 254.9h0.6M253.6 247.6h0.6M254.5 241.2h0.6M267.7 235.4h0.6M269.8 260.7h0.6M260.1 236.4h0.6M265.4 260.6h0.6M259.7 237.4h0.6M254.7 262.1h0.6M269.6 244.5h0.6M265.4 258.9h0.6M272.9 231.5h0.6M270.2 259.6h0.6M258.6 242.4h0.6M265.7 241.3h0.6M272 243.6h0.6M266.9 244.1h0.6M268.9 243.1h0.6M260.9 231.9h0.6M262.9 255.9h0.6M251.3 256.2h0.6M258.6 238.1h0.6M263 261.2h0.6M258.1 240.6h0.6M254.6 241.4h0.6M266.3 233h0.6M255 255h0.6M269.8 249.8h0.6M257.7 256.9h0.6M252.6 242.4h0.6M264.7 242.2h0.6M266.5 239.2h0.6M257.2 249.9h0.6M257.7 246.7h0.6M260.8 236h0.6M252.1 258.9h0.6M266.7 257.4h0.6M255 260.5h0.6M256.9 253.5h0.6M252.6 246.3h0.6M260.3 263.3h0.6M267.9 245.3h0.6M262.4 261.5h0.6M269.1 239.7h0.6M265.7 261.6h0.6M265.1 246.8h0.6M261.7 256.8h0.6M268.1 243.1h0.6M255.3 241.2h0.6M258.7 236.1h0.6M255.6 245.8h0.6M266.9 250.5h0.6M261.2 233.1h0.6M269.9 251.6h0.6M258.5 251.2h0.6M261.9 235.5h0.6M254.6 240.3h0.6M246.5 259.5h0.6M260.2 233.9h0.6M250.6 251.9h0.6M264.2 257.8h0.6M268.5 238.7h0.6M255.1 257.8h0.6M270.5 243.2h0.6M267.3 257.4h0.6M263.1 237.7h0.6M261.4 262.4h0.6M255.7 248.2h0.6M261.4 235.5h0.6M253.9 252.6h0.6M257.3 253.9h0.6M258.6 262.6h0.6M258 235.3h0.6M255.8 255.2h0.6M255.5 260.4h0.6M253.5 251.7h0.6M262.4 244.3h0.6M259.8 237.8h0.6M260.7 240h0.6M269.1 250.2h0.6M264.4 257.4h0.6M259.8 244.9h0.6M265.8 256.7h0.6M256.8 248.7h0.6M261.2 259.8h0.6M264.1 258.9h0.6M262.6 259.1h0.6M252.1 258.8h0.6M259 259.9h0.6M258 236.7h0.6M250.6 253.9h0.6M253.8 262.6h0.6M248.6 254.5h0.6M256.9 263.3h0.6M259.3 245.3h0.6M255.6 257.1h0.6M258.2 251h0.6M269.8 254.7h0.6M268.3 237.1h0.6M261.5 241.8h0.6M261.3 258.2h0.6M252.9 260.3h0.6M263.5 234.1h0.6M264.9 256.9h0.6M258.3 247.4h0.6M251.9 255.8h0.6M252.9 254.5h0.6M267.4 244.4h0.6M258 252.6h0.6M265.4 241.8h0.6M257.1 226h0.6M257.9 263.3h0.6M264.9 242.4h0.6M268 245.6h0.6M267.7 246.9h0.6M263.6 265.9h0.6M252.7 253.5h0.6M262.5 257.5h0.6M267.3 238.2h0.6M257.5 245.4h0.6M273.1 234h0.6M262.5 233.9h0.6M260.9 235.7h0.6M260.6 261.3h0.6M268.4 249.9h0.6M263.9 253.8h0.6M267.8 250.1h0.6M261.6 267.6h0.6M255.4 256.5h0.6M252.5 263.1h0.6M256.8 241.9h0.6M253.5 248h0.6M258.7 244.9h0.6M259.4 255.6h0.6M253.6 246.4h0.6M270.6 236.2h0.6M252.2 250.8h0.6M258 247.7h0.6M256.5 247.8h0.6M261.6 239.4h0.6M250.8 243.5h0.6M250.4 248h0.6M260.1 243.4h0.6M253.1 245.7h0.6M260.8 255.2h0.6M267 228.9h0.6M267.3 231.3h0.6M266 245.1h0.6M272 235.6h0.6M256.5 249.5h0.6M268.6 258h0.6M265.5 258.3h0.6M258.8 258.3h0.6M257.3 257.6h0.6M269 250.8h0.6M261.5 268h0.6M260.5 236.2h0.6M254.4 244.9h0.6M256.5 254.6h0.6M256.2 233.9h0.6M259.8 263.3h0.6M269.2 255.5h0.6M257.6 258.5h0.6M257 260h0.6M268.8 250.5h0.6M263.9 239.4h0.6M253.1 253.8h0.6M268.5 243.2h0.6M259.3 259.8h0.6M274.1 240.1h0.6M267.4 250h0.6M270.4 245.8h0.6M253.2 238h0.6M268.4 243.7h0.6M256 254.1h0.6M263.5 265.7h0.6M253.2 263.6h0.6M256.6 241.4h0.6M264.8 238.1h0.6M267.1 243.6h0.6M262.1 264.6h0.6M258.2 261.2h0.6M260.8 238.8h0.6M253.7 251.4h0.6M259.2 244.5h0.6M266.4 255.8h0.6M265.4 260.4h0.6M261.2 239h0.6M268.8 245.4h0.6M257.6 242.6h0.6M262.3 256h0.6M257.2 231.2h0.6M270.4 243.8h0.6M259.7 241.6h0.6M257.6 244.9h0.6M268.9 265.6h0.6M259.5 234.7h0.6M259.7 231.7h0.6M263.5 236.6h0.6M254.6 240h0.6M261.7 248.4h0.6M255.2 263.8h0.6M255.6 260.7h0.6M267.3 246.7h0.6M260.8 231.2h0.6M269.7 237.6h0.6M255.8 252.1h0.6M260.4 237.8h0.6M267.8 252.4h0.6M274.5 247.5h0.6M259.4 238.8h0.6M261.9 243.1h0.6M256.1 239.4h0.6M263.6 260.6h0.6M273.2 251.7h0.6M272.1 248.3h0.6M265.8 236.7h0.6M270.8 248.1h0.6M266.6 245.8h0.6M254.9 257.7h0.6M262.1 259.7h0.6M256 235.8h0.6M265.5 249.1h0.6M263.1 261.4h0.6M261.1 231.1h0.6M259.7 257.8h0.6M253.6 256.7h0.6M258.4 232.8h0.6M261.7 267.9h0.6M259.2 263.4h0.6M274.8 250.3h0.6M268 243.1h0.6M253.9 254.7h0.6M255.5 257.6h0.6M250.3 256.4h0.6M262.2 240.1h0.6M268.8 249.9h0.6M261.5 241.9h0.6M263.9 258.7h0.6M250 255.8h0.6M265.1 237.5h0.6M247.4 255.4h0.6M270.3 231.4h0.6M263.6 236.5h0.6M259.5 247.4h0.6M268.1 245h0.6M269.2 239.3h0.6M267.3 230.7h0.6M265 262.5h0.6M259 257.7h0.6M252.5 255.6h0.6M265.3 247.5h0.6M263.8 255.2h0.6M259.3 242.8h0.6M268.5 259.3h0.6M254.1 255.1h0.6M269.8 240h0.6M268.2 260.1h0.6M267.3 241.3h0.6M267.4 245.9h0.6M267.8 247.7h0.6M269.1 235.6h0.6M268.2 238.8h0.6M256.3 258.8h0.6M262.6 234.1h0.6M265 260.3h0.6M268.3 246.8h0.6M256.1 240.3h0.6M267.7 235h0.6M263.1 261h0.6M258.6 256.1h0.6M266.6 246.3h0.6M269.6 240.2h0.6M256.8 261h0.6M259.4 260.9h0.6M266.3 244.9h0.6M257.4 268.9h0.6M269.2 236.4h0.6M263.3 234.4h0.6M271.1 249.7h0.6M264.3 239.7h0.6M267.5 246.7h0.6M256.1 250.6h0.6M264.1 257.3h0.6M269.6 251.1h0.6M266.1 239.8h0.6M267.5 253.2h0.6M268.3 245.5h0.6M265.3 232.8h0.6M253.7 246.9h0.6M255.6 243.8h0.6M256.4 250.7h0.6M262.1 251.9h0.6M265.3 240h0.6M260.7 235.3h0.6M258.1 235.3h0.6M259.5 257.2h0.6M266 237.4h0.6M251.2 258.1h0.6M269.7 239.9h0.6M262.4 233.5h0.6M258.2 252.7h0.6M265 259.4h0.6M268.4 245.3h0.6M270.7 252.1h0.6M253.4 242.6h0.6M260.3 256.6h0.6M254.4 254.3h0.6M269.1 246.9h0.6M261.4 237.2h0.6M268.8 250.8h0.6M260.3 257.9h0.6M272.3 243.5h0.6M259.9 243.9h0.6M263.6 250.8h0.6M262.5 268h0.6M260.3 258.1h0.6M256.6 258.2h0.6M247.2 256.6h0.6M260.3 258.6h0.6M262.9 259.3h0.6M260.1 239.6h0.6M262.3 262.8h0.6M254.8 244.6h0.6M264.6 265.7h0.6M269.5 236.7h0.6M265.3 259.6h0.6M252.9 254.1h0.6M251.2 252.3h0.6M260.9 239.7h0.6M260.9 254.4h0.6M265.3 257.1h0.6M252.3 262.7h0.6M265.7 258.2h0.6M258.2 242.4h0.6M262.6 236.1h0.6M254.4 246.5h0.6M256.9 232.3h0.6M267.5 239.1h0.6M262.5 237.7h0.6M261.5 248.3h0.6M260.8 239.7h0.6M271.2 230.8h0.6M269 257.1h0.6M255.4 251.1h0.6M264.1 256h0.6M271.2 246.7h0.6M270 257.4h0.6M255.6 241.9h0.6M258.5 264h0.6M264.1 258.6h0.6M260.3 262.9h0.6M267 252.6h0.6M268.4 235.2h0.6M261.5 241.6h0.6M261.9 246.9h0.6M268 257.4h0.6M264.8 250h0.6M268.1 258.2h0.6M265.5 245.3h0.6M251.2 244.5h0.6M266.6 239h0.6M268.8 247h0.6M265.5 259.6h0.6M260.5 232.9h0.6M265.7 253.9h0.6M264.9 253.7h0.6M256.2 254.2h0.6M269.9 230.5h0.6M259.2 238.6h0.6M263.8 241.8h0.6M258.2 253h0.6M253.8 247.3h0.6M272.5 253.2h0.6M255.3 266h0.6M266.8 241.8h0.6M259.1 258.2h0.6M260.4 262.3h0.6M257.6 250.1h0.6M257.7 236.6h0.6M260.5 241.5h0.6M269 250.4h0.6M268.6 248.4h0.6M259.5 257.3h0.6M261.7 246.7h0.6M271.1 248.3h0.6M251.1 255.7h0.6M271.6 244.9h0.6M263.2 257.5h0.6M269.1 255.1h0.6M260.9 257.4h0.6M256.9 238.5h0.6M269 255h0.6M252.1 244.7h0.6M262.4 251.7h0.6M268.2 247.3h0.6M271.1 235.9h0.6M263.5 235.1h0.6M266.4 240.9h0.6M270.3 253.2h0.6M263.4 244.2h0.6M253.2 253h0.6M265 249.5h0.6M262.1 259.2h0.6M263.9 248.8h0.6M266.1 238.5h0.6M256.4 240.3h0.6M258 260.6h0.6M262.9 242.3h0.6M257.6 260.1h0.6M269.1 258.8h0.6M271.6 237.5h0.6M265.5 253.1h0.6M267.2 258.6h0.6M254.9 250h0.6M266.6 245.8h0.6M252.6 246h0.6M261.8 241.2h0.6M252.5 235.9h0.6M257.9 267.5h0.6M255.2 248.1h0.6M261.6 254.5h0.6M253.2 246.2h0.6M259.4 257h0.6M266.9 243.7h0.6M258.1 249.9h0.6M267.1 235h0.6M266.7 248.2h0.6M263.1 235.7h0.6M250.3 258.2h0.6M268.4 232.2h0.6M255.7 247.4h0.6M264.9 232.4h0.6M267 239.7h0.6M262.4 260.7h0.6M265.2 255.8h0.6M255.1 268.5h0.6M259.8 243.2h0.6M256.7 240.8h0.6M265.1 234.5h0.6M269.5 241.1h0.6M263.8 236.4h0.6M268.6 227.9h0.6M257 254.9h0.6M256.7 252.8h0.6M269.5 247.6h0.6M255.5 239.6h0.6M261.2 238.5h0.6M257.1 242.1h0.6M269.5 250.5h0.6M269.5 244h0.6M261.3 239.1h0.6M269.3 240.2h0.6M258.1 261h0.6M253.7 249.2h0.6M252.1 256.7h0.6M263.6 262.4h0.6M255.5 246h0.6M269.3 239.9h0.6M257.9 255.4h0.6M267.1 245.9h0.6M265.8 243.4h0.6M255.5 260h0.6M257 256.7h0.6M251.6 255.5h0.6M263.2 256.8h0.6M264 257h0.6M254.7 238.1h0.6M266.3 257.4h0.6M260.7 238.7h0.6M269 257.6h0.6M252.3 244h0.6M263.7 257.1h0.6M248.4 258.3h0.6M249.4 259.1h0.6M256.4 254.1h0.6M250.7 241.9h0.6M257.1 243.6h0.6M268.4 241.4h0.6M265.6 259.2h0.6M260.9 253.8h0.6M257.4 266h0.6M258.4 242.8h0.6M262 256.3h0.6M253.9 242.2h0.6M254.4 249.9h0.6M254.7 254h0.6M266.5 241.9h0.6M264.9 257.5h0.6M264.9 244h0.6M253.1 246.3h0.6M266.4 264.3h0.6M267.4 243.5h0.6M253.4 258.8h0.6M264.4 252.2h0.6M260.3 243.9h0.6M271.1 244.4h0.6M253.3 247h0.6M255.7 244.4h0.6M270 234.9h0.6M253 241.6h0.6M260.1 263h0.6M260.5 252.7h0.6M267.7 254.6h0.6M264.5 242.1h0.6M269.8 241.3h0.6M270.3 249.4h0.6M259.2 232.7h0.6M269.9 245.1h0.6M255.9 241.9h0.6M247.4 244.1h0.6M258.8 260.5h0.6M261.6 258.4h0.6M267.3 251.8h0.6M260.5 229.6h0.6M264.4 235h0.6M264 258h0.6M245.8 250.6h0.6M272.5 250.1h0.6M254.7 250.1h0.6M254.1 255.3h0.6M269.1 232.8h0.6M269.4 255.7h0.6M267.7 243h0.6M273.1 249.7h0.6M259.3 266.8h0.6M269.9 241.9h0.6M256.3 247.7h0.6M258.3 258.8h0.6M272 238.3h0.6M272.6 243.7h0.6M260.2 266.4h0.6M257.3 242.7h0.6M255.1 244h0.6M260.4 248.2h0.6M272.5 244.8h0.6M269.5 238.1h0.6M257.2 247.2h0.6M255.1 247.3h0.6M262.2 257.4h0.6M268.1 233.3h0.6M260.5 254.3h0.6M268.5 247.7h0.6M261 260.9h0.6M255.9 245.3h0.6M263.7 263.2h0.6M264.1 266.6h0.6M254.7 242.4h0.6M263.8 253.4h0.6M263.4 242.6h0.6M260.1 239.6h0.6M267.9 249.3h0.6M256 256.2h0.6M261.5 260.4h0.6M264.1 251.6h0.6M262.1 260.6h0.6M266.2 255.8h0.6M271.9 247h0.6M265.1 247.6h0.6M256 244.2h0.6M274.3 243.5h0.6M260.3 267.1h0.6M268.8 242.2h0.6M269.7 253.9h0.6M264.5 257.2h0.6M271.5 244.4h0.6M269.2 241.9h0.6M257 251.4h0.6M253 249.8h0.6M262.7 259.1h0.6M252.3 255h0.6M260.7 241h0.6M270 247.9h0.6M257.4 236.6h0.6M252.8 246.1h0.6M261.5 242.9h0.6M262.9 258.5h0.6M262.5 255.8h0.6M269 263.8h0.6M252.4 246.4h0.6M268.7 250.6h0.6M259.2 257.7h0.6M270.5 234.3h0.6M266.5 243.9h0.6M271.6 239.5h0.6M265.5 248.4h0.6M259.1 241.6h0.6M254.7 267.4h0.6M267.2 256.4h0.6M260.6 254h0.6M254.6 236.5h0.6M256.7 246.8h0.6M273.1 242.8h0.6M260.4 248.6h0.6M259.2 248.7h0.6M258.2 252.5h0.6M254.9 242.3h0.6M253.7 245.8h0.6M268.2 245.7h0.6M254.3 247.6h0.6M258.4 241h0.6M257.8 239.8h0.6M257.6 236.5h0.6M264.4 259.1h0.6M266.1 241.9h0.6M263.3 245.9h0.6M262.1 252.4h0.6M264.5 236.7h0.6M266 237.6h0.6M263.2 238.8h0.6M259.7 230.2h0.6M259.1 237.9h0.6M269.7 240.9h0.6M263.3 238.8h0.6M261.9 237.3h0.6M253.6 246.9h0.6M267 256.5h0.6M254 245.1h0.6M269 252.5h0.6M254.9 238.5h0.6M269.5 244.1h0.6M259.2 240.8h0.6M263.4 252.3h0.6M259.4 252.9h0.6M265.2 233h0.6M257.6 239h0.6M259.5 244.1h0.6M260.5 247.8h0.6M259.9 259h0.6M249.7 240.5h0.6M265.9 268.9h0.6M267.7 249.2h0.6M260.6 256.9h0.6M259.3 257.3h0.6M261.7 253.6h0.6M256.7 254.2h0.6M261.4 245.7h0.6M267.9 259.4h0.6M254.2 244.7h0.6M261.6 255.9h0.6M260.1 254.1h0.6M255.8 253.5h0.6M262.2 244.3h0.6M273.7 225.7h0.6M254.2 240.8h0.6M247.6 249.6h0.6M259.7 254.3h0.6M260.1 255.2h0.6M259.4 239.1h0.6M257.6 249.3h0.6M265.7 243.4h0.6M245.1 255.2h0.6M259.1 235.3h0.6M263 253.3h0.6M255.2 256h0.6M258.7 246.4h0.6M256.2 256.8h0.6M255.8 255h0.6M261.5 237.6h0.6M261.5 241.4h0.6M260.8 262h0.6M269.2 240h0.6M264.4 244.5h0.6M259.4 244.3h0.6M264 234.6h0.6M264.1 267h0.6M259 249.1h0.6M258 258.8h0.6M259.5 231.8h0.6M266.8 245.6h0.6M261.4 262.6h0.6M259.6 242h0.6M262.4 257.1h0.6M267.2 250.2h0.6M259.2 257.2h0.6M266.7 235.6h0.6M258.7 249.9h0.6M258.5 255.8h0.6M260.2 244h0.6M267.4 250h0.6M265.3 250.1h0.6M264.4 250.3h0.6M258.9 257.9h0.6M268.9 255h0.6M265.4 238.2h0.6M253.2 265.8h0.6M258.9 250.7h0.6M263.4 247.7h0.6M260.1 233.2h0.6M271.9 244.4h0.6M260 247.9h0.6M260.7 235.1h0.6M262.8 240.5h0.6M257.5 257.1h0.6M260.9 242.1h0.6M264.9 251.1h0.6M259.1 244.3h0.6M269 244.3h0.6M260.6 252.5h0.6M270.8 238.6h0.6M258.3 238.7h0.6M260 257.2h0.6M254.9 258.3h0.6M252.6 258.3h0.6M250.1 255.4h0.6M258 241.1h0.6M260.1 266.4h0.6M266.5 248.5h0.6M263.2 246.9h0.6M259 242.7h0.6M258.3 258.9h0.6M265.8 233.1h0.6M258.1 251.5h0.6M263.9 256.2h0.6M267.4 242.7h0.6M258.7 253.2h0.6M264.2 236.6h0.6M257.6 249.4h0.6M267.7 246.9h0.6M259.7 253h0.6M275.4 244h0.6M254.7 246.7h0.6M272.6 247.2h0.6M259.5 259.6h0.6M258.2 227.7h0.6M255.7 249.9h0.6M264.5 260.4h0.6M262.2 241.5h0.6M268.9 241.7h0.6M252.1 261.6h0.6M261.5 253.5h0.6M256.9 256.8h0.6M262.6 243.9h0.6M258.2 259h0.6M263.1 255.5h0.6M261.8 253.6h0.6M258.2 250.1h0.6M269.8 248.9h0.6M253.2 249.3h0.6M262.5 252.5h0.6M260.8 242.8h0.6M249.7 267.2h0.6M267.5 250.9h0.6M261.5 271.5h0.6M259.4 262.7h0.6M278.5 260.3h0.6M258.3 242.2h0.6M256.6 233.6h0.6M269.6 234.8h0.6M252.7 230.5h0.6M274.1 273.1h0.6M239.8 253.6h0.6M250.3 227.1h0.6M264.9 231.8h0.6M257.1 260.9h0.6M258.8 245.2h0.6M248.5 267.5h0.6M275.2 255.7h0.6M261.3 229.7h0.6M263.3 249.2h0.6M244.9 261.9h0.6M258.9 222h0.6M267.2 247.3h0.6M268.6 247.4h0.6M269.3 241.3h0.6M267.5 239.8h0.6M272.2 231.2h0.6M241 249.6h0.6M262.6 256.9h0.6M270 258.1h0.6M266.7 219.8h0.6M278.7 230.9h0.6M254.6 230.5h0.6M250.6 265.9h0.6M254.9 259.9h0.6M262.7 250.2h0.6M252.7 254.6h0.6M235.1 267.8h0.6M260.2 239.2h0.6M258.9 258.4h0.6M269 257h0.6M259.9 215.5h0.6M273.4 257.8h0.6M262 264.4h0.6M233.9 269.4h0.6M250.2 248.8h0.6M248.3 257.2h0.6M262.5 240.1h0.6M271.9 259.6h0.6M269.4 252.2h0.6M274 234.9h0.6M259.8 229.9h0.6M262.7 238.5h0.6M264.1 245.3h0.6M244.1 254.2h0.6M247.6 240.1h0.6M255.3 246.6h0.6M274.8 246.8h0.6M255.4 263.8h0.6M266.7 270.9h0.6M283.9 233.6h0.6M275.5 239.1h0.6M261.7 243h0.6M258.5 248.7h0.6M278.1 230.5h0.6M248.3 269h0.6M257.4 257.4h0.6M235.7 264.2h0.6M255.5 243.7h0.6M258.3 264.2h0.6M255.8 225.1h0.6M262.9 236h0.6M264 244.2h0.6M266.2 233.9h0.6M262.7 250.5h0.6M260.7 221.7h0.6M273.2 269.6h0.6M263.2 261.6h0.6M257.7 253.4h0.6M275.8 231.6h0.6M252.4 238.3h0.6M275.7 244.7h0.6M250.8 233h0.6M260.9 278.9h0.6M252.9 235.4h0.6M254.4 244.1h0.6M255.4 246.9h0.6M261.6 264.2h0.6M259.3 256.1h0.6M246.2 298.9h0.6M246.2 248.7h0.6M267.8 266.2h0.6M259.6 251.4h0.6M261.3 263.1h0.6M267.9 257.6h0.6M263.4 254.3h0.6M266.6 260.9h0.6M279.5 242.2h0.6M252 276.8h0.6M267.4 250.7h0.6M274.5 238.6h0.6M258.3 246.8h0.6M252.9 223h0.6M273.9 231.9h0.6M251.8 250.6h0.6M269.9 241.2h0.6M261.6 243.9h0.6M249.9 246h0.6M259.5 225.2h0.6M261.6 249.1h0.6M266.6 238.1h0.6M258.2 242.1h0.6M265.8 237.6h0.6M242.3 233.6h0.6M264.1 259.9h0.6M256.1 241h0.6M263.9 239.4h0.6M279.7 230.9h0.6M264.2 252.8h0.6M270.9 226.6h0.6M239.7 245.2h0.6M261.2 258.6h0.6M271.4 212.9h0.6M256 259.5h0.6M249.1 249h0.6M272.4 262.8h0.6M254.8 219h0.6M259.2 217.9h0.6M284.2 232.4h0.6M250 237.5h0.6M266.1 250.6h0.6M269.2 252.1h0.6M247.9 231.2h0.6M281.4 260.8h0.6M268.2 252.9h0.6M258 249.5h0.6M260.7 266.3h0.6M269.7 238.6h0.6M247.4 255.5h0.6M273.8 247.3h0.6M278.2 257.3h0.6M251.3 254.8h0.6M257.7 255.8h0.6M254.7 267.9h0.6M247.1 250.1h0.6M272.4 266.4h0.6M256.1 251.3h0.6M255.8 264.3h0.6M262.4 247.1h0.6M261.3 233.6h0.6M251.6 216.7h0.6M276.1 237.1h0.6M228.5 250.5h0.6M266.5 250.5h0.6M273.4 269.7h0.6M266.1 270.3h0.6M291.2 258.8h0.6M263.3 261.2h0.6M255.1 251h0.6M262.1 236.4h0.6M251.9 230.4h0.6M256.8 254.3h0.6M261.8 267.4h0.6M256.9 257.9h0.6M264.4 233.2h0.6M275 260.6h0.6M258.7 256.3h0.6M264 259.5h0.6M281.2 234.6h0.6M260.9 221.3h0.6M268.7 248h0.6M258.1 273.2h0.6M272.8 255.5h0.6M261.2 222.7h0.6M240.3 268.3h0.6M256.3 264.9h0.6M255.7 241.9h0.6M266.7 251.2h0.6M264.1 234.9h0.6M267 254.8h0.6M258.9 235h0.6M257.9 251h0.6M284.3 251.1h0.6M250.4 225h0.6M241.7 255.8h0.6M255 245.6h0.6M265.8 243.8h0.6M278.7 241.5h0.6M249.1 259.9h0.6M255.9 256.6h0.6M259.5 258h0.6M260.9 241.5h0.6M249.5 235.2h0.6M250.5 259.7h0.6M277.9 242.4h0.6M260.4 265.8h0.6M272.9 214.1h0.6M263.1 260.2h0.6M269 263.5h0.6M276.1 257.7h0.6M260.1 247.7h0.6M221.1 270h0.6M221.7 279.5h0.6M211 287.5h0.6M222.7 274.7h0.6M222.3 278.5h0.6M219.4 292.3h0.6M216.8 290.8h0.6M211.7 285.9h0.6M201.3 281.1h0.6M207.6 280.2h0.6M209.8 296h0.6M210.6 277.3h0.6M214.1 281.6h0.6M216.5 290.3h0.6M219.4 293.3h0.6M215.5 282.5h0.6M208.9 286.5h0.6M213.4 278.9h0.6M207.9 274.2h0.6M219.2 286.7h0.6M227.3 288.4h0.6M213.2 280h0.6M210.7 276.7h0.6M230 291.2h0.6M213.6 270.8h0.6M207.2 285.6h0.6M221.8 293.7h0.6M205.6 279.3h0.6M217.6 280.4h0.6M208.1 291.9h0.6M209.6 268.9h0.6M210.3 285.5h0.6M208.6 287.8h0.6M213.4 285.2h0.6M219.2 291.1h0.6M216.8 287.6h0.6M221.8 289.9h0.6M215.3 289.5h0.6M213.5 284.2h0.6M206.7 277.8h0.6M215.2 281.2h0.6M219.6 270.5h0.6M231.5 288.9h0.6M222.6 277.8h0.6M214.3 272.9h0.6M204.7 282.1h0.6M205.9 282.3h0.6M231.2 276.1h0.6M223.4 279.2h0.6M205.5 291.2h0.6M213.9 275.4h0.6M210.9 278.1h0.6M206.1 283.6h0.6M224 287.4h0.6M208.7 277.9h0.6M212.5 276.9h0.6M209.1 281.5h0.6M218.2 293.6h0.6M224.5 291.8h0.6M213.5 284.9h0.6M218.6 276.9h0.6M224.4 286.7h0.6M217.5 296.1h0.6M212.7 275.8h0.6M222.1 284.9h0.6M215.4 279h0.6M225.6 293h0.6M214.6 289.1h0.6M219.1 284.2h0.6M211.7 274.5h0.6M196.2 229.6h0.6M195.4 241.2h0.6M194.9 229.2h0.6M194.7 258.2h0.6M196.2 241.9h0.6M195.8 247.1h0.6M195.2 228.8h0.6M196.2 241.6h0.6M195.2 242.2h0.6M195.7 233.3h0.6M195.8 239.2h0.6M195.1 229.9h0.6M194.4 255.3h0.6M195 238.1h0.6M196.6 240.2h0.6M196.7 235.9h0.6M194.4 249.2h0.6M194.3 235.7h0.6M194.2 249.1h0.6M194.7 245.5h0.6M196.4 243.3h0.6M195.4 257.2h0.6M196.1 233h0.6M194.4 252.2h0.6M195.8 255.7h0.6M195.5 229.8h0.6M195.4 260.6h0.6M194.3 229.4h0.6M194.6 241h0.6M194.6 260.7h0.6M196.2 251.4h0.6M196.1 230.1h0.6M194.2 257.5h0.6M196.4 242.6h0.6M194.3 259.5h0.6M194.6 245.7h0.6M194.1 245.3h0.6M196.1 241.2h0.6M195.8 240.8h0.6M195.7 251.7h0.6M196.2 233.5h0.6M194.3 246.2h0.6M195.4 230.1h0.6M195.7 256.9h0.6M195.7 237.9h0.6M196.8 244.8h0.6M196.5 238.9h0.6M194.2 258.8h0.6M196.2 251.2h0.6M195.2 251.9h0.6M196.5 258.5h0.6M195.5 260.4h0.6M196.4 240.3h0.6M194 231.8h0.6M194.9 238.1h0.6M196.4 262.7h0.6M196.3 247.3h0.6M195.8 249.1h0.6M196.8 252.6h0.6M195.8 263.8h0.6M195.6 239.8h0.6M194.1 244.8h0.6M195.2 238.4h0.6M195.4 252.7h0.6M195.6 260.3h0.6M195.5 255.7h0.6M194.5 251.3h0.6M196.8 232.1h0.6M194.9 241.7h0.6M195.3 262.2h0.6M195.6 242.2h0.6M194.6 232.7h0.6M194.6 263.2h0.6M195 234.1h0.6M194.1 248.3h0.6M196.8 254.4h0.6M195.6 242.6h0.6M195.8 230.1h0.6M195.1 255h0.6M195 236.5h0.6M195.3 241h0.6M194 246.3h0.6M196.3 245.4h0.6M196.7 228.1h0.6M194.5 249.3h0.6M195.3 249h0.6M195.1 231.6h0.6M194.5 262.1h0.6M194 239.7h0.6M194.4 238.5h0.6M194.4 236.7h0.6M194.5 245.5h0.6M194.3 247.6h0.6M195.9 247.8h0.6M196.1 229.8h0.6M195.1 232.2h0.6M195.4 240.8h0.6M195.1 263.1h0.6M195.8 252.5h0.6M195.7 259.7h0.6M194.6 249.7h0.6M195 243h0.6M195.9 248.1h0.6M195.9 228.9h0.6M196.4 238.5h0.6M196.3 241.2h0.6M195.1 236.3h0.6M194.6 256.3h0.6M194.2 228.7h0.6M195.7 237.4h0.6M194.7 241.2h0.6M194.1 241.4h0.6M194.9 259.8h0.6M196.3 259.7h0.6M196 259.3h0.6M196.4 258.2h0.6M194.6 241.3h0.6M194.3 231.9h0.6M195 250.4h0.6M194.8 260.4h0.6M196.9 238.2h0.6M194.1 244.7h0.6M194.5 237.4h0.6M195.5 233.8h0.6M195.1 229.4h0.6M196.6 254.6h0.6M195.7 260.2h0.6M194.8 242.3h0.6M194.2 230.3h0.6M195.8 240.4h0.6M194.6 249.2h0.6M196.1 255h0.6M195.7 246.9h0.6M195.4 258.3h0.6M194.8 233h0.6M195 263.1h0.6M196.4 233.8h0.6M196.7 236.6h0.6M196.7 242.2h0.6M195.1 260.3h0.6M196.3 251.8h0.6M196.7 237.5h0.6M194.5 249.6h0.6M195.5 260.3h0.6M194.3 236.1h0.6M195.9 262.4h0.6M196.3 234.4h0.6M195.1 229.1h0.6M195.3 258.6h0.6M194.6 231.1h0.6M194.9 244.3h0.6M194.8 230h0.6M194.9 240.7h0.6M194.7 251.2h0.6M194.7 260.6h0.6M195.5 235.2h0.6M195.3 256.4h0.6M195 237.9h0.6M196.2 239.8h0.6M194.1 248.4h0.6M194.3 241.1h0.6M194.2 232.3h0.6M196.4 246.9h0.6M196.7 240.2h0.6M196 231.1h0.6M196.2 251.5h0.6M195.7 257.4h0.6M195.2 247.9h0.6M194.1 250.2h0.6M196.7 240.3h0.6M195.7 249.8h0.6M195 241h0.6M194.3 239.7h0.6M194.9 236.4h0.6M196.7 237h0.6M194.9 255.9h0.6M194.5 232.1h0.6M196 252.5h0.6M195.2 233.2h0.6M194.1 253.6h0.6M195.1 256.7h0.6M195.6 244.3h0.6M196.3 238.2h0.6M196.3 235.4h0.6M194.2 251.4h0.6M195 251.5h0.6M194.4 255h0.6M196.2 229.9h0.6M195.1 236.8h0.6M194.3 256.4h0.6M196.2 251.8h0.6M194.6 241.9h0.6M195.3 259.8h0.6M196.4 250.6h0.6M196.3 248.8h0.6M194.4 260.5h0.6M193.9 248.7h0.6M195.9 235.6h0.6M196.5 239.7h0.6M194.7 256.9h0.6M195.1 233.3h0.6M195.5 232h0.6M196.6 258.6h0.6M194.2 244.7h0.6M194.6 248h0.6M194.2 248.8h0.6M193.9 230h0.6M196.6 256.3h0.6M194.7 245.9h0.6M196.5 241.6h0.6M195.4 252.8h0.6M196.4 251.1h0.6M196.5 242.4h0.6M195.5 258h0.6M195.5 260.2h0.6M194.7 252.5h0.6M195.5 241.3h0.6M196.3 247.4h0.6M196.3 261.7h0.6M195.3 232h0.6M195.9 260.6h0.6M195.8 246.6h0.6M195.6 258.3h0.6M194 259.1h0.6M196.7 252.2h0.6M194.1 245.3h0.6M196.8 239.3h0.6M195.2 252.7h0.6M194.7 237.5h0.6M195.6 251h0.6M196.1 254.7h0.6M196.1 247.5h0.6M194.6 248.9h0.6M194.9 249.7h0.6M195.3 231h0.6M195.7 235.3h0.6M194.6 245h0.6M195.9 229.2h0.6M196.7 249.3h0.6M195.7 228.9h0.6M196.6 263.1h0.6M195.7 235.8h0.6M194.7 236.3h0.6M196.2 245.1h0.6M194.2 253h0.6M195.4 247.9h0.6M194.6 231.4h0.6M194.6 252.5h0.6M195.3 253.1h0.6M195.4 255.7h0.6M195.5 244.6h0.6M196.4 230.9h0.6M195 244.9h0.6M196.9 258.7h0.6M195.8 234.5h0.6M196.2 236.3h0.6M195.5 257.5h0.6M196.7 236.2h0.6M193.9 248.4h0.6M196.9 235.9h0.6M194.6 242.7h0.6M194.9 245.7h0.6M196 238.3h0.6M195.6 257.5h0.6M195.3 259.9h0.6M194.2 255.3h0.6M196.8 240.9h0.6M195.5 257.2h0.6M195 261h0.6M196 230.7h0.6M195.3 246.4h0.6M195.3 254.7h0.6M196.3 257.8h0.6M196.3 246.3h0.6M196.2 245.2h0.6M196.8 239.9h0.6M195.6 257.5h0.6M195.3 252.5h0.6M195 243h0.6M195.8 247.4h0.6M194.3 254h0.6M196.9 244.4h0.6M196.9 252.8h0.6M194.6 238.7h0.6M195 229.2h0.6M194.5 246.3h0.6M196.6 239.4h0.6M194.4 233.6h0.6M195.9 233.5h0.6M194.8 258.5h0.6M195.8 236.4h0.6M194.9 258.6h0.6M194.8 240.1h0.6M195.7 255h0.6M194.1 252.3h0.6M196.5 245.4h0.6M194 259.7h0.6M196.8 263.1h0.6M195.6 243.4h0.6M194.9 244.2h0.6M193.9 242.9h0.6M195.4 252.2h0.6M196.1 253.7h0.6M194.4 234.5h0.6M194.7 234.9h0.6M195.2 243.3h0.6M194.8 239.6h0.6M194.9 249.7h0.6M196 240.6h0.6M195 229h0.6M194.4 241.6h0.6M195.3 242.2h0.6M195.7 236.3h0.6M195.1 244.4h0.6M195.1 240.5h0.6M194.1 229.5h0.6M195.6 255.9h0.6M196.6 248.7h0.6M194 231.1h0.6M194.8 255.8h0.6M194.9 252.8h0.6M195.1 240.2h0.6M194.6 254.5h0.6M194.2 242.3h0.6M195.1 229.7h0.6M194.7 233.7h0.6M195.5 228.6h0.6M194 235.3h0.6M195.6 250.6h0.6M195.1 259.9h0.6M195.7 254h0.6M194 237.4h0.6M195.4 248.7h0.6M195 258.1h0.6M196.8 245.4h0.6M196.7 241.5h0.6M195.1 260.1h0.6M195.9 234.4h0.6M196.7 242.6h0.6M195.9 249.6h0.6M195.2 246.7h0.6M195.1 240.3h0.6M194.4 240.5h0.6M195.1 252.4h0.6M194.8 256.5h0.6M194.9 234.9h0.6M195.9 231h0.6M195.8 246.5h0.6M196.7 258.8h0.6M196.3 233.8h0.6M195.8 242.9h0.6M196.2 235.8h0.6M196.7 255h0.6M193.9 256.9h0.6M195.9 228.3h0.6M196.7 247.7h0.6M196.8 253.1h0.6M196.7 233.7h0.6M195.6 263.2h0.6M196.1 258.4h0.6M195.8 256.2h0.6M194.8 231.8h0.6M195.2 257h0.6M195.7 241.9h0.6M196.3 254.6h0.6M195.4 231.2h0.6M195.6 230.7h0.6M195.8 241.1h0.6M196.2 259.2h0.6M195.6 258.3h0.6M194.1 258.1h0.6M195.8 231.3h0.6M196.7 259.9h0.6M196.9 229.2h0.6M194.8 251.5h0.6M194.2 234.4h0.6M196.8 235.2h0.6M196.6 246.6h0.6M195.1 253.5h0.6M194.6 231h0.6M196.4 228.4h0.6M194.1 250.2h0.6M196.7 229.4h0.6M196.2 239.3h0.6M194.4 233.3h0.6M196 261.5h0.6M196.7 254.9h0.6M195.6 251.8h0.6M194.4 235.7h0.6M194.7 236.8h0.6M196.1 236.1h0.6M195 243.8h0.6M196.3 260.2h0.6M195 245.9h0.6M195.8 254.6h0.6M195.8 257.1h0.6M194.5 252.1h0.6M196.8 251h0.6M195.8 249.6h0.6M196.5 248.2h0.6M195.8 233.3h0.6M194.2 229h0.6M195.7 245.4h0.6M194 236.4h0.6M196.3 251.3h0.6M195.3 254.7h0.6M194.1 249.7h0.6M195.7 258.2h0.6M195.6 257.6h0.6M194.4 247.6h0.6M196.4 242.6h0.6M195.8 230.7h0.6M196.1 235.2h0.6M195.1 252.4h0.6M196.2 259.2h0.6M194.2 229.8h0.6M196.4 263.6h0.6M196.6 251.8h0.6M195 230.4h0.6M194.4 237.1h0.6M196.7 240.7h0.6M195.9 240h0.6M195 262.6h0.6M196.7 235.8h0.6M195.1 251.8h0.6M195.4 245.2h0.6M195 230.7h0.6M195.5 254.4h0.6M196 246.2h0.6M196.2 256.3h0.6M194.7 237.5h0.6M195.8 248.5h0.6M194.5 238.8h0.6M195.1 258.7h0.6M196.3 263.4h0.6M194.1 263.4h0.6M195.7 232.4h0.6M196.1 230.8h0.6M194.9 232.6h0.6M195.9 234.5h0.6M196.5 246.1h0.6M195 238.3h0.6M196.9 230.7h0.6M194.3 238.8h0.6M196 260.5h0.6M195 237.8h0.6M195.9 232.2h0.6M196.3 258.4h0.6M196.1 247.8h0.6M194.9 248h0.6M196.2 228.7h0.6M196.3 242.9h0.6M194.2 256.1h0.6M196.4 252.6h0.6M196.5 253.8h0.6M195.8 255.5h0.6M195.3 251.7h0.6M196.2 240.7h0.6M195.7 244.5h0.6M194.2 228.9h0.6M194.1 235.1h0.6M194.8 251.2h0.6M196.7 234.1h0.6M194.1 236.3h0.6M194.2 253h0.6M195.7 262.6h0.6M195 228.8h0.6M194.1 254.9h0.6M194.7 251h0.6M194.6 229h0.6M196.9 260.8h0.6M194.3 233h0.6M194.9 257.8h0.6M196.5 234.7h0.6M194 243.4h0.6M195.5 246.5h0.6M196.9 247.9h0.6M194 230.4h0.6M194.1 239.9h0.6M196.9 229.1h0.6M194.6 263.9h0.6M196.6 244h0.6M194.5 247.5h0.6M196.6 230.3h0.6M196.9 228.2h0.6M195.1 239.3h0.6M196.2 228h0.6M194.3 249.7h0.6M196 247.8h0.6M194.2 241.4h0.6M196.4 233.1h0.6M195.6 248.8h0.6M196.8 229.3h0.6M194.2 246.1h0.6M196.1 248.2h0.6M195.5 240.4h0.6M195.4 254.4h0.6M196 263.1h0.6M195.9 248.4h0.6M194.9 245.3h0.6M196 294.6h0.6M193.9 265.7h0.6M195.6 279.9h0.6M194.2 283.1h0.6M196.3 293.1h0.6M194.3 294.9h0.6M194 288.2h0.6M194.1 300.5h0.6M194.7 279.6h0.6M195.4 269.1h0.6M195.4 266.9h0.6M196.1 287.5h0.6M196.5 270.4h0.6M195.6 286.6h0.6M194.7 295.9h0.6M194.8 275.8h0.6M195 292.7h0.6M194.6 265.7h0.6M194.9 299h0.6M195.9 283.6h0.6M194.3 287.4h0.6M194.4 281.5h0.6M196.8 276.6h0.6M194.6 281.1h0.6M196.6 265.2h0.6M193.8 273.4h0.6M195.9 279.6h0.6M195.5 277.6h0.6M195.7 270h0.6M194.6 281h0.6M196.8 279.4h0.6M194.1 272.6h0.6M194.7 279.7h0.6M196.8 281.3h0.6M195.9 283h0.6M194.7 297.3h0.6M194.6 267.2h0.6M196.6 292.8h0.6M194 266.5h0.6M194 265.6h0.6M195.7 295.7h0.6M194.9 300.5h0.6M197 282.1h0.6M195.6 292.6h0.6M194.2 280.7h0.6M196.5 287.9h0.6M195.5 273.9h0.6M196.3 269.4h0.6M194.3 284.7h0.6M194.9 272.5h0.6M194 289.3h0.6M196.3 290.2h0.6M196.6 277.7h0.6M195.3 279.1h0.6M194.7 300.5h0.6M194.3 294.6h0.6M195.6 266.6h0.6M194.4 271.8h0.6M195.5 292.2h0.6M194.7 287.8h0.6M194.5 271.7h0.6M196.7 297.3h0.6M194.2 296.8h0.6M195.7 281.3h0.6M194.8 266.8h0.6M196.2 287.5h0.6M194.4 296.7h0.6M196.9 294h0.6M196.2 270h0.6M194 283.7h0.6M195.4 265.9h0.6M194.2 284.2h0.6M195.3 299.4h0.6M194.9 292.3h0.6M196.5 282.3h0.6M194.3 279.8h0.6M195.8 298h0.6M197 272.9h0.6M196.3 288.4h0.6M194.2 294.3h0.6M195.2 286.9h0.6M194.7 273.3h0.6M197 297h0.6M196.8 299.8h0.6M195.1 274.2h0.6M195.9 296.4h0.6M193.9 287.7h0.6M194.4 269.6h0.6M196.2 277.1h0.6M194.2 296.9h0.6M194.3 287.9h0.6M196.4 269.8h0.6M196.2 273.2h0.6M195.6 299.6h0.6M196.8 295.5h0.6M195.4 278.4h0.6M196.2 271.1h0.6M195 296.2h0.6M195 272.3h0.6M195.5 289.6h0.6M194 265.3h0.6M196.3 265.6h0.6M196 280.1h0.6M194.5 283.1h0.6M194.5 270.2h0.6M195 266.1h0.6M194.4 297.6h0.6M196.2 283h0.6M194.2 270.3h0.6M196.5 300.1h0.6M195.1 268.3h0.6M196.1 286.4h0.6M195.9 286.2h0.6M195.5 287.8h0.6M195.1 273.7h0.6M194.7 281h0.6M194.2 275.4h0.6M196 273.3h0.6M195.2 286.2h0.6M194.6 287.6h0.6M194.6 282h0.6M194.4 276.2h0.6M193.8 272.9h0.6M195.6 270.3h0.6M196.4 300.2h0.6M195.7 284.9h0.6M194 274.9h0.6M195 277.8h0.6M195.3 269.7h0.6M196.8 280h0.6M195.1 274.3h0.6M196.1 286h0.6M194.4 280.4h0.6M193.9 295.6h0.6M196.6 286.6h0.6M194.5 297.6h0.6M195 289.2h0.6M196.6 270.2h0.6M196.5 285.9h0.6M194.8 272.9h0.6M195.9 271.4h0.6M195.2 269.2h0.6M196.9 291.5h0.6M194 298h0.6M196.5 283.8h0.6M196.3 274.5h0.6M195.4 265.5h0.6M194.2 294.8h0.6M196.5 275.9h0.6M194.5 285.8h0.6M196.4 269.1h0.6M196.4 300.3h0.6M195.7 280.1h0.6M195.5 284.7h0.6M194.7 286.2h0.6M196.5 277.3h0.6M195.1 298.7h0.6M196.6 270.9h0.6M194.4 266.9h0.6M194.8 295.3h0.6M193.9 280h0.6M197 293.8h0.6M194.9 277.4h0.6M195.6 293.7h0.6M193.9 276.9h0.6M195.8 290.9h0.6M194.8 279.1h0.6M196.1 271.6h0.6M194.7 290.4h0.6M195.6 296.6h0.6M195.8 283h0.6M194.8 292.6h0.6M196.7 290.1h0.6M194.6 292h0.6M195.8 279h0.6M194.2 294.4h0.6M194.1 294.2h0.6M196.5 296.7h0.6M194.2 283.9h0.6M196 297h0.6M196.7 269.6h0.6M195.7 290.2h0.6M195.2 296.2h0.6M194.6 286.3h0.6M195.6 296.5h0.6M196.7 273.2h0.6M196 279.1h0.6M195.9 295.2h0.6M195 276.2h0.6M195.8 276.9h0.6M194.7 273.9h0.6M196.6 265.3h0.6M196.1 274.4h0.6M193.8 277.7h0.6M196.1 298.6h0.6M195.7 274h0.6M194.6 289.5h0.6M195.7 274.4h0.6M196.1 292.2h0.6M195.2 280.5h0.6M196.2 279.6h0.6M194.1 271h0.6M195.5 267.5h0.6M196 288.3h0.6M196.4 281h0.6M194.2 293.8h0.6M196.2 294h0.6M195.4 298.6h0.6M196.6 290h0.6M195.3 278.1h0.6M196.5 270h0.6M194.1 297.3h0.6M196.2 274.6h0.6M194.4 296.7h0.6M195.7 285.5h0.6M194 285.8h0.6M196.9 293h0.6M195.2 274.8h0.6M194.9 286h0.6M196.3 298.3h0.6M195.7 290.8h0.6M195.8 287.5h0.6M194.7 284.9h0.6M195.9 297.7h0.6M195 294.4h0.6M195.4 291.5h0.6M194.1 297.8h0.6M194 286.7h0.6M196.5 299.1h0.6M195.9 293.8h0.6M194.1 280h0.6M196.2 282.6h0.6M193.8 278.6h0.6M196.1 292.8h0.6M196.2 298.2h0.6M194.2 284.1h0.6M195.7 265.1h0.6M195.1 280.2h0.6M194.1 274.3h0.6M194.1 279h0.6M196.3 266.4h0.6M196.3 278.9h0.6M196.4 279.4h0.6M196.7 280.3h0.6M196.5 270.7h0.6M196.6 274h0.6M196.4 286.5h0.6M194.8 273.3h0.6M220.4 299.6h0.6M223.3 296.9h0.6M201.3 299.1h0.6M223.1 298h0.6M213.9 300.1h0.6M198.1 298.3h0.6M204.6 299.1h0.6M214.8 297.5h0.6M203.5 296.9h0.6M202.3 296.9h0.6M205.1 298.3h0.6M214.9 297.9h0.6M198.6 300.2h0.6M194.8 297.9h0.6M216 297h0.6M205.9 297.4h0.6M222.8 296.7h0.6M213.9 299h0.6M215.1 297.4h0.6M222.5 297.7h0.6M224 298.7h0.6M204.3 299.5h0.6M196.6 299.6h0.6M219.5 298.1h0.6M196.5 297.2h0.6M203 297.1h0.6M198.6 296.8h0.6M224.8 297.3h0.6M203.9 297.8h0.6M217.3 297.6h0.6M221.8 299.2h0.6M225.7 300.2h0.6M203.4 298.3h0.6M202.7 298.3h0.6M205.8 297.9h0.6M218.3 300h0.6M199.4 298.3h0.6M213.2 298.8h0.6M214.9 297.5h0.6M201.6 298h0.6M224.2 297.8h0.6M211.7 296.8h0.6M205 298.9h0.6M205.5 298.9h0.6M210.6 298.3h0.6M215.9 299h0.6M200.7 299.8h0.6M207.1 298.3h0.6M210.9 296.8h0.6M206.8 297.6h0.6M221 299.2h0.6M208.3 297.1h0.6M203.6 298.5h0.6M220.4 297h0.6M196.4 299.6h0.6M197.8 296.9h0.6M196.1 300h0.6M221.1 298.2h0.6M208.5 298.2h0.6M226.1 298.8h0.6M208 298.4h0.6M212.9 298.2h0.6M210.1 296.8h0.6M203.1 298.6h0.6M198.3 296.9h0.6M225 299h0.6M208.8 298.9h0.6M218.2 297.4h0.6M195.6 298h0.6M206 299.6h0.6M221.2 296.9h0.6M217.4 298.4h0.6M197.9 298.6h0.6M212.1 297.3h0.6M205 298.5h0.6M217.5 299.4h0.6M221.9 300.1h0.6M224.2 297.9h0.6M214.7 299.3h0.6M215.2 297.6h0.6M209.7 300.2h0.6M213 298.6h0.6M223.1 299.4h0.6M202.2 299h0.6M196 296.9h0.6M203 299.2h0.6M216.3 299.3h0.6M207.6 300.1h0.6M210.6 297.5h0.6M223.5 298.5h0.6M212.5 299.3h0.6M207.9 300.1h0.6M204 298.6h0.6M207.4 297.8h0.6M224.3 299.6h0.6M195.9 297.1h0.6M221.4 297.4h0.6M211.3 296.8h0.6M222.3 299.1h0.6M210.1 297.6h0.6M197.1 300h0.6M218.1 298h0.6M206.7 299.5h0.6M221.7 298.2h0.6M204.9 298.4h0.6M195.7 297.9h0.6M214 299.8h0.6M195.4 297.7h0.6M213.8 297.3h0.6M205 297.4h0.6M210.2 299.6h0.6M225.3 300.2h0.6M219.3 300h0.6M212.6 300.3h0.6M211.7 300.2h0.6M211 297.4h0.6M209.9 298.5h0.6M219.4 298.6h0.6M221.8 299.1h0.6M201.2 298.8h0.6M214.2 298.3h0.6M202 298.6h0.6M202 297.1h0.6M198.8 297.7h0.6M216.6 298.2h0.6M194.5 298.2h0.6M201.8 298h0.6M196.5 300h0.6M202.8 300.1h0.6M201.4 299.5h0.6M217.4 300h0.6M224.4 299.3h0.6M210.5 298.6h0.6M210.8 300.1h0.6M200.2 299.2h0.6M205.1 300.2h0.6M202.4 298.1h0.6M207.3 298.4h0.6M194.7 298.6h0.6M200.9 296.7h0.6M213.5 297.7h0.6M225 298.3h0.6M210.7 299.3h0.6M226 298h0.6M195.2 296.8h0.6M216.8 299.3h0.6M224.2 298h0.6M199.3 297.8h0.6M204 298.8h0.6M216 299.8h0.6M225.3 299.7h0.6M221.7 299.7h0.6M203.7 296.8h0.6M212.5 298.5h0.6M211.9 297h0.6M197.2 296.8h0.6M197.7 297.2h0.6M203.4 296.8h0.6M199 299.7h0.6M215.3 298h0.6M205.1 296.8h0.6M222.2 298.1h0.6M209.8 300h0.6M220.9 298.8h0.6M196.4 297.7h0.6M225.8 299.7h0.6M199.8 298h0.6M200.4 299.5h0.6M225.6 299.8h0.6M195.9 297.2h0.6M210.8 298.8h0.6M220.9 298.9h0.6M220 298.4h0.6M198.3 297.7h0.6M202.8 300.2h0.6M217.2 299.7h0.6M225.8 298h0.6M200.3 298.2h0.6M197.7 296.7h0.6M225.8 296.8h0.6M200.3 297.4h0.6M216.4 297.8h0.6M205.5 298.6h0.6M215 299.7h0.6M222.3 296.8h0.6M207.7 298.7h0.6M207.5 298.3h0.6M214.4 299.7h0.6M201.4 299.3h0.6M216.7 298.4h0.6M210.8 299.3h0.6M211.8 298.6h0.6M196.5 299.5h0.6M210.8 298.9h0.6M220.7 298.4h0.6M208.1 298h0.6M218.8 300.1h0.6M212.8 299.1h0.6M225 299.8h0.6M219.7 298h0.6M207.3 299.2h0.6M203.3 300h0.6M204.1 298.9h0.6M201.3 297.7h0.6M207.9 297.6h0.6M212.5 300.2h0.6M198.5 299.3h0.6M219.7 299.7h0.6M217 300.2h0.6M216.1 299.9h0.6M203.6 299.2h0.6M207.2 299.1h0.6M215.4 297.2h0.6M214.7 299.6h0.6M215.6 297.8h0.6M208 297.4h0.6M200.6 299.2h0.6M195.6 298.1h0.6M205.5 299h0.6M198.1 299.7h0.6M225.7 299.1h0.6M225.4 299.5h0.6M211.2 298.8h0.6M223.7 299.6h0.6M200.4 297.8h0.6M216.1 300h0.6M205.4 297.5h0.6M204 297.2h0.6M211 299.4h0.6M223.8 300.1h0.6M210.5 298.7h0.6M224.4 299.8h0.6M200.6 298.1h0.6M215.2 297.5h0.6M220.1 300h0.6M197.4 297.9h0.6M210.1 298.3h0.6M218.5 298h0.6M210.5 299.1h0.6M215.1 299.5h0.6M218.6 298.6h0.6M220.6 299.7h0.6M206 297.6h0.6M198.7 298.8h0.6M222.6 297.8h0.6M196.7 300h0.6M200.7 297.6h0.6M210 298.9h0.6M221.1 299.4h0.6M204.1 298.5h0.6M225.3 299h0.6M206.8 298.3h0.6M212.7 296.9h0.6M203 298.4h0.6M204.1 296.8h0.6M216.1 299.9h0.6M205.5 299h0.6M206 299h0.6M210.2 299.5h0.6M204 299.8h0.6M210.6 299.5h0.6M219.5 298.2h0.6M219.4 299.5h0.6M211 297.9h0.6M200.9 299.2h0.6M210.2 299.1h0.6M214.9 297.4h0.6M211.6 299.8h0.6M208.8 299.6h0.6M200.8 298h0.6M215 299.8h0.6M222.5 299.8h0.6M217.2 297.1h0.6M208 299.7h0.6M225.3 297h0.6M216.9 299.9h0.6M223.7 297.6h0.6M220.7 300.2h0.6M196 297.7h0.6M217.2 297.4h0.6M224.7 297.8h0.6M200.9 298h0.6M206.3 298h0.6M209.4 299.6h0.6M201.3 297h0.6M214.5 298.5h0.6M204.8 297.2h0.6M210.8 299.6h0.6M207.5 297.9h0.6M212 299.1h0.6M223.8 298.5h0.6M197.6 298.7h0.6M217.9 300h0.6M205.5 298.2h0.6M206.4 298.3h0.6M220.8 299h0.6M206.4 298.5h0.6M203.1 299.5h0.6M194.7 299.4h0.6M198.2 297h0.6M275.7 272.1h0.6M233.1 296.4h0.6M236.2 282.7h0.6M264.3 292.5h0.6M251.7 275.7h0.6M253 298h0.6M268.4 280h0.6M242.8 281.5h0.6M234.5 288.1h0.6M243 271.6h0.6M258.4 289.5h0.6M241.5 295.4h0.6M263.7 282.5h0.6M266.4 276.8h0.6M250.4 277.6h0.6M243.6 274.8h0.6M272.9 285.9h0.6M268.2 273.8h0.6M270.6 285.4h0.6M254.6 293.3h0.6M271.4 291.6h0.6M243.4 278.5h0.6M248.8 287.5h0.6M259.8 287.9h0.6M246.9 283h0.6M268.4 277.7h0.6M257.4 287.6h0.6M243 271.5h0.6M271.5 290.5h0.6M239.5 297.7h0.6M247.2 288.8h0.6M250.4 279.1h0.6M236.7 271.7h0.6M249.3 289.6h0.6M259 284.5h0.6M239.6 276.9h0.6M244.3 283.6h0.6M243 288.5h0.6M254.8 290.1h0.6M268.4 283.7h0.6M273.8 280.7h0.6M234.1 278.4h0.6M267.9 283h0.6M263 283.2h0.6M249.6 281.2h0.6M234.4 294h0.6M255.1 289.1h0.6M247.3 288.3h0.6M254.1 298.7h0.6M263.2 294.8h0.6M237.9 286.2h0.6M269.2 274.7h0.6M264.7 295.5h0.6M272.9 283.8h0.6M241.8 279.6h0.6M233.2 277.5h0.6M249.6 288.5h0.6M262 287.6h0.6M273.4 279.9h0.6M267.1 282.8h0.6M236.6 294.4h0.6M240.5 274.6h0.6M263.9 296.2h0.6M247.4 294.5h0.6M247 275.3h0.6M273.3 284.5h0.6M241.5 280.1h0.6M270.1 283.9h0.6M245.7 272.1h0.6M236.3 279.1h0.6M257.7 297.8h0.6M239.4 285.8h0.6M265.9 283.7h0.6M242.1 294.5h0.6M236.9 293.4h0.6M274.8 293.6h0.6M257.5 286.6h0.6M248.9 298.8h0.6M270.3 284.3h0.6M253.2 281.3h0.6M252.4 292.1h0.6M259.2 287.4h0.6M259.8 284.6h0.6M237.7 289.1h0.6M267 296.6h0.6M260.7 279h0.6M235.4 297.6h0.6M240.5 287.9h0.6M274.4 273.8h0.6M274.5 297.5h0.6M247.5 272.2h0.6M207 218.5h0.6M234.4 284.4h0.6M238.6 293.4h0.6M260.3 207h0.6M254.9 269.4h0.6M202.1 248.7h0.6M285.2 202.9h0.6M276.6 217.6h0.6M293.4 254.1h0.6M291.3 294.7h0.6M241.4 289.4h0.6M212.9 284.8h0.6M212 210.4h0.6M261 298.3h0.6M195.6 225.2h0.6M265.9 233.9h0.6M216.9 250.3h0.6M265.9 293.8h0.6M282.5 293.1h0.6M296.4 258.6h0.6M198.3 294.5h0.6M290 202.2h0.6M269.4 235.9h0.6M286.8 199.4h0.6M250.4 230.3h0.6M233 298.6h0.6M242.1 272.7h0.6M258.5 299.5h0.6M262.1 289.3h0.6M246.1 241.5h0.6M250.6 263.2h0.6M258.7 236.2h0.6M231.3 253.7h0.6M246.7 244.3h0.6M253.4 252.9h0.6M258.9 285.3h0.6M236.6 280.3h0.6M252.3 264.3h0.6M253.6 240.5h0.6M241.7 299.5h0.6M245.4 266.9h0.6M236.1 257.6h0.6M255 244.7h0.6M262.4 271h0.6M237.1 274.4h0.6M234.2 244h0.6M233.4 269.8h0.6M246 282.9h0.6M250.8 274.7h0.6M230.2 277.1h0.6M227.7 231.4h0.6M237.8 300.6h0.6" stroke="#4a4a4a" stroke-width="0.6"/>
<rect x="192.9" y="226.5" width="4.3" height="74.5" fill="url(#vb2)" fill-opacity="0.95"/>
<rect x="192.9" y="296.8" width="33" height="3.8" fill="url(#hb2)" fill-opacity="0.9"/>
<path d="M216.4 293.7 215.4 293.8 214.7 293.7 213.9 293.6 212.9 293.3 212.4 293.1 211.4 292.7 210.9 292.4 210.4 292.1 209.9 291.7 209.3 291.2 208.8 290.7 208.4 290.2 207.9 289.7 207.4 289 206.9 288.4 206.4 287.7 206 287.2 205.7 286.7 205.4 286 205.1 285.2 204.9 284.3 204.8 283.7 204.8 282.7 204.8 281.7 204.8 280.7 204.8 279.7 204.9 278.7 204.9 278.1 205 277.2 205.1 276.2 205.4 275.2 205.5 274.7 205.9 273.7 206.1 273.2 206.4 272.6 206.8 271.7 206.9 271.2 206.9 270.3 206.7 269.7 206.3 269.2 205.8 268.7 205.2 268.2 204.5 267.7 203.9 267.2 203.4 266.7 202.9 266.2 202.6 265.7 202.4 265.2 202.4 264.2 202.5 263.7 202.9 262.7 203.1 262.2 203.3 261.2 203.1 260.2 202.9 259.6 202.5 258.7 202.2 258.2 201.9 257.5 201.5 256.7 201.2 256.2 200.9 255.4 200.6 254.7 200.4 254.2 200 253.2 199.8 252.7 199.5 251.7 199.3 251.2 199.1 250.2 198.9 249.2 198.9 248.7 198.8 247.7 198.8 246.7 198.9 246 199 245.2 199.1 244.2 199.3 243.2 199.5 242.7 199.7 241.7 199.9 241.1 200.2 240.2 200.4 239.6 200.7 238.7 201 238.2 201.4 237.3 201.7 236.7 202.1 236.2 202.4 235.7 202.9 235.1 203.4 234.4 203.9 233.8 204.4 233.3 204.9 232.7 205.4 232.2 205.9 231.7 206.4 231.3 206.9 230.9 207.4 230.6 208.1 230.2 208.9 229.8 209.4 229.6 210.4 229.2 210.9 229.1 211.9 228.8 212.4 228.6 213.4 228.4 214.1 228.2 214.9 228.1 215.9 228 216.9 228 217.8 228.2 218.4 228.3 219.4 228.7 219.9 228.8 220.9 229.2 221.4 229.3 222.4 229.7 222.9 229.9 223.9 230.2 224.4 230.3 225.4 230.6 225.9 230.8 226.9 231.1 227.4 231.2 228.4 231.4 229.4 231.7 229.9 231.8 230.9 232 231.9 232.2 232.4 232.3 233.4 232.6 233.9 232.8 234.9 233.2 235.4 233.4 236 233.7 236.8 234.2 237.4 234.6 237.9 235 238.4 235.4 238.9 235.9 239.4 236.4 239.9 237 240.4 237.6 240.8 238.2 241.2 238.7 241.5 239.2 241.9 239.9 242.3 240.7 242.6 241.2 242.9 241.8 243.3 242.7 243.5 243.2 243.8 244.2 243.9 244.7 244.1 245.7 244.1 246.7 244.1 247.7 244 248.7 243.9 249.7 243.9 250.2 243.7 251.2 243.5 252.2 243.3 252.7 243 253.7 242.8 254.2 242.4 254.9 241.9 255.7 241.5 256.2 241.2 256.7 240.7 257.2 240.3 257.7 239.8 258.2 239.3 258.7 238.8 259.2 238.4 259.9 238.3 260.7 238.7 261.2 239.4 261.7 239.9 262 240.4 262.2 241.4 262.5 241.9 262.7 242.9 263 243.9 263.1 244.4 263.2 245.4 263.3 246.2 263.2 246.9 263.1 247.9 262.7 248.4 262.4 248.9 261.9 249.3 261.2 249.5 260.7 249.6 259.7 249.5 258.7 249.4 258.2 249.1 257.2 248.9 256.5 248.6 255.7 248.4 254.8 248.2 254.2 248 253.2 247.9 252.7 247.8 251.7 247.7 250.7 247.8 249.7 247.9 248.7 248 248.2 248.2 247.2 248.4 246.3 248.6 245.7 248.9 244.7 249 244.2 249.4 243.2 249.6 242.7 249.9 241.8 250.2 241.2 250.4 240.7 250.9 239.7 251.1 239.2 251.4 238.7 251.9 237.8 252.2 237.2 252.5 236.7 252.9 236 253.3 235.2 253.6 234.7 254 234.2 254.4 233.5 254.9 232.9 255.4 232.3 255.9 231.8 256.4 231.3 256.9 230.9 257.4 230.5 257.9 230.2 258.7 229.7 259.4 229.3 259.9 229.1 260.8 228.7 261.4 228.5 262.3 228.2 262.9 228 263.9 227.8 264.9 227.7 265.9 227.7 266.9 227.9 267.7 228.2 268.4 228.5 268.9 228.9 269.4 229.2 269.9 229.7 270.4 230.2 270.9 230.9 271.4 231.6 271.8 232.2 272 232.7 272.4 233.5 272.7 234.2 272.9 234.7 273.2 235.7 273.4 236.4 273.6 237.2 273.8 238.2 273.9 238.7 274.1 239.7 274.2 240.7 274.3 241.7 274.4 242.7 274.4 243.7 274.4 244.2 274.4 245.2 274.4 245.7 274.3 246.7 274.2 247.7 274 248.7 273.9 249.3 273.7 250.2 273.5 251.2 273.3 251.7 273.1 252.7 272.9 253.2 272.6 254.2 272.4 255 272.2 255.7 271.9 256.6 271.7 257.2 271.4 258 271.1 258.7 270.9 259.2 270.4 260.2 270.1 260.7 269.8 261.2 269.4 261.8 268.9 262.5 268.4 263.1 267.9 263.6 267.4 264.1 266.9 264.6 266.4 265.1 265.9 265.5 265.4 265.9 264.9 266.3 264.4 266.7 263.7 267.2 262.9 267.7 262.4 268 261.9 268.2 260.9 268.6 260.4 268.8 259.4 269 258.4 269 257.4 269 256.4 268.8 255.9 268.6 254.9 268.4 254.4 268.2 253.4 267.9 252.9 267.7 251.9 267.4 251 267.2 250.4 267.1 249.4 266.9 248.4 266.9 247.4 266.9 246.4 266.9 245.4 267.1 244.7 267.2 243.9 267.3 242.9 267.5 242.1 267.7 241.4 267.8 240.4 268 239.4 268.2 238.9 268.2 237.9 268.4 236.9 268.5 235.9 268.6 235.2 268.7 234.4 268.8 233.4 268.9 232.4 269.1 231.7 269.2 230.9 269.3 229.9 269.5 229 269.7 228.4 269.8 227.4 270.1 226.9 270.2 225.9 270.6 225.4 270.8 224.7 271.2 224.3 271.7 224.2 272.7 224.4 273.5 224.7 274.2 224.9 274.7 225.3 275.7 225.5 276.2 225.8 277.2 225.9 277.7 226.1 278.7 226.3 279.7 226.4 280.7 226.4 281.6 226.4 281.7 226.4 282.7 226.2 283.7 226.1 284.7 225.9 285.3 225.6 286.2 225.4 286.7 225 287.7 224.7 288.2 224.4 288.7 223.9 289.5 223.4 290.1 222.9 290.6 222.4 291.1 221.9 291.5 221.4 291.9 220.9 292.2 219.9 292.7 219.4 292.9 218.6 293.2 217.9 293.4 216.9 293.6 216.4 293.7ZM259.4 266.8 258.4 266.9 257.4 266.8 256.9 266.7 255.9 266.4 255.3 266.2 254.4 265.8 253.9 265.5 253.4 265.1 252.9 264.7 252.4 263.8 252.2 263.2 252.2 262.2 252.1 261.2 251.9 260.2 251.8 259.7 251.6 258.7 251.4 258.2 251.1 257.2 250.9 256.6 250.6 255.7 250.4 255 250.2 254.2 250 253.2 249.9 252.7 249.8 251.7 249.8 250.7 249.9 249.8 250 249.2 250.2 248.2 250.4 247.2 250.5 246.7 250.8 245.7 250.9 245.2 251.1 244.2 251.4 243.3 251.6 242.7 251.9 241.8 252.1 241.2 252.4 240.5 252.8 239.7 253.1 239.2 253.4 238.5 253.9 237.7 254.1 237.2 254.4 236.7 254.9 235.9 255.4 235.2 255.7 234.7 256.1 234.2 256.5 233.7 257 233.2 257.6 232.7 258.2 232.2 258.9 231.8 259.4 231.5 260 231.2 260.9 230.8 261.4 230.6 262.4 230.3 262.9 230.2 263.9 230 264.9 230 265.9 230.1 266.5 230.2 267.4 230.5 267.9 230.8 268.4 231.2 269 231.7 269.4 232.2 269.9 232.8 270.4 233.6 270.7 234.2 271 234.7 271.4 235.7 271.6 236.2 271.9 237.2 272 237.7 272.3 238.7 272.4 239.4 272.5 240.2 272.6 241.2 272.7 242.2 272.7 243.2 272.7 244.2 272.7 245.2 272.7 246.2 272.6 247.2 272.5 248.2 272.4 248.9 272.3 249.7 272.1 250.7 271.9 251.4 271.7 252.2 271.5 253.2 271.3 253.7 271 254.7 270.9 255.2 270.5 256.2 270.3 256.7 269.9 257.6 269.6 258.2 269.4 258.7 268.9 259.5 268.4 260.2 268 260.7 267.6 261.2 267.1 261.7 266.6 262.2 266 262.7 265.4 263.2 264.9 263.6 264.4 264.1 263.9 264.5 263.4 264.8 262.9 265.2 262.1 265.7 261.4 266.1 260.9 266.3 259.9 266.7 259.4 266.8ZM216.4 291.3 215.4 291.3 214.4 291.3 213.9 291.2 212.9 290.9 212.4 290.6 211.7 290.2 211 289.7 210.5 289.2 210 288.7 209.5 288.2 209.1 287.7 208.7 287.2 208.4 286.7 207.9 286 207.5 285.2 207.3 284.7 207.1 283.7 207 282.7 206.9 281.8 206.9 281.2 206.9 280.2 206.9 279.2 206.9 278.2 206.9 277.7 207.1 276.7 207.4 275.8 207.6 275.2 207.9 274.7 208.4 273.9 208.9 273.3 209.4 272.7 209.8 272.2 210.2 271.7 210.5 271.2 210.7 270.2 210.4 269.5 209.9 268.8 209.4 268.3 208.9 267.8 208.4 267.4 207.9 266.9 207.4 266.5 206.9 265.8 206.6 265.2 206.7 264.2 206.9 263.7 207.4 262.7 207.5 262.2 207.5 261.2 207.2 260.7 206.9 260.2 206.4 259.6 205.9 259 205.4 258.3 204.9 257.7 204.5 257.2 204.2 256.7 203.9 256.2 203.4 255.4 203 254.7 202.7 254.2 202.4 253.5 202 252.7 201.8 252.2 201.5 251.2 201.4 250.7 201.2 249.7 201 248.7 201 247.7 201 246.7 201 245.7 201.1 244.7 201.3 243.7 201.4 243.2 201.7 242.2 201.9 241.5 202.2 240.7 202.4 240.2 202.9 239.2 203.1 238.7 203.4 238.2 203.9 237.5 204.4 236.8 204.9 236.2 205.3 235.7 205.7 235.2 206.2 234.7 206.7 234.2 207.2 233.7 207.8 233.2 208.4 232.7 208.9 232.4 209.4 232.1 210.3 231.7 210.9 231.5 211.7 231.2 212.4 231 213.4 230.7 213.9 230.6 214.9 230.5 215.9 230.4 216.9 230.4 217.9 230.5 218.9 230.6 219.4 230.7 220.4 231 221.1 231.2 221.9 231.4 222.6 231.7 223.4 232 224 232.2 224.9 232.5 225.4 232.7 226.4 233.1 226.9 233.2 227.9 233.5 228.8 233.7 229.4 233.8 230.4 234 231.4 234.2 231.9 234.3 232.9 234.5 233.5 234.7 234.4 235 234.9 235.2 235.9 235.7 236.4 236 236.9 236.3 237.4 236.7 237.9 237.2 238.4 237.7 238.9 238.3 239.4 238.9 239.9 239.6 240.3 240.2 240.5 240.7 240.9 241.4 241.3 242.2 241.5 242.7 241.9 243.7 242 244.2 242.2 245.2 242.2 246.2 242.2 247.2 242.2 248.2 242.1 249.2 241.9 250.2 241.8 250.7 241.7 251.7 241.4 252.6 241.2 253.2 240.9 253.8 240.4 254.7 240.1 255.2 239.7 255.7 239.2 256.2 238.7 256.7 238.1 257.2 237.4 257.7 236.9 258 236.4 258.4 235.9 258.7 235.2 259.2 234.6 259.7 234.3 260.2 234.4 261.2 234.9 261.7 235.4 262 235.9 262.3 236.6 262.7 237.4 263.1 237.9 263.3 238.9 263.7 239.4 264 239.9 264.2 240.6 264.7 240.9 265.2 240.8 265.7 240.3 266.2 239.4 266.6 238.9 266.8 237.9 267 237.2 267.2 236.4 267.4 235.4 267.5 234.4 267.7 233.9 267.8 232.9 268 231.9 268.1 231.4 268.2 230.4 268.4 229.4 268.5 228.4 268.7 227.9 268.7 226.9 268.9 225.9 269 224.9 269.1 224.4 269.2 223.4 269.4 222.4 269.5 221.7 269.7 220.9 270 220.4 270.3 219.9 270.7 219.7 271.7 219.9 272.2 220.4 272.9 220.9 273.5 221.4 274 221.9 274.6 222.4 275.2 222.7 275.7 223.1 276.2 223.4 276.9 223.8 277.7 223.9 278.2 224.2 279.2 224.3 280.2 224.4 280.9 224.4 281.7 224.4 282.3 224.3 283.2 224.1 284.2 223.9 284.9 223.6 285.7 223.4 286.2 222.9 287.1 222.5 287.7 222.1 288.2 221.6 288.7 221.1 289.2 220.4 289.7 219.9 290 219.4 290.3 218.5 290.7 217.9 290.9 216.9 291.2 216.4 291.3ZM219.4 268.2 218.4 268.4 217.4 268.5 216.4 268.6 215.4 268.5 214.4 268.3 213.9 268.1 213.1 267.7 212.4 267.2 211.9 266.7 211.5 266.2 211.3 265.7 211.4 264.7 211.6 264.2 211.9 263.7 212.4 263.2 212.9 262.5 213.2 261.7 212.9 261.2 212.3 260.7 211.4 260.2 210.9 259.9 210.4 259.6 209.8 259.2 209.1 258.7 208.5 258.2 207.9 257.7 207.4 257.2 207 256.7 206.5 256.2 206.1 255.7 205.8 255.2 205.4 254.7 204.9 253.9 204.5 253.2 204.3 252.7 203.9 251.9 203.6 251.2 203.4 250.4 203.2 249.7 203.1 248.7 203 247.7 202.9 246.7 202.9 245.7 203 244.7 203.2 243.7 203.4 242.8 203.6 242.2 203.9 241.4 204.2 240.7 204.5 240.2 204.9 239.5 205.4 238.7 205.8 238.2 206.2 237.7 206.6 237.2 207 236.7 207.5 236.2 208 235.7 208.5 235.2 209.1 234.7 209.8 234.2 210.4 233.8 210.9 233.6 211.9 233.2 212.4 233 213.4 232.8 213.9 232.7 214.9 232.5 215.9 232.4 216.9 232.4 217.9 232.4 218.9 232.5 219.9 232.6 220.4 232.7 221.4 233 221.9 233.2 222.9 233.6 223.4 233.9 224.1 234.2 224.9 234.6 225.4 234.8 226.4 235.2 226.9 235.4 227.9 235.7 228.4 235.8 229.4 236 230.4 236.1 230.9 236.2 231.9 236.4 232.9 236.6 233.4 236.7 234.4 237 234.9 237.3 235.7 237.7 236.4 238.2 236.9 238.7 237.4 239.2 237.9 239.7 238.3 240.2 238.6 240.7 239 241.2 239.4 241.9 239.8 242.7 240 243.2 240.4 244.2 240.5 244.7 240.6 245.7 240.7 246.7 240.6 247.7 240.6 248.7 240.4 249.7 240.3 250.2 240.1 251.2 239.9 252 239.6 252.7 239.4 253.2 238.9 254 238.4 254.6 237.9 255.1 237.4 255.5 236.9 255.9 236.4 256.2 235.5 256.7 234.9 257 234.4 257.2 233.4 257.7 232.9 257.9 231.9 258.2 231.4 258.3 230.4 258.5 229.4 258.6 228.4 258.6 227.4 258.7 226.9 258.7 225.9 258.9 225.1 259.2 224.4 259.6 223.9 260 223.4 260.7 223.4 260.7 223.9 261.6 224.4 261.8 225.4 262.1 226.4 262.1 227.4 262.1 228.4 262.2 228.9 262.2 229.9 262.3 230.9 262.6 231.4 262.7 232.4 263.1 232.9 263.3 233.6 263.7 234.4 264.2 234.9 264.7 235 265.2 234.7 265.7 233.9 266.1 233.4 266.3 232.4 266.7 231.9 266.8 230.9 267 230 267.2 229.4 267.3 228.4 267.4 227.4 267.5 226.4 267.6 225.4 267.6 224.4 267.7 223.9 267.7 222.9 267.8 221.9 267.8 220.9 268 219.9 268.1 219.4 268.2ZM259.9 264.2 258.9 264.3 257.9 264.2 257.4 264.1 256.7 263.7 256 263.2 255.5 262.7 255.1 262.2 254.8 261.7 254.4 261.1 254 260.2 253.7 259.7 253.4 258.9 253.1 258.2 252.9 257.7 252.5 256.7 252.3 256.2 252 255.2 251.8 254.7 251.6 253.7 251.4 252.7 251.4 252.2 251.4 251.2 251.4 250.7 251.5 249.7 251.7 248.7 251.9 248 252.1 247.2 252.3 246.2 252.5 245.7 252.7 244.7 252.9 243.8 253.1 243.2 253.4 242.2 253.6 241.7 253.9 240.9 254.2 240.2 254.5 239.7 254.9 239 255.4 238.2 255.7 237.7 256 237.2 256.4 236.7 256.9 236 257.4 235.4 257.9 234.9 258.4 234.5 258.9 234.1 259.5 233.7 260.4 233.2 260.9 233 261.8 232.7 262.4 232.5 263.4 232.3 264.4 232.3 265.4 232.4 266.4 232.6 266.9 232.9 267.4 233.2 268 233.7 268.5 234.2 268.9 234.7 269.4 235.5 269.8 236.2 270 236.7 270.4 237.7 270.6 238.2 270.8 239.2 270.9 239.7 271.1 240.7 271.1 241.7 271.2 242.7 271.2 243.7 271.3 244.7 271.3 245.7 271.2 246.7 271.2 247.7 271.1 248.7 270.9 249.7 270.9 250.2 270.7 251.2 270.4 252.2 270.3 252.7 270 253.7 269.9 254.2 269.5 255.2 269.3 255.7 268.9 256.6 268.6 257.2 268.3 257.7 267.9 258.3 267.4 258.9 266.9 259.5 266.4 260 265.9 260.5 265.4 260.9 264.9 261.4 264.4 261.7 263.8 262.2 263.1 262.7 262.4 263.1 261.9 263.4 261.4 263.7 260.4 264.1 259.9 264.2ZM215.9 288.7 215.3 288.7 214.4 288.6 213.4 288.2 212.9 288 212.4 287.7 211.8 287.2 211.3 286.7 210.8 286.2 210.4 285.7 209.9 284.9 209.6 284.2 209.4 283.6 209.2 282.7 209 281.7 208.9 280.7 208.9 279.7 209 278.7 209.1 277.7 209.4 276.9 209.7 276.2 210 275.7 210.4 275.2 210.9 274.7 211.4 274.2 212.2 273.7 212.9 273.3 213.4 273.1 214.4 272.9 215.4 273 216.1 273.2 216.9 273.6 217.4 273.8 217.9 274.2 218.6 274.7 219.2 275.2 219.7 275.7 220.2 276.2 220.6 276.7 220.9 277.2 221.4 278 221.7 278.7 221.9 279.2 222.2 280.2 222.3 281.2 222.3 282.2 222.2 283.2 221.9 284.2 221.7 284.7 221.4 285.4 220.9 286.1 220.4 286.7 219.9 287.2 219.4 287.5 218.9 287.8 218.1 288.2 217.4 288.5 216.4 288.7 215.9 288.7ZM219.4 259.3 218.4 259.4 217.4 259.3 216.7 259.2 215.9 259.1 214.9 258.9 214.2 258.7 213.4 258.5 212.4 258.2 211.9 258.1 211.2 257.7 210.4 257.2 209.9 256.9 209.4 256.4 208.9 255.9 208.4 255.4 207.9 254.8 207.5 254.2 207.1 253.7 206.8 253.2 206.4 252.6 205.9 251.7 205.7 251.2 205.4 250.4 205.2 249.7 205 248.7 204.9 248.2 204.8 247.2 204.7 246.2 204.7 245.2 204.8 244.2 204.9 243.7 205.2 242.7 205.4 242.2 205.8 241.2 206.1 240.7 206.4 240.2 206.9 239.4 207.4 238.8 207.8 238.2 208.3 237.7 208.7 237.2 209.3 236.7 209.9 236.2 210.4 235.8 210.9 235.5 211.4 235.2 212.4 234.8 212.9 234.6 213.9 234.4 214.9 234.2 215.4 234.2 216.4 234.1 217.4 234 218.4 234 219.4 234.1 219.9 234.2 220.9 234.5 221.4 234.7 222.4 235.1 222.9 235.4 223.4 235.7 224.3 236.2 224.9 236.6 225.4 236.8 226.1 237.2 226.9 237.6 227.4 237.7 228.4 238 229.2 238.2 229.9 238.3 230.9 238.4 231.9 238.6 232.6 238.7 233.4 238.9 234 239.2 234.9 239.7 235.4 240.1 235.9 240.5 236.4 241 236.9 241.6 237.4 242.2 237.7 242.7 238 243.2 238.4 243.9 238.7 244.7 238.9 245.4 239 246.2 239.1 247.2 239 248.2 238.9 249.2 238.9 249.7 238.6 250.7 238.4 251.4 238 252.2 237.7 252.7 237.3 253.2 236.8 253.7 236.2 254.2 235.4 254.7 234.9 255 234.4 255.2 233.4 255.6 232.9 255.8 231.9 256 230.9 256.2 230.4 256.3 229.4 256.3 228.4 256.3 227.4 256.4 226.4 256.5 225.4 256.7 224.9 256.8 224 257.2 223.4 257.5 222.9 257.8 222.1 258.2 221.4 258.6 220.9 258.8 219.9 259.2 219.4 259.3ZM260.9 261.7 259.9 261.9 258.9 261.9 258.3 261.7 257.4 261.3 256.9 260.9 256.4 260.5 255.9 260 255.4 259.3 255 258.7 254.7 258.2 254.4 257.7 253.9 256.7 253.7 256.2 253.4 255.6 253.1 254.7 252.9 253.9 252.7 253.2 252.6 252.2 252.6 251.2 252.8 250.2 252.9 249.4 253 248.7 253.3 247.7 253.4 247.2 253.7 246.2 253.9 245.2 254 244.7 254.3 243.7 254.4 243.2 254.8 242.2 255 241.7 255.4 240.9 255.8 240.2 256.1 239.7 256.4 239.2 256.9 238.5 257.4 237.9 257.9 237.3 258.4 236.8 258.9 236.4 259.4 236 259.9 235.7 260.9 235.2 261.4 235 262.3 234.7 262.9 234.6 263.9 234.5 264.9 234.5 265.6 234.7 266.4 235.1 266.9 235.4 267.4 235.8 267.9 236.4 268.4 237.1 268.8 237.7 269 238.2 269.3 239.2 269.5 239.7 269.7 240.7 269.8 241.7 269.9 242.7 269.9 243.2 270 244.2 270 245.2 270 246.2 270 247.2 270 248.2 269.9 248.9 269.8 249.7 269.6 250.7 269.4 251.7 269.3 252.2 269 253.2 268.9 253.7 268.5 254.7 268.2 255.2 267.9 255.9 267.4 256.7 267.1 257.2 266.7 257.7 266.2 258.2 265.7 258.7 265.2 259.2 264.6 259.7 263.9 260.2 263.4 260.5 262.9 260.8 262.2 261.2 261.4 261.6 260.9 261.7ZM219.4 265.7 218.4 265.8 217.7 265.7 217.1 265.2 217.4 264.7 218.4 264.2 218.9 264.2 219.5 264.2 220.4 264.5 220.8 265.2 219.9 265.6 219.4 265.7ZM216.9 286.3 215.9 286.4 214.9 286.3 214.4 286.1 213.7 285.7 213 285.2 212.6 284.7 212.2 284.2 211.9 283.7 211.5 282.7 211.4 282.2 211.2 281.2 211.2 280.2 211.3 279.2 211.4 278.7 211.8 277.7 212.2 277.2 212.7 276.7 213.4 276.2 213.9 276 214.9 275.9 215.9 276.1 216.4 276.3 217.1 276.7 217.7 277.2 218.2 277.7 218.7 278.2 219 278.7 219.4 279.4 219.7 280.2 219.9 281 220 281.7 220 282.7 219.9 283.2 219.5 284.2 219.2 284.7 218.8 285.2 218.2 285.7 217.4 286.1 216.9 286.3ZM218.4 257.2 217.4 257.2 216.9 257.2 215.9 257.1 214.9 256.9 214 256.7 213.4 256.5 212.6 256.2 211.9 255.9 211.4 255.5 210.9 255.1 210.4 254.6 209.9 254.1 209.4 253.5 208.9 252.8 208.5 252.2 208.2 251.7 207.9 251.2 207.4 250.2 207.2 249.7 206.9 248.7 206.8 248.2 206.6 247.2 206.5 246.2 206.5 245.2 206.7 244.2 206.9 243.2 207.1 242.7 207.4 241.9 207.7 241.2 208 240.7 208.4 240.1 208.9 239.4 209.4 238.8 209.9 238.3 210.4 237.8 210.9 237.4 211.4 237.1 212.2 236.7 212.9 236.4 213.6 236.2 214.4 236 215.4 235.9 216.4 235.8 217.4 235.7 218.4 235.7 219.4 235.8 220.4 236.1 220.9 236.3 221.8 236.7 222.4 237 222.9 237.3 223.5 237.7 224.2 238.2 224.9 238.7 225.4 239.1 225.9 239.5 226.4 239.8 227 240.2 227.8 240.7 228.4 241 228.9 241.2 229.9 241.5 230.5 241.7 231.4 241.9 232.1 242.2 232.9 242.6 233.4 243 233.9 243.5 234.4 243.9 234.9 244.5 235.4 245 235.9 245.6 236.2 246.2 236.4 246.7 236.6 247.7 236.7 248.7 236.5 249.7 236.4 250.2 235.9 251.1 235.4 251.7 234.9 252.2 234.4 252.5 233.9 252.8 233 253.2 232.4 253.4 231.4 253.6 230.9 253.7 229.9 253.8 228.9 253.9 227.9 254 226.9 254.1 226.3 254.2 225.4 254.4 224.5 254.7 223.9 255 223.4 255.2 222.5 255.7 221.9 256 221.4 256.3 220.5 256.7 219.9 256.9 218.9 257.2 218.4 257.2ZM260.4 259.7 259.4 259.7 258.9 259.6 257.9 259.2 257.4 258.9 256.9 258.5 256.4 258 255.9 257.4 255.4 256.7 255.1 256.2 254.9 255.7 254.4 254.7 254.3 254.2 254 253.2 253.9 252.2 253.9 251.7 253.9 251.2 254 250.2 254.2 249.2 254.4 248.2 254.5 247.7 254.7 246.7 254.9 246.1 255.1 245.2 255.4 244.2 255.6 243.7 255.9 242.8 256.2 242.2 256.4 241.7 256.9 241 257.4 240.3 257.9 239.7 258.3 239.2 258.8 238.7 259.4 238.2 259.9 237.9 260.4 237.6 261.2 237.2 261.9 236.9 262.9 236.7 263.4 236.7 264.4 236.7 264.9 236.8 265.8 237.2 266.4 237.6 266.9 238.1 267.3 238.7 267.6 239.2 267.9 239.9 268.2 240.7 268.4 241.7 268.5 242.2 268.6 243.2 268.7 244.2 268.8 245.2 268.8 246.2 268.9 247.2 268.8 248.2 268.7 249.2 268.6 250.2 268.4 251.2 268.3 251.7 268 252.7 267.8 253.2 267.4 254.2 267.1 254.7 266.9 255.2 266.4 255.9 265.9 256.5 265.4 257.1 264.9 257.5 264.4 258 263.9 258.3 263.3 258.7 262.4 259.2 261.9 259.4 260.9 259.7 260.4 259.7ZM216.4 284.3 215.4 284.2 214.9 283.8 214.6 283.2 214.4 282.2 214.7 281.2 215.4 280.7 216.4 281 216.9 281.6 217.2 282.2 217.2 283.2 216.9 283.9 216.4 284.3ZM218.4 255.3 217.4 255.4 216.4 255.4 215.4 255.2 214.9 255.1 213.9 254.8 213.4 254.6 212.7 254.2 212 253.7 211.5 253.2 211 252.7 210.6 252.2 210.2 251.7 209.9 251.2 209.4 250.4 209 249.7 208.8 249.2 208.5 248.2 208.4 247.7 208.2 246.7 208.2 245.7 208.3 244.7 208.4 244 208.6 243.2 208.9 242.4 209.3 241.7 209.5 241.2 209.9 240.7 210.4 240 210.9 239.5 211.4 239.1 211.9 238.7 212.8 238.2 213.4 237.9 214.2 237.7 214.9 237.5 215.9 237.4 216.9 237.3 217.9 237.3 218.9 237.3 219.9 237.6 220.4 237.7 221.4 238.2 221.9 238.5 222.4 238.8 222.9 239.2 223.6 239.7 224.1 240.2 224.6 240.7 225.1 241.2 225.5 241.7 225.9 242.3 226.4 243.1 226.7 243.7 226.9 244.2 227.2 245.2 227.4 246.1 227.5 246.7 227.7 247.7 227.7 248.7 227.6 249.7 227.4 250.2 226.9 250.8 226.4 251.2 225.8 251.7 224.9 252.2 224.4 252.5 223.9 252.8 223.1 253.2 222.4 253.6 221.9 253.9 221.3 254.2 220.4 254.7 219.9 254.9 218.9 255.2 218.4 255.3ZM261.4 257.8 260.4 258 259.4 257.9 258.9 257.7 257.9 257.2 257.4 256.8 256.9 256.4 256.4 255.7 256.1 255.2 255.8 254.7 255.4 253.7 255.3 253.2 255.1 252.2 255 251.2 255.1 250.2 255.2 249.2 255.4 248.4 255.5 247.7 255.8 246.7 255.9 246.2 256.2 245.2 256.4 244.6 256.7 243.7 257 243.2 257.4 242.4 257.9 241.7 258.3 241.2 258.7 240.7 259.3 240.2 259.9 239.7 260.4 239.4 260.9 239.1 261.9 238.8 262.4 238.6 263.4 238.6 264.2 238.7 264.9 239 265.4 239.3 265.9 239.8 266.4 240.5 266.8 241.2 267 241.7 267.3 242.7 267.4 243.4 267.5 244.2 267.7 245.2 267.8 246.2 267.8 247.2 267.8 248.2 267.7 249.2 267.5 250.2 267.4 250.8 267.2 251.7 266.9 252.5 266.6 253.2 266.4 253.7 265.9 254.5 265.4 255.2 265 255.7 264.4 256.2 263.9 256.6 263.4 257 262.9 257.3 261.9 257.7 261.4 257.8ZM218.9 253.3 217.9 253.5 216.9 253.6 215.9 253.5 214.9 253.3 214.4 253.1 213.5 252.7 212.9 252.3 212.4 251.8 211.9 251.3 211.4 250.7 211.1 250.2 210.8 249.7 210.4 248.9 210.1 248.2 209.9 247.3 209.8 246.7 209.8 245.7 209.9 244.7 210 244.2 210.3 243.2 210.5 242.7 210.9 242 211.4 241.3 211.9 240.8 212.4 240.4 212.9 240 213.4 239.7 214.4 239.3 214.9 239.1 215.9 238.9 216.9 238.8 217.9 238.8 218.9 238.9 219.9 239.2 220.4 239.3 221.1 239.7 221.8 240.2 222.4 240.7 222.9 241.1 223.4 241.7 223.7 242.2 224 242.7 224.4 243.5 224.6 244.2 224.8 245.2 224.9 246.2 224.9 247.2 224.7 248.2 224.4 249.1 224.1 249.7 223.8 250.2 223.3 250.7 222.7 251.2 222 251.7 221.4 252.1 220.9 252.4 220.3 252.7 219.4 253.1 218.9 253.3ZM261.4 256.3 260.4 256.4 259.4 256.2 258.9 256 258.4 255.7 257.8 255.2 257.3 254.7 256.9 254 256.5 253.2 256.4 252.7 256.2 251.7 256.1 250.7 256.2 249.7 256.3 248.7 256.4 248.2 256.6 247.2 256.9 246.3 257.1 245.7 257.4 244.9 257.7 244.2 258 243.7 258.4 243 258.9 242.4 259.4 241.8 259.9 241.4 260.4 241.1 261.1 240.7 261.9 240.4 262.9 240.3 263.9 240.6 264.4 240.8 264.9 241.2 265.4 241.9 265.8 242.7 266 243.2 266.3 244.2 266.4 244.7 266.6 245.7 266.7 246.7 266.7 247.7 266.7 248.7 266.6 249.7 266.4 250.5 266.2 251.2 265.9 252.1 265.6 252.7 265.4 253.2 264.9 253.9 264.4 254.5 263.9 255 263.4 255.4 262.9 255.7 261.9 256.1 261.4 256.3ZM217.9 251.8 216.9 251.9 215.9 251.8 215.4 251.7 214.4 251.3 213.9 251 213.4 250.6 212.9 250.1 212.4 249.4 212 248.7 211.8 248.2 211.5 247.2 211.4 246.7 211.4 245.7 211.4 245.2 211.6 244.2 211.9 243.6 212.4 242.7 212.8 242.2 213.3 241.7 213.9 241.3 214.4 241 215.1 240.7 215.9 240.5 216.9 240.3 217.9 240.3 218.9 240.4 219.7 240.7 220.4 241 220.9 241.3 221.4 241.8 221.9 242.3 222.4 243 222.7 243.7 222.9 244.2 223.1 245.2 223.1 246.2 222.9 247.2 222.8 247.7 222.4 248.6 222 249.2 221.6 249.7 221.1 250.2 220.4 250.7 219.9 251 219.4 251.3 218.4 251.7 217.9 251.8ZM261.4 254.8 260.4 254.9 259.7 254.7 258.9 254.3 258.4 253.8 257.9 253.2 257.7 252.7 257.4 251.9 257.3 251.2 257.2 250.2 257.2 249.2 257.4 248.2 257.5 247.7 257.8 246.7 257.9 246.2 258.4 245.2 258.6 244.7 258.9 244.2 259.4 243.6 259.9 243.1 260.4 242.7 261.4 242.2 261.9 242.1 262.9 242.1 263.4 242.3 264 242.7 264.5 243.2 264.9 243.9 265.2 244.7 265.4 245.4 265.6 246.2 265.7 247.2 265.7 248.2 265.6 249.2 265.4 250.2 265.3 250.7 264.9 251.7 264.7 252.2 264.3 252.7 263.9 253.3 263.4 253.8 262.9 254.2 261.9 254.7 261.4 254.8ZM216.9 250.2 216.4 250.2 215.4 249.9 214.9 249.7 214.3 249.2 213.9 248.7 213.4 247.9 213.1 247.2 213 246.2 213.1 245.2 213.4 244.3 213.7 243.7 214.2 243.2 214.7 242.7 215.4 242.3 215.9 242.1 216.9 241.9 217.9 241.9 218.9 242.1 219.4 242.3 220 242.7 220.5 243.2 220.9 243.7 221.3 244.7 221.4 245.5 221.4 245.9 221.3 246.7 220.9 247.7 220.6 248.2 220.2 248.7 219.7 249.2 218.9 249.7 218.4 249.9 217.4 250.2 216.9 250.2ZM261.9 253.2 260.9 253.4 259.9 253.2 259.4 252.8 258.9 252.3 258.6 251.7 258.4 251.1 258.3 250.2 258.2 249.2 258.4 248.2 258.5 247.7 258.8 246.7 259 246.2 259.4 245.5 259.9 244.9 260.4 244.4 260.9 244 261.9 243.7 262.9 243.9 263.4 244.3 263.9 245 264.2 245.7 264.4 246.2 264.6 247.2 264.6 248.2 264.6 249.2 264.4 249.9 264.2 250.7 263.9 251.2 263.4 252 262.9 252.6 262.4 253 261.9 253.2ZM217.4 248.8 216.4 248.8 215.9 248.6 215.3 248.2 214.9 247.7 214.5 246.7 214.5 245.7 214.9 244.7 215.3 244.2 215.9 243.7 216.4 243.5 217.4 243.4 218.4 243.6 218.9 243.9 219.4 244.4 219.8 245.2 219.9 246.2 219.6 247.2 219.2 247.7 218.7 248.2 217.9 248.7 217.4 248.8ZM261.9 251.9 260.9 252.1 260.1 251.7 259.6 251.2 259.4 250.7 259.2 249.7 259.2 248.7 259.4 247.8 259.6 247.2 259.9 246.6 260.4 245.9 260.9 245.5 261.8 245.2 262 245.2 262.9 245.7 263.3 246.2 263.5 246.7 263.7 247.7 263.7 248.7 263.5 249.7 263.3 250.2 262.9 251 262.4 251.5 261.9 251.9Z" fill="none" stroke="#262626" stroke-width="0.6"/>
<ellipse cx="217.5" cy="246" rx="2.6" ry="2.6" fill="#fff" fill-opacity="0.7" transform="rotate(0 217.5 246)"/>
<ellipse cx="261.5" cy="250" rx="1.3" ry="3.5" fill="#fff" fill-opacity="0.6" transform="rotate(12 261.5 250)"/>
</g>
<rect x="244.6" y="214.6" width="54.2" height="58" fill="none" stroke="#000" stroke-width="1.5"/>
<text x="282.2" y="228.7" font-size="11" font-weight="bold">24</text>
<text x="42.4" y="339" font-size="11" font-weight="bold">CD8</text>
<text x="24" y="148.4" font-size="14" font-weight="bold" transform="rotate(-90 24 148.4)">H-2</text>
<text x="20.1" y="126.3" font-size="8.6" font-weight="bold" transform="rotate(-90 20.1 126.3)">b</text>
<text x="25" y="300.5" font-size="14" font-weight="bold" transform="rotate(-90 25 300.5)">H-2</text>
<text x="21.1" y="278.4" font-size="8.6" font-weight="bold" transform="rotate(-90 21.1 278.4)">b</text>
<line x1="353.5" y1="38.4" x2="515.7" y2="38.4" stroke="#111" stroke-width="1.2"/>
<line x1="515.2" y1="38.4" x2="515.2" y2="147.6" stroke="#111" stroke-width="1.0"/>
<line x1="354.3" y1="38.4" x2="354.3" y2="147.6" stroke="#5c5c5c" stroke-width="2.0"/>
<line x1="353.5" y1="147.6" x2="515.2" y2="147.6" stroke="#111" stroke-width="1.2"/>
<line x1="349.5" y1="147.6" x2="352.3" y2="147.6" stroke="#888" stroke-width="0.7"/>
<text x="345.8" y="149.5" font-size="6" font-weight="bold" text-anchor="end" fill="#222">0</text>
<line x1="349.5" y1="126.8" x2="352.3" y2="126.8" stroke="#888" stroke-width="0.7"/>
<text x="345.8" y="128.7" font-size="6" font-weight="bold" text-anchor="end" fill="#222">20</text>
<line x1="349.5" y1="106" x2="352.3" y2="106" stroke="#888" stroke-width="0.7"/>
<text x="345.8" y="107.9" font-size="6" font-weight="bold" text-anchor="end" fill="#222">40</text>
<line x1="349.5" y1="85.2" x2="352.3" y2="85.2" stroke="#888" stroke-width="0.7"/>
<text x="345.8" y="87.1" font-size="6" font-weight="bold" text-anchor="end" fill="#222">60</text>
<line x1="349.5" y1="64.4" x2="352.3" y2="64.4" stroke="#888" stroke-width="0.7"/>
<text x="345.8" y="66.3" font-size="6" font-weight="bold" text-anchor="end" fill="#222">80</text>
<line x1="349.5" y1="43.6" x2="352.3" y2="43.6" stroke="#888" stroke-width="0.7"/>
<text x="345.8" y="45.5" font-size="6" font-weight="bold" text-anchor="end" fill="#222">100</text>
<line x1="354" y1="147.6" x2="354" y2="149.8" stroke="#222" stroke-width="0.8"/>
<text x="348.3" y="157.2" font-size="5.2" font-weight="bold" fill="#222">10</text>
<text x="356.3" y="154.1" font-size="4.2" fill="#222">0</text>
<line x1="366.2" y1="147.6" x2="366.2" y2="148.9" stroke="#222" stroke-width="0.5"/>
<line x1="373.3" y1="147.6" x2="373.3" y2="148.9" stroke="#222" stroke-width="0.5"/>
<line x1="378.3" y1="147.6" x2="378.3" y2="148.9" stroke="#222" stroke-width="0.5"/>
<line x1="382.3" y1="147.6" x2="382.3" y2="148.9" stroke="#222" stroke-width="0.5"/>
<line x1="385.5" y1="147.6" x2="385.5" y2="148.9" stroke="#222" stroke-width="0.5"/>
<line x1="388.2" y1="147.6" x2="388.2" y2="148.9" stroke="#222" stroke-width="0.5"/>
<line x1="390.5" y1="147.6" x2="390.5" y2="148.9" stroke="#222" stroke-width="0.5"/>
<line x1="392.6" y1="147.6" x2="392.6" y2="148.9" stroke="#222" stroke-width="0.5"/>
<line x1="394.4" y1="147.6" x2="394.4" y2="149.8" stroke="#222" stroke-width="0.8"/>
<text x="388.7" y="157.2" font-size="5.2" font-weight="bold" fill="#222">10</text>
<text x="396.7" y="154.1" font-size="4.2" fill="#222">1</text>
<line x1="406.6" y1="147.6" x2="406.6" y2="148.9" stroke="#222" stroke-width="0.5"/>
<line x1="413.7" y1="147.6" x2="413.7" y2="148.9" stroke="#222" stroke-width="0.5"/>
<line x1="418.8" y1="147.6" x2="418.8" y2="148.9" stroke="#222" stroke-width="0.5"/>
<line x1="422.7" y1="147.6" x2="422.7" y2="148.9" stroke="#222" stroke-width="0.5"/>
<line x1="425.9" y1="147.6" x2="425.9" y2="148.9" stroke="#222" stroke-width="0.5"/>
<line x1="428.6" y1="147.6" x2="428.6" y2="148.9" stroke="#222" stroke-width="0.5"/>
<line x1="430.9" y1="147.6" x2="430.9" y2="148.9" stroke="#222" stroke-width="0.5"/>
<line x1="433" y1="147.6" x2="433" y2="148.9" stroke="#222" stroke-width="0.5"/>
<line x1="434.9" y1="147.6" x2="434.9" y2="149.8" stroke="#222" stroke-width="0.8"/>
<text x="429.2" y="157.2" font-size="5.2" font-weight="bold" fill="#222">10</text>
<text x="437.2" y="154.1" font-size="4.2" fill="#222">2</text>
<line x1="447" y1="147.6" x2="447" y2="148.9" stroke="#222" stroke-width="0.5"/>
<line x1="454.1" y1="147.6" x2="454.1" y2="148.9" stroke="#222" stroke-width="0.5"/>
<line x1="459.2" y1="147.6" x2="459.2" y2="148.9" stroke="#222" stroke-width="0.5"/>
<line x1="463.1" y1="147.6" x2="463.1" y2="148.9" stroke="#222" stroke-width="0.5"/>
<line x1="466.3" y1="147.6" x2="466.3" y2="148.9" stroke="#222" stroke-width="0.5"/>
<line x1="469" y1="147.6" x2="469" y2="148.9" stroke="#222" stroke-width="0.5"/>
<line x1="471.4" y1="147.6" x2="471.4" y2="148.9" stroke="#222" stroke-width="0.5"/>
<line x1="473.4" y1="147.6" x2="473.4" y2="148.9" stroke="#222" stroke-width="0.5"/>
<line x1="475.3" y1="147.6" x2="475.3" y2="149.8" stroke="#222" stroke-width="0.8"/>
<text x="469.6" y="157.2" font-size="5.2" font-weight="bold" fill="#222">10</text>
<text x="477.6" y="154.1" font-size="4.2" fill="#222">3</text>
<line x1="487.4" y1="147.6" x2="487.4" y2="148.9" stroke="#222" stroke-width="0.5"/>
<line x1="494.6" y1="147.6" x2="494.6" y2="148.9" stroke="#222" stroke-width="0.5"/>
<line x1="499.6" y1="147.6" x2="499.6" y2="148.9" stroke="#222" stroke-width="0.5"/>
<line x1="503.5" y1="147.6" x2="503.5" y2="148.9" stroke="#222" stroke-width="0.5"/>
<line x1="506.7" y1="147.6" x2="506.7" y2="148.9" stroke="#222" stroke-width="0.5"/>
<line x1="509.4" y1="147.6" x2="509.4" y2="148.9" stroke="#222" stroke-width="0.5"/>
<line x1="511.8" y1="147.6" x2="511.8" y2="148.9" stroke="#222" stroke-width="0.5"/>
<line x1="513.9" y1="147.6" x2="513.9" y2="148.9" stroke="#222" stroke-width="0.5"/>
<line x1="515.7" y1="147.6" x2="515.7" y2="149.8" stroke="#222" stroke-width="0.8"/>
<text x="510" y="157.2" font-size="5.2" font-weight="bold" fill="#222">10</text>
<text x="518" y="154.1" font-size="4.2" fill="#222">4</text>
<path d="M356 133.5 L358.5 131 L361 127.6 L363.5 125 L366 122.7 L368 117.5 L370 111.7 L372 105.8 L374 99.8 L375.5 93.8 L377 87.8 L378.5 80 L380 71.9 L381.5 65 L383 58 L384 52 L385 46 L386.3 44 L387.5 44.5 L388 50 L388.6 53 L389.2 47.5 L390 52 L390.8 60 L392.8 62 L394.8 75.9 L396.3 84 L397.8 91.8 L399.3 103.7 L400.8 115.7 L401.5 120.4 L403.3 126.5 L405.4 131.3 L407.7 134.2 L410 134 L404 129.5 L434.8 144.6 L445 145.8 L468 145.8 L470 145 L474 143.3 L479 140.5 L484 143.5 L490.5 145.8 L514 146.3 L514 147.2 L356 147.2 Z" fill="#c6c6c6"/>
<path d="M404 129.5 L434.8 144.6" fill="none" stroke="#bdbdbd" stroke-width="1.0" stroke-linejoin="round"/>
<path d="M434.8 144.6 L445 145.6 L460 145.6 L466 145 L469 143 L472 138 L475 133 L477.5 129.5 L479.3 128.5 L481 130.5 L482.5 134 L484 133.5 L485.4 133.3 L487 136 L489 140.5 L492.3 145.3 L496 146 L514 146.2" fill="none" stroke="#bababa" stroke-width="1.8" stroke-linejoin="round"/>
<path d="M356 133.5 L358.5 131 L361 127.6 L363.5 125 L366 122.7 L368 117.5 L370 111.7 L372 105.8 L374 99.8 L375.5 93.8 L377 87.8 L378.5 80 L380 71.9 L381.5 65 L383 58 L384 52 L385 46 L386.3 44 L387.5 44.5 L388 50 L388.6 53 L389.2 47.5 L390 52 L390.8 60 L392.8 62 L394.8 75.9 L396.3 84 L397.8 91.8 L399.3 103.7 L400.8 115.7 L401.5 120.4 L403.3 126.5 L405.4 131.3 L407.7 134.2 L410 134 L413.5 130.5 L415.5 132.5 L416.9 133.6 L419.2 132.5 L421.5 134.2 L423.8 132.5 L426.1 136.5 L429.6 140.2 L433 142.5 L434.8 144 L438 145.3 L445 145.6 L455 145.8 L464 145.6 L468 145 L472 143.5 L475 142 L477.5 140.5 L479 140 L481 141.3 L484 143.2 L487 144.3 L490.5 145.5 L500 146 L514 146.2" fill="none" stroke="#000" stroke-width="1.5" stroke-linejoin="round"/>
<path d="M356 133.5 L358.5 131 L361 127.6 L363.5 125 L366 122.7 L368 117.5 L370 111.7 L372 105.8 L374 99.8 L375.5 93.8 L377 87.8 L378.5 80 L380 71.9 L381.5 65 L383 58 L384 52 L385 46 L386.3 44" fill="none" stroke="#c4c4c4" stroke-width="1.7" stroke-linejoin="round" stroke-dasharray="1.6 3.6"/>
<rect x="455.3" y="49.2" width="7.8" height="7.8" fill="#c0c0c0" stroke="#111" stroke-width="1.6"/>
<rect x="455.3" y="66" width="7.8" height="7.8" fill="#fff" stroke="#c8c8c8" stroke-width="1.3"/>
<text x="472" y="57.3" font-size="11" font-weight="bold">WT</text>
<text x="471.4" y="74.2" font-size="11" font-weight="bold">CD18</text>
<text x="502.6" y="71.4" font-size="7.2" fill="#222">-/-</text>
<line x1="332.2" y1="46.2" x2="332.2" y2="163.4" stroke="#000" stroke-width="1.8"/>
<line x1="331.3" y1="162.5" x2="507.3" y2="162.5" stroke="#000" stroke-width="1.8"/>
<path d="M332.2 38.2 L326.6 49.2 L337.8 49.2" fill="#000" stroke="none"/>
<path d="M516.3 162.5 L505.3 157.1 L505.3 167.9" fill="#000" stroke="none"/>
<text x="332.8" y="155.2" font-size="11.3" font-weight="bold" transform="rotate(-90 332.8 155.2)">Cell number</text>
<text x="355" y="179.2" font-size="11" font-weight="bold">CFSE</text>
<line x1="353.5" y1="192.2" x2="515.7" y2="192.2" stroke="#111" stroke-width="1.2"/>
<line x1="515.2" y1="192.2" x2="515.2" y2="303.6" stroke="#111" stroke-width="1.0"/>
<line x1="354.3" y1="192.2" x2="354.3" y2="303.6" stroke="#5c5c5c" stroke-width="2.0"/>
<line x1="353.5" y1="303.6" x2="515.2" y2="303.6" stroke="#111" stroke-width="1.2"/>
<line x1="349.5" y1="303.6" x2="352.3" y2="303.6" stroke="#888" stroke-width="0.7"/>
<text x="345.8" y="305.5" font-size="6" font-weight="bold" text-anchor="end" fill="#222">0</text>
<line x1="349.5" y1="282.4" x2="352.3" y2="282.4" stroke="#888" stroke-width="0.7"/>
<text x="345.8" y="284.3" font-size="6" font-weight="bold" text-anchor="end" fill="#222">20</text>
<line x1="349.5" y1="261.1" x2="352.3" y2="261.1" stroke="#888" stroke-width="0.7"/>
<text x="345.8" y="263" font-size="6" font-weight="bold" text-anchor="end" fill="#222">40</text>
<line x1="349.5" y1="239.9" x2="352.3" y2="239.9" stroke="#888" stroke-width="0.7"/>
<text x="345.8" y="241.8" font-size="6" font-weight="bold" text-anchor="end" fill="#222">60</text>
<line x1="349.5" y1="218.6" x2="352.3" y2="218.6" stroke="#888" stroke-width="0.7"/>
<text x="345.8" y="220.5" font-size="6" font-weight="bold" text-anchor="end" fill="#222">80</text>
<line x1="349.5" y1="197.4" x2="352.3" y2="197.4" stroke="#888" stroke-width="0.7"/>
<text x="345.8" y="199.3" font-size="6" font-weight="bold" text-anchor="end" fill="#222">100</text>
<line x1="354" y1="303.6" x2="354" y2="305.8" stroke="#222" stroke-width="0.8"/>
<text x="348.3" y="313.2" font-size="5.2" font-weight="bold" fill="#222">10</text>
<text x="356.3" y="310.1" font-size="4.2" fill="#222">0</text>
<line x1="366.2" y1="303.6" x2="366.2" y2="304.9" stroke="#222" stroke-width="0.5"/>
<line x1="373.3" y1="303.6" x2="373.3" y2="304.9" stroke="#222" stroke-width="0.5"/>
<line x1="378.3" y1="303.6" x2="378.3" y2="304.9" stroke="#222" stroke-width="0.5"/>
<line x1="382.3" y1="303.6" x2="382.3" y2="304.9" stroke="#222" stroke-width="0.5"/>
<line x1="385.5" y1="303.6" x2="385.5" y2="304.9" stroke="#222" stroke-width="0.5"/>
<line x1="388.2" y1="303.6" x2="388.2" y2="304.9" stroke="#222" stroke-width="0.5"/>
<line x1="390.5" y1="303.6" x2="390.5" y2="304.9" stroke="#222" stroke-width="0.5"/>
<line x1="392.6" y1="303.6" x2="392.6" y2="304.9" stroke="#222" stroke-width="0.5"/>
<line x1="394.4" y1="303.6" x2="394.4" y2="305.8" stroke="#222" stroke-width="0.8"/>
<text x="388.7" y="313.2" font-size="5.2" font-weight="bold" fill="#222">10</text>
<text x="396.7" y="310.1" font-size="4.2" fill="#222">1</text>
<line x1="406.6" y1="303.6" x2="406.6" y2="304.9" stroke="#222" stroke-width="0.5"/>
<line x1="413.7" y1="303.6" x2="413.7" y2="304.9" stroke="#222" stroke-width="0.5"/>
<line x1="418.8" y1="303.6" x2="418.8" y2="304.9" stroke="#222" stroke-width="0.5"/>
<line x1="422.7" y1="303.6" x2="422.7" y2="304.9" stroke="#222" stroke-width="0.5"/>
<line x1="425.9" y1="303.6" x2="425.9" y2="304.9" stroke="#222" stroke-width="0.5"/>
<line x1="428.6" y1="303.6" x2="428.6" y2="304.9" stroke="#222" stroke-width="0.5"/>
<line x1="430.9" y1="303.6" x2="430.9" y2="304.9" stroke="#222" stroke-width="0.5"/>
<line x1="433" y1="303.6" x2="433" y2="304.9" stroke="#222" stroke-width="0.5"/>
<line x1="434.9" y1="303.6" x2="434.9" y2="305.8" stroke="#222" stroke-width="0.8"/>
<text x="429.2" y="313.2" font-size="5.2" font-weight="bold" fill="#222">10</text>
<text x="437.2" y="310.1" font-size="4.2" fill="#222">2</text>
<line x1="447" y1="303.6" x2="447" y2="304.9" stroke="#222" stroke-width="0.5"/>
<line x1="454.1" y1="303.6" x2="454.1" y2="304.9" stroke="#222" stroke-width="0.5"/>
<line x1="459.2" y1="303.6" x2="459.2" y2="304.9" stroke="#222" stroke-width="0.5"/>
<line x1="463.1" y1="303.6" x2="463.1" y2="304.9" stroke="#222" stroke-width="0.5"/>
<line x1="466.3" y1="303.6" x2="466.3" y2="304.9" stroke="#222" stroke-width="0.5"/>
<line x1="469" y1="303.6" x2="469" y2="304.9" stroke="#222" stroke-width="0.5"/>
<line x1="471.4" y1="303.6" x2="471.4" y2="304.9" stroke="#222" stroke-width="0.5"/>
<line x1="473.4" y1="303.6" x2="473.4" y2="304.9" stroke="#222" stroke-width="0.5"/>
<line x1="475.3" y1="303.6" x2="475.3" y2="305.8" stroke="#222" stroke-width="0.8"/>
<text x="469.6" y="313.2" font-size="5.2" font-weight="bold" fill="#222">10</text>
<text x="477.6" y="310.1" font-size="4.2" fill="#222">3</text>
<line x1="487.4" y1="303.6" x2="487.4" y2="304.9" stroke="#222" stroke-width="0.5"/>
<line x1="494.6" y1="303.6" x2="494.6" y2="304.9" stroke="#222" stroke-width="0.5"/>
<line x1="499.6" y1="303.6" x2="499.6" y2="304.9" stroke="#222" stroke-width="0.5"/>
<line x1="503.5" y1="303.6" x2="503.5" y2="304.9" stroke="#222" stroke-width="0.5"/>
<line x1="506.7" y1="303.6" x2="506.7" y2="304.9" stroke="#222" stroke-width="0.5"/>
<line x1="509.4" y1="303.6" x2="509.4" y2="304.9" stroke="#222" stroke-width="0.5"/>
<line x1="511.8" y1="303.6" x2="511.8" y2="304.9" stroke="#222" stroke-width="0.5"/>
<line x1="513.9" y1="303.6" x2="513.9" y2="304.9" stroke="#222" stroke-width="0.5"/>
<line x1="515.7" y1="303.6" x2="515.7" y2="305.8" stroke="#222" stroke-width="0.8"/>
<text x="510" y="313.2" font-size="5.2" font-weight="bold" fill="#222">10</text>
<text x="518" y="310.1" font-size="4.2" fill="#222">4</text>
<path d="M355.1 295 L359.2 291.5 L363.3 285.5 L367.5 275 L371.6 262.5 L374.7 252 L377.8 241.8 L379.8 232 L381.2 222 L382.5 212 L383.8 204 L385 199.5 L386 197.8 L387.2 199.5 L388 202.5 L389 206 L390.5 210 L392 216 L393.5 224 L395 234 L396.5 245 L398 256 L399.5 266.5 L401 276 L402.5 284.5 L404 291 L405.6 295.5 L407.7 299.6 L412 300.8 L425 301 L440 301 L455 301 L470 300.5 L480 300.4 L514 302.2 L514 303.2 L355.1 303.2 Z" fill="#c6c6c6"/>
<path d="M412 300.8 L425 301 L440 301 L455 301 L470 300.5 L480 300.4 L484 299.5 L486.5 296 L488.8 292 L490.5 295 L492 299.5 L494 301.5 L500 302 L514 302.4" fill="none" stroke="#bababa" stroke-width="1.8" stroke-linejoin="round"/>
<path d="M355.1 294 L357 292.5 L359.2 291 L361.3 288 L363.3 284.8 L365.5 279.8 L367.5 274.5 L369.5 268.3 L371.6 262.1 L373.2 257 L374.7 251.8 L376.3 246.7 L377.8 241.5 L378.8 234 L379.8 227 L380.6 219.8 L381.3 212.6 L382.4 207 L383.2 213 L384.2 207 L385.5 201 L387 199.3 L388.3 199.8 L390 203.5 L391.5 209 L393 214.9 L394 220.5 L394.9 226.8 L395.9 235.7 L396.9 244.7 L397.9 252.6 L398.9 260.6 L399.9 267.5 L400.9 274.5 L401.9 280.5 L402.9 286.5 L404.3 291.5 L405.8 296.4 L407.3 298.8 L408.8 300.4 L412 300.8 L420 301.2 L430 301.4 L438 301 L442 300.3 L446 301 L455 301.2 L465 300.8 L475 300.6 L483 300.4 L487 299.6 L490 298.8 L492.5 298.2 L495 299.6 L498 301.5 L504 302.2 L514 302.4" fill="none" stroke="#000" stroke-width="1.5" stroke-linejoin="round"/>
<path d="M355.1 294 L357 292.5 L359.2 291 L361.3 288 L363.3 284.8 L365.5 279.8 L367.5 274.5 L369.5 268.3 L371.6 262.1 L373.2 257 L374.7 251.8 L376.3 246.7 L377.8 241.5 L378.8 234" fill="none" stroke="#c4c4c4" stroke-width="1.7" stroke-linejoin="round" stroke-dasharray="1.6 3.6"/>
<line x1="332.6" y1="204.5" x2="332.6" y2="321.7" stroke="#000" stroke-width="1.8"/>
<line x1="331.7" y1="320.8" x2="506.8" y2="320.8" stroke="#000" stroke-width="1.8"/>
<path d="M332.6 196.5 L327 207.5 L338.2 207.5" fill="#000" stroke="none"/>
<path d="M515.8 320.8 L504.8 315.4 L504.8 326.2" fill="#000" stroke="none"/>
<text x="332.9" y="294.6" font-size="11.3" font-weight="bold" transform="rotate(-90 332.9 294.6)">Cell number</text>
<text x="358" y="341.2" font-size="11" font-weight="bold">CFSE</text>
<text x="-0.2" y="367.5" font-size="17" font-weight="bold">B</text>
<text x="100.5" y="379.8" font-size="10">Day 4</text>
<line x1="28.2" y1="389.2" x2="185.8" y2="389.2" stroke="#999" stroke-width="1.0"/>
<line x1="185.8" y1="389.2" x2="185.8" y2="534.8" stroke="#999" stroke-width="1.0"/>
<line x1="28.2" y1="389.2" x2="28.2" y2="534.8" stroke="#888" stroke-width="1.0"/>
<line x1="28.2" y1="534.8" x2="185.8" y2="534.8" stroke="#555" stroke-width="1.0"/>
<line x1="25.7" y1="534.8" x2="28.2" y2="534.8" stroke="#777" stroke-width="0.7"/>
<text x="23.2" y="537" font-size="6.5" text-anchor="end" fill="#222">0</text>
<line x1="26.7" y1="516.6" x2="28.2" y2="516.6" stroke="#999" stroke-width="0.6"/>
<line x1="25.7" y1="498.4" x2="28.2" y2="498.4" stroke="#777" stroke-width="0.7"/>
<text x="23.2" y="500.6" font-size="6.5" text-anchor="end" fill="#222">1</text>
<line x1="26.7" y1="480.2" x2="28.2" y2="480.2" stroke="#999" stroke-width="0.6"/>
<line x1="25.7" y1="462" x2="28.2" y2="462" stroke="#777" stroke-width="0.7"/>
<text x="23.2" y="464.2" font-size="6.5" text-anchor="end" fill="#222">2</text>
<line x1="26.7" y1="443.8" x2="28.2" y2="443.8" stroke="#999" stroke-width="0.6"/>
<line x1="25.7" y1="425.6" x2="28.2" y2="425.6" stroke="#777" stroke-width="0.7"/>
<text x="23.2" y="427.8" font-size="6.5" text-anchor="end" fill="#222">3</text>
<line x1="26.7" y1="407.4" x2="28.2" y2="407.4" stroke="#999" stroke-width="0.6"/>
<line x1="25.7" y1="389.2" x2="28.2" y2="389.2" stroke="#777" stroke-width="0.7"/>
<text x="23.2" y="391.4" font-size="6.5" text-anchor="end" fill="#222">4</text>
<line x1="54" y1="406.7" x2="54" y2="444.9" stroke="#000" stroke-width="0.9"/>
<line x1="52" y1="406.7" x2="56" y2="406.7" stroke="#000" stroke-width="0.9"/>
<rect x="43.6" y="444.9" width="20.9" height="89.9" fill="#000" stroke="#000" stroke-width="0.9"/>
<line x1="75" y1="464.5" x2="75" y2="475.5" stroke="#000" stroke-width="0.9"/>
<line x1="73" y1="464.5" x2="77" y2="464.5" stroke="#000" stroke-width="0.9"/>
<rect x="64.5" y="475.5" width="21.1" height="59.3" fill="#cbcbcb" stroke="#000" stroke-width="0.9"/>
<line x1="138.6" y1="492.9" x2="138.6" y2="502.8" stroke="#000" stroke-width="0.9"/>
<line x1="136.6" y1="492.9" x2="140.6" y2="492.9" stroke="#000" stroke-width="0.9"/>
<rect x="128.2" y="502.8" width="20.7" height="32" fill="#000" stroke="#000" stroke-width="0.9"/>
<line x1="159.4" y1="512.2" x2="159.4" y2="515.1" stroke="#000" stroke-width="0.9"/>
<line x1="157.4" y1="512.2" x2="161.4" y2="512.2" stroke="#000" stroke-width="0.9"/>
<rect x="148.9" y="515.1" width="20.9" height="19.7" fill="#cbcbcb" stroke="#000" stroke-width="0.9"/>
<text x="65.2" y="417" font-size="9.2"><tspan font-weight="bold" font-style="italic">P</tspan> &gt; .05</text>
<text x="133.7" y="479" font-size="9.3"><tspan font-weight="bold" font-style="italic">P</tspan> &gt; .05</text>
<text x="58.6" y="550.9" font-size="9" font-weight="bold">CD4</text>
<text x="143" y="550.9" font-size="9" font-weight="bold">CD8</text>
<text x="15.7" y="475.9" font-size="10.7" font-weight="bold" transform="rotate(-90 15.7 475.9)">10<tspan font-size="6.8" dy="-3">6</tspan><tspan dy="3">/spleen</tspan></text>
<text x="213.4" y="367" font-size="17.5" font-weight="bold">C</text>
<text x="306.9" y="381.3" font-size="10.4">Day 19</text>
<line x1="239.7" y1="389.8" x2="399.3" y2="389.8" stroke="#999" stroke-width="1.0"/>
<line x1="399.3" y1="389.8" x2="399.3" y2="534.2" stroke="#999" stroke-width="1.0"/>
<line x1="239.7" y1="389.8" x2="239.7" y2="534.2" stroke="#888" stroke-width="1.0"/>
<line x1="239.7" y1="534.2" x2="399.3" y2="534.2" stroke="#555" stroke-width="1.0"/>
<line x1="237.2" y1="534.2" x2="239.7" y2="534.2" stroke="#777" stroke-width="0.7"/>
<text x="236.2" y="536.2" font-size="6" text-anchor="end" fill="#222">0</text>
<line x1="238.2" y1="519.8" x2="239.7" y2="519.8" stroke="#999" stroke-width="0.6"/>
<line x1="237.2" y1="505.3" x2="239.7" y2="505.3" stroke="#777" stroke-width="0.7"/>
<text x="236.2" y="507.3" font-size="6" text-anchor="end" fill="#222">0.4</text>
<line x1="238.2" y1="490.9" x2="239.7" y2="490.9" stroke="#999" stroke-width="0.6"/>
<line x1="237.2" y1="476.4" x2="239.7" y2="476.4" stroke="#777" stroke-width="0.7"/>
<text x="236.2" y="478.4" font-size="6" text-anchor="end" fill="#222">0.8</text>
<line x1="238.2" y1="462" x2="239.7" y2="462" stroke="#999" stroke-width="0.6"/>
<line x1="237.2" y1="447.6" x2="239.7" y2="447.6" stroke="#777" stroke-width="0.7"/>
<text x="236.2" y="449.6" font-size="6" text-anchor="end" fill="#222">1.2</text>
<line x1="238.2" y1="433.1" x2="239.7" y2="433.1" stroke="#999" stroke-width="0.6"/>
<line x1="237.2" y1="418.7" x2="239.7" y2="418.7" stroke="#777" stroke-width="0.7"/>
<text x="236.2" y="420.7" font-size="6" text-anchor="end" fill="#222">1.6</text>
<line x1="238.2" y1="404.2" x2="239.7" y2="404.2" stroke="#999" stroke-width="0.6"/>
<line x1="237.2" y1="389.8" x2="239.7" y2="389.8" stroke="#777" stroke-width="0.7"/>
<text x="236.2" y="391.8" font-size="6" text-anchor="end" fill="#222">2</text>
<line x1="262.5" y1="494.5" x2="262.5" y2="504.6" stroke="#000" stroke-width="0.9"/>
<line x1="260.5" y1="494.5" x2="264.5" y2="494.5" stroke="#000" stroke-width="0.9"/>
<rect x="252.7" y="504.6" width="19.6" height="29.6" fill="#fff" stroke="#000" stroke-width="0.9"/>
<line x1="281.6" y1="509.7" x2="281.6" y2="516.2" stroke="#000" stroke-width="0.9"/>
<line x1="279.6" y1="509.7" x2="283.6" y2="509.7" stroke="#000" stroke-width="0.9"/>
<rect x="272.3" y="516.2" width="18.5" height="18" fill="#3a3a3a" stroke="#000" stroke-width="0.9"/>
<line x1="300.3" y1="397.7" x2="300.3" y2="428.8" stroke="#000" stroke-width="0.9"/>
<line x1="298.3" y1="397.7" x2="302.3" y2="397.7" stroke="#000" stroke-width="0.9"/>
<rect x="290.8" y="428.8" width="19" height="105.4" fill="#cbcbcb" stroke="#000" stroke-width="0.9"/>
<line x1="337.3" y1="506" x2="337.3" y2="511.8" stroke="#000" stroke-width="0.9"/>
<line x1="335.3" y1="506" x2="339.3" y2="506" stroke="#000" stroke-width="0.9"/>
<rect x="327.7" y="511.8" width="19.2" height="22.4" fill="#fff" stroke="#000" stroke-width="0.9"/>
<line x1="356.4" y1="504.6" x2="356.4" y2="508.9" stroke="#000" stroke-width="0.9"/>
<line x1="354.4" y1="504.6" x2="358.4" y2="504.6" stroke="#000" stroke-width="0.9"/>
<rect x="346.9" y="508.9" width="18.9" height="25.3" fill="#3a3a3a" stroke="#000" stroke-width="0.9"/>
<line x1="375.3" y1="417.2" x2="375.3" y2="433.8" stroke="#000" stroke-width="0.9"/>
<line x1="373.3" y1="417.2" x2="377.3" y2="417.2" stroke="#000" stroke-width="0.9"/>
<rect x="365.8" y="433.8" width="19" height="100.4" fill="#cbcbcb" stroke="#000" stroke-width="0.9"/>
<path d="M278.3 412.8 L278.3 406.2 L299.6 406.2 L299.6 412.8" fill="none" stroke="#000" stroke-width="1.5"/>
<path d="M352.5 412.6 L352.5 406.2 L373.2 406.2 L373.2 412.6" fill="none" stroke="#000" stroke-width="1.5"/>
<text x="250.3" y="425.8" font-size="9.5"><tspan font-weight="bold" font-style="italic">P</tspan> &gt; .001</text>
<text x="328.7" y="425.9" font-size="9.5"><tspan font-weight="bold" font-style="italic">P</tspan> &gt; .001</text>
<text x="275.2" y="551.3" font-size="9" font-weight="bold">CD4</text>
<text x="357.5" y="551.3" font-size="9" font-weight="bold">CD8</text>
<text x="221.4" y="478.1" font-size="10.5" font-weight="bold" transform="rotate(-90 221.4 478.1)">10<tspan font-size="6.8" dy="-3">6</tspan><tspan dy="3">/spleen</tspan></text>
<rect x="418.6" y="428.7" width="9.6" height="9.6" fill="#fff" stroke="#444" stroke-width="1.0"/>
<rect x="418.6" y="444" width="9.6" height="9.6" fill="#3a3a3a" stroke="#111" stroke-width="1.0"/>
<rect x="418.6" y="461.4" width="9.6" height="9.6" fill="#cbcbcb" stroke="#444" stroke-width="1.0"/>
<text x="436" y="436.2" font-size="7.5">BM</text>
<text x="436" y="451.4" font-size="7.5">WT</text>
<text x="436.2" y="471.5" font-size="7.5">CD18</text>
<text x="454.4" y="467.6" font-size="5">-/-</text>
</svg>
</body></html>
